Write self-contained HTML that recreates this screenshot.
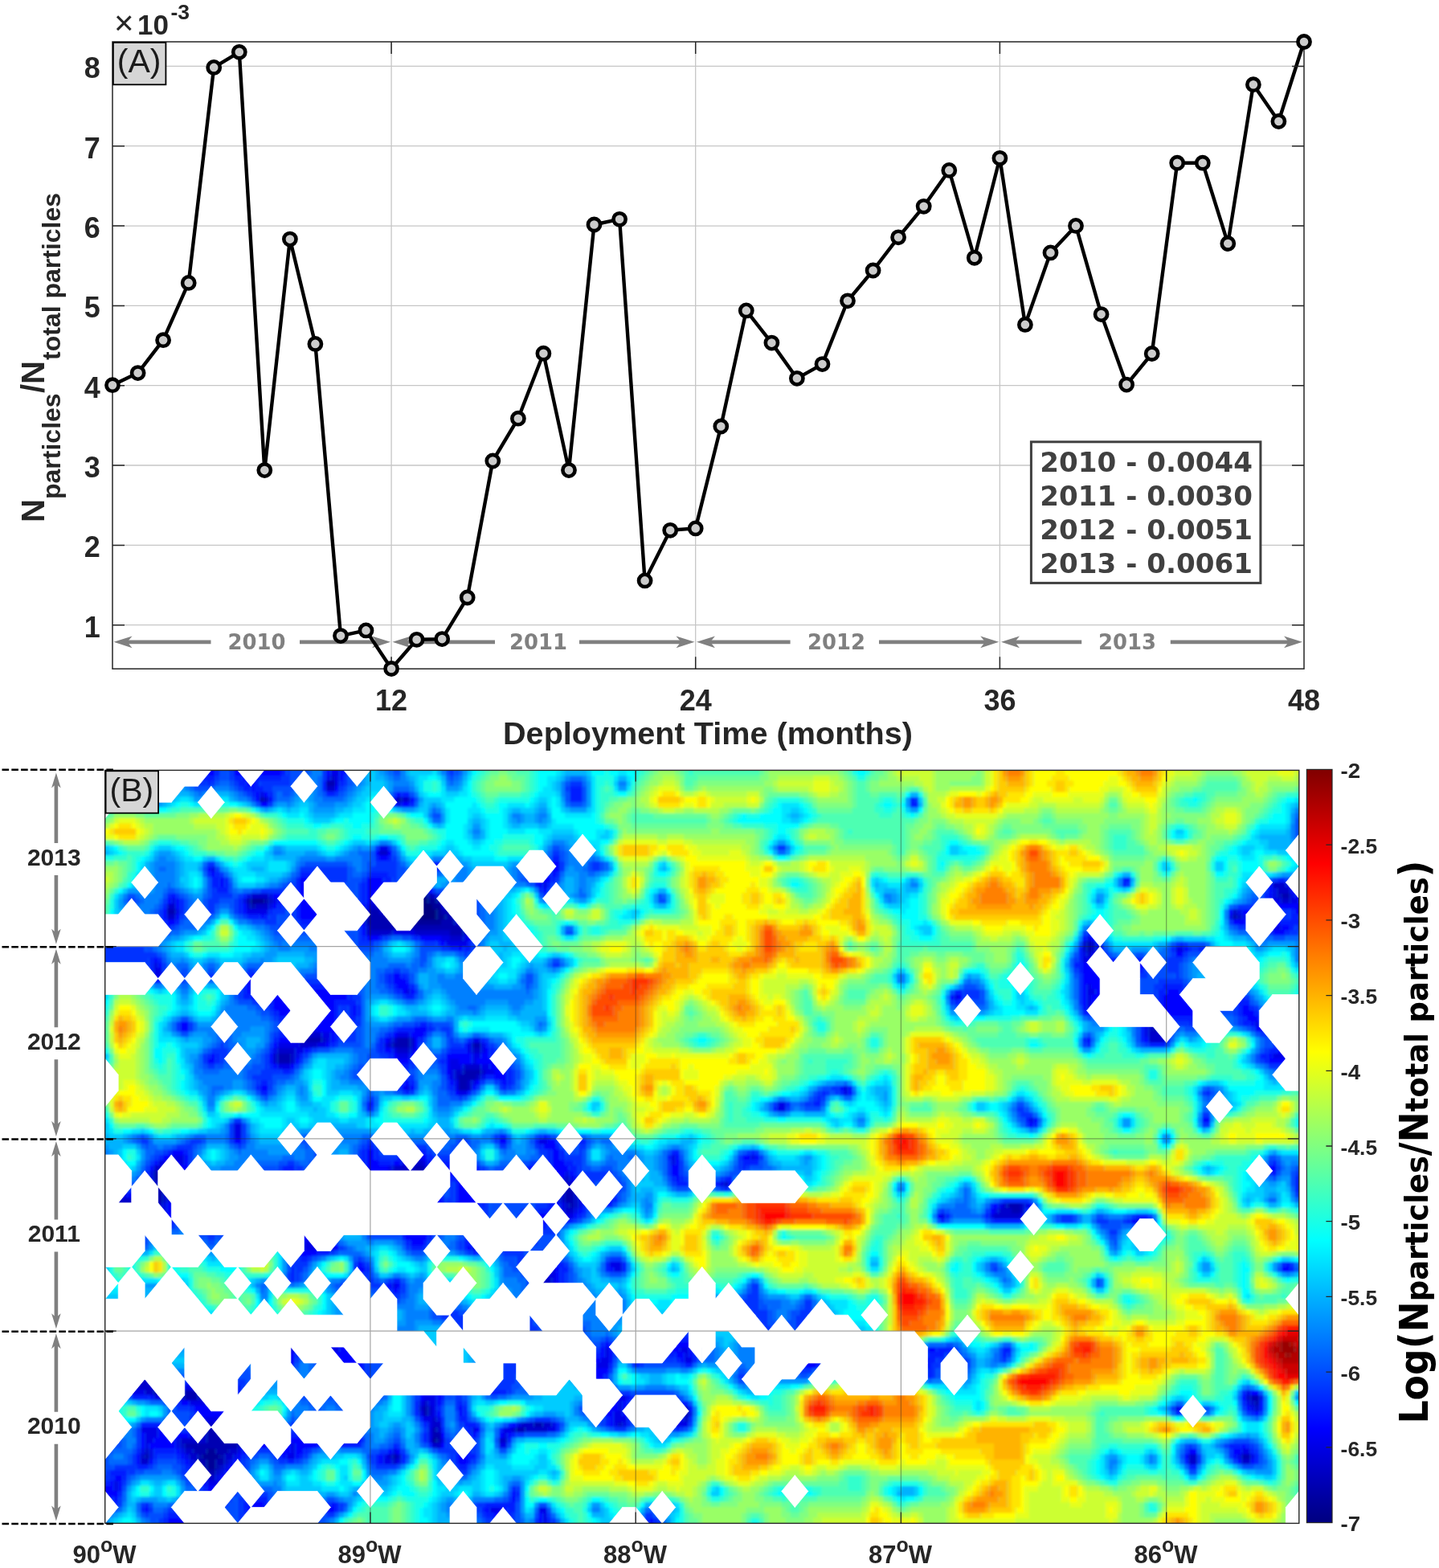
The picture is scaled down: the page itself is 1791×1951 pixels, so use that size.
<!DOCTYPE html>
<html lang="en"><head><meta charset="utf-8"><title>Figure</title><style>html,body{margin:0;padding:0;background:#fff}body{width:1791px;height:1951px;overflow:hidden}svg{display:block}</style></head><body>
<svg width="1791" height="1951" viewBox="0 0 1791 1951">
<rect width="100%" height="100%" fill="#fff"/>
<g id="panelA">
<path d="M140.0 777.7H1623.0M140.0 678.4H1623.0M140.0 579.0H1623.0M140.0 479.7H1623.0M140.0 380.4H1623.0M140.0 281.1H1623.0M140.0 181.7H1623.0M140.0 82.4H1623.0M487.1 52.0V832.2M865.7 52.0V832.2M1244.4 52.0V832.2" stroke="#c6c6c6" stroke-width="1.3" fill="none"/>
<path d="M141.5 798.8l23 -7.4l-6 7.4l6 7.4z" fill="#808080"/><path d="M486.0 798.8l-23 -7.4l6 7.4l-6 7.4z" fill="#808080"/><path d="M157.5 798.8H262.5M373.0 798.8H470.0" stroke="#808080" stroke-width="4.8" fill="none"/><text x="319.4" y="808.2" font-family="'DejaVu Sans','Liberation Sans',sans-serif" font-weight="bold" font-size="25.9" fill="#808080" text-anchor="middle" textLength="72" lengthAdjust="spacingAndGlyphs">2010</text>
<path d="M488.5 798.8l23 -7.4l-6 7.4l6 7.4z" fill="#808080"/><path d="M864.5 798.8l-23 -7.4l6 7.4l-6 7.4z" fill="#808080"/><path d="M504.5 798.8H616.0M721.0 798.8H848.5" stroke="#808080" stroke-width="4.8" fill="none"/><text x="670.0" y="808.2" font-family="'DejaVu Sans','Liberation Sans',sans-serif" font-weight="bold" font-size="25.9" fill="#808080" text-anchor="middle" textLength="72" lengthAdjust="spacingAndGlyphs">2011</text>
<path d="M867.0 798.8l23 -7.4l-6 7.4l6 7.4z" fill="#808080"/><path d="M1243.2 798.8l-23 -7.4l6 7.4l-6 7.4z" fill="#808080"/><path d="M883.0 798.8H983.6M1094.0 798.8H1227.2" stroke="#808080" stroke-width="4.8" fill="none"/><text x="1041.0" y="808.2" font-family="'DejaVu Sans','Liberation Sans',sans-serif" font-weight="bold" font-size="25.9" fill="#808080" text-anchor="middle" textLength="72" lengthAdjust="spacingAndGlyphs">2012</text>
<path d="M1246.0 798.8l23 -7.4l-6 7.4l6 7.4z" fill="#808080"/><path d="M1621.0 798.8l-23 -7.4l6 7.4l-6 7.4z" fill="#808080"/><path d="M1262.0 798.8H1346.2M1456.8 798.8H1605.0" stroke="#808080" stroke-width="4.8" fill="none"/><text x="1403.0" y="808.2" font-family="'DejaVu Sans','Liberation Sans',sans-serif" font-weight="bold" font-size="25.9" fill="#808080" text-anchor="middle" textLength="72" lengthAdjust="spacingAndGlyphs">2013</text>
<polyline points="140.0,479.2 171.6,464.1 203.1,423.2 234.7,351.9 266.2,83.9 297.8,64.8 329.3,585.1 360.9,297.6 392.4,427.9 424.0,791.1 455.5,784.4 487.1,832.0 518.6,795.8 550.2,795.1 581.7,743.5 613.3,573.5 644.9,520.7 676.4,439.7 708.0,585.1 739.5,279.5 771.1,272.8 802.6,722.4 834.2,659.8 865.7,657.4 897.3,530.5 928.8,386.4 960.4,426.6 991.9,470.8 1023.5,453.1 1055.0,374.3 1086.6,336.5 1118.1,295.3 1149.7,256.8 1181.3,211.9 1212.8,320.8 1244.4,196.8 1275.9,403.9 1307.5,314.4 1339.0,280.9 1370.6,391.1 1402.1,478.6 1433.7,440.0 1465.2,202.7 1496.8,202.7 1528.3,303.0 1559.9,105.2 1591.4,151.0 1623.0,52.0" fill="none" stroke="#000" stroke-width="4.4" stroke-linejoin="round"/>
<rect x="140.0" y="52.0" width="1483.0" height="780.2" fill="none" stroke="#262626" stroke-width="1.5"/>
<path d="M140.0 777.7h15M1623.0 777.7h-15M140.0 678.4h15M1623.0 678.4h-15M140.0 579.0h15M1623.0 579.0h-15M140.0 479.7h15M1623.0 479.7h-15M140.0 380.4h15M1623.0 380.4h-15M140.0 281.1h15M1623.0 281.1h-15M140.0 181.7h15M1623.0 181.7h-15M140.0 82.4h15M1623.0 82.4h-15M487.1 52.0v15M487.1 832.2v-15M865.7 52.0v15M865.7 832.2v-15M1244.4 52.0v15M1244.4 832.2v-15" stroke="#262626" stroke-width="1.5" fill="none"/>
<circle cx="140.0" cy="479.2" r="7.6" fill="#ccc" stroke="#000" stroke-width="4.6"/>
<circle cx="171.6" cy="464.1" r="7.6" fill="#ccc" stroke="#000" stroke-width="4.6"/>
<circle cx="203.1" cy="423.2" r="7.6" fill="#ccc" stroke="#000" stroke-width="4.6"/>
<circle cx="234.7" cy="351.9" r="7.6" fill="#ccc" stroke="#000" stroke-width="4.6"/>
<circle cx="266.2" cy="83.9" r="7.6" fill="#ccc" stroke="#000" stroke-width="4.6"/>
<circle cx="297.8" cy="64.8" r="7.6" fill="#ccc" stroke="#000" stroke-width="4.6"/>
<circle cx="329.3" cy="585.1" r="7.6" fill="#ccc" stroke="#000" stroke-width="4.6"/>
<circle cx="360.9" cy="297.6" r="7.6" fill="#ccc" stroke="#000" stroke-width="4.6"/>
<circle cx="392.4" cy="427.9" r="7.6" fill="#ccc" stroke="#000" stroke-width="4.6"/>
<circle cx="424.0" cy="791.1" r="7.6" fill="#ccc" stroke="#000" stroke-width="4.6"/>
<circle cx="455.5" cy="784.4" r="7.6" fill="#ccc" stroke="#000" stroke-width="4.6"/>
<circle cx="487.1" cy="832.0" r="7.6" fill="#ccc" stroke="#000" stroke-width="4.6"/>
<circle cx="518.6" cy="795.8" r="7.6" fill="#ccc" stroke="#000" stroke-width="4.6"/>
<circle cx="550.2" cy="795.1" r="7.6" fill="#ccc" stroke="#000" stroke-width="4.6"/>
<circle cx="581.7" cy="743.5" r="7.6" fill="#ccc" stroke="#000" stroke-width="4.6"/>
<circle cx="613.3" cy="573.5" r="7.6" fill="#ccc" stroke="#000" stroke-width="4.6"/>
<circle cx="644.9" cy="520.7" r="7.6" fill="#ccc" stroke="#000" stroke-width="4.6"/>
<circle cx="676.4" cy="439.7" r="7.6" fill="#ccc" stroke="#000" stroke-width="4.6"/>
<circle cx="708.0" cy="585.1" r="7.6" fill="#ccc" stroke="#000" stroke-width="4.6"/>
<circle cx="739.5" cy="279.5" r="7.6" fill="#ccc" stroke="#000" stroke-width="4.6"/>
<circle cx="771.1" cy="272.8" r="7.6" fill="#ccc" stroke="#000" stroke-width="4.6"/>
<circle cx="802.6" cy="722.4" r="7.6" fill="#ccc" stroke="#000" stroke-width="4.6"/>
<circle cx="834.2" cy="659.8" r="7.6" fill="#ccc" stroke="#000" stroke-width="4.6"/>
<circle cx="865.7" cy="657.4" r="7.6" fill="#ccc" stroke="#000" stroke-width="4.6"/>
<circle cx="897.3" cy="530.5" r="7.6" fill="#ccc" stroke="#000" stroke-width="4.6"/>
<circle cx="928.8" cy="386.4" r="7.6" fill="#ccc" stroke="#000" stroke-width="4.6"/>
<circle cx="960.4" cy="426.6" r="7.6" fill="#ccc" stroke="#000" stroke-width="4.6"/>
<circle cx="991.9" cy="470.8" r="7.6" fill="#ccc" stroke="#000" stroke-width="4.6"/>
<circle cx="1023.5" cy="453.1" r="7.6" fill="#ccc" stroke="#000" stroke-width="4.6"/>
<circle cx="1055.0" cy="374.3" r="7.6" fill="#ccc" stroke="#000" stroke-width="4.6"/>
<circle cx="1086.6" cy="336.5" r="7.6" fill="#ccc" stroke="#000" stroke-width="4.6"/>
<circle cx="1118.1" cy="295.3" r="7.6" fill="#ccc" stroke="#000" stroke-width="4.6"/>
<circle cx="1149.7" cy="256.8" r="7.6" fill="#ccc" stroke="#000" stroke-width="4.6"/>
<circle cx="1181.3" cy="211.9" r="7.6" fill="#ccc" stroke="#000" stroke-width="4.6"/>
<circle cx="1212.8" cy="320.8" r="7.6" fill="#ccc" stroke="#000" stroke-width="4.6"/>
<circle cx="1244.4" cy="196.8" r="7.6" fill="#ccc" stroke="#000" stroke-width="4.6"/>
<circle cx="1275.9" cy="403.9" r="7.6" fill="#ccc" stroke="#000" stroke-width="4.6"/>
<circle cx="1307.5" cy="314.4" r="7.6" fill="#ccc" stroke="#000" stroke-width="4.6"/>
<circle cx="1339.0" cy="280.9" r="7.6" fill="#ccc" stroke="#000" stroke-width="4.6"/>
<circle cx="1370.6" cy="391.1" r="7.6" fill="#ccc" stroke="#000" stroke-width="4.6"/>
<circle cx="1402.1" cy="478.6" r="7.6" fill="#ccc" stroke="#000" stroke-width="4.6"/>
<circle cx="1433.7" cy="440.0" r="7.6" fill="#ccc" stroke="#000" stroke-width="4.6"/>
<circle cx="1465.2" cy="202.7" r="7.6" fill="#ccc" stroke="#000" stroke-width="4.6"/>
<circle cx="1496.8" cy="202.7" r="7.6" fill="#ccc" stroke="#000" stroke-width="4.6"/>
<circle cx="1528.3" cy="303.0" r="7.6" fill="#ccc" stroke="#000" stroke-width="4.6"/>
<circle cx="1559.9" cy="105.2" r="7.6" fill="#ccc" stroke="#000" stroke-width="4.6"/>
<circle cx="1591.4" cy="151.0" r="7.6" fill="#ccc" stroke="#000" stroke-width="4.6"/>
<circle cx="1623.0" cy="52.0" r="7.6" fill="#ccc" stroke="#000" stroke-width="4.6"/>
<rect x="140.9" y="52.9" width="65.5" height="52.4" fill="#d6d6d6" stroke="#000" stroke-width="1.8"/>
<text x="173.2" y="90.3" font-family="'Liberation Sans',sans-serif" font-size="41" fill="#1a1a1a" text-anchor="middle">(A)</text>
<rect x="1283.4" y="549.8" width="285.5" height="175.6" fill="#fff" stroke="#404040" stroke-width="3"/>
<text x="1294.3" y="586.6" font-family="'DejaVu Sans','Liberation Sans',sans-serif" font-weight="bold" font-size="33.2" fill="#404040" textLength="264.7" lengthAdjust="spacingAndGlyphs">2010 - 0.0044</text>
<text x="1294.3" y="628.7" font-family="'DejaVu Sans','Liberation Sans',sans-serif" font-weight="bold" font-size="33.2" fill="#404040" textLength="264.7" lengthAdjust="spacingAndGlyphs">2011 - 0.0030</text>
<text x="1294.3" y="670.8" font-family="'DejaVu Sans','Liberation Sans',sans-serif" font-weight="bold" font-size="33.2" fill="#404040" textLength="264.7" lengthAdjust="spacingAndGlyphs">2012 - 0.0051</text>
<text x="1294.3" y="712.9" font-family="'DejaVu Sans','Liberation Sans',sans-serif" font-weight="bold" font-size="33.2" fill="#404040" textLength="264.7" lengthAdjust="spacingAndGlyphs">2013 - 0.0061</text>
<text x="124.8" y="792.7" font-family="'Liberation Sans',sans-serif" font-weight="bold" font-size="36" fill="#262626" text-anchor="end">1</text>
<text x="124.8" y="693.4" font-family="'Liberation Sans',sans-serif" font-weight="bold" font-size="36" fill="#262626" text-anchor="end">2</text>
<text x="124.8" y="594.0" font-family="'Liberation Sans',sans-serif" font-weight="bold" font-size="36" fill="#262626" text-anchor="end">3</text>
<text x="124.8" y="494.7" font-family="'Liberation Sans',sans-serif" font-weight="bold" font-size="36" fill="#262626" text-anchor="end">4</text>
<text x="124.8" y="395.4" font-family="'Liberation Sans',sans-serif" font-weight="bold" font-size="36" fill="#262626" text-anchor="end">5</text>
<text x="124.8" y="296.1" font-family="'Liberation Sans',sans-serif" font-weight="bold" font-size="36" fill="#262626" text-anchor="end">6</text>
<text x="124.8" y="196.7" font-family="'Liberation Sans',sans-serif" font-weight="bold" font-size="36" fill="#262626" text-anchor="end">7</text>
<text x="124.8" y="97.4" font-family="'Liberation Sans',sans-serif" font-weight="bold" font-size="36" fill="#262626" text-anchor="end">8</text>
<text x="487.1" y="883.6" font-family="'Liberation Sans',sans-serif" font-weight="bold" font-size="36" fill="#262626" text-anchor="middle">12</text>
<text x="865.7" y="883.6" font-family="'Liberation Sans',sans-serif" font-weight="bold" font-size="36" fill="#262626" text-anchor="middle">24</text>
<text x="1244.4" y="883.6" font-family="'Liberation Sans',sans-serif" font-weight="bold" font-size="36" fill="#262626" text-anchor="middle">36</text>
<text x="1623.0" y="883.6" font-family="'Liberation Sans',sans-serif" font-weight="bold" font-size="36" fill="#262626" text-anchor="middle">48</text>
<text x="142" y="43" font-family="'Liberation Sans',sans-serif" font-size="42" fill="#262626">×</text>
<text x="171" y="42.7" font-family="'Liberation Sans',sans-serif" font-weight="bold" font-size="35" fill="#262626">10</text>
<text x="212.5" y="23.5" font-family="'Liberation Sans',sans-serif" font-weight="bold" font-size="26.5" fill="#262626">-3</text>
<text x="881" y="926" font-family="'Liberation Sans',sans-serif" font-weight="bold" font-size="39.6" fill="#262626" text-anchor="middle" textLength="510" lengthAdjust="spacingAndGlyphs">Deployment Time (months)</text>
<g transform="translate(54.9 650) rotate(-90)" font-family="'Liberation Sans',sans-serif" font-weight="bold" fill="#262626"><text x="0" y="0" font-size="40">N</text><text x="29" y="20.5" font-size="32">particles</text><text x="161" y="0" font-size="40">/N</text><text x="202" y="20.5" font-size="32">total particles</text></g>
</g>
<g id="panelB">
<defs><clipPath id="hc"><rect x="130.7" y="958.4" width="1486.1" height="937.0000000000001"/></clipPath><filter id="hb" x="-5%" y="-5%" width="110%" height="110%"><feGaussianBlur stdDeviation="1.5"/></filter><linearGradient id="cb" x1="0" y1="1" x2="0" y2="0"><stop offset="0.0000" stop-color="#000080"/><stop offset="0.0312" stop-color="#00009f"/><stop offset="0.0625" stop-color="#0000bf"/><stop offset="0.0938" stop-color="#0000df"/><stop offset="0.1250" stop-color="#0000ff"/><stop offset="0.1562" stop-color="#0020ff"/><stop offset="0.1875" stop-color="#0040ff"/><stop offset="0.2188" stop-color="#0060ff"/><stop offset="0.2500" stop-color="#0080ff"/><stop offset="0.2812" stop-color="#009fff"/><stop offset="0.3125" stop-color="#00bfff"/><stop offset="0.3438" stop-color="#00dfff"/><stop offset="0.3750" stop-color="#00ffff"/><stop offset="0.4062" stop-color="#20ffdf"/><stop offset="0.4375" stop-color="#40ffbf"/><stop offset="0.4688" stop-color="#60ff9f"/><stop offset="0.5000" stop-color="#80ff80"/><stop offset="0.5312" stop-color="#9fff60"/><stop offset="0.5625" stop-color="#bfff40"/><stop offset="0.5938" stop-color="#dfff20"/><stop offset="0.6250" stop-color="#ffff00"/><stop offset="0.6562" stop-color="#ffdf00"/><stop offset="0.6875" stop-color="#ffbf00"/><stop offset="0.7188" stop-color="#ff9f00"/><stop offset="0.7500" stop-color="#ff8000"/><stop offset="0.7812" stop-color="#ff6000"/><stop offset="0.8125" stop-color="#ff4000"/><stop offset="0.8438" stop-color="#ff2000"/><stop offset="0.8750" stop-color="#ff0000"/><stop offset="0.9062" stop-color="#df0000"/><stop offset="0.9375" stop-color="#bf0000"/><stop offset="0.9688" stop-color="#9f0000"/><stop offset="1.0000" stop-color="#800000"/></linearGradient></defs>
<g clip-path="url(#hc)"><g filter="url(#hb)">
<rect x="90.69999999999999" y="918.4" width="1566.1" height="1017.0000000000001" fill="#4fd"/>
<g transform="translate(114.188 941.787) scale(5.50407 6.64539)" stroke-width="1.12" fill="none">
<path stroke="#000080" d="M74 27h2M74 28h3M74 29h4M74 30h4"/>
<path stroke="#000099" d="M74 26h2M36 27h3M73 27h1M76 27h2M72 28h2M77 28h2M72 29h2M78 29h1M71 30h3M78 30h2M71 31h8M0 81h3M6 111h3M77 128h1M26 130h2M25 131h4M26 132h2M26 133h2"/>
<path stroke="#0000b2" d="M53 5h2M38 8h1M69 8h1M73 26h1M76 26h1M269 26h2M35 27h1M39 27h1M71 27h2M78 27h1M36 28h1M71 28h1M17 29h2M63 29h2M70 29h2M79 29h2M62 30h9M80 30h2M258 30h1M62 31h9M79 31h3M63 32h21M81 33h3M225 35h1M225 36h1M240 51h1M47 53h5M69 53h3M68 54h4M86 54h2M42 56h3M42 57h3M84 59h4M83 60h4M83 61h2M83 62h2M73 77h2M14 78h2M68 78h7M14 79h2M69 79h6M15 80h1M71 80h3M3 81h1M14 81h2M107 81h2M0 82h4M14 82h2M107 82h2M0 83h5M14 83h2M107 83h2M0 84h10M108 84h1M207 84h3M0 85h8M208 85h2M0 86h7M102 99h1M5 111h1M9 111h1M6 112h4M8 113h4M9 114h3M10 115h2M11 116h1M26 117h1M14 119h2M21 119h3M21 120h3M262 120h2M263 121h1M75 122h1M75 123h1M134 123h1M100 125h2M26 126h2M77 126h1M96 126h2M26 127h3M77 127h2M26 128h7M78 128h1M21 129h12M23 130h3M28 130h3M12 131h1M24 131h1M29 131h1M68 131h1M260 131h2M24 132h2M28 132h2M25 133h1M28 133h1M26 134h2"/>
<path stroke="#0000cc" d="M54 4h1M53 6h2M39 8h1M70 8h2M65 18h2M267 24h3M74 25h1M268 25h3M36 26h4M71 26h2M77 26h1M268 26h1M40 27h1M70 27h1M269 27h2M17 28h2M35 28h1M37 28h3M63 28h3M69 28h2M79 28h1M62 29h1M65 29h5M81 29h1M258 29h1M17 30h2M82 30h2M259 30h1M82 31h2M62 32h1M84 32h1M62 33h6M73 33h8M84 33h1M81 34h3M224 35h1M226 35h1M224 36h1M226 36h1M225 37h1M239 50h2M239 51h1M47 52h5M239 52h3M52 53h1M68 53h1M72 53h1M239 53h4M47 54h4M67 54h1M72 54h1M42 55h4M69 55h3M86 55h2M41 56h1M45 56h1M41 57h1M45 57h1M84 58h4M82 59h2M88 59h1M82 60h1M87 60h1M85 61h1M85 62h1M73 76h2M14 77h2M68 77h5M75 77h1M16 78h1M67 78h1M75 78h1M16 79h1M67 79h2M75 79h1M107 79h1M0 80h3M14 80h1M16 80h2M68 80h3M74 80h2M106 80h3M143 80h1M4 81h1M16 81h2M69 81h6M106 81h1M109 81h1M4 82h1M13 82h1M16 82h1M71 82h2M106 82h1M109 82h1M5 83h6M13 83h1M16 83h1M106 83h1M109 83h1M10 84h6M107 84h1M109 84h1M206 84h1M210 84h1M8 85h3M107 85h2M205 85h3M210 85h1M7 86h2M204 86h6M0 87h7M101 98h3M101 99h1M103 99h1M6 110h3M10 111h1M5 112h1M10 112h2M5 113h3M12 113h1M6 114h3M12 114h1M7 115h3M12 115h1M9 116h2M12 116h1M26 116h2M10 117h4M27 117h1M10 118h5M25 118h3M12 119h2M20 119h1M24 119h2M20 120h1M24 120h2M261 120h1M75 121h1M262 121h1M74 122h1M76 122h1M134 122h1M263 122h1M76 123h1M77 124h1M134 124h1M26 125h4M77 125h2M97 125h3M102 125h2M119 125h1M25 126h1M28 126h3M78 126h1M95 126h1M98 126h5M24 127h2M29 127h3M20 128h6M33 128h1M92 128h2M20 129h1M33 129h1M77 129h2M12 130h1M21 130h2M31 130h2M11 131h1M22 131h2M30 131h2M67 131h1M69 131h1M248 131h2M11 132h2M23 132h1M30 132h1M68 132h1M248 132h2M260 132h2M24 133h1M29 133h1M25 134h1M28 134h1M26 135h2"/>
<path stroke="#0000e6" d="M54 3h2M53 4h1M55 4h1M55 5h1M38 7h1M68 8h1M69 9h1M65 17h2M27 21h1M102 24h1M270 24h1M72 25h2M75 25h1M267 25h1M35 26h1M40 26h1M70 26h1M78 26h1M267 26h1M271 26h1M18 27h1M34 27h1M41 27h1M63 27h4M69 27h1M79 27h1M267 27h2M271 27h2M40 28h1M62 28h1M66 28h3M80 28h2M19 29h1M35 29h5M61 29h1M82 29h2M259 29h1M61 30h1M84 30h1M257 30h1M260 30h1M61 31h1M84 31h1M267 32h2M68 33h5M79 34h2M84 34h1M225 34h1M80 35h5M227 36h1M245 36h2M224 37h1M226 37h2M224 38h2M14 39h1M230 39h1M14 40h2M14 41h2M36 43h1M225 43h1M36 44h1M71 44h1M225 44h2M230 44h1M195 45h1M225 45h1M225 46h1M225 47h1M239 49h2M47 50h2M241 50h1M263 50h1M46 51h5M238 51h1M241 51h1M46 52h1M52 52h2M69 52h3M238 52h1M242 52h1M46 53h1M53 53h1M67 53h1M86 53h2M42 54h5M51 54h2M66 54h1M85 54h1M88 54h1M273 54h3M41 55h1M46 55h2M68 55h1M72 55h1M85 55h1M88 55h1M272 55h4M46 56h1M69 56h3M86 56h2M267 56h9M81 57h2M86 57h1M42 58h3M81 58h3M88 58h2M81 59h1M89 59h2M81 60h1M88 60h1M82 61h1M86 61h1M71 62h1M82 62h1M170 62h1M83 63h2M170 63h1M155 65h2M155 66h2M212 68h1M32 69h2M32 70h2M32 71h2M101 72h2M18 75h3M73 75h2M131 75h1M149 75h1M15 76h6M70 76h3M75 76h1M131 76h1M16 77h2M67 77h1M76 77h1M13 78h1M17 78h2M66 78h1M76 78h1M107 78h1M13 79h1M17 79h3M66 79h1M76 79h1M105 79h2M108 79h1M3 80h1M13 80h1M18 80h2M64 80h4M76 80h1M105 80h1M109 80h1M142 80h1M273 80h3M13 81h1M18 81h2M65 81h4M75 81h2M105 81h1M273 81h3M5 82h3M12 82h1M17 82h3M68 82h3M73 82h3M105 82h1M110 82h1M11 83h2M17 83h1M70 83h4M105 83h1M110 83h1M16 84h1M106 84h1M110 84h1M205 84h1M211 84h1M11 85h6M106 85h1M109 85h1M204 85h1M9 86h4M45 86h1M107 86h2M192 86h1M203 86h1M210 86h1M7 87h2M10 87h2M50 87h1M236 87h2M48 91h4M48 92h7M86 92h1M117 95h3M104 96h1M118 96h2M101 97h4M104 98h1M68 99h1M104 99h1M101 100h4M5 110h1M9 110h1M4 111h1M11 111h1M42 111h4M54 111h2M116 111h1M133 111h2M164 111h4M4 112h1M43 112h2M116 112h1M134 112h1M163 112h3M4 113h1M44 113h1M115 113h2M134 113h2M162 113h3M5 114h1M13 114h1M114 114h3M6 115h1M13 115h1M6 116h3M13 116h1M28 116h1M8 117h2M14 117h1M25 117h1M28 117h1M9 118h1M15 118h1M21 118h4M28 118h1M9 119h3M16 119h1M26 119h2M261 119h1M14 120h2M26 120h1M75 120h3M119 120h2M264 120h1M22 121h4M74 121h1M76 121h2M119 121h1M261 121h1M77 122h1M119 122h1M133 122h1M245 122h1M262 122h1M74 123h1M77 123h1M118 123h2M133 123h1M135 123h1M25 124h5M75 124h2M78 124h1M118 124h3M133 124h1M24 125h2M30 125h1M76 125h1M96 125h1M104 125h1M118 125h1M120 125h1M132 125h3M11 126h4M24 126h1M31 126h1M76 126h1M86 126h1M93 126h2M103 126h2M12 127h3M22 127h2M32 127h1M76 127h1M93 127h1M12 128h2M19 128h1M34 128h1M57 128h3M76 128h1M79 128h1M12 129h1M19 129h1M34 129h1M45 129h1M92 129h2M11 130h1M13 130h1M20 130h1M33 130h1M45 130h1M68 130h1M260 130h2M13 131h1M21 131h1M32 131h1M44 131h2M66 131h1M259 131h1M262 131h1M22 132h1M31 132h1M66 132h2M69 132h1M23 133h1M30 133h1M24 134h1M29 134h1M25 135h1M28 135h1M5 136h1M26 136h3M5 137h1M38 141h1M90 141h3M101 141h2M102 142h1M102 143h1M18 144h1M41 144h1M102 144h1M126 144h1M18 145h1M41 145h1M102 145h1M126 145h1M18 146h1M41 146h1M102 146h1M126 146h1"/>
<path stroke="#0000ff" d="M26 0h2M32 0h3M37 0h6M54 0h4M26 1h2M32 1h3M37 1h6M54 1h4M26 2h2M32 2h3M37 2h6M54 2h4M26 3h2M32 3h3M38 3h5M53 3h1M56 3h1M34 4h3M56 4h1M35 5h2M36 6h1M55 6h1M37 7h1M39 7h1M69 7h1M37 8h1M40 8h1M72 8h1M38 9h2M70 9h2M64 18h1M67 18h1M65 19h2M104 20h2M26 21h1M104 21h2M27 22h1M104 22h1M29 23h1M47 23h2M62 23h4M101 23h3M29 24h1M47 24h3M62 24h5M72 24h3M101 24h1M266 24h1M271 24h1M47 25h3M62 25h5M70 25h2M76 25h1M102 25h1M266 25h1M271 25h1M18 26h1M41 26h2M47 26h4M62 26h6M69 26h1M79 26h1M266 26h1M272 26h4M17 27h1M19 27h1M42 27h1M47 27h5M62 27h1M67 27h2M80 27h1M266 27h1M273 27h3M19 28h1M34 28h1M41 28h1M47 28h5M61 28h1M82 28h1M266 28h10M16 29h1M34 29h1M47 29h6M60 29h1M84 29h1M257 29h1M260 29h2M266 29h2M272 29h4M16 30h1M19 30h1M38 30h1M47 30h5M60 30h1M261 30h1M266 30h2M273 30h3M17 31h2M85 31h1M258 31h3M266 31h3M61 32h1M85 32h1M266 32h1M269 32h2M61 33h1M85 33h1M267 33h3M62 34h3M74 34h5M85 34h1M224 34h1M226 34h1M79 35h1M227 35h1M83 36h1M228 36h1M247 36h1M228 37h1M245 37h2M14 38h1M226 38h3M15 39h1M224 39h6M231 39h1M236 39h2M224 40h8M36 41h1M68 41h2M224 41h8M35 42h2M56 42h1M68 42h3M224 42h8M35 43h1M37 43h1M54 43h4M69 43h3M224 43h1M226 43h6M35 44h1M37 44h1M42 44h1M50 44h8M70 44h1M72 44h1M224 44h1M227 44h3M231 44h1M243 44h3M36 45h1M40 45h6M49 45h9M194 45h1M196 45h1M224 45h1M226 45h5M242 45h5M41 46h6M48 46h7M224 46h1M226 46h1M242 46h6M41 47h14M59 47h1M224 47h1M241 47h9M260 47h2M42 48h13M59 48h1M239 48h11M260 48h3M44 49h11M238 49h1M241 49h2M261 49h3M20 50h2M44 50h3M49 50h6M238 50h1M242 50h1M262 50h1M264 50h1M20 51h2M44 51h2M51 51h4M73 51h3M242 51h1M263 51h2M44 52h2M54 52h1M68 52h1M72 52h3M42 53h4M54 53h1M66 53h1M73 53h1M225 53h1M238 53h1M243 53h1M272 53h4M41 54h1M53 54h1M73 54h1M270 54h3M48 55h1M66 55h2M73 55h1M89 55h1M268 55h4M27 56h1M40 56h1M68 56h1M72 56h1M80 56h6M88 56h2M266 56h1M26 57h2M40 57h1M46 57h1M69 57h3M80 57h1M83 57h3M87 57h4M266 57h6M41 58h1M45 58h1M80 58h1M90 58h2M80 59h1M91 59h3M91 60h3M71 61h1M81 61h1M87 61h1M93 61h1M38 62h2M70 62h1M72 62h1M86 62h1M169 62h1M171 62h1M82 63h1M171 63h1M213 68h1M251 68h2M212 69h1M32 72h2M92 72h2M103 72h2M102 73h3M18 74h3M62 74h2M104 74h2M16 75h2M21 75h1M62 75h2M71 75h2M75 75h1M104 75h2M132 75h1M147 75h2M150 75h1M14 76h1M21 76h1M62 76h3M68 76h2M76 76h1M104 76h3M132 76h1M13 77h1M18 77h4M62 77h5M80 77h2M86 77h1M99 77h1M104 77h4M131 77h2M266 77h2M19 78h3M44 78h2M62 78h4M77 78h1M79 78h3M85 78h3M98 78h2M104 78h3M108 78h1M131 78h2M267 78h1M20 79h2M61 79h5M77 79h1M85 79h3M103 79h2M109 79h1M132 79h1M273 79h3M4 80h1M12 80h1M20 80h2M59 80h5M77 80h1M83 80h4M103 80h2M110 80h1M141 80h1M144 80h1M5 81h1M11 81h2M20 81h2M59 81h6M77 81h1M83 81h4M103 81h2M110 81h1M8 82h4M20 82h2M64 82h4M76 82h2M83 82h4M104 82h1M111 82h1M18 83h4M66 83h4M74 83h5M83 83h5M104 83h1M111 83h1M116 83h2M17 84h4M45 84h1M68 84h10M83 84h5M105 84h1M204 84h1M212 84h1M17 85h3M45 85h4M71 85h5M105 85h1M110 85h1M203 85h1M13 86h6M44 86h1M46 86h5M101 86h2M106 86h1M109 86h1M191 86h1M9 87h1M12 87h2M45 87h5M74 87h1M101 87h2M235 87h1M238 87h2M0 88h6M46 88h6M71 88h5M47 89h5M71 89h5M47 90h5M71 90h5M47 91h1M52 91h2M72 91h3M86 91h2M47 92h1M55 92h1M85 92h1M87 92h1M47 93h4M60 95h1M104 95h1M270 95h1M60 96h2M101 96h3M105 96h1M117 96h1M269 96h2M100 97h1M105 97h1M100 98h1M105 98h1M67 99h1M69 99h1M100 99h1M105 99h1M68 100h1M105 100h1M101 101h5M103 102h2M10 110h1M42 110h3M54 110h5M116 110h1M131 110h5M164 110h4M41 111h1M46 111h1M53 111h1M56 111h5M115 111h1M117 111h1M131 111h2M135 111h1M161 111h3M189 111h2M3 112h1M12 112h1M42 112h1M45 112h1M53 112h8M115 112h1M117 112h1M132 112h2M135 112h1M161 112h2M166 112h1M0 113h4M13 113h1M43 113h1M45 113h1M54 113h7M113 113h2M117 113h1M123 113h2M133 113h1M161 113h1M165 113h1M3 114h2M44 114h1M54 114h7M113 114h1M161 114h3M5 115h1M26 115h2M56 115h4M113 115h4M5 116h1M14 116h1M25 116h1M113 116h3M6 117h2M15 117h1M24 117h1M29 117h1M76 117h3M114 117h1M8 118h1M16 118h1M20 118h1M29 118h1M75 118h4M8 119h1M19 119h1M28 119h2M31 119h2M75 119h4M262 119h2M13 120h1M16 120h1M19 120h1M27 120h6M74 120h1M78 120h1M118 120h1M121 120h1M260 120h1M20 121h2M26 121h5M78 121h1M118 121h1M120 121h1M264 121h1M23 122h7M83 122h1M117 122h2M120 122h1M135 122h1M246 122h1M261 122h1M264 122h1M24 123h7M78 123h1M83 123h1M116 123h2M120 123h1M132 123h1M263 123h1M23 124h2M30 124h1M117 124h1M132 124h1M23 125h1M31 125h1M95 125h1M117 125h1M131 125h1M15 126h2M23 126h1M32 126h1M87 126h1M11 127h1M15 127h2M19 127h3M33 127h1M57 127h2M79 127h1M86 127h1M92 127h1M94 127h1M11 128h1M14 128h5M44 128h8M56 128h1M60 128h1M11 129h1M13 129h6M35 129h1M37 129h3M43 129h2M46 129h5M79 129h1M260 129h1M19 130h1M34 130h1M43 130h2M46 130h2M67 130h1M69 130h1M248 130h2M258 130h2M10 131h1M20 131h1M33 131h1M43 131h1M46 131h1M65 131h1M83 131h2M247 131h1M258 131h1M10 132h1M13 132h1M21 132h1M32 132h1M65 132h1M83 132h2M259 132h1M262 132h1M22 133h1M31 133h2M23 134h1M30 134h2M5 135h2M24 135h1M29 135h2M4 136h1M6 136h1M25 136h1M29 136h1M0 137h5M6 137h1M26 137h4M0 138h6M26 138h2M95 138h1M5 139h1M95 139h1M36 140h3M54 140h1M12 141h1M35 141h3M39 141h1M53 141h2M89 141h1M93 141h1M36 142h4M91 142h3M101 142h1M17 143h8M37 143h5M101 143h1M126 143h1M17 144h1M19 144h6M38 144h3M42 144h1M101 144h1M103 144h1M125 144h1M127 144h1M17 145h1M19 145h6M38 145h3M42 145h1M101 145h1M103 145h1M125 145h1M127 145h1M17 146h1M19 146h6M38 146h3M42 146h1M101 146h1M103 146h1M125 146h1M127 146h1"/>
<path stroke="#001aff" d="M25 0h1M28 0h1M31 0h1M35 0h2M43 0h1M53 0h1M25 1h1M28 1h1M31 1h1M35 1h2M43 1h1M53 1h1M25 2h1M28 2h1M31 2h1M35 2h2M43 2h1M53 2h1M25 3h1M28 3h1M35 3h3M43 3h1M57 3h1M25 4h3M32 4h2M37 4h6M26 5h1M33 5h2M37 5h1M52 5h1M56 5h1M34 6h2M37 6h2M52 6h1M108 6h3M36 7h1M40 7h1M53 7h2M70 7h2M108 7h3M108 8h3M185 8h1M68 9h1M72 9h1M185 9h2M273 12h3M273 13h3M273 14h3M64 19h1M67 19h1M104 19h2M77 20h2M77 21h2M103 21h1M26 22h1M28 22h1M47 22h3M63 22h4M102 22h2M105 22h1M27 23h2M30 23h1M46 23h1M49 23h2M66 23h2M100 23h1M104 23h1M233 23h2M268 23h2M27 24h2M30 24h1M46 24h1M50 24h1M61 24h1M67 24h1M71 24h1M75 24h1M100 24h1M103 24h1M233 24h1M28 25h3M45 25h2M50 25h2M61 25h1M67 25h3M101 25h1M272 25h1M17 26h1M34 26h1M43 26h4M51 26h2M61 26h1M68 26h1M80 26h1M102 26h1M265 26h1M20 27h1M33 27h1M43 27h4M52 27h2M61 27h1M81 27h2M265 27h1M16 28h1M20 28h1M33 28h1M42 28h1M46 28h1M52 28h2M60 28h1M83 28h2M265 28h1M20 29h1M33 29h1M40 29h1M46 29h1M53 29h2M59 29h1M85 29h1M262 29h4M268 29h1M271 29h1M35 30h3M39 30h1M46 30h1M52 30h2M59 30h1M85 30h1M262 30h1M265 30h1M268 30h1M271 30h2M16 31h1M19 31h1M47 31h6M60 31h1M261 31h1M265 31h1M269 31h7M17 32h1M271 32h1M225 33h1M266 33h1M270 33h1M61 34h1M65 34h1M73 34h1M78 35h1M85 35h1M246 35h1M81 36h2M84 36h2M223 36h1M244 36h1M248 36h1M250 36h2M223 37h1M13 38h1M15 38h1M223 38h1M229 38h3M236 38h2M13 39h1M222 39h2M238 39h1M13 40h1M223 40h1M232 40h1M236 40h2M16 41h1M35 41h1M55 41h3M67 41h1M70 41h1M232 41h2M14 42h2M34 42h1M37 42h1M53 42h3M57 42h1M67 42h1M71 42h1M232 42h2M34 43h1M38 43h1M49 43h5M58 43h1M68 43h1M72 43h1M232 43h2M242 43h5M34 44h1M38 44h4M43 44h7M58 44h1M69 44h1M195 44h2M232 44h1M241 44h2M246 44h2M34 45h2M37 45h3M46 45h3M58 45h1M71 45h2M231 45h1M241 45h1M247 45h1M258 45h3M39 46h2M47 46h1M55 46h5M195 46h1M227 46h1M240 46h2M248 46h2M259 46h3M40 47h1M55 47h1M58 47h1M60 47h1M226 47h1M239 47h2M250 47h2M259 47h1M262 47h1M41 48h1M55 48h1M58 48h1M60 48h1M224 48h2M238 48h1M250 48h2M259 48h1M263 48h1M42 49h2M55 49h1M58 49h2M243 49h7M260 49h1M264 49h1M43 50h1M55 50h2M74 50h2M237 50h1M243 50h1M248 50h1M260 50h2M265 50h1M43 51h1M55 51h2M69 51h4M76 51h1M237 51h1M243 51h1M265 51h1M42 52h2M55 52h2M67 52h1M75 52h1M237 52h1M243 52h1M269 52h2M41 53h1M55 53h1M65 53h1M74 53h1M85 53h1M88 53h1M224 53h1M237 53h1M269 53h3M54 54h1M65 54h1M84 54h1M89 54h1M225 54h1M239 54h4M268 54h2M40 55h1M49 55h1M65 55h1M81 55h4M90 55h1M266 55h2M26 56h1M28 56h1M47 56h1M67 56h1M73 56h1M90 56h1M264 56h2M28 57h1M67 57h2M72 57h1M79 57h1M91 57h1M265 57h1M272 57h4M40 58h1M68 58h4M92 58h2M43 59h2M94 59h1M80 60h1M89 60h2M94 60h1M38 61h2M69 61h2M72 61h1M92 61h1M94 61h1M37 62h1M69 62h1M81 62h1M93 62h1M38 63h2M71 63h1M85 63h1M165 63h1M169 63h1M252 63h1M164 64h1M62 65h2M157 65h1M163 65h2M62 66h1M154 66h1M211 68h1M213 69h1M92 71h2M102 71h1M100 72h1M110 72h2M62 73h2M101 73h1M105 73h1M17 74h1M21 74h1M61 74h1M64 74h1M72 74h4M103 74h1M106 74h1M131 74h2M149 74h1M15 75h1M61 75h1M64 75h1M69 75h2M76 75h1M103 75h1M106 75h1M130 75h1M61 76h1M65 76h3M77 76h1M79 76h3M103 76h1M107 76h2M147 76h4M267 76h1M43 77h3M61 77h1M77 77h3M82 77h1M85 77h1M87 77h1M98 77h1M100 77h1M102 77h2M108 77h2M147 77h1M12 78h1M43 78h1M46 78h1M61 78h1M78 78h1M82 78h3M88 78h1M97 78h1M100 78h4M109 78h1M266 78h1M273 78h3M12 79h1M43 79h4M59 79h2M78 79h7M88 79h1M98 79h5M110 79h1M131 79h1M133 79h1M143 79h2M272 79h1M11 80h1M22 80h1M44 80h4M78 80h1M82 80h1M87 80h2M99 80h4M111 80h1M132 80h3M272 80h1M6 81h2M10 81h1M22 81h1M45 81h4M78 81h1M82 81h1M87 81h2M101 81h2M111 81h1M143 81h1M272 81h1M22 82h1M41 82h8M60 82h4M78 82h1M82 82h1M87 82h2M103 82h1M116 82h2M273 82h3M22 83h1M41 83h8M63 83h3M79 83h1M82 83h1M88 83h1M103 83h1M115 83h1M118 83h1M21 84h2M43 84h2M46 84h4M65 84h3M78 84h2M82 84h1M88 84h1M103 84h2M111 84h1M116 84h2M203 84h1M20 85h2M44 85h1M49 85h2M67 85h4M76 85h3M83 85h5M101 85h4M111 85h1M211 85h1M19 86h1M51 86h1M69 86h8M85 86h3M100 86h1M103 86h3M110 86h1M193 86h1M202 86h1M236 86h3M14 87h5M44 87h1M51 87h1M70 87h4M75 87h2M100 87h1M103 87h1M106 87h3M192 87h1M204 87h6M234 87h1M6 88h7M45 88h1M70 88h1M76 88h1M101 88h2M32 89h1M46 89h1M52 89h1M70 89h1M76 89h1M46 90h1M52 90h2M70 90h1M76 90h1M86 90h2M54 91h1M71 91h1M75 91h1M84 91h2M72 92h3M84 92h1M51 93h3M86 93h1M47 94h2M61 95h1M101 95h3M105 95h2M116 95h1M120 95h1M269 95h1M45 96h1M62 96h1M100 96h1M106 96h2M116 96h1M120 96h1M271 96h1M45 97h1M106 97h1M45 98h1M68 98h2M106 98h1M66 99h1M106 99h1M67 100h1M69 100h1M100 100h1M106 100h1M100 101h1M106 101h1M101 102h2M105 102h1M102 103h4M56 109h4M131 109h5M4 110h1M11 110h1M41 110h1M45 110h2M53 110h1M59 110h3M115 110h1M117 110h1M130 110h1M158 110h6M168 110h1M3 111h1M12 111h1M47 111h1M52 111h1M61 111h2M118 111h1M126 111h2M129 111h2M136 111h1M159 111h2M168 111h1M191 111h4M206 111h2M0 112h3M41 112h1M46 112h1M52 112h1M61 112h1M113 112h2M123 112h3M130 112h2M136 112h1M160 112h1M167 112h1M189 112h4M206 112h1M41 113h2M52 113h2M61 113h1M112 113h1M122 113h1M125 113h1M132 113h1M136 113h1M160 113h1M166 113h1M188 113h3M0 114h3M14 114h1M27 114h1M43 114h1M45 114h1M53 114h1M61 114h1M112 114h1M117 114h1M123 114h1M134 114h2M164 114h1M188 114h2M4 115h1M14 115h1M25 115h1M28 115h2M53 115h3M60 115h2M112 115h1M189 115h1M15 116h1M24 116h1M29 116h1M54 116h7M77 116h1M116 116h1M189 116h1M16 117h1M21 117h3M30 117h1M55 117h5M74 117h2M79 117h1M113 117h1M115 117h1M7 118h1M19 118h1M30 118h4M74 118h1M79 118h1M114 118h1M17 119h2M30 119h1M33 119h1M74 119h1M79 119h1M90 119h4M119 119h1M260 119h1M9 120h4M18 120h1M33 120h1M79 120h1M117 120h1M122 120h1M19 121h1M31 121h2M73 121h1M83 121h1M116 121h2M121 121h1M133 121h2M260 121h1M22 122h1M30 122h2M73 122h1M78 122h1M84 122h1M116 122h1M121 122h1M132 122h1M23 123h1M31 123h1M73 123h1M84 123h1M121 123h1M245 123h1M262 123h1M22 124h1M31 124h1M74 124h1M83 124h2M116 124h1M121 124h1M131 124h1M135 124h1M11 125h5M22 125h1M32 125h1M75 125h1M84 125h3M94 125h1M105 125h1M116 125h1M121 125h1M17 126h1M22 126h1M33 126h1M56 126h2M79 126h1M85 126h1M92 126h1M105 126h1M132 126h1M17 127h2M34 127h1M44 127h8M56 127h1M59 127h2M75 127h1M85 127h1M95 127h1M35 128h6M43 128h1M75 128h1M94 128h1M36 129h1M40 129h3M51 129h1M56 129h5M68 129h1M76 129h1M257 129h3M261 129h1M10 130h1M14 130h5M35 130h1M42 130h1M48 130h1M83 130h3M262 130h1M14 131h1M19 131h1M34 131h1M42 131h1M47 131h1M64 131h1M70 131h1M82 131h1M85 131h2M263 131h1M20 132h1M33 132h1M44 132h2M64 132h1M70 132h1M82 132h1M85 132h1M247 132h1M263 132h1M10 133h3M21 133h1M33 133h1M83 133h2M248 133h2M4 134h4M22 134h1M32 134h1M4 135h1M7 135h1M23 135h1M31 135h2M0 136h4M24 136h1M30 136h2M25 137h1M30 137h1M95 137h1M6 138h1M25 138h1M28 138h3M96 138h1M3 139h2M26 139h3M36 139h4M5 140h1M12 140h1M26 140h1M34 140h2M39 140h1M53 140h1M55 140h1M89 140h7M11 141h1M34 141h1M40 141h1M55 141h1M88 141h1M94 141h2M17 142h3M22 142h4M35 142h1M40 142h2M89 142h2M94 142h1M16 143h1M25 143h1M35 143h2M42 143h1M91 143h3M103 143h1M125 143h1M127 143h1M16 144h1M25 144h1M36 144h2M104 144h1M128 144h1M16 145h1M25 145h1M36 145h2M104 145h1M128 145h1M16 146h1M25 146h1M36 146h2M104 146h1M128 146h1"/>
<path stroke="#0033ff" d="M24 0h1M29 0h2M44 0h1M46 0h2M58 0h1M68 0h1M80 0h2M24 1h1M29 1h2M44 1h1M46 1h2M58 1h1M68 1h1M80 1h2M24 2h1M29 2h2M44 2h1M46 2h2M58 2h1M68 2h1M80 2h2M24 3h1M31 3h1M44 3h1M52 3h1M58 3h1M81 3h1M23 4h2M28 4h1M31 4h1M43 4h2M52 4h1M57 4h1M23 5h3M27 5h1M32 5h1M38 5h7M57 5h1M108 5h3M33 6h1M39 6h2M56 6h1M107 6h1M35 7h1M55 7h1M68 7h1M36 8h1M186 8h1M40 9h1M273 11h3M273 15h3M64 17h1M67 17h1M155 17h2M104 18h2M68 19h1M26 20h2M64 20h5M103 20h1M106 20h1M113 20h2M28 21h1M47 21h11M63 21h6M102 21h1M106 21h1M113 21h2M29 22h1M50 22h8M62 22h1M67 22h2M100 22h2M51 23h7M61 23h1M68 23h1M70 23h5M98 23h2M105 23h1M267 23h1M270 23h1M44 24h2M51 24h6M60 24h1M68 24h3M104 24h1M234 24h1M265 24h1M272 24h1M27 25h1M38 25h7M52 25h5M60 25h1M77 25h1M103 25h1M265 25h1M273 25h3M19 26h1M27 26h5M33 26h1M53 26h4M60 26h1M81 26h2M8 27h2M16 27h1M26 27h3M32 27h1M54 27h3M60 27h1M83 27h4M264 27h1M26 28h2M32 28h1M43 28h3M54 28h6M85 28h2M259 28h6M15 29h1M26 29h2M32 29h1M41 29h3M45 29h1M55 29h4M86 29h1M269 29h2M15 30h1M20 30h1M34 30h1M40 30h2M45 30h1M54 30h5M86 30h1M263 30h2M269 30h2M15 31h1M39 31h3M46 31h1M53 31h7M86 31h1M257 31h1M262 31h1M264 31h1M16 32h1M18 32h1M42 32h1M46 32h10M60 32h1M86 32h1M259 32h3M265 32h1M272 32h4M60 33h1M86 33h1M224 33h1M265 33h1M271 33h2M57 34h1M60 34h1M66 34h1M72 34h1M86 34h1M227 34h1M57 35h2M60 35h4M75 35h3M86 35h1M228 35h1M245 35h1M247 35h1M0 36h12M57 36h1M79 36h2M86 36h1M249 36h1M0 37h15M84 37h1M229 37h1M244 37h1M247 37h1M0 38h13M222 38h1M235 38h1M238 38h1M243 38h4M12 39h1M16 39h1M56 39h2M104 39h2M232 39h1M235 39h1M243 39h3M16 40h1M35 40h2M55 40h3M68 40h2M222 40h1M233 40h3M238 40h1M243 40h3M13 41h1M20 41h1M26 41h2M34 41h1M37 41h1M52 41h3M58 41h1M66 41h1M71 41h1M223 41h1M234 41h5M245 41h1M20 42h1M38 42h1M47 42h6M58 42h1M66 42h1M223 42h1M234 42h3M241 42h6M257 42h2M33 43h1M39 43h4M46 43h3M59 43h1M67 43h1M223 43h1M234 43h3M240 43h2M247 43h1M257 43h2M33 44h1M59 44h1M68 44h1M73 44h1M197 44h4M223 44h1M233 44h4M240 44h1M248 44h1M257 44h3M33 45h1M59 45h2M70 45h1M197 45h4M223 45h1M232 45h1M237 45h4M248 45h2M257 45h1M261 45h1M36 46h3M60 46h1M194 46h1M196 46h1M223 46h1M228 46h2M237 46h3M250 46h3M256 46h3M39 47h1M56 47h2M227 47h1M237 47h2M252 47h7M263 47h1M40 48h1M56 48h2M226 48h1M237 48h1M252 48h2M258 48h1M264 48h1M41 49h1M56 49h2M60 49h1M237 49h1M250 49h1M259 49h1M265 49h1M19 50h1M22 50h1M42 50h1M57 50h4M73 50h1M76 50h1M244 50h4M249 50h1M259 50h1M266 50h1M19 51h1M22 51h1M42 51h1M57 51h3M68 51h1M77 51h1M79 51h2M244 51h1M262 51h1M266 51h5M41 52h1M57 52h3M66 52h1M80 52h1M264 52h5M271 52h5M56 53h4M81 53h1M89 53h1M267 53h2M29 54h1M40 54h1M55 54h1M64 54h1M74 54h1M81 54h3M90 54h1M224 54h1M238 54h1M267 54h1M27 55h4M50 55h1M64 55h1M74 55h1M80 55h1M91 55h1M265 55h1M25 56h1M29 56h2M39 56h1M48 56h1M65 56h2M74 56h1M79 56h1M91 56h1M25 57h1M29 57h1M39 57h1M47 57h1M66 57h1M73 57h1M78 57h1M92 57h1M264 57h1M26 58h2M39 58h1M46 58h1M66 58h2M72 58h1M79 58h1M94 58h1M266 58h3M38 59h5M45 59h1M60 59h1M67 59h5M79 59h1M95 59h1M36 60h5M67 60h6M95 60h1M37 61h1M40 61h1M68 61h1M80 61h1M88 61h1M91 61h1M95 61h1M40 62h1M68 62h1M80 62h1M87 62h1M92 62h1M94 62h1M167 62h2M70 63h1M72 63h1M81 63h1M164 63h1M166 63h1M168 63h1M251 63h1M63 64h1M83 64h1M163 64h1M165 64h1M154 65h1M161 65h2M63 66h1M157 66h1M209 66h2M210 67h3M251 67h2M32 68h2M31 69h1M34 69h1M211 69h1M251 69h2M31 70h1M34 70h1M31 71h1M34 71h1M91 71h1M101 71h1M103 71h1M11 72h2M22 72h3M31 72h1M34 72h1M62 72h2M83 72h2M91 72h1M105 72h1M19 73h4M33 73h1M61 73h1M64 73h1M73 73h3M83 73h2M92 73h2M100 73h1M110 73h2M16 74h1M22 74h1M60 74h1M70 74h2M76 74h1M101 74h2M110 74h1M148 74h1M150 74h1M14 75h1M22 75h1M60 75h1M65 75h4M77 75h6M102 75h1M107 75h4M146 75h1M151 75h1M13 76h1M22 76h1M44 76h2M60 76h1M78 76h1M82 76h5M99 76h4M109 76h2M130 76h1M133 76h1M146 76h1M266 76h1M12 77h1M22 77h1M42 77h1M46 77h2M60 77h1M83 77h2M88 77h1M97 77h1M101 77h1M110 77h1M130 77h1M133 77h1M146 77h1M148 77h1M268 77h1M22 78h1M39 78h4M47 78h2M60 78h1M89 78h5M110 78h8M130 78h1M133 78h1M272 78h1M0 79h4M11 79h1M22 79h1M39 79h4M47 79h3M89 79h5M96 79h2M111 79h6M134 79h1M142 79h1M5 80h2M10 80h1M23 80h1M39 80h5M48 80h3M58 80h1M79 80h3M89 80h10M112 80h2M119 80h1M131 80h1M140 80h1M8 81h2M23 81h1M39 81h6M49 81h2M58 81h1M79 81h1M81 81h1M89 81h12M112 81h2M115 81h5M142 81h1M23 82h1M38 82h3M49 82h2M59 82h1M79 82h1M81 82h1M89 82h14M112 82h1M115 82h1M118 82h1M272 82h1M23 83h1M38 83h3M49 83h2M61 83h2M80 83h2M89 83h1M94 83h3M102 83h1M112 83h1M206 83h6M23 84h1M41 84h2M50 84h2M63 84h2M80 84h2M89 84h1M100 84h3M112 84h1M22 85h1M43 85h1M51 85h1M64 85h3M79 85h4M88 85h2M97 85h4M192 85h1M202 85h1M20 86h2M31 86h2M43 86h1M66 86h3M77 86h8M88 86h2M96 86h4M111 86h1M211 86h1M219 86h3M235 86h1M239 86h1M19 87h1M26 87h8M66 87h4M77 87h3M82 87h10M96 87h4M104 87h2M109 87h1M203 87h1M210 87h1M219 87h3M227 87h3M233 87h1M13 88h2M16 88h3M25 88h9M44 88h1M52 88h1M65 88h5M77 88h1M84 88h11M96 88h5M103 88h2M236 88h2M10 89h3M24 89h8M33 89h1M45 89h1M63 89h7M77 89h1M84 89h11M96 89h9M230 89h2M26 90h2M54 90h1M84 90h2M88 90h13M46 91h1M55 91h1M76 91h1M83 91h1M88 91h1M93 91h8M46 92h1M56 92h1M71 92h1M75 92h1M83 92h1M88 92h1M93 92h6M46 93h1M54 93h1M85 93h1M87 93h1M93 93h5M99 93h4M45 94h2M49 94h1M60 94h1M96 94h10M117 94h3M45 95h4M59 95h1M62 95h1M96 95h5M107 95h1M271 95h1M46 96h2M59 96h1M98 96h2M204 96h1M44 97h1M46 97h1M60 97h3M99 97h1M107 97h1M44 98h1M46 98h1M62 98h2M67 98h1M99 98h1M107 98h1M56 99h2M63 99h3M70 99h1M99 99h1M107 99h1M149 99h2M66 100h1M70 100h1M99 100h1M107 100h1M149 100h2M67 101h3M99 101h1M107 101h1M148 101h3M99 102h2M106 102h1M147 102h4M161 102h2M99 103h3M106 103h1M147 103h4M161 103h2M78 104h5M99 104h7M149 104h4M160 104h3M79 105h6M99 105h1M150 105h3M159 105h3M82 106h3M98 106h2M104 106h1M151 106h2M159 106h3M83 107h2M96 107h5M103 107h2M152 107h2M159 107h3M57 108h4M96 108h9M110 108h1M130 108h6M158 108h4M6 109h3M42 109h2M53 109h3M60 109h3M95 109h11M110 109h2M116 109h1M129 109h2M136 109h1M156 109h9M3 110h1M47 110h2M52 110h1M62 110h2M94 110h18M118 110h1M126 110h4M136 110h1M156 110h2M0 111h3M40 111h1M48 111h4M63 111h2M92 111h9M110 111h5M124 111h2M128 111h1M156 111h3M188 111h1M195 111h1M13 112h1M40 112h1M51 112h1M62 112h3M92 112h8M111 112h2M118 112h1M122 112h1M126 112h4M159 112h1M168 112h1M188 112h1M193 112h2M207 112h1M14 113h1M46 113h1M51 113h1M62 113h7M93 113h6M111 113h1M126 113h6M186 113h2M191 113h2M197 113h1M206 113h1M26 114h1M28 114h3M41 114h2M51 114h2M62 114h1M68 114h1M93 114h5M111 114h1M122 114h1M124 114h1M133 114h1M160 114h1M165 114h1M186 114h2M190 114h2M197 114h1M3 115h1M15 115h1M30 115h2M43 115h3M52 115h1M62 115h1M93 115h4M117 115h1M160 115h3M188 115h1M190 115h1M4 116h1M16 116h1M23 116h1M30 116h3M52 116h2M61 116h2M75 116h2M78 116h2M93 116h3M112 116h1M146 116h2M188 116h1M190 116h1M5 117h1M17 117h4M31 117h4M53 117h2M60 117h2M80 117h1M92 117h4M112 117h1M116 117h1M17 118h2M34 118h1M53 118h8M80 118h1M90 118h5M113 118h1M115 118h2M34 119h1M53 119h2M65 119h1M73 119h1M80 119h1M82 119h2M89 119h1M94 119h1M114 119h5M120 119h2M17 120h1M73 120h1M82 120h2M115 120h2M123 120h10M18 121h1M33 121h1M79 121h1M82 121h1M84 121h1M115 121h1M122 121h3M128 121h5M19 122h3M32 122h1M82 122h1M115 122h1M122 122h1M130 122h2M244 122h1M260 122h1M22 123h1M115 123h1M122 123h1M130 123h2M246 123h1M261 123h1M264 123h1M18 124h1M32 124h1M56 124h2M79 124h1M100 124h4M115 124h1M16 125h3M33 125h1M45 125h1M50 125h9M79 125h1M83 125h1M87 125h1M115 125h1M135 125h1M10 126h1M18 126h4M34 126h1M44 126h12M58 126h2M75 126h1M84 126h1M118 126h3M131 126h1M133 126h1M10 127h1M35 127h1M43 127h1M52 127h1M55 127h1M84 127h1M87 127h1M96 127h2M10 128h1M41 128h2M52 128h1M55 128h1M61 128h1M80 128h1M83 128h4M10 129h1M69 129h1M80 129h1M82 129h5M248 129h1M256 129h1M262 129h1M36 130h6M49 130h1M65 130h2M70 130h1M78 130h5M86 130h1M247 130h1M257 130h1M263 130h1M9 131h1M15 131h4M35 131h1M41 131h1M48 131h1M63 131h1M81 131h1M250 131h1M257 131h1M0 132h3M9 132h1M14 132h1M19 132h1M34 132h1M42 132h2M46 132h1M63 132h1M81 132h1M86 132h1M250 132h1M258 132h1M5 133h5M13 133h1M20 133h1M34 133h1M64 133h5M82 133h1M3 134h1M8 134h2M20 134h2M33 134h1M83 134h2M0 135h4M21 135h2M33 135h1M7 136h1M23 136h1M32 136h2M24 137h1M31 137h2M96 137h1M24 138h1M31 138h2M36 138h4M0 139h3M6 139h1M24 139h2M29 139h3M33 139h3M94 139h1M96 139h1M4 140h1M6 140h1M11 140h1M23 140h3M27 140h4M33 140h1M40 140h1M56 140h1M87 140h2M13 141h1M17 141h3M22 141h7M33 141h1M52 141h1M56 141h1M87 141h1M12 142h1M16 142h1M20 142h2M26 142h3M33 142h2M42 142h1M53 142h2M88 142h1M95 142h1M103 142h1M125 142h2M15 143h1M26 143h1M33 143h2M43 143h1M89 143h2M94 143h2M100 143h1M104 143h1M128 143h1M15 144h1M26 144h1M33 144h3M43 144h1M47 144h4M90 144h6M100 144h1M15 145h1M26 145h1M33 145h3M43 145h1M47 145h4M90 145h6M100 145h1M15 146h1M26 146h1M33 146h3M43 146h1M47 146h4M90 146h6M100 146h1"/>
<path stroke="#004dff" d="M21 0h3M45 0h1M48 0h1M52 0h1M67 0h1M69 0h1M82 0h1M21 1h3M45 1h1M48 1h1M52 1h1M67 1h1M69 1h1M82 1h1M21 2h3M45 2h1M48 2h1M52 2h1M67 2h1M69 2h1M82 2h1M22 3h2M29 3h2M45 3h4M68 3h2M80 3h1M82 3h1M22 4h1M29 4h2M45 4h3M58 4h1M81 4h1M22 5h1M28 5h1M31 5h1M45 5h2M58 5h1M107 5h1M23 6h4M32 6h1M41 6h5M57 6h1M111 6h1M34 7h1M41 7h1M43 7h2M52 7h1M56 7h1M72 7h1M107 7h1M111 7h1M41 8h1M67 8h1M73 8h1M107 8h1M111 8h1M37 9h1M108 9h3M77 11h2M272 12h1M272 13h1M272 14h1M272 15h1M104 17h2M63 18h1M68 18h1M106 18h1M63 19h1M103 19h1M106 19h1M48 20h10M62 20h2M69 20h1M79 20h1M112 20h1M115 20h1M25 21h1M58 21h1M62 21h1M69 21h2M76 21h1M79 21h1M101 21h1M112 21h1M115 21h1M46 22h1M58 22h1M61 22h1M69 22h4M99 22h1M26 23h1M45 23h1M58 23h3M69 23h1M75 23h1M97 23h1M266 23h1M271 23h1M26 24h1M31 24h1M43 24h1M57 24h3M99 24h1M273 24h3M17 25h2M26 25h1M31 25h1M36 25h2M57 25h3M78 25h4M8 26h2M16 26h1M20 26h1M26 26h1M32 26h1M57 26h3M83 26h5M101 26h1M128 26h1M264 26h1M10 27h1M21 27h1M25 27h1M29 27h3M57 27h3M87 27h2M128 27h2M262 27h2M15 28h1M21 28h1M25 28h1M28 28h1M31 28h1M87 28h1M258 28h1M14 29h1M21 29h2M25 29h1M44 29h1M87 29h1M14 30h1M21 30h1M25 30h2M33 30h1M42 30h3M87 30h1M14 31h1M20 31h1M36 31h3M42 31h4M87 31h1M263 31h1M13 32h3M19 32h1M40 32h2M43 32h3M56 32h4M87 32h1M258 32h1M262 32h1M264 32h1M10 33h4M15 33h3M41 33h19M87 33h1M107 33h2M226 33h1M273 33h3M7 34h6M54 34h3M58 34h2M67 34h1M70 34h2M87 34h1M267 34h3M0 35h13M55 35h2M59 35h1M64 35h1M74 35h1M87 35h1M223 35h1M244 35h1M248 35h4M12 36h2M55 36h2M58 36h6M74 36h5M87 36h1M229 36h1M243 36h1M252 36h1M15 37h1M55 37h6M74 37h2M83 37h1M85 37h2M222 37h1M230 37h1M236 37h2M243 37h1M248 37h4M16 38h1M55 38h4M74 38h2M104 38h2M232 38h1M241 38h2M247 38h1M0 39h12M55 39h1M58 39h1M74 39h1M233 39h2M239 39h4M246 39h1M12 40h1M20 40h2M26 40h2M37 40h1M52 40h3M58 40h2M66 40h2M70 40h2M239 40h4M246 40h1M19 41h1M21 41h1M38 41h1M48 41h4M59 41h1M65 41h1M72 41h1M98 41h2M222 41h1M239 41h6M246 41h1M16 42h1M21 42h1M33 42h1M39 42h2M46 42h1M59 42h1M65 42h1M72 42h1M98 42h2M237 42h4M247 42h1M43 43h3M60 43h1M66 43h1M73 43h1M98 43h1M197 43h3M237 43h3M248 43h1M259 43h1M32 44h1M60 44h1M67 44h1M194 44h1M201 44h1M237 44h3M249 44h1M256 44h1M260 44h1M32 45h1M69 45h1M73 45h1M201 45h1M233 45h4M250 45h3M256 45h1M33 46h3M197 46h1M199 46h3M230 46h3M235 46h2M253 46h3M262 46h1M37 47h2M195 47h1M223 47h1M228 47h1M236 47h1M38 48h2M227 48h1M236 48h1M254 48h4M20 49h2M40 49h1M225 49h1M236 49h1M251 49h1M258 49h1M41 50h1M70 50h3M77 50h4M236 50h1M250 50h1M258 50h1M267 50h3M41 51h1M60 51h1M67 51h1M78 51h1M81 51h1M236 51h1M245 51h1M247 51h3M261 51h1M271 51h1M20 52h2M40 52h1M60 52h1M65 52h1M76 52h1M81 52h1M225 52h1M236 52h1M244 52h1M263 52h1M29 53h2M40 53h1M60 53h1M64 53h1M75 53h1M80 53h1M82 53h1M84 53h1M236 53h1M265 53h2M28 54h1M30 54h1M56 54h5M80 54h1M91 54h1M237 54h1M243 54h1M265 54h2M26 55h1M31 55h1M39 55h1M51 55h3M63 55h1M75 55h1M79 55h1M92 55h1M264 55h1M31 56h1M38 56h1M62 56h3M75 56h4M92 56h1M263 56h1M30 57h1M38 57h1M62 57h4M74 57h4M93 57h2M263 57h1M25 58h1M28 58h2M36 58h3M60 58h6M73 58h1M78 58h1M95 58h1M269 58h4M35 59h3M59 59h1M61 59h1M64 59h3M72 59h1M96 59h1M35 60h1M41 60h4M59 60h2M65 60h2M79 60h1M96 60h1M36 61h1M41 61h1M66 61h2M73 61h1M79 61h1M36 62h1M67 62h1M73 62h1M79 62h1M95 62h1M165 62h2M252 62h1M37 63h1M40 63h1M69 63h1M80 63h1M86 63h1M163 63h1M167 63h1M253 63h1M39 64h1M62 64h1M81 64h2M84 64h1M162 64h1M252 64h1M160 65h1M165 65h1M209 65h2M161 66h4M211 66h1M209 67h1M210 68h1M11 71h1M48 71h1M100 71h1M104 71h1M10 72h1M21 72h1M25 72h1M47 72h2M61 72h1M64 72h1M82 72h1M85 72h1M94 72h1M99 72h1M109 72h1M112 72h1M12 73h1M18 73h1M23 73h1M32 73h1M34 73h1M48 73h1M60 73h1M65 73h1M71 73h2M76 73h1M81 73h2M85 73h1M106 73h1M109 73h1M14 74h2M50 74h2M65 74h5M77 74h8M107 74h3M111 74h1M130 74h1M147 74h1M13 75h1M50 75h2M59 75h1M83 75h3M101 75h1M111 75h1M133 75h1M266 75h2M12 76h1M42 76h2M46 76h1M49 76h3M59 76h1M87 76h1M97 76h2M111 76h1M151 76h1M268 76h1M38 77h4M48 77h3M59 77h1M89 77h1M91 77h4M96 77h1M111 77h2M115 77h3M145 77h1M149 77h3M265 77h1M272 77h4M11 78h1M23 78h1M37 78h2M49 78h2M58 78h2M94 78h3M118 78h1M134 78h1M144 78h3M268 78h1M271 78h1M4 79h1M10 79h1M23 79h1M37 79h2M50 79h2M58 79h1M94 79h2M117 79h3M130 79h1M141 79h1M267 79h1M271 79h1M7 80h3M24 80h1M37 80h2M51 80h2M57 80h1M114 80h5M120 80h1M135 80h1M271 80h1M24 81h1M36 81h3M51 81h2M56 81h2M80 81h1M114 81h1M120 81h1M132 81h3M141 81h1M144 81h1M24 82h2M36 82h2M51 82h2M58 82h1M80 82h1M113 82h2M119 82h1M24 83h2M35 83h3M51 83h2M59 83h2M90 83h4M97 83h5M113 83h2M119 83h1M205 83h1M212 83h1M273 83h3M24 84h6M31 84h6M39 84h2M52 84h1M61 84h2M90 84h10M115 84h1M118 84h1M213 84h1M23 85h12M42 85h1M62 85h2M90 85h7M112 85h1M191 85h1M193 85h1M212 85h1M22 86h9M33 86h2M64 86h2M90 86h6M194 86h1M201 86h1M218 86h1M222 86h1M227 86h2M234 86h1M20 87h6M43 87h1M52 87h1M64 87h2M80 87h2M92 87h4M110 87h1M191 87h1M193 87h1M202 87h1M218 87h1M222 87h1M230 87h3M15 88h1M19 88h1M22 88h3M63 88h2M78 88h2M82 88h2M95 88h1M105 88h2M228 88h5M235 88h1M238 88h1M0 89h10M13 89h1M22 89h2M53 89h1M62 89h1M78 89h1M83 89h1M95 89h1M105 89h1M11 90h2M23 90h3M28 90h5M45 90h1M62 90h8M77 90h2M83 90h1M101 90h4M230 90h2M11 91h2M26 91h2M45 91h1M70 91h1M82 91h1M89 91h1M91 91h2M101 91h4M231 91h1M45 92h1M57 92h1M82 92h1M92 92h1M99 92h5M45 93h1M55 93h1M72 93h3M84 93h1M92 93h1M98 93h1M103 93h2M50 94h1M59 94h1M61 94h1M93 94h3M106 94h1M116 94h1M44 95h1M94 95h2M203 95h2M44 96h1M48 96h1M95 96h3M108 96h1M203 96h1M268 96h1M272 96h1M47 97h1M59 97h1M63 97h1M97 97h2M108 97h1M117 97h3M47 98h1M61 98h1M64 98h1M66 98h1M70 98h1M98 98h1M108 98h1M227 98h1M55 99h1M58 99h1M62 99h1M98 99h1M108 99h1M227 99h1M57 100h1M63 100h3M98 100h1M108 100h1M148 100h1M65 101h2M70 101h1M98 101h1M108 101h1M147 101h1M66 102h4M98 102h1M107 102h1M146 102h1M151 102h1M78 103h4M97 103h2M107 103h1M146 103h1M151 103h2M160 103h1M77 104h1M83 104h2M96 104h3M106 104h1M147 104h2M153 104h1M158 104h2M77 105h2M95 105h4M100 105h7M148 105h2M153 105h1M158 105h1M162 105h1M80 106h2M85 106h1M95 106h3M100 106h4M105 106h2M149 106h2M153 106h2M157 106h2M162 106h1M57 107h5M82 107h1M85 107h1M94 107h2M101 107h2M105 107h2M109 107h3M131 107h6M150 107h2M154 107h5M162 107h1M54 108h3M61 108h2M83 108h3M94 108h2M105 108h5M111 108h1M129 108h1M136 108h2M150 108h8M162 108h2M5 109h1M9 109h2M41 109h1M44 109h1M52 109h1M63 109h1M92 109h3M106 109h4M112 109h1M115 109h1M117 109h1M128 109h1M137 109h1M152 109h4M165 109h2M0 110h3M12 110h1M40 110h1M49 110h3M64 110h1M91 110h3M112 110h3M119 110h1M124 110h2M137 110h1M154 110h2M193 110h2M65 111h3M90 111h2M101 111h9M119 111h1M122 111h2M137 111h1M155 111h1M205 111h1M47 112h4M65 112h5M90 112h2M100 112h2M110 112h1M137 112h1M156 112h3M195 112h2M205 112h1M26 113h7M40 113h1M50 113h1M69 113h1M90 113h3M99 113h2M110 113h1M118 113h1M121 113h1M137 113h1M159 113h1M167 113h1M193 113h4M198 113h1M205 113h1M15 114h1M25 114h1M31 114h3M40 114h1M46 114h1M50 114h1M63 114h5M69 114h1M90 114h3M98 114h2M125 114h8M159 114h1M166 114h1M192 114h2M196 114h1M198 114h1M0 115h3M24 115h1M32 115h4M41 115h2M51 115h1M63 115h6M90 115h3M97 115h2M111 115h1M146 115h2M159 115h1M163 115h1M191 115h1M197 115h1M17 116h1M20 116h3M33 116h4M51 116h1M63 116h2M74 116h1M80 116h1M90 116h3M96 116h2M111 116h1M160 116h2M191 116h1M35 117h2M51 117h2M62 117h4M73 117h1M81 117h1M90 117h2M96 117h2M146 117h2M6 118h1M35 118h1M51 118h2M61 118h5M73 118h1M81 118h3M89 118h1M95 118h2M117 118h1M7 119h1M47 119h3M52 119h1M55 119h6M64 119h1M66 119h1M81 119h1M84 119h1M95 119h1M113 119h1M122 119h10M264 119h1M8 120h1M34 120h1M47 120h12M65 120h1M80 120h2M84 120h1M90 120h2M113 120h2M133 120h1M273 120h3M16 121h2M49 121h3M55 121h4M114 121h1M125 121h3M135 121h1M18 122h1M50 122h2M56 122h3M79 122h1M110 122h3M123 122h7M251 122h2M18 123h4M32 123h1M50 123h2M56 123h3M79 123h1M82 123h1M111 123h1M123 123h1M129 123h1M17 124h1M19 124h3M33 124h1M45 124h1M49 124h4M54 124h2M58 124h2M73 124h1M82 124h1M85 124h1M99 124h1M104 124h1M122 124h1M130 124h1M19 125h3M44 125h1M46 125h4M59 125h2M74 125h1M93 125h1M106 125h1M114 125h1M122 125h1M130 125h1M43 126h1M60 126h1M83 126h1M117 126h1M134 126h1M36 127h1M42 127h1M53 127h2M61 127h1M74 127h1M80 127h1M82 127h2M98 127h5M3 128h4M68 128h2M74 128h1M81 128h2M87 128h1M91 128h1M258 128h4M0 129h7M52 129h1M55 129h1M61 129h1M67 129h1M75 129h1M81 129h1M87 129h1M94 129h1M247 129h1M249 129h1M263 129h1M0 130h5M9 130h1M50 130h1M63 130h2M77 130h1M87 130h1M92 130h2M0 131h4M8 131h1M36 131h2M40 131h1M62 131h1M71 131h1M80 131h1M87 131h1M246 131h1M264 131h1M3 132h1M8 132h1M15 132h4M35 132h1M41 132h1M47 132h1M264 132h1M0 133h5M14 133h1M18 133h2M35 133h1M63 133h1M69 133h1M85 133h1M260 133h3M0 134h3M10 134h2M19 134h1M34 134h1M82 134h1M248 134h2M8 135h1M20 135h1M34 135h1M21 136h2M34 136h1M7 137h1M23 137h1M33 137h3M23 138h1M33 138h3M40 138h1M94 138h1M22 139h2M32 139h1M40 139h1M53 139h2M93 139h1M0 140h4M13 140h1M22 140h1M31 140h2M41 140h1M52 140h1M57 140h1M86 140h1M96 140h1M101 140h2M4 141h2M16 141h1M20 141h2M29 141h4M41 141h1M86 141h1M96 141h1M103 141h1M126 141h1M11 142h1M13 142h3M29 142h4M51 142h2M87 142h1M96 142h1M100 142h1M127 142h1M13 143h2M27 143h6M47 143h6M88 143h1M96 143h1M14 144h1M27 144h6M44 144h1M46 144h1M51 144h1M89 144h1M96 144h1M105 144h1M124 144h1M129 144h1M14 145h1M27 145h6M44 145h1M46 145h1M51 145h1M89 145h1M96 145h1M105 145h1M124 145h1M129 145h1M14 146h1M27 146h6M44 146h1M46 146h1M51 146h1M89 146h1M96 146h1M105 146h1M124 146h1M129 146h1"/>
<path stroke="#0066ff" d="M19 0h2M49 0h1M59 0h1M66 0h1M79 0h1M83 0h1M19 1h2M49 1h1M59 1h1M66 1h1M79 1h1M83 1h1M19 2h2M49 2h1M59 2h1M66 2h1M79 2h1M83 2h1M20 3h2M49 3h1M59 3h1M67 3h1M83 3h1M21 4h1M48 4h1M51 4h1M59 4h1M68 4h2M80 4h1M82 4h1M108 4h3M21 5h1M29 5h2M47 5h2M51 5h1M59 5h1M81 5h1M111 5h1M22 6h1M27 6h1M31 6h1M46 6h1M51 6h1M58 6h1M68 6h4M24 7h1M33 7h1M42 7h1M45 7h1M51 7h1M57 7h1M67 7h1M14 8h2M35 8h1M42 8h3M52 8h5M67 9h1M73 9h1M107 9h1M111 9h1M77 10h1M273 10h3M272 11h1M77 12h2M68 17h1M106 17h1M60 18h3M103 18h1M107 18h1M155 18h2M61 19h2M69 19h1M107 19h1M113 19h1M25 20h1M47 20h1M58 20h1M61 20h1M70 20h1M76 20h1M102 20h1M107 20h1M116 20h1M15 21h2M46 21h1M59 21h1M61 21h1M71 21h1M96 21h1M100 21h1M111 21h1M116 21h1M25 22h1M30 22h1M45 22h1M59 22h2M73 22h6M96 22h3M106 22h1M112 22h2M31 23h1M44 23h1M96 23h1M265 23h1M272 23h4M17 24h1M42 24h1M76 24h1M98 24h1M105 24h1M16 25h1M19 25h1M32 25h1M34 25h2M82 25h6M104 25h1M110 25h1M264 25h1M10 26h1M21 26h1M25 26h1M88 26h1M103 26h1M110 26h2M129 26h1M262 26h2M7 27h1M11 27h1M15 27h1M22 27h1M89 27h1M102 27h1M261 27h1M8 28h3M14 28h1M22 28h3M29 28h2M88 28h2M257 28h1M13 29h1M23 29h2M28 29h1M31 29h1M88 29h1M13 30h1M22 30h3M27 30h1M32 30h1M88 30h1M11 31h3M21 31h4M35 31h1M88 31h1M8 32h5M20 32h4M39 32h1M88 32h1M107 32h2M225 32h1M257 32h1M263 32h1M7 33h3M14 33h1M18 33h2M40 33h1M88 33h1M259 33h6M0 34h7M13 34h3M41 34h13M68 34h2M228 34h1M264 34h3M270 34h6M13 35h1M42 35h1M52 35h3M65 35h1M73 35h1M252 35h1M14 36h1M54 36h1M64 36h1M242 36h1M16 37h1M54 37h1M61 37h3M76 37h1M82 37h1M87 37h1M231 37h1M235 37h1M238 37h1M241 37h2M252 37h1M273 37h3M54 38h1M59 38h3M73 38h1M84 38h3M221 38h1M233 38h2M239 38h2M248 38h1M273 38h3M17 39h1M19 39h3M26 39h2M35 39h4M52 39h3M59 39h2M67 39h4M72 39h2M75 39h1M103 39h1M106 39h1M221 39h1M247 39h1M0 40h3M11 40h1M17 40h1M19 40h1M34 40h1M38 40h2M50 40h2M60 40h1M64 40h2M72 40h2M247 40h1M12 41h1M17 41h2M22 41h1M25 41h1M28 41h1M33 41h1M39 41h1M46 41h2M60 41h1M64 41h1M247 41h1M257 41h2M13 42h1M19 42h1M22 42h1M26 42h2M32 42h1M41 42h5M60 42h2M64 42h1M97 42h1M198 42h1M222 42h1M248 42h1M256 42h1M259 42h1M20 43h2M32 43h1M61 43h1M64 43h2M99 43h1M200 43h1M222 43h1M249 43h1M256 43h1M260 43h1M61 44h1M65 44h2M74 44h1M98 44h1M222 44h1M250 44h2M255 44h1M261 44h1M61 45h1M68 45h1M74 45h1M222 45h1M253 45h3M262 45h1M32 46h1M61 46h1M71 46h2M198 46h1M233 46h2M263 46h1M35 47h2M61 47h1M85 47h2M194 47h1M196 47h1M200 47h2M229 47h1M235 47h1M264 47h1M37 48h1M61 48h1M223 48h1M228 48h1M235 48h1M265 48h1M38 49h2M61 49h1M73 49h3M224 49h1M226 49h2M252 49h2M256 49h2M266 49h1M18 50h1M23 50h1M40 50h1M61 50h1M68 50h2M81 50h1M101 50h1M251 50h1M257 50h1M270 50h1M18 51h1M23 51h1M40 51h1M61 51h1M65 51h2M246 51h1M260 51h1M272 51h4M28 52h4M61 52h1M64 52h1M79 52h1M86 52h2M224 52h1M28 53h1M31 53h1M61 53h1M83 53h1M90 53h1M226 53h1M244 53h1M264 53h1M27 54h1M31 54h2M39 54h1M61 54h1M63 54h1M75 54h1M92 54h1M236 54h1M264 54h1M25 55h1M32 55h1M38 55h1M54 55h1M59 55h4M76 55h1M93 55h1M24 56h1M32 56h1M37 56h1M49 56h1M60 56h2M93 56h2M24 57h1M31 57h2M36 57h2M48 57h1M60 57h2M95 57h1M24 58h1M30 58h2M34 58h2M47 58h1M59 58h1M74 58h4M96 58h1M265 58h1M273 58h3M25 59h4M34 59h1M46 59h1M58 59h1M62 59h2M73 59h1M78 59h1M267 59h2M34 60h1M45 60h1M58 60h1M61 60h4M73 60h1M35 61h1M42 61h2M64 61h2M89 61h2M96 61h1M170 61h1M27 62h3M35 62h1M41 62h1M66 62h1M78 62h1M96 62h1M164 62h1M251 62h1M253 62h1M27 63h1M41 63h1M62 63h2M68 63h1M78 63h2M93 63h1M172 63h1M254 63h1M38 64h1M64 64h1M78 64h3M170 64h2M251 64h1M253 64h1M61 65h1M64 65h1M78 65h3M153 65h1M158 65h2M252 65h1M153 66h1M158 66h1M160 66h1M208 66h1M251 66h2M213 67h1M209 68h1M214 68h1M210 69h1M10 71h1M12 71h1M23 71h3M30 71h1M35 71h1M47 71h1M49 71h1M61 71h3M82 71h3M90 71h1M94 71h1M105 71h1M110 71h2M9 72h1M13 72h1M20 72h1M30 72h1M35 72h1M46 72h1M49 72h1M60 72h1M65 72h1M71 72h6M79 72h3M86 72h2M90 72h1M106 72h1M113 72h1M115 72h3M11 73h1M13 73h2M16 73h2M24 73h1M31 73h1M47 73h1M49 73h3M59 73h1M66 73h2M69 73h2M77 73h4M86 73h1M94 73h1M99 73h1M107 73h2M112 73h1M12 74h2M23 74h1M33 74h1M48 74h2M52 74h1M59 74h1M85 74h1M93 74h1M100 74h1M129 74h1M133 74h1M146 74h1M12 75h1M23 75h1M43 75h3M48 75h2M52 75h1M86 75h1M99 75h2M117 75h1M121 75h2M129 75h1M268 75h1M23 76h1M37 76h5M47 76h2M52 76h1M92 76h5M116 76h3M129 76h1M145 76h1M152 76h1M273 76h3M11 77h1M23 77h1M36 77h2M51 77h2M58 77h1M90 77h1M95 77h1M113 77h2M118 77h1M129 77h1M134 77h1M152 77h2M269 77h1M271 77h1M24 78h2M36 78h1M51 78h2M57 78h1M119 78h1M129 78h1M143 78h1M147 78h1M265 78h1M5 79h1M24 79h2M35 79h2M52 79h2M55 79h3M120 79h1M135 79h1M140 79h1M145 79h1M266 79h1M25 80h1M35 80h2M53 80h4M130 80h1M145 80h1M25 81h1M34 81h2M53 81h3M131 81h1M135 81h1M197 81h1M271 81h1M26 82h10M53 82h5M120 82h1M197 82h1M26 83h9M53 83h1M58 83h1M120 83h1M197 83h1M204 83h1M266 83h2M272 83h1M30 84h1M37 84h2M59 84h2M113 84h2M195 84h3M202 84h1M35 85h2M41 85h1M52 85h1M61 85h1M194 85h5M35 86h1M42 86h1M52 86h1M62 86h2M112 86h1M195 86h6M229 86h1M233 86h1M34 87h1M62 87h2M226 87h1M240 87h1M20 88h2M34 88h1M53 88h1M62 88h1M80 88h2M107 88h1M233 88h2M239 88h1M14 89h6M21 89h1M44 89h1M54 89h1M79 89h1M82 89h1M229 89h1M232 89h1M9 90h2M13 90h1M22 90h1M33 90h1M55 90h1M79 90h1M82 90h1M105 90h1M24 91h2M28 91h2M56 91h1M69 91h1M77 91h1M81 91h1M90 91h1M105 91h1M230 91h1M11 92h2M26 92h2M58 92h1M70 92h1M76 92h1M80 92h2M91 92h1M104 92h2M231 92h1M56 93h5M71 93h1M75 93h1M83 93h1M88 93h1M105 93h1M44 94h1M51 94h1M62 94h1M92 94h1M107 94h1M120 94h1M49 95h1M93 95h1M108 95h1M115 95h1M268 95h1M272 95h1M63 96h1M93 96h2M115 96h1M205 96h1M273 96h3M48 97h1M93 97h4M109 97h1M116 97h1M120 97h1M48 98h1M56 98h5M65 98h1M96 98h2M109 98h1M149 98h1M206 98h1M228 98h1M38 99h2M45 99h1M54 99h1M59 99h3M71 99h1M97 99h1M109 99h1M148 99h1M228 99h1M38 100h1M55 100h2M58 100h5M71 100h1M97 100h1M109 100h1M58 101h4M63 101h2M71 101h1M97 101h1M109 101h1M146 101h1M151 101h1M161 101h2M59 102h2M64 102h2M70 102h1M78 102h4M96 102h2M108 102h2M152 102h4M160 102h1M163 102h1M65 103h2M77 103h1M82 103h2M96 103h1M108 103h2M153 103h3M159 103h1M163 103h1M76 104h1M95 104h1M107 104h2M146 104h1M154 104h1M157 104h1M163 104h1M76 105h1M85 105h1M107 105h3M146 105h2M154 105h1M157 105h1M163 105h1M56 106h7M79 106h1M86 106h1M94 106h1M107 106h6M147 106h2M155 106h2M163 106h1M55 107h2M62 107h2M81 107h1M86 107h2M93 107h1M107 107h2M112 107h1M129 107h2M137 107h1M148 107h2M163 107h1M20 108h1M41 108h2M53 108h1M63 108h1M82 108h1M86 108h2M91 108h3M112 108h1M116 108h1M128 108h1M138 108h1M149 108h1M164 108h1M4 109h1M11 109h1M45 109h3M64 109h1M90 109h2M113 109h2M118 109h1M126 109h2M138 109h1M149 109h3M167 109h1M65 110h5M89 110h2M120 110h2M123 110h1M138 110h2M151 110h3M169 110h1M189 110h4M195 110h1M206 110h2M13 111h1M33 111h1M39 111h1M68 111h2M89 111h1M120 111h2M138 111h3M152 111h3M169 111h1M196 111h1M14 112h1M26 112h9M39 112h1M70 112h1M88 112h2M102 112h2M109 112h1M121 112h1M138 112h3M153 112h3M187 112h1M197 112h1M204 112h1M15 113h1M25 113h1M33 113h2M39 113h1M47 113h1M49 113h1M70 113h1M88 113h2M101 113h1M138 113h3M156 113h3M168 113h1M204 113h1M207 113h1M24 114h1M34 114h2M39 114h1M49 114h1M70 114h2M88 114h2M100 114h1M110 114h1M118 114h1M136 114h1M146 114h2M157 114h2M167 114h1M194 114h2M16 115h1M22 115h2M36 115h2M40 115h1M46 115h1M49 115h2M69 115h2M76 115h3M88 115h2M99 115h1M110 115h1M148 115h1M156 115h3M187 115h1M192 115h2M196 115h1M198 115h1M3 116h1M18 116h2M37 116h1M42 116h5M50 116h1M65 116h4M73 116h1M81 116h1M88 116h2M98 116h1M117 116h1M145 116h1M148 116h1M156 116h4M162 116h1M192 116h1M197 116h1M4 117h1M37 117h1M49 117h2M66 117h1M72 117h1M82 117h2M88 117h2M98 117h1M111 117h1M117 117h1M148 117h1M189 117h1M36 118h1M47 118h4M66 118h1M72 118h1M84 118h1M88 118h1M97 118h2M112 118h1M118 118h1M261 118h1M35 119h1M46 119h1M50 119h2M61 119h3M72 119h1M96 119h3M132 119h1M46 120h1M59 120h6M66 120h1M72 120h1M89 120h1M92 120h2M259 120h1M13 121h3M47 121h2M52 121h3M59 121h3M72 121h1M80 121h2M112 121h2M245 121h2M17 122h1M33 122h1M49 122h1M52 122h1M55 122h1M59 122h2M72 122h1M113 122h2M17 123h1M33 123h1M45 123h1M48 123h2M52 123h1M55 123h1M59 123h2M72 123h1M85 123h1M110 123h1M112 123h3M124 123h5M244 123h1M252 123h1M260 123h1M16 124h1M46 124h3M53 124h1M60 124h2M86 124h1M98 124h1M105 124h1M114 124h1M123 124h1M263 124h1M10 125h1M34 125h1M61 125h1M82 125h1M9 126h1M35 126h1M42 126h1M61 126h1M74 126h1M80 126h1M82 126h1M88 126h1M91 126h1M106 126h1M116 126h1M121 126h1M130 126h1M9 127h1M37 127h5M62 127h1M68 127h2M81 127h1M91 127h1M103 127h2M0 128h3M7 128h1M53 128h2M62 128h1M67 128h1M257 128h1M262 128h1M7 129h1M9 129h1M62 129h1M65 129h2M70 129h1M74 129h1M91 129h1M255 129h1M5 130h4M51 130h1M61 130h2M246 130h1M250 130h1M256 130h1M264 130h1M4 131h1M7 131h1M38 131h2M49 131h1M79 131h1M4 132h4M36 132h1M40 132h1M48 132h1M62 132h1M71 132h1M80 132h1M87 132h1M246 132h1M265 132h1M15 133h3M41 133h3M81 133h1M86 133h1M247 133h1M263 133h2M12 134h4M18 134h1M35 134h1M63 134h4M85 134h1M9 135h1M83 135h2M8 136h1M35 136h1M95 136h2M21 137h2M36 137h5M94 137h1M7 138h1M22 138h1M41 138h1M7 139h1M21 139h1M41 139h1M55 139h1M91 139h2M10 140h1M17 140h5M51 140h1M0 141h4M6 141h1M10 141h1M14 141h2M42 141h1M51 141h1M57 141h1M85 141h1M100 141h1M125 141h1M0 142h3M43 142h1M47 142h4M55 142h1M86 142h1M104 142h1M12 143h1M44 143h3M53 143h1M87 143h1M97 143h1M105 143h1M124 143h1M129 143h1M13 144h1M45 144h1M52 144h2M88 144h1M97 144h1M13 145h1M45 145h1M52 145h2M88 145h1M97 145h1M13 146h1M45 146h1M52 146h2M88 146h1M97 146h1"/>
<path stroke="#0080ff" d="M17 0h2M50 0h2M60 0h1M65 0h1M70 0h1M84 0h1M17 1h2M50 1h2M60 1h1M65 1h1M70 1h1M84 1h1M17 2h2M50 2h2M60 2h1M65 2h1M70 2h1M84 2h1M17 3h3M50 3h2M60 3h1M66 3h1M70 3h1M79 3h1M19 4h2M49 4h2M60 4h1M67 4h1M70 4h1M83 4h1M107 4h1M111 4h1M20 5h1M49 5h2M60 5h1M68 5h4M80 5h1M82 5h1M106 5h1M119 5h2M21 6h1M28 6h3M47 6h4M59 6h1M72 6h1M106 6h1M14 7h2M23 7h1M25 7h1M32 7h1M46 7h1M50 7h1M58 7h1M73 7h1M106 7h1M13 8h1M16 8h1M33 8h2M45 8h1M50 8h2M57 8h1M36 9h1M41 9h1M44 9h1M51 9h4M78 10h1M272 10h1M76 11h1M95 11h2M101 11h2M96 12h1M101 12h1M271 13h1M86 14h2M271 14h1M271 15h1M65 16h2M104 16h3M272 16h4M60 17h1M63 17h1M103 17h1M107 17h1M154 17h1M157 17h1M41 18h2M58 18h2M69 18h1M108 18h1M15 19h2M47 19h6M55 19h6M77 19h3M102 19h1M108 19h2M111 19h2M114 19h1M14 20h5M28 20h1M46 20h1M59 20h2M80 20h1M101 20h1M108 20h4M14 21h1M17 21h2M29 21h1M60 21h1M72 21h1M80 21h1M82 21h3M95 21h1M97 21h3M107 21h1M109 21h2M14 22h5M79 22h1M82 22h3M95 22h1M110 22h2M114 22h1M14 23h5M43 23h1M76 23h1M82 23h4M95 23h1M106 23h1M110 23h2M232 23h1M14 24h3M18 24h1M40 24h2M80 24h8M95 24h3M110 24h2M185 24h2M232 24h1M264 24h1M14 25h2M20 25h1M25 25h1M33 25h1M88 25h2M100 25h1M111 25h1M262 25h2M7 26h1M11 26h5M22 26h1M89 26h1M109 26h1M179 26h2M261 26h1M12 27h3M23 27h2M90 27h1M180 27h1M227 27h1M260 27h1M7 28h1M11 28h3M90 28h1M8 29h5M89 29h2M256 29h1M9 30h4M89 30h2M256 30h1M8 31h3M25 31h2M33 31h2M89 31h2M7 32h1M24 32h1M37 32h2M89 32h2M224 32h1M226 32h1M0 33h7M20 33h1M39 33h1M89 33h1M227 33h1M258 33h1M16 34h2M40 34h1M88 34h1M223 34h1M262 34h2M14 35h2M41 35h1M43 35h9M66 35h1M88 35h1M229 35h1M243 35h1M263 35h3M272 35h4M15 36h1M42 36h3M49 36h5M65 36h1M73 36h1M88 36h1M222 36h1M230 36h1M241 36h1M272 36h4M51 37h3M64 37h2M73 37h1M77 37h1M79 37h3M88 37h1M232 37h1M234 37h1M239 37h2M272 37h1M17 38h1M20 38h1M38 38h1M51 38h3M62 38h5M72 38h1M76 38h1M83 38h1M87 38h1M103 38h1M106 38h1M249 38h4M272 38h1M18 39h1M25 39h1M28 39h1M34 39h1M39 39h1M50 39h2M61 39h6M71 39h1M76 39h1M84 39h4M248 39h1M273 39h3M3 40h8M18 40h1M22 40h1M25 40h1M28 40h1M33 40h1M40 40h1M47 40h3M61 40h3M74 40h2M84 40h4M98 40h2M104 40h1M221 40h1M248 40h1M32 41h1M40 41h2M45 41h1M61 41h3M73 41h1M78 41h2M82 41h5M97 41h1M100 41h1M182 41h2M248 41h1M256 41h1M17 42h2M25 42h1M28 42h1M31 42h1M62 42h2M73 42h1M78 42h9M100 42h1M182 42h2M197 42h1M199 42h2M249 42h1M14 43h2M19 43h1M31 43h1M62 43h2M79 43h9M97 43h1M100 43h1M196 43h1M201 43h1M250 43h1M255 43h1M20 44h2M31 44h1M62 44h3M80 44h18M99 44h1M252 44h3M31 45h1M62 45h1M67 45h1M81 45h19M193 45h1M31 46h1M70 46h1M73 46h1M82 46h7M94 46h4M202 46h1M222 46h1M30 47h5M83 47h2M87 47h1M95 47h2M197 47h3M202 47h1M222 47h1M230 47h5M265 47h1M29 48h8M86 48h1M229 48h1M266 48h1M19 49h1M22 49h1M29 49h9M72 49h1M76 49h1M80 49h2M228 49h1M235 49h1M254 49h2M267 49h1M28 50h12M62 50h1M67 50h1M102 50h1M226 50h3M235 50h1M271 50h1M24 51h12M39 51h1M62 51h3M101 51h1M235 51h1M250 51h1M259 51h1M19 52h1M22 52h1M26 52h2M32 52h2M39 52h1M62 52h2M77 52h2M82 52h1M88 52h1M226 52h1M235 52h1M245 52h1M247 52h3M262 52h1M27 53h1M32 53h1M39 53h1M62 53h2M76 53h1M79 53h1M91 53h2M26 54h1M33 54h1M62 54h1M76 54h1M79 54h1M93 54h1M226 54h1M33 55h1M37 55h1M55 55h4M77 55h2M263 55h1M33 56h2M36 56h1M59 56h1M95 56h1M262 56h1M23 57h1M33 57h3M59 57h1M96 57h1M262 57h1M23 58h1M32 58h2M58 58h1M264 58h1M23 59h2M29 59h5M57 59h1M74 59h4M97 59h1M266 59h1M269 59h2M24 60h10M46 60h1M56 60h2M74 60h1M78 60h1M97 60h1M25 61h7M34 61h1M44 61h2M58 61h6M77 61h2M168 61h2M26 62h1M30 62h2M34 62h1M42 62h1M47 62h1M62 62h4M77 62h1M88 62h1M91 62h1M172 62h1M254 62h1M26 63h1M28 63h1M36 63h1M47 63h1M64 63h1M66 63h2M73 63h1M77 63h1M87 63h1M92 63h1M94 63h2M162 63h1M250 63h1M255 63h1M26 64h2M40 64h1M61 64h1M85 64h1M155 64h2M161 64h1M166 64h1M254 64h1M26 65h2M81 65h3M208 65h1M211 65h1M251 65h1M253 65h1M61 66h1M64 66h1M78 66h3M159 66h1M165 66h1M212 66h1M62 67h2M155 67h2M208 67h1M31 68h1M34 68h1M173 68h2M250 68h1M30 69h1M35 69h1M214 69h1M30 70h1M35 70h1M92 70h1M212 70h1M9 71h1M22 71h1M26 71h4M46 71h1M56 71h5M64 71h1M78 71h4M85 71h1M88 71h2M99 71h1M112 71h1M8 72h1M19 72h1M26 72h4M36 72h1M50 72h3M56 72h4M66 72h1M70 72h1M77 72h2M88 72h2M98 72h1M107 72h2M114 72h1M15 73h1M25 73h1M35 73h2M46 73h1M52 73h2M58 73h1M68 73h1M87 73h1M91 73h1M98 73h1M116 73h2M131 73h2M0 74h4M24 74h1M32 74h1M34 74h6M45 74h3M53 74h1M58 74h1M86 74h1M92 74h1M94 74h2M98 74h2M117 74h6M151 74h1M0 75h4M33 75h10M46 75h2M53 75h1M58 75h1M93 75h6M116 75h1M118 75h3M123 75h1M128 75h1M145 75h1M152 75h1M11 76h1M24 76h1M32 76h5M53 76h2M58 76h1M88 76h1M112 76h1M115 76h1M119 76h5M128 76h1M134 76h1M265 76h1M269 76h1M271 76h2M24 77h2M29 77h7M53 77h2M57 77h1M119 77h3M128 77h1M144 77h1M154 77h1M270 77h1M0 78h3M10 78h1M26 78h10M53 78h4M120 78h2M135 78h1M142 78h1M148 78h1M269 78h2M6 79h4M26 79h9M54 79h1M121 79h1M129 79h1M265 79h1M268 79h1M26 80h9M121 80h1M139 80h1M26 81h8M121 81h1M140 81h1M182 81h2M198 81h1M121 82h1M198 82h1M271 82h1M54 83h4M125 83h1M195 83h2M198 83h1M203 83h1M53 84h2M58 84h1M119 84h1M125 84h2M192 84h3M198 84h1M37 85h1M40 85h1M59 85h2M113 85h1M125 85h1M199 85h1M201 85h1M213 85h1M36 86h1M60 86h2M190 86h1M217 86h1M223 86h1M226 86h1M230 86h3M240 86h1M35 87h1M61 87h1M111 87h1M194 87h1M201 87h1M211 87h1M217 87h1M223 87h1M43 88h1M61 88h1M227 88h1M20 89h1M34 89h1M61 89h1M80 89h2M228 89h1M236 89h2M4 90h5M14 90h1M21 90h1M44 90h1M61 90h1M80 90h2M229 90h1M232 90h1M10 91h1M13 91h1M22 91h2M30 91h3M44 91h1M57 91h1M62 91h2M68 91h1M78 91h3M25 92h1M28 92h1M44 92h1M59 92h1M77 92h1M79 92h1M89 92h2M230 92h1M44 93h1M61 93h1M76 93h1M82 93h1M91 93h1M106 93h1M117 93h3M52 94h1M73 94h2M63 95h1M92 95h1M121 95h1M202 95h1M205 95h1M273 95h3M49 96h1M109 96h1M121 96h1M202 96h1M206 96h1M43 97h1M64 97h1M68 97h2M115 97h1M204 97h3M270 97h1M43 98h1M54 98h2M71 98h1M73 98h2M93 98h3M110 98h1M150 98h1M207 98h1M37 99h1M44 99h1M46 99h1M53 99h1M72 99h4M93 99h4M110 99h2M39 100h1M54 100h1M72 100h2M95 100h2M110 100h2M147 100h1M151 100h1M38 101h2M56 101h2M62 101h1M72 101h1M78 101h4M95 101h2M110 101h4M119 101h1M152 101h1M57 102h2M61 102h3M71 102h2M77 102h1M82 102h1M95 102h1M110 102h6M118 102h3M140 102h2M145 102h1M156 102h2M159 102h1M57 103h8M67 103h6M76 103h1M84 103h1M94 103h2M110 103h6M117 103h4M141 103h1M145 103h1M156 103h3M57 104h10M71 104h5M85 104h1M94 104h1M109 104h12M145 104h1M155 104h2M164 104h1M56 105h10M71 105h5M86 105h1M94 105h1M110 105h10M145 105h1M155 105h2M164 105h1M55 106h1M63 106h2M71 106h2M77 106h2M87 106h1M93 106h1M113 106h5M129 106h10M146 106h1M164 106h1M17 107h4M54 107h1M64 107h1M69 107h4M80 107h1M88 107h1M91 107h2M113 107h4M128 107h1M138 107h1M147 107h1M164 107h1M17 108h3M21 108h2M43 108h1M52 108h1M64 108h1M68 108h5M80 108h2M88 108h3M113 108h3M117 108h1M127 108h1M139 108h1M147 108h2M165 108h1M0 109h4M12 109h1M18 109h5M40 109h1M48 109h4M65 109h7M81 109h9M119 109h1M122 109h4M139 109h1M147 109h2M168 109h1M13 110h1M20 110h3M35 110h1M39 110h1M70 110h1M87 110h2M122 110h1M140 110h1M146 110h5M196 110h1M21 111h1M26 111h7M34 111h5M70 111h2M87 111h2M141 111h1M146 111h6M197 111h1M204 111h1M208 111h1M25 112h1M35 112h4M71 112h1M87 112h1M104 112h5M119 112h2M141 112h1M146 112h7M169 112h1M198 112h1M24 113h1M35 113h4M48 113h1M71 113h1M87 113h1M102 113h1M109 113h1M141 113h2M146 113h10M185 113h1M199 113h1M203 113h1M16 114h1M23 114h1M36 114h3M47 114h2M72 114h1M86 114h2M101 114h2M109 114h1M121 114h1M145 114h1M148 114h9M185 114h1M199 114h1M203 114h2M17 115h5M38 115h2M47 115h2M71 115h5M79 115h2M86 115h2M100 115h2M123 115h7M133 115h2M145 115h1M149 115h1M155 115h1M164 115h1M194 115h2M38 116h4M47 116h3M69 116h4M82 116h6M99 116h2M110 116h1M155 116h1M193 116h1M196 116h1M198 116h1M38 117h1M42 117h7M67 117h1M71 117h1M84 117h4M99 117h1M145 117h1M190 117h2M5 118h1M37 118h1M44 118h3M67 118h1M85 118h1M99 118h1M125 118h5M147 118h1M260 118h1M262 118h1M85 119h1M88 119h1M99 119h1M112 119h1M259 119h1M273 119h3M7 120h1M85 120h1M94 120h1M112 120h1M134 120h1M265 120h1M12 121h1M34 121h1M45 121h2M62 121h4M85 121h1M110 121h2M259 121h1M265 121h1M45 122h4M53 122h2M61 122h3M80 122h2M85 122h1M109 122h1M136 122h1M243 122h1M247 122h1M253 122h1M265 122h1M46 123h2M53 123h2M61 123h2M80 123h2M109 123h1M136 123h1M251 123h1M12 124h4M34 124h1M44 124h1M62 124h1M80 124h2M97 124h1M106 124h1M111 124h3M124 124h2M128 124h2M262 124h1M35 125h1M43 125h1M62 125h1M73 125h1M80 125h1M88 125h1M92 125h1M113 125h1M123 125h1M8 126h1M36 126h1M62 126h1M68 126h2M81 126h1M115 126h1M122 126h1M135 126h1M0 127h9M63 127h1M67 127h1M73 127h1M88 127h1M105 127h1M8 128h2M63 128h1M66 128h1M70 128h1M73 128h1M95 128h1M256 128h1M263 128h1M8 129h1M53 129h2M63 129h2M246 129h1M250 129h1M254 129h1M264 129h1M52 130h1M56 130h5M71 130h1M76 130h1M5 131h2M78 131h1M88 131h1M239 131h1M256 131h1M265 131h1M37 132h1M79 132h1M230 132h2M239 132h1M257 132h1M36 133h1M44 133h4M62 133h1M70 133h1M80 133h1M230 133h1M250 133h1M259 133h1M265 133h1M16 134h2M41 134h2M67 134h2M81 134h1M10 135h1M19 135h1M35 135h1M63 135h3M82 135h1M20 136h1M36 136h1M41 136h1M94 136h1M41 137h2M21 138h1M42 138h1M59 138h1M93 138h1M20 139h1M42 139h1M52 139h1M56 139h1M86 139h5M7 140h1M14 140h3M42 140h1M80 140h2M85 140h1M43 141h1M49 141h2M80 141h3M113 141h2M127 141h1M3 142h2M10 142h1M44 142h3M84 142h2M97 142h1M124 142h1M128 142h1M0 143h4M11 143h1M54 143h1M83 143h4M99 143h1M0 144h3M12 144h1M83 144h5M98 144h2M0 145h3M12 145h1M83 145h5M98 145h2M0 146h3M12 146h1M83 146h5M98 146h2"/>
<path stroke="#0099ff" d="M14 0h3M61 0h1M64 0h1M14 1h3M61 1h1M64 1h1M14 2h3M61 2h1M64 2h1M14 3h3M61 3h1M65 3h1M84 3h1M15 4h4M61 4h1M66 4h1M71 4h1M18 5h2M61 5h1M67 5h1M72 5h1M83 5h1M112 5h1M13 6h3M19 6h2M60 6h1M67 6h1M80 6h3M112 6h1M119 6h2M12 7h2M16 7h1M22 7h1M26 7h2M31 7h1M47 7h3M59 7h1M112 7h1M12 8h1M17 8h1M23 8h2M32 8h1M46 8h1M49 8h1M58 8h1M74 8h1M106 8h1M112 8h1M184 8h1M14 9h2M42 9h2M45 9h1M50 9h1M55 9h3M77 9h1M112 9h1M184 9h1M273 9h3M39 10h1M50 10h5M70 10h3M76 10h1M101 10h2M108 10h4M185 10h2M79 11h1M97 11h1M100 11h1M271 11h1M79 12h1M95 12h1M97 12h1M100 12h1M102 12h1M271 12h1M86 13h2M86 15h2M67 16h1M107 16h1M155 16h2M271 16h1M41 17h2M59 17h1M61 17h2M108 17h2M15 18h3M43 18h1M48 18h3M57 18h1M102 18h1M109 18h5M157 18h1M14 19h1M17 19h2M46 19h1M53 19h2M70 19h1M80 19h1M101 19h1M110 19h1M13 20h1M19 20h1M71 20h1M81 20h4M95 20h2M100 20h1M13 21h1M19 21h1M24 21h1M30 21h1M45 21h1M73 21h3M81 21h1M85 21h1M94 21h1M108 21h1M117 21h1M12 22h2M19 22h1M31 22h1M44 22h1M80 22h2M85 22h2M94 22h1M107 22h3M115 22h1M269 22h7M12 23h2M19 23h1M25 23h1M42 23h1M77 23h1M80 23h2M86 23h3M94 23h1M109 23h1M112 23h2M185 23h1M264 23h1M12 24h2M19 24h1M25 24h1M32 24h1M39 24h1M77 24h1M79 24h1M88 24h3M94 24h1M106 24h1M109 24h1M112 24h1M262 24h2M8 25h6M21 25h1M90 25h1M105 25h2M109 25h1M112 25h1M261 25h1M23 26h2M90 26h2M104 26h1M108 26h1M112 26h1M127 26h1M181 26h1M227 26h2M260 26h1M6 27h1M91 27h1M101 27h1M103 27h1M110 27h2M127 27h1M179 27h1M181 27h1M228 27h1M259 27h1M6 28h1M91 28h1M7 29h1M29 29h2M91 29h1M7 30h2M28 30h1M31 30h1M91 30h1M6 31h2M91 31h1M256 31h1M5 32h2M25 32h1M36 32h1M91 32h1M21 33h3M38 33h1M90 33h2M257 33h1M18 34h2M39 34h1M89 34h1M261 34h1M16 35h1M40 35h1M72 35h1M266 35h6M16 36h1M40 36h2M45 36h4M235 36h4M240 36h1M253 36h1M263 36h2M17 37h1M39 37h3M48 37h3M66 37h1M72 37h1M78 37h1M221 37h1M233 37h1M253 37h1M18 38h2M21 38h1M26 38h2M35 38h3M39 38h2M50 38h1M67 38h5M88 38h1M253 38h1M22 39h1M40 39h1M49 39h1M83 39h1M88 39h1M99 39h1M102 39h1M107 39h1M249 39h4M23 40h2M29 40h1M31 40h2M41 40h1M45 40h2M76 40h2M83 40h1M88 40h1M100 40h1M103 40h1M105 40h1M249 40h2M257 40h2M0 41h6M10 41h2M23 41h2M29 41h3M42 41h3M76 41h2M80 41h2M87 41h1M198 41h1M221 41h1M249 41h1M259 41h1M12 42h1M23 42h2M29 42h2M76 42h2M87 42h2M96 42h1M221 42h1M250 42h1M255 42h1M260 42h1M16 43h1M22 43h1M74 43h1M76 43h3M88 43h3M95 43h2M221 43h1M251 43h4M261 43h1M75 44h2M79 44h1M100 44h1M202 44h1M221 44h1M262 44h1M20 45h2M63 45h4M75 45h1M80 45h1M100 45h1M202 45h1M221 45h1M263 45h1M30 46h1M62 46h1M69 46h1M74 46h1M81 46h1M89 46h5M98 46h2M193 46h1M264 46h1M29 47h1M62 47h1M82 47h1M88 47h1M94 47h1M97 47h1M62 48h1M82 48h4M87 48h1M95 48h2M194 48h3M200 48h2M230 48h1M233 48h2M18 49h1M28 49h1M62 49h1M69 49h3M77 49h3M100 49h3M229 49h1M234 49h1M268 49h1M17 50h1M24 50h4M63 50h4M100 50h1M225 50h1M252 50h2M256 50h1M272 50h4M17 51h1M36 51h3M100 51h1M102 51h1M225 51h4M251 51h1M258 51h1M18 52h1M23 52h3M34 52h5M85 52h1M89 52h1M246 52h1M250 52h1M21 53h1M25 53h2M33 53h2M38 53h1M93 53h1M223 53h1M235 53h1M248 53h1M263 53h1M25 54h1M34 54h1M37 54h2M223 54h1M244 54h1M263 54h1M24 55h1M34 55h3M94 55h1M224 55h2M0 56h3M22 56h2M35 56h1M50 56h1M58 56h1M96 56h1M22 57h1M49 57h1M58 57h1M48 58h1M57 58h1M97 58h1M263 58h1M47 59h1M55 59h2M265 59h1M271 59h5M23 60h1M55 60h1M75 60h3M266 60h3M24 61h1M32 61h2M46 61h2M56 61h2M74 61h3M97 61h1M166 61h2M171 61h1M24 62h2M32 62h2M43 62h1M46 62h1M48 62h1M60 62h2M74 62h1M76 62h1M97 62h1M163 62h1M255 62h1M25 63h1M29 63h1M35 63h1M42 63h1M46 63h1M48 63h1M61 63h1M65 63h1M179 63h1M37 64h1M41 64h1M47 64h2M77 64h1M157 64h1M160 64h1M169 64h1M179 64h1M209 64h2M255 64h1M39 65h1M77 65h1M152 65h1M254 65h1M26 66h2M77 66h1M81 66h1M152 66h1M207 66h1M253 66h1M78 67h3M154 67h1M157 67h1M250 67h1M253 67h1M208 68h1M233 68h2M253 68h1M0 69h3M173 69h2M209 69h1M233 69h2M250 69h1M29 70h1M47 70h3M55 70h8M78 70h3M91 70h1M93 70h1M213 70h1M8 71h1M13 71h1M21 71h1M36 71h1M45 71h1M50 71h6M65 71h2M71 71h7M86 71h2M98 71h1M106 71h1M109 71h1M113 71h5M242 71h2M7 72h1M14 72h5M37 72h1M44 72h2M53 72h3M67 72h3M95 72h1M97 72h1M118 72h1M242 72h2M0 73h4M10 73h1M30 73h1M37 73h9M54 73h4M95 73h3M113 73h1M115 73h1M118 73h1M130 73h1M133 73h1M4 74h1M11 74h1M31 74h1M40 74h5M54 74h2M87 74h1M96 74h2M112 74h1M116 74h1M123 74h1M128 74h1M134 74h1M267 74h1M4 75h1M11 75h1M24 75h1M31 75h2M54 75h2M87 75h1M92 75h1M112 75h1M124 75h1M127 75h1M134 75h1M161 75h2M265 75h1M269 75h7M0 76h4M25 76h1M30 76h2M55 76h1M57 76h1M91 76h1M113 76h2M124 76h1M127 76h1M144 76h1M153 76h1M161 76h1M270 76h1M10 77h1M26 77h3M55 77h2M122 77h2M127 77h1M135 77h1M143 77h1M155 77h1M3 78h3M9 78h1M122 78h1M128 78h1M136 78h1M140 78h2M149 78h5M264 78h1M122 79h1M136 79h1M139 79h1M146 79h1M269 79h2M129 80h1M136 80h1M182 80h2M197 80h1M266 80h2M270 80h1M130 81h1M196 81h1M125 82h2M196 82h1M266 82h2M121 83h1M124 83h1M126 83h1M194 83h1M199 83h1M202 83h1M213 83h1M265 83h1M271 83h1M55 84h3M120 84h1M124 84h1M191 84h1M199 84h1M201 84h1M273 84h3M38 85h2M53 85h1M57 85h2M114 85h4M126 85h1M200 85h1M41 86h1M59 86h1M113 86h1M125 86h1M212 86h1M36 87h1M42 87h1M53 87h1M60 87h1M112 87h1M195 87h6M35 88h1M54 88h1M60 88h1M108 88h1M240 88h1M43 89h1M55 89h1M106 89h1M233 89h1M235 89h1M238 89h1M0 90h4M15 90h6M56 90h1M106 90h1M236 90h2M9 91h1M21 91h1M58 91h4M64 91h4M106 91h1M232 91h1M10 92h1M13 92h1M23 92h2M29 92h2M60 92h2M69 92h1M78 92h1M106 92h1M232 92h1M26 93h3M62 93h1M70 93h1M81 93h1M89 93h1M107 93h1M116 93h1M231 93h1M43 94h1M58 94h1M63 94h1M72 94h1M75 94h1M91 94h1M108 94h1M115 94h1M43 95h1M50 95h1M109 95h1M251 95h2M267 95h1M43 96h1M92 96h1M110 96h1M114 96h1M251 96h2M267 96h1M49 97h1M58 97h1M70 97h1M74 97h1M92 97h1M110 97h1M203 97h1M207 97h1M269 97h1M271 97h1M38 98h2M49 98h1M53 98h1M72 98h1M75 98h1M92 98h1M111 98h1M117 98h3M205 98h1M12 99h3M47 99h1M80 99h1M92 99h1M112 99h1M151 99h1M206 99h2M53 100h1M74 100h2M79 100h3M92 100h3M112 100h2M119 100h1M55 101h1M73 101h1M77 101h1M82 101h1M93 101h2M114 101h5M120 101h1M140 101h2M145 101h1M153 101h4M160 101h1M163 101h1M38 102h2M56 102h1M73 102h1M76 102h1M83 102h1M94 102h1M116 102h2M142 102h1M158 102h1M164 102h1M55 103h2M73 103h3M85 103h1M93 103h1M116 103h1M140 103h1M142 103h1M144 103h1M164 103h1M55 104h2M67 104h1M70 104h1M86 104h1M93 104h1M121 104h1M139 104h6M165 104h1M55 105h1M66 105h1M70 105h1M87 105h1M93 105h1M120 105h2M136 105h4M142 105h3M165 105h1M17 106h2M54 106h1M65 106h3M69 106h2M73 106h4M88 106h1M91 106h2M118 106h2M128 106h1M139 106h1M144 106h2M165 106h1M16 107h1M21 107h2M41 107h2M53 107h1M65 107h4M73 107h1M79 107h1M89 107h2M117 107h2M127 107h1M139 107h1M145 107h2M165 107h1M6 108h4M16 108h1M23 108h2M44 108h4M51 108h1M65 108h3M73 108h1M79 108h1M118 108h1M122 108h2M126 108h1M146 108h1M166 108h1M13 109h1M17 109h1M23 109h3M72 109h2M80 109h1M120 109h2M140 109h1M146 109h1M169 109h1M18 110h2M23 110h12M36 110h3M71 110h3M80 110h2M85 110h2M141 110h1M145 110h1M170 110h1M188 110h1M205 110h1M14 111h1M19 111h2M22 111h4M72 111h2M86 111h1M142 111h1M145 111h1M170 111h1M203 111h1M15 112h1M21 112h4M72 112h2M86 112h1M142 112h1M145 112h1M199 112h1M203 112h1M208 112h1M16 113h1M23 113h1M72 113h1M86 113h1M103 113h1M108 113h1M119 113h2M143 113h3M169 113h1M202 113h1M22 114h1M73 114h1M85 114h1M137 114h1M139 114h6M168 114h1M202 114h1M205 114h2M81 115h5M102 115h1M109 115h1M118 115h1M122 115h1M130 115h3M135 115h1M144 115h1M150 115h5M165 115h3M186 115h1M199 115h1M0 116h3M101 116h1M109 116h1M144 116h1M149 116h1M154 116h1M163 116h1M187 116h1M194 116h2M3 117h1M39 117h3M68 117h3M100 117h1M109 117h2M149 117h1M155 117h7M188 117h1M192 117h1M196 117h3M4 118h1M38 118h6M71 118h1M86 118h2M100 118h1M111 118h1M119 118h3M123 118h2M130 118h2M146 118h1M148 118h2M6 119h1M36 119h2M44 119h2M67 119h1M71 119h1M100 119h1M133 119h1M35 120h1M45 120h1M71 120h1M88 120h1M95 120h5M111 120h1M272 120h1M10 121h2M66 121h1M71 121h1M109 121h1M244 121h1M16 122h1M34 122h1M64 122h1M71 122h1M259 122h1M16 123h1M44 123h1M63 123h1M71 123h1M102 123h3M265 123h1M11 124h1M63 124h1M72 124h1M87 124h1M96 124h1M110 124h1M126 124h2M136 124h1M261 124h1M264 124h1M9 125h1M63 125h1M68 125h2M81 125h1M91 125h1M107 125h1M112 125h1M124 125h1M129 125h1M0 126h8M37 126h1M41 126h1M63 126h2M67 126h1M70 126h1M73 126h1M114 126h1M64 127h1M66 127h1M70 127h1M130 127h3M261 127h1M64 128h2M88 128h1M255 128h1M73 129h1M88 129h1M53 130h3M88 130h1M91 130h1M94 130h1M245 130h1M255 130h1M265 130h1M50 131h1M61 131h1M72 131h1M92 131h2M230 131h2M240 131h1M245 131h1M251 131h1M38 132h2M49 132h1M88 132h1M240 132h1M251 132h1M266 132h1M37 133h1M40 133h1M48 133h1M79 133h1M87 133h1M231 133h1M266 133h1M36 134h1M62 134h1M79 134h2M86 134h1M230 134h1M263 134h4M11 135h8M36 135h1M41 135h2M66 135h1M80 135h2M85 135h1M95 135h2M9 136h1M37 136h4M42 136h1M64 136h3M83 136h1M97 136h1M8 137h1M20 137h1M60 137h1M97 137h1M20 138h1M43 138h1M53 138h2M60 138h1M97 138h1M11 139h4M19 139h1M43 139h1M50 139h2M57 139h2M80 139h2M97 139h1M43 140h1M48 140h3M58 140h1M79 140h1M82 140h1M84 140h1M97 140h1M100 140h1M103 140h1M113 140h2M7 141h1M44 141h1M46 141h3M79 141h1M83 141h2M97 141h1M5 142h1M56 142h1M80 142h4M129 142h1M82 143h1M98 143h1M130 143h1M3 144h1M11 144h1M54 144h1M82 144h1M106 144h1M123 144h1M130 144h1M3 145h1M11 145h1M54 145h1M82 145h1M106 145h1M123 145h1M130 145h1M3 146h1M11 146h1M54 146h1M82 146h1M106 146h1M123 146h1M130 146h1"/>
<path stroke="#00b2ff" d="M2 0h1M6 0h8M62 0h2M71 0h1M74 0h3M78 0h1M85 0h1M1 1h2M6 1h8M62 1h2M71 1h1M74 1h3M78 1h1M85 1h1M1 2h2M6 2h8M62 2h2M71 2h1M74 2h3M78 2h1M85 2h1M0 3h14M62 3h1M64 3h1M71 3h1M78 3h1M107 3h5M0 4h15M62 4h1M64 4h2M72 4h1M79 4h1M84 4h1M106 4h1M112 4h1M119 4h2M0 5h18M62 5h1M66 5h1M105 5h1M5 6h8M16 6h3M61 6h1M66 6h1M73 6h1M83 6h1M105 6h1M5 7h7M17 7h5M28 7h3M60 7h1M66 7h1M185 7h2M5 8h7M18 8h1M25 8h1M31 8h1M47 8h2M59 8h1M66 8h1M13 9h1M16 9h1M35 9h1M46 9h1M49 9h1M58 9h1M74 9h1M76 9h1M78 9h1M101 9h2M106 9h1M187 9h1M272 9h1M38 10h1M40 10h1M44 10h1M49 10h1M55 10h2M69 10h1M73 10h1M79 10h1M95 10h2M100 10h1M107 10h1M271 10h1M50 11h5M94 11h1M98 11h2M103 11h1M158 11h2M76 12h1M86 12h2M94 12h1M98 12h2M103 12h1M78 13h1M95 13h2M101 13h2M85 14h1M88 14h1M270 14h1M88 15h1M104 15h5M264 15h7M64 16h1M103 16h1M108 16h2M266 16h5M43 17h1M58 17h1M69 17h1M102 17h1M110 17h2M266 17h10M0 18h4M14 18h1M18 18h1M40 18h1M44 18h4M51 18h1M56 18h1M80 18h1M154 18h1M19 19h1M26 19h2M41 19h5M76 19h1M81 19h3M115 19h1M12 20h1M20 20h1M24 20h1M29 20h1M45 20h1M72 20h2M75 20h1M85 20h1M94 20h1M97 20h3M117 20h1M12 21h1M20 21h1M36 21h3M86 21h8M129 21h1M273 21h3M20 22h1M43 22h1M87 22h7M116 22h1M233 22h2M268 22h1M11 23h1M32 23h1M40 23h2M78 23h2M89 23h5M107 23h2M114 23h1M186 23h1M235 23h1M262 23h2M10 24h2M20 24h1M37 24h2M78 24h1M91 24h3M107 24h2M113 24h1M177 24h1M184 24h1M261 24h1M22 25h1M24 25h1M91 25h5M107 25h2M128 25h2M179 25h3M184 25h3M260 25h1M6 26h1M92 26h1M105 26h3M130 26h1M182 26h1M92 27h1M109 27h1M130 27h1M182 27h1M258 27h1M92 28h1M128 28h2M6 29h1M92 29h1M6 30h1M92 30h1M5 31h1M27 31h1M32 31h1M92 31h1M225 31h1M0 32h5M35 32h1M92 32h1M106 32h1M227 32h1M256 32h1M24 33h1M37 33h1M92 33h1M106 33h1M109 33h1M223 33h1M228 33h1M20 34h1M38 34h1M90 34h3M229 34h1M245 34h2M258 34h3M17 35h1M39 35h1M67 35h1M71 35h1M89 35h1M92 35h3M222 35h1M230 35h1M241 35h2M253 35h1M262 35h1M17 36h1M39 36h1M66 36h1M72 36h1M89 36h1M93 36h1M231 36h4M239 36h1M265 36h1M271 36h1M18 37h3M36 37h3M42 37h6M67 37h1M71 37h1M89 37h1M92 37h1M271 37h1M22 38h1M25 38h1M28 38h1M34 38h1M41 38h1M48 38h2M77 38h1M82 38h1M89 38h4M102 38h1M107 38h1M23 39h2M29 39h5M41 39h1M46 39h3M77 39h1M89 39h2M98 39h1M100 39h2M220 39h1M253 39h2M272 39h1M30 40h1M42 40h3M78 40h2M82 40h1M89 40h1M97 40h1M101 40h2M251 40h3M256 40h1M259 40h1M6 41h4M74 41h2M88 41h2M96 41h1M101 41h1M199 41h2M250 41h2M255 41h1M0 42h4M74 42h2M89 42h1M101 42h1M201 42h1M251 42h4M0 43h3M13 43h1M17 43h2M23 43h1M26 43h5M75 43h1M91 43h4M101 43h1M195 43h1M0 44h3M19 44h1M22 44h1M30 44h1M77 44h2M101 44h1M193 44h1M263 44h1M0 45h3M30 45h1M76 45h1M79 45h1M101 45h1M264 45h1M20 46h2M29 46h1M63 46h1M68 46h1M75 46h1M80 46h1M100 46h2M203 46h1M221 46h1M265 46h1M71 47h3M81 47h1M89 47h5M98 47h4M203 47h1M212 47h1M266 47h1M20 48h2M28 48h1M72 48h4M80 48h2M88 48h1M94 48h1M97 48h6M197 48h3M202 48h1M222 48h1M231 48h2M267 48h1M23 49h1M27 49h1M63 49h1M68 49h1M82 49h1M96 49h4M223 49h1M233 49h1M269 49h2M82 50h1M99 50h1M224 50h1M229 50h1M234 50h1M254 50h2M16 51h1M82 51h1M224 51h1M234 51h1M252 51h1M257 51h1M83 52h2M90 52h3M227 52h1M251 52h1M20 53h1M22 53h3M35 53h3M77 53h2M227 53h1M245 53h1M249 53h1M24 54h1M35 54h2M77 54h2M94 54h1M235 54h1M21 55h3M95 55h1M237 55h6M262 55h1M21 56h1M51 56h7M261 56h1M0 57h3M21 57h1M57 57h1M97 57h1M261 57h1M22 58h1M49 58h1M55 58h2M22 59h1M54 59h1M98 59h1M47 60h1M54 60h1M98 60h1M269 60h2M23 61h1M48 61h1M54 61h2M98 61h1M165 61h1M267 61h1M23 62h1M44 62h2M54 62h6M75 62h1M162 62h1M177 62h3M250 62h1M24 63h1M30 63h1M43 63h1M74 63h1M76 63h1M96 63h1M161 63h1M177 63h2M256 63h1M25 64h1M28 64h1M42 64h1M46 64h1M65 64h1M86 64h1M154 64h1M158 64h2M167 64h1M172 64h1M178 64h1M250 64h1M256 64h1M38 65h1M40 65h2M47 65h3M84 65h1M166 65h1M179 65h1M207 65h1M212 65h1M255 65h3M50 66h1M82 66h1M151 66h1M213 66h1M61 67h1M64 67h1M77 67h1M81 67h1M153 67h1M161 67h5M173 67h2M207 67h1M214 67h1M0 68h3M35 68h1M78 68h3M172 68h1M29 69h1M36 69h1M51 69h9M78 69h3M0 70h3M26 70h3M36 70h1M44 70h3M50 70h5M63 70h2M72 70h1M75 70h3M81 70h2M89 70h2M101 70h2M211 70h1M251 70h1M0 71h4M7 71h1M19 71h2M37 71h1M43 71h2M67 71h4M95 71h1M97 71h1M0 72h7M38 72h6M96 72h1M133 72h3M4 73h3M26 73h4M88 73h1M114 73h1M119 73h2M129 73h1M134 73h1M149 73h1M5 74h1M25 74h1M30 74h1M56 74h2M115 74h1M124 74h1M127 74h1M145 74h1M152 74h1M266 74h1M5 75h1M30 75h1M56 75h2M115 75h1M125 75h2M153 75h1M160 75h1M4 76h2M10 76h1M26 76h1M28 76h2M56 76h1M89 76h2M125 76h2M135 76h1M154 76h2M160 76h1M162 76h1M264 76h1M0 77h6M124 77h3M136 77h1M142 77h1M156 77h7M252 77h1M264 77h1M6 78h3M123 78h2M126 78h2M137 78h3M154 78h1M161 78h2M123 79h2M126 79h3M264 79h1M122 80h1M127 80h2M198 80h1M264 80h2M268 80h1M122 81h1M124 81h3M136 81h1M265 81h3M270 81h1M122 82h3M132 82h3M195 82h1M199 82h1M265 82h1M268 82h1M122 83h2M193 83h1M261 83h1M268 83h1M121 84h1M200 84h1M214 84h1M266 84h2M272 84h1M54 85h3M124 85h1M190 85h1M214 85h1M227 85h2M37 86h1M40 86h1M53 86h1M57 86h2M114 86h1M126 86h1M213 86h2M216 86h1M224 86h2M58 87h2M190 87h1M216 87h1M224 87h2M42 88h1M55 88h1M59 88h1M109 88h1M203 88h7M226 88h1M35 89h1M56 89h1M60 89h1M227 89h1M234 89h1M239 89h1M34 90h1M43 90h1M57 90h4M228 90h1M233 90h1M235 90h1M7 91h2M14 91h2M19 91h2M33 91h1M43 91h1M229 91h1M236 91h2M21 92h2M31 92h1M43 92h1M62 92h2M68 92h1M107 92h1M236 92h2M11 93h2M25 93h1M29 93h1M43 93h1M69 93h1M77 93h1M79 93h2M90 93h1M115 93h1M120 93h1M230 93h1M27 94h1M53 94h1M71 94h1M86 94h2M203 94h2M0 95h3M74 95h1M91 95h1M114 95h1M176 95h2M201 95h1M206 95h1M0 96h3M50 96h1M111 96h2M131 96h1M201 96h1M207 96h1M67 97h1M71 97h1M73 97h1M75 97h1M111 97h2M114 97h1M121 97h1M202 97h1M272 97h1M37 98h1M52 98h1M112 98h1M115 98h2M120 98h1M148 98h1M208 98h1M226 98h1M11 99h1M15 99h1M36 99h1M40 99h1M43 99h1M48 99h1M52 99h1M76 99h1M81 99h1M113 99h1M119 99h1M147 99h1M208 99h1M226 99h1M11 100h5M37 100h1M76 100h3M114 100h5M120 100h1M146 100h1M152 100h1M11 101h5M54 101h1M74 101h3M91 101h2M142 101h1M157 101h1M0 102h7M11 102h7M54 102h2M74 102h2M84 102h1M90 102h4M121 102h1M139 102h1M144 102h1M165 102h1M0 103h7M11 103h7M54 103h1M86 103h1M92 103h1M121 103h1M139 103h1M143 103h1M165 103h2M0 104h7M11 104h2M54 104h1M68 104h2M87 104h1M92 104h1M122 104h1M136 104h3M166 104h2M15 105h4M26 105h1M54 105h1M67 105h3M88 105h1M91 105h2M122 105h1M128 105h8M140 105h2M166 105h2M14 106h3M19 106h2M26 106h2M53 106h1M68 106h1M89 106h2M120 106h4M127 106h1M140 106h4M166 106h1M14 107h2M23 107h5M43 107h1M52 107h1M74 107h5M119 107h1M121 107h3M140 107h1M144 107h1M166 107h1M0 108h6M10 108h6M25 108h6M40 108h1M48 108h3M74 108h1M119 108h3M124 108h2M140 108h1M145 108h1M167 108h1M173 108h2M14 109h3M26 109h11M39 109h1M74 109h1M79 109h1M141 109h2M145 109h1M170 109h1M195 109h1M14 110h1M16 110h2M74 110h3M78 110h2M82 110h3M142 110h1M144 110h1M197 110h1M208 110h1M15 111h4M74 111h3M79 111h4M85 111h1M143 111h2M187 111h1M198 111h1M16 112h5M74 112h1M80 112h2M85 112h1M143 112h2M170 112h1M186 112h1M202 112h1M17 113h1M21 113h2M73 113h1M85 113h1M104 113h4M200 113h2M208 113h1M17 114h5M74 114h11M103 114h1M108 114h1M138 114h1M200 114h2M103 115h1M108 115h1M143 115h1M102 116h2M108 116h1M118 116h1M126 116h3M150 116h4M199 116h1M0 117h3M101 117h3M108 117h1M118 117h1M126 117h3M144 117h1M150 117h1M154 117h1M193 117h3M68 118h1M70 118h1M101 118h3M109 118h2M122 118h1M132 118h1M150 118h1M197 118h1M263 118h1M38 119h6M86 119h2M101 119h1M111 119h1M134 119h1M148 119h3M36 120h1M44 120h1M67 120h1M86 120h1M100 120h2M109 120h2M135 120h1M9 121h1M35 121h1M44 121h1M108 121h1M247 121h1M44 122h1M65 122h2M108 122h1M242 122h1M250 122h1M34 123h1M64 123h2M86 123h1M100 123h2M105 123h2M108 123h1M243 123h1M253 123h1M35 124h1M43 124h1M64 124h2M70 124h2M107 124h3M260 124h1M0 125h5M7 125h2M36 125h1M42 125h1M64 125h1M67 125h1M70 125h1M72 125h1M89 125h1M125 125h4M136 125h1M40 126h1M65 126h2M89 126h2M107 126h1M113 126h1M123 126h2M129 126h1M65 127h1M72 127h1M106 127h1M128 127h2M133 127h1M259 127h2M262 127h2M71 128h2M96 128h2M128 128h2M247 128h3M254 128h1M264 128h1M71 129h2M95 129h1M245 129h1M253 129h1M72 130h2M75 130h1M251 130h1M254 130h1M51 131h4M77 131h1M91 131h1M229 131h1M238 131h1M266 131h1M50 132h1M61 132h1M72 132h1M78 132h1M229 132h1M232 132h1M238 132h1M245 132h1M256 132h1M49 133h1M78 133h1M88 133h1M229 133h1M246 133h1M258 133h1M40 134h1M43 134h1M47 134h2M69 134h1M78 134h1M87 134h1M104 134h1M231 134h1M247 134h1M250 134h1M261 134h2M37 135h1M40 135h1M62 135h1M67 135h1M78 135h2M86 135h1M93 135h2M97 135h1M248 135h2M10 136h1M14 136h2M19 136h1M43 136h1M62 136h2M67 136h1M80 136h3M84 136h2M93 136h1M43 137h1M59 137h1M61 137h1M64 137h3M93 137h1M183 137h3M8 138h1M44 138h1M47 138h6M55 138h1M58 138h1M61 138h1M86 138h2M92 138h1M182 138h4M8 139h1M10 139h1M15 139h2M18 139h1M44 139h6M59 139h1M79 139h1M82 139h1M85 139h1M8 140h2M44 140h4M78 140h1M83 140h1M125 140h2M9 141h1M45 141h1M58 141h1M78 141h1M104 141h1M115 141h1M124 141h1M128 141h1M130 141h2M6 142h1M78 142h2M98 142h2M105 142h1M113 142h3M130 142h1M4 143h1M10 143h1M55 143h1M78 143h4M106 143h1M123 143h1M78 144h1M81 144h1M116 144h1M78 145h1M81 145h1M116 145h1M78 146h1M81 146h1M116 146h1"/>
<path stroke="#00ccff" d="M0 0h2M3 0h3M72 0h2M77 0h1M107 0h5M0 1h1M3 1h3M72 1h2M77 1h1M107 1h5M0 2h1M3 2h3M72 2h2M77 2h1M107 2h5M63 3h1M72 3h5M85 3h1M106 3h1M112 3h1M63 4h1M73 4h1M105 4h1M63 5h3M73 5h1M79 5h1M84 5h1M104 5h1M118 5h1M121 5h1M0 6h5M62 6h4M104 6h1M4 7h1M61 7h2M65 7h1M74 7h1M80 7h3M105 7h1M19 8h1M22 8h1M26 8h1M60 8h2M75 8h4M101 8h2M187 8h1M273 8h3M6 9h7M17 9h1M34 9h1M47 9h2M59 9h2M66 9h1M75 9h1M79 9h1M100 9h1M271 9h1M41 10h1M43 10h1M45 10h2M57 10h2M68 10h1M74 10h2M94 10h1M97 10h3M103 10h1M106 10h1M112 10h1M158 10h2M184 10h1M49 11h1M55 11h1M75 11h1M86 11h2M157 11h1M160 11h1M50 12h4M85 12h1M88 12h1M158 12h2M77 13h1M79 13h1M85 13h1M88 13h1M94 13h1M97 13h4M103 13h1M270 13h1M104 14h5M116 14h1M245 14h2M264 14h6M85 15h1M103 15h1M109 15h1M115 15h2M263 15h1M59 16h3M63 16h1M68 16h1M86 16h2M102 16h1M110 16h1M154 16h1M157 16h1M264 16h2M0 17h4M15 17h3M40 17h1M44 17h7M57 17h1M80 17h2M112 17h2M153 17h1M158 17h1M194 17h2M260 17h3M265 17h1M4 18h1M19 18h1M39 18h1M52 18h1M55 18h1M70 18h1M77 18h3M81 18h2M101 18h1M114 18h1M194 18h2M260 18h2M268 18h8M13 19h1M20 19h1M25 19h1M39 19h2M71 19h1M75 19h1M84 19h2M100 19h1M272 19h4M21 20h3M35 20h5M44 20h1M74 20h1M86 20h8M129 20h1M242 20h1M254 20h2M273 20h3M11 21h1M21 21h3M31 21h1M35 21h1M39 21h1M44 21h1M128 21h1M242 21h2M254 21h2M272 21h1M11 22h1M21 22h1M24 22h1M32 22h1M37 22h6M263 22h2M267 22h1M20 23h2M39 23h1M177 23h1M184 23h1M231 23h1M261 23h1M9 24h1M21 24h1M33 24h4M178 24h2M183 24h1M187 24h1M231 24h1M235 24h1M260 24h1M7 25h1M23 25h1M96 25h1M99 25h1M113 25h1M177 25h2M182 25h2M227 25h2M233 25h1M93 26h2M100 26h1M113 26h1M178 26h1M183 26h2M229 26h1M259 26h1M5 27h1M93 27h1M104 27h1M112 27h1M183 27h1M226 27h1M5 28h1M93 28h1M127 28h1M180 28h3M227 28h2M256 28h1M5 29h1M93 29h1M122 29h2M5 30h1M93 30h1M122 30h1M4 31h1M93 31h1M224 31h1M226 31h2M26 32h1M33 32h2M93 32h2M109 32h1M187 32h3M228 32h1M25 33h1M36 33h1M93 33h2M188 33h2M256 33h1M21 34h1M37 34h1M93 34h4M244 34h1M247 34h5M257 34h1M18 35h1M38 35h1M68 35h1M70 35h1M90 35h2M95 35h2M240 35h1M261 35h1M18 36h1M38 36h1M67 36h1M90 36h3M94 36h4M221 36h1M254 36h1M262 36h1M266 36h1M270 36h1M21 37h1M34 37h2M68 37h3M90 37h2M93 37h2M104 37h2M254 37h1M263 37h2M23 38h2M29 38h5M42 38h6M78 38h2M93 38h1M98 38h4M108 38h1M220 38h1M254 38h1M271 38h1M42 39h4M78 39h1M82 39h1M91 39h3M97 39h1M108 39h1M255 39h2M80 40h2M90 40h2M96 40h1M106 40h1M182 40h2M220 40h1M254 40h2M273 40h3M90 41h1M102 41h3M181 41h1M184 41h1M197 41h1M252 41h3M260 41h1M4 42h1M10 42h2M90 42h2M94 42h2M102 42h1M184 42h1M261 42h1M3 43h1M24 43h2M102 43h1M183 43h1M202 43h1M220 43h1M262 43h1M3 44h1M15 44h1M29 44h1M102 44h1M209 44h2M220 44h1M19 45h1M22 45h1M29 45h1M77 45h2M102 45h1M203 45h1M209 45h2M220 45h1M0 46h3M19 46h1M22 46h1M64 46h1M67 46h1M76 46h1M79 46h1M102 46h1M210 46h1M20 47h2M28 47h1M70 47h1M74 47h2M80 47h1M102 47h1M193 47h1M204 47h1M211 47h1M213 47h1M221 47h1M19 48h1M22 48h1M71 48h1M76 48h1M79 48h1M89 48h5M203 48h1M268 48h1M17 49h1M24 49h3M64 49h1M67 49h1M83 49h1M85 49h4M94 49h2M195 49h1M230 49h3M271 49h5M16 50h1M97 50h2M103 50h1M233 50h1M99 51h1M229 51h1M253 51h1M256 51h1M16 52h2M93 52h1M101 52h1M223 52h1M228 52h1M234 52h1M252 52h1M261 52h1M19 53h1M94 53h1M234 53h1M247 53h1M250 53h1M20 54h4M20 55h1M96 55h1M226 55h1M236 55h1M243 55h1M3 56h1M20 56h1M97 56h1M50 57h1M53 57h4M260 57h1M21 58h1M53 58h2M98 58h1M262 58h1M48 59h1M53 59h1M99 59h1M264 59h1M22 60h1M48 60h1M53 60h1M99 60h1M265 60h1M271 60h2M22 61h1M53 61h1M164 61h1M179 61h1M252 61h3M266 61h1M268 61h3M22 62h1M53 62h1M89 62h2M98 62h1M176 62h1M180 62h1M256 62h1M31 63h1M34 63h1M44 63h2M49 63h1M53 63h3M59 63h2M75 63h1M88 63h1M91 63h1M97 63h1M160 63h1M173 63h1M176 63h1M180 63h1M257 63h1M36 64h1M43 64h1M49 64h1M60 64h1M66 64h2M70 64h2M76 64h1M168 64h1M177 64h1M180 64h1M208 64h1M211 64h1M257 64h1M25 65h1M42 65h1M46 65h1M50 65h2M60 65h1M65 65h1M76 65h1M85 65h1M113 65h2M151 65h1M171 65h1M178 65h1M180 65h1M200 65h2M206 65h1M250 65h1M258 65h1M39 66h4M47 66h3M51 66h2M60 66h1M83 66h1M113 66h1M179 66h1M200 66h2M206 66h1M250 66h1M254 66h1M257 66h1M26 67h2M49 67h4M60 67h1M158 67h3M172 67h1M30 68h1M44 68h2M50 68h6M58 68h4M77 68h1M167 68h2M175 68h1M207 68h1M215 68h1M3 69h1M28 69h1M37 69h1M44 69h3M49 69h2M60 69h2M76 69h2M81 69h1M168 69h1M172 69h1M208 69h1M253 69h1M3 70h1M11 70h1M24 70h2M37 70h1M43 70h1M65 70h7M73 70h2M83 70h1M88 70h1M94 70h1M100 70h1M103 70h2M210 70h1M252 70h1M4 71h3M14 71h1M18 71h1M38 71h5M96 71h1M107 71h2M118 71h1M135 71h1M119 72h1M130 72h3M136 72h1M7 73h3M89 73h2M121 73h2M128 73h1M135 73h1M147 73h2M150 73h1M6 74h1M10 74h1M29 74h1M91 74h1M125 74h2M135 74h1M268 74h1M6 75h1M25 75h1M29 75h1M88 75h1M91 75h1M135 75h1M144 75h1M154 75h1M159 75h1M163 75h1M264 75h1M6 76h1M27 76h1M136 76h1M143 76h1M156 76h4M163 76h1M6 77h2M9 77h1M137 77h5M163 77h1M251 77h1M253 77h1M263 77h1M125 78h1M155 78h6M252 78h1M263 78h1M125 79h1M137 79h2M147 79h1M161 79h2M263 79h1M123 80h4M137 80h2M196 80h1M263 80h1M269 80h1M123 81h1M127 81h3M139 81h1M145 81h1M195 81h1M199 81h1M263 81h2M268 81h2M127 82h1M131 82h1M135 82h1M182 82h1M194 82h1M261 82h4M270 82h1M127 83h1M192 83h1M200 83h2M260 83h1M262 83h1M264 83h1M122 84h2M261 84h1M268 84h1M118 85h1M229 85h1M236 85h3M54 86h3M124 86h1M215 86h1M37 87h1M41 87h1M54 87h4M113 87h1M215 87h1M36 88h1M56 88h3M110 88h1M202 88h1M210 88h1M57 89h3M107 89h1M240 89h1M234 90h1M238 90h1M0 91h7M16 91h3M107 91h1M233 91h1M235 91h1M238 91h1M9 92h1M14 92h1M20 92h1M32 92h1M64 92h1M67 92h1M117 92h3M235 92h1M238 92h1M10 93h1M22 93h3M30 93h1M63 93h1M78 93h1M108 93h1M232 93h1M236 93h2M26 94h1M28 94h2M54 94h1M70 94h1M76 94h1M85 94h1M88 94h3M109 94h1M114 94h1M121 94h1M176 94h2M202 94h1M205 94h1M251 94h1M269 94h2M51 95h1M58 95h1M73 95h1M75 95h1M110 95h4M131 95h1M200 95h1M250 95h1M3 96h1M58 96h1M64 96h1M74 96h2M91 96h1M113 96h1M122 96h1M132 96h1M200 96h1M250 96h1M253 96h1M0 97h3M50 97h1M65 97h2M72 97h1M91 97h1M113 97h1M208 97h1M227 97h1M251 97h2M268 97h1M273 97h3M20 98h1M36 98h1M40 98h1M42 98h1M50 98h2M76 98h1M113 98h2M151 98h1M204 98h1M10 99h1M20 99h2M49 99h1M79 99h1M114 99h5M120 99h1M205 99h1M0 100h4M10 100h1M16 100h1M40 100h1M52 100h1M82 100h1M91 100h1M145 100h1M206 100h2M227 100h2M0 101h11M16 101h3M53 101h1M83 101h1M90 101h1M121 101h1M139 101h1M144 101h1M158 101h2M164 101h1M7 102h4M18 102h1M53 102h1M85 102h1M88 102h2M143 102h1M166 102h1M7 103h4M18 103h1M38 103h2M53 103h1M87 103h5M122 103h1M137 103h2M167 103h1M7 104h4M13 104h6M53 104h1M88 104h1M91 104h1M123 104h1M128 104h4M133 104h3M168 104h1M0 105h15M19 105h1M25 105h1M27 105h1M52 105h2M89 105h2M123 105h2M127 105h1M168 105h1M0 106h14M21 106h5M41 106h2M52 106h1M124 106h1M126 106h1M167 106h1M0 107h14M28 107h2M40 107h1M44 107h1M48 107h4M120 107h1M124 107h3M141 107h3M172 107h3M31 108h1M75 108h4M141 108h4M168 108h2M171 108h2M175 108h1M37 109h2M75 109h4M143 109h2M171 109h4M194 109h1M196 109h1M15 110h1M77 110h1M143 110h1M171 110h4M204 110h1M77 111h2M83 111h2M171 111h1M199 111h1M202 111h1M209 111h1M75 112h5M82 112h3M200 112h2M18 113h3M74 113h11M170 113h1M104 114h4M119 114h2M169 114h1M207 114h1M104 115h4M121 115h1M136 115h1M141 115h2M168 115h1M200 115h1M203 115h1M104 116h4M124 116h2M129 116h1M143 116h1M167 116h1M104 117h4M125 117h1M129 117h1M151 117h3M162 117h1M199 117h1M261 117h1M3 118h1M69 118h1M104 118h5M133 118h2M145 118h1M151 118h1M193 118h4M198 118h1M259 118h1M5 119h1M70 119h1M102 119h9M147 119h1M151 119h1M265 119h1M272 119h1M6 120h1M37 120h3M42 120h2M70 120h1M87 120h1M102 120h7M245 120h2M258 120h1M8 121h1M67 121h1M70 121h1M86 121h1M89 121h2M98 121h10M136 121h1M243 121h1M251 121h2M273 121h3M15 122h1M70 122h1M102 122h6M241 122h1M254 122h1M66 123h1M70 123h1M99 123h1M107 123h1M247 123h1M259 123h1M0 124h4M10 124h1M66 124h4M88 124h1M95 124h1M5 125h2M37 125h1M41 125h1M65 125h2M71 125h1M90 125h1M108 125h4M38 126h2M71 126h2M125 126h4M71 127h1M89 127h2M119 127h2M126 127h2M134 127h1M258 127h1M90 128h1M98 128h7M127 128h1M130 128h1M246 128h1M251 129h2M265 129h1M74 130h1M90 130h1M95 130h1M230 130h1M239 130h1M252 130h2M266 130h1M55 131h2M60 131h1M73 131h1M89 131h2M94 131h1M101 131h2M232 131h1M252 131h2M255 131h1M51 132h1M89 132h5M101 132h2M267 132h1M38 133h2M50 133h1M61 133h1M71 133h1M91 133h4M100 133h3M232 133h1M239 133h2M251 133h1M267 133h1M37 134h1M44 134h1M46 134h1M49 134h1M92 134h9M103 134h1M105 134h1M229 134h1M260 134h1M267 134h1M43 135h1M47 135h2M57 135h1M68 135h1M87 135h1M92 135h1M98 135h1M104 135h1M230 135h1M265 135h2M13 136h1M16 136h1M47 136h3M61 136h1M68 136h1M78 136h2M86 136h2M92 136h1M9 137h1M14 137h2M44 137h8M58 137h1M62 137h2M67 137h1M80 137h3M86 137h2M141 137h1M182 137h1M186 137h1M14 138h2M45 138h2M56 138h2M65 138h2M79 138h3M88 138h1M91 138h1M140 138h2M186 138h1M9 139h1M17 139h1M60 139h1M78 139h1M83 139h2M59 140h1M77 140h1M115 140h1M127 140h1M131 140h1M8 141h1M77 141h1M99 141h1M112 141h1M116 141h1M129 141h1M132 141h1M7 142h1M9 142h1M57 142h1M77 142h1M116 142h1M131 142h1M5 143h1M77 143h1M115 143h3M131 143h1M4 144h1M10 144h1M77 144h1M79 144h2M115 144h1M117 144h1M122 144h1M4 145h1M10 145h1M77 145h1M79 145h2M115 145h1M117 145h1M122 145h1M4 146h1M10 146h1M77 146h1M79 146h2M115 146h1M117 146h1M122 146h1"/>
<path stroke="#00e5ff" d="M86 0h1M106 0h1M112 0h1M86 1h1M106 1h1M112 1h1M86 2h1M106 2h1M112 2h1M77 3h1M105 3h1M119 3h2M74 4h2M78 4h1M85 4h1M103 4h2M113 4h1M118 4h1M121 4h1M74 5h1M103 5h1M113 5h1M74 6h1M79 6h1M84 6h1M102 6h2M113 6h1M118 6h1M121 6h1M63 7h2M75 7h1M79 7h1M83 7h2M101 7h4M113 7h1M4 8h1M20 8h2M27 8h4M62 8h1M64 8h2M79 8h3M100 8h1M103 8h1M105 8h1M113 8h1M272 8h1M5 9h1M18 9h1M23 9h2M33 9h1M61 9h1M86 9h1M94 9h4M99 9h1M103 9h1M105 9h1M113 9h1M156 9h4M270 9h1M37 10h1M42 10h1M47 10h2M59 10h3M80 10h1M85 10h3M93 10h1M113 10h1M156 10h2M160 10h1M270 10h1M44 11h3M48 11h1M56 11h3M80 11h1M85 11h1M88 11h1M93 11h1M107 11h6M156 11h1M161 11h1M270 11h1M49 12h1M54 12h1M80 12h1M89 12h1M93 12h1M104 12h1M156 12h2M160 12h1M270 12h1M84 13h1M89 13h1M93 13h1M104 13h5M264 13h6M84 14h1M89 14h1M94 14h4M101 14h3M109 14h1M114 14h2M117 14h1M263 14h1M84 15h1M89 15h1M102 15h1M110 15h1M114 15h1M117 15h1M155 15h2M245 15h2M262 15h1M58 16h1M62 16h1M80 16h2M85 16h1M88 16h1M111 16h4M261 16h3M4 17h1M14 17h1M18 17h1M51 17h1M56 17h1M79 17h1M82 17h1M86 17h2M101 17h1M114 17h1M196 17h1M259 17h1M263 17h2M5 18h1M13 18h1M20 18h1M53 18h2M75 18h2M83 18h1M158 18h1M196 18h2M259 18h1M262 18h1M265 18h3M12 19h1M21 19h2M28 19h1M36 19h3M72 19h3M86 19h5M94 19h4M99 19h1M116 19h1M260 19h3M271 19h1M11 20h1M30 20h1M34 20h1M40 20h4M128 20h1M243 20h1M272 20h1M32 21h3M40 21h4M130 21h1M271 21h1M10 22h1M22 22h2M33 22h4M117 22h1M232 22h1M260 22h3M265 22h2M10 23h1M22 23h1M24 23h1M33 23h1M37 23h2M115 23h1M176 23h1M178 23h1M187 23h1M260 23h1M22 24h1M24 24h1M114 24h1M176 24h1M180 24h3M97 25h1M114 25h1M127 25h1M187 25h1M229 25h1M232 25h1M234 25h1M259 25h1M5 26h1M95 26h1M126 26h1M185 26h2M226 26h1M94 27h1M105 27h4M126 27h1M178 27h1M184 27h1M229 27h1M257 27h1M94 28h1M102 28h2M130 28h1M179 28h1M183 28h2M94 29h1M121 29h1M183 29h1M29 30h2M94 30h2M120 30h2M123 30h1M3 31h1M94 31h2M188 31h1M228 31h1M95 32h1M186 32h1M223 32h1M255 32h1M34 33h2M95 33h3M187 33h1M229 33h1M22 34h1M35 34h2M97 34h2M107 34h2M222 34h1M230 34h1M252 34h2M256 34h1M19 35h2M37 35h1M69 35h1M97 35h2M231 35h9M254 35h1M258 35h3M19 36h2M36 36h2M71 36h1M98 36h1M267 36h3M26 37h3M32 37h2M95 37h6M103 37h1M106 37h1M220 37h1M255 37h1M262 37h1M265 37h1M80 38h2M94 38h1M97 38h1M255 38h2M262 38h2M79 39h1M81 39h1M94 39h1M96 39h1M257 39h4M271 39h1M92 40h4M260 40h2M272 40h1M91 41h1M94 41h2M105 41h1M201 41h1M220 41h1M261 41h1M5 42h3M9 42h1M92 42h2M103 42h1M181 42h1M196 42h1M202 42h1M220 42h1M4 43h1M12 43h1M103 43h1M182 43h1M194 43h1M263 43h1M14 44h1M16 44h1M18 44h1M23 44h1M203 44h1M219 44h1M264 44h1M3 45h1M211 45h1M265 45h1M28 46h1M65 46h2M77 46h2M204 46h1M209 46h1M211 46h2M220 46h1M266 46h1M0 47h3M19 47h1M22 47h1M63 47h1M69 47h1M76 47h1M79 47h1M205 47h1M209 47h2M267 47h1M18 48h1M23 48h1M27 48h1M63 48h1M69 48h2M77 48h2M193 48h1M204 48h2M211 48h3M221 48h1M16 49h1M65 49h2M84 49h1M89 49h5M103 49h1M194 49h1M196 49h1M222 49h1M15 50h1M96 50h1M223 50h1M230 50h3M15 51h1M86 51h4M97 51h2M103 51h1M233 51h1M254 51h2M15 52h1M94 52h1M100 52h1M102 52h1M233 52h1M253 52h1M260 52h1M15 53h4M246 53h1M251 53h1M262 53h1M19 54h1M95 54h1M227 54h1M234 54h1M248 54h3M0 55h3M223 55h1M235 55h1M260 56h1M3 57h1M20 57h1M51 57h2M98 57h1M20 58h1M50 58h3M99 58h1M261 58h1M21 59h1M49 59h1M52 59h1M21 60h1M49 60h1M52 60h1M167 60h3M179 60h1M273 60h3M21 61h1M49 61h1M99 61h1M163 61h1M172 61h1M177 61h2M180 61h1M251 61h1M255 61h1M265 61h1M271 61h1M21 62h1M49 62h1M161 62h1M173 62h1M175 62h1M249 62h1M265 62h5M22 63h2M32 63h2M56 63h3M158 63h2M175 63h1M209 63h2M249 63h1M258 63h1M24 64h1M29 64h1M44 64h2M52 64h3M68 64h2M72 64h2M87 64h1M153 64h1M173 64h1M175 64h2M212 64h1M258 64h1M28 65h1M37 65h1M43 65h1M52 65h2M150 65h1M170 65h1M172 65h1M177 65h1M202 65h1M205 65h1M213 65h1M259 65h1M25 66h1M38 66h1M43 66h1M46 66h1M53 66h1M65 66h1M76 66h1M114 66h1M150 66h1M166 66h1M173 66h2M178 66h1M180 66h1M202 66h1M205 66h1M214 66h1M255 66h2M258 66h1M0 67h3M28 67h1M33 67h1M38 67h11M53 67h2M76 67h1M82 67h1M152 67h1M166 67h1M171 67h1M175 67h1M179 67h1M206 67h1M3 68h1M27 68h3M36 68h2M43 68h1M46 68h1M49 68h1M56 68h2M62 68h2M76 68h1M81 68h1M166 68h1M169 68h3M232 68h1M235 68h1M27 69h1M38 69h1M43 69h1M47 69h2M62 69h3M69 69h7M90 69h1M167 69h1M169 69h1M175 69h1M215 69h1M232 69h1M235 69h1M4 70h1M9 70h2M12 70h1M22 70h2M38 70h5M84 70h2M99 70h1M105 70h1M209 70h1M214 70h1M15 71h3M119 71h1M133 71h2M136 71h1M120 72h1M128 72h2M123 73h2M127 73h1M136 73h1M146 73h1M26 74h1M28 74h1M88 74h1M113 74h2M153 74h1M161 74h2M265 74h1M269 74h7M10 75h1M26 75h1M28 75h1M113 75h2M155 75h4M164 75h1M7 76h1M142 76h1M164 76h1M263 76h1M8 77h1M164 77h1M254 77h1M262 77h1M163 78h1M251 78h1M253 78h1M261 78h2M148 79h1M163 79h1M261 79h2M146 80h1M161 80h2M199 80h1M262 80h1M181 81h1M261 81h2M130 82h1M183 82h1M192 82h2M200 82h1M260 82h1M269 82h1M191 83h1M263 83h1M269 83h2M127 84h1M190 84h1M260 84h1M265 84h1M271 84h1M119 85h1M123 85h1M127 85h1M218 85h4M226 85h1M230 85h1M234 85h2M239 85h1M38 86h2M115 86h1M40 87h1M125 87h1M212 87h1M214 87h1M37 88h1M40 88h2M111 88h1M220 88h3M36 89h2M42 89h1M241 89h1M35 90h1M42 90h1M107 90h1M239 90h1M34 91h1M42 91h1M234 91h1M239 91h1M8 92h1M15 92h1M19 92h1M42 92h1M65 92h2M108 92h1M116 92h1M229 92h1M233 92h2M239 92h1M9 93h1M13 93h1M20 93h2M31 93h1M42 93h1M64 93h1M68 93h1M109 93h1M114 93h1M238 93h1M0 94h3M25 94h1M30 94h2M42 94h1M55 94h1M57 94h1M64 94h1M69 94h1M84 94h1M110 94h1M113 94h1M201 94h1M206 94h1M252 94h1M271 94h1M3 95h1M26 95h5M42 95h1M64 95h1M72 95h1M90 95h1M122 95h1M132 95h1M207 95h1M253 95h1M266 95h1M42 96h1M51 96h1M69 96h2M73 96h1M130 96h1M176 96h2M266 96h1M3 97h1M42 97h1M51 97h2M57 97h1M201 97h1M228 97h1M0 98h4M10 98h5M21 98h1M35 98h1M41 98h1M80 98h2M91 98h1M121 98h1M203 98h1M209 98h1M229 98h1M0 99h5M16 99h1M35 99h1M50 99h2M77 99h2M82 99h1M91 99h1M146 99h1M209 99h1M229 99h1M4 100h6M17 100h1M19 100h3M83 100h1M90 100h1M121 100h1M140 100h2M153 100h2M161 100h2M19 101h1M37 101h1M40 101h1M84 101h1M89 101h1M143 101h1M165 101h1M261 101h1M19 102h1M86 102h2M122 102h1M128 102h3M138 102h1M167 102h4M19 103h1M123 103h2M127 103h10M168 103h3M19 104h1M26 104h2M52 104h1M89 104h2M124 104h4M132 104h1M169 104h1M20 105h1M28 105h1M41 105h1M51 105h1M125 105h2M169 105h1M28 106h1M40 106h1M43 106h1M50 106h2M125 106h1M168 106h7M30 107h1M45 107h3M167 107h5M175 107h2M32 108h5M39 108h1M170 108h1M176 108h1M175 109h1M193 109h1M197 109h1M175 110h1M198 110h1M203 110h1M172 111h2M200 111h2M171 112h1M209 112h1M140 115h1M185 115h1M201 115h2M204 115h1M123 116h1M130 116h2M133 116h2M142 116h1M164 116h1M166 116h1M200 116h1M123 117h2M130 117h2M143 117h1M200 117h1M260 117h1M0 118h3M152 118h6M190 118h3M199 118h1M3 119h2M68 119h2M135 119h1M146 119h1M152 119h1M195 119h5M258 119h1M5 120h1M40 120h2M149 120h2M244 120h1M247 120h1M6 121h2M36 121h2M43 121h1M87 121h2M91 121h1M200 121h1M253 121h1M12 122h3M35 122h1M67 122h1M86 122h1M100 122h2M200 122h1M12 123h1M15 123h1M35 123h1M43 123h1M67 123h3M242 123h1M250 123h1M4 124h3M36 124h1M93 124h2M265 124h1M40 125h1M261 125h3M108 126h1M112 126h1M136 126h1M261 126h3M107 127h1M117 127h2M121 127h1M124 127h2M135 127h1M257 127h1M264 127h1M89 128h1M105 128h1M126 128h1M250 128h1M253 128h1M265 128h1M89 129h2M96 129h1M127 129h3M89 130h1M101 130h2M231 130h1M238 130h1M240 130h1M57 131h3M76 131h1M100 131h1M228 131h1M233 131h1M237 131h1M241 131h1M244 131h1M254 131h1M267 131h1M52 132h4M77 132h1M94 132h1M99 132h2M103 132h1M228 132h1M233 132h1M237 132h1M241 132h1M244 132h1M252 132h1M56 133h2M77 133h1M89 133h2M95 133h5M103 133h2M228 133h1M238 133h1M245 133h1M257 133h1M39 134h1M45 134h1M56 134h2M70 134h1M77 134h1M88 134h1M91 134h1M101 134h2M228 134h1M232 134h1M38 135h2M46 135h1M49 135h1M56 135h1M69 135h1M77 135h1M88 135h1M91 135h1M99 135h1M103 135h1M105 135h1M229 135h1M231 135h1M263 135h2M267 135h1M11 136h2M17 136h2M44 136h3M50 136h2M56 136h3M69 136h1M88 136h1M91 136h1M98 136h1M19 137h1M52 137h4M57 137h1M68 137h1M78 137h2M83 137h3M88 137h1M92 137h1M140 137h1M181 137h1M9 138h1M13 138h1M19 138h1M62 138h3M67 138h1M78 138h1M82 138h1M85 138h1M89 138h2M181 138h1M61 139h1M77 139h1M183 139h1M76 140h1M104 140h1M112 140h1M130 140h1M132 140h1M75 141h2M98 141h1M105 141h1M8 142h1M75 142h2M106 142h1M117 142h1M123 142h1M132 142h1M6 143h1M9 143h1M76 143h1M107 143h1M114 143h1M118 143h1M122 143h1M55 144h1M76 144h1M107 144h1M118 144h1M121 144h1M131 144h1M55 145h1M76 145h1M107 145h1M118 145h1M121 145h1M131 145h1M55 146h1M76 146h1M107 146h1M118 146h1M121 146h1M131 146h1"/>
<path stroke="#00ffff" d="M87 0h1M101 0h5M113 0h11M173 0h2M87 1h1M101 1h5M113 1h11M173 1h2M87 2h1M101 2h5M113 2h11M173 2h2M86 3h1M101 3h4M113 3h3M117 3h2M121 3h2M173 3h2M76 4h2M101 4h2M122 4h1M85 5h1M101 5h2M85 6h1M101 6h1M0 7h4M76 7h3M85 7h1M100 7h1M119 7h2M184 7h1M63 8h1M82 8h5M99 8h1M104 8h1M249 8h1M270 8h2M19 9h1M22 9h1M25 9h1M31 9h2M62 9h4M80 9h6M87 9h1M92 9h2M98 9h1M104 9h1M155 9h1M160 9h1M179 9h2M183 9h1M269 9h1M13 10h4M62 10h2M67 10h1M81 10h4M88 10h1M92 10h1M104 10h2M154 10h2M161 10h1M187 10h1M269 10h1M43 11h1M47 11h1M59 11h4M72 11h3M81 11h4M89 11h4M104 11h3M113 11h1M147 11h1M151 11h5M162 11h1M185 11h1M267 11h3M48 12h1M55 12h2M58 12h5M75 12h1M81 12h4M90 12h3M105 12h9M146 12h10M161 12h1M266 12h4M50 13h2M59 13h2M76 13h1M80 13h4M90 13h3M109 13h7M155 13h5M263 13h1M80 14h4M90 14h4M98 14h3M110 14h4M155 14h2M244 14h1M247 14h1M262 14h1M59 15h2M65 15h2M80 15h4M90 15h3M100 15h2M111 15h3M154 15h1M157 15h1M244 15h1M247 15h1M41 16h10M57 16h1M69 16h1M79 16h1M82 16h3M89 16h2M100 16h2M115 16h2M153 16h1M158 16h1M194 16h2M260 16h1M5 17h1M19 17h2M39 17h1M52 17h1M55 17h1M70 17h1M78 17h1M83 17h3M88 17h2M159 17h1M193 17h1M197 17h3M258 17h1M6 18h1M21 18h1M37 18h2M74 18h1M84 18h7M100 18h1M115 18h1M153 18h1M193 18h1M198 18h3M257 18h2M263 18h2M0 19h3M11 19h1M23 19h2M35 19h1M91 19h3M98 19h1M155 19h2M254 19h3M259 19h1M263 19h1M270 19h1M10 20h1M31 20h1M33 20h1M192 20h1M256 20h1M260 20h4M271 20h1M10 21h1M118 21h1M256 21h1M260 21h4M270 21h1M128 22h2M254 22h2M9 23h1M23 23h1M34 23h3M116 23h1M179 23h1M183 23h1M259 23h1M8 24h1M23 24h1M115 24h1M158 24h2M229 24h2M259 24h1M6 25h1M98 25h1M126 25h1M130 25h1M226 25h1M231 25h1M96 26h1M114 26h1M177 26h1M258 26h1M95 27h1M113 27h1M185 27h2M256 27h1M95 28h1M101 28h1M104 28h1M110 28h2M126 28h1M185 28h2M226 28h1M229 28h1M4 29h1M95 29h1M120 29h1M124 29h1M181 29h2M184 29h3M227 29h2M255 29h1M4 30h1M119 30h1M183 30h4M226 30h3M255 30h1M0 31h3M28 31h1M31 31h1M96 31h1M107 31h1M185 31h3M189 31h1M255 31h1M27 32h1M32 32h1M96 32h3M185 32h1M190 32h1M229 32h1M26 33h1M33 33h1M98 33h2M186 33h1M190 33h1M255 33h1M23 34h2M33 34h2M99 34h1M187 34h3M242 34h2M254 34h2M33 35h4M99 35h1M221 35h1M255 35h3M32 36h4M68 36h3M99 36h1M255 36h5M261 36h1M22 37h1M25 37h1M29 37h3M101 37h2M107 37h1M256 37h6M266 37h3M270 37h1M95 38h2M109 38h1M257 38h5M264 38h1M80 39h1M95 39h1M109 39h1M209 39h2M261 39h3M107 40h1M198 40h3M262 40h1M92 41h2M8 42h1M104 42h1M207 42h1M262 42h1M11 43h1M203 43h1M208 43h3M219 43h1M13 44h1M17 44h1M24 44h1M28 44h1M103 44h1M208 44h1M211 44h1M273 44h3M18 45h1M23 45h1M28 45h1M103 45h1M192 45h1M204 45h1M208 45h1M219 45h1M272 45h4M3 46h1M18 46h1M23 46h1M103 46h1M205 46h1M208 46h1M213 46h1M219 46h1M267 46h1M18 47h1M23 47h1M27 47h1M64 47h1M68 47h1M77 47h2M103 47h1M206 47h3M214 47h1M220 47h1M268 47h1M0 48h3M17 48h1M24 48h3M64 48h1M68 48h1M103 48h1M206 48h5M269 48h1M197 49h5M86 50h10M83 51h1M85 51h1M90 51h7M223 51h1M230 51h1M232 51h1M95 52h5M103 52h1M229 52h1M232 52h1M95 53h1M137 53h2M222 53h1M228 53h1M233 53h1M252 53h1M15 54h2M18 54h1M96 54h1M212 54h2M245 54h1M247 54h1M251 54h1M262 54h1M14 55h2M19 55h1M97 55h1M227 55h1M261 55h1M14 56h2M19 56h1M98 56h1M225 56h1M15 57h1M19 57h1M99 57h1M259 57h1M0 58h3M260 58h1M20 59h1M50 59h2M100 59h1M263 59h1M50 60h2M100 60h1M166 60h1M170 60h1M178 60h1M180 60h1M264 60h1M20 61h1M52 61h1M100 61h1M162 61h1M176 61h1M250 61h1M256 61h1M263 61h2M272 61h4M20 62h1M52 62h1M99 62h1M160 62h1M257 62h8M270 62h1M21 63h1M52 63h1M89 63h2M98 63h1M156 63h2M174 63h1M211 63h1M259 63h4M35 64h1M50 64h2M55 64h1M59 64h1M74 64h2M92 64h5M151 64h2M174 64h1M207 64h1M249 64h1M259 64h1M44 65h2M66 65h1M86 65h1M112 65h1M149 65h1M173 65h4M199 65h1M203 65h2M28 66h1M37 66h1M44 66h2M84 66h1M112 66h1M149 66h1M171 66h2M175 66h3M199 66h1M203 66h2M32 67h1M34 67h4M55 67h1M58 67h2M65 67h1M151 67h1M167 67h1M170 67h1M178 67h1M180 67h1M205 67h1M215 67h1M233 67h2M254 67h1M26 68h1M38 68h5M47 68h2M64 68h2M75 68h1M155 68h2M165 68h1M206 68h1M249 68h1M273 68h3M4 69h1M26 69h1M39 69h4M65 69h4M89 69h1M91 69h2M170 69h2M207 69h1M273 69h3M7 70h2M13 70h1M20 70h2M86 70h2M98 70h1M106 70h1M110 70h3M115 70h4M208 70h1M233 70h2M242 70h2M250 70h1M132 71h1M137 71h1M212 71h1M241 71h1M244 71h1M121 72h1M127 72h1M137 72h1M241 72h1M244 72h1M125 73h2M151 73h1M242 73h2M7 74h1M27 74h1M136 74h1M144 74h1M154 74h1M160 74h1M163 74h1M7 75h1M27 75h1M136 75h1M143 75h1M165 75h1M263 75h1M8 76h2M137 76h5M165 76h1M252 76h1M262 76h1M165 77h1M250 77h1M255 77h1M261 77h1M164 78h1M254 78h1M260 78h1M149 79h4M160 79h1M164 79h1M197 79h2M260 79h1M163 80h1M181 80h1M184 80h1M195 80h1M260 80h2M137 81h2M184 81h1M193 81h2M260 81h1M128 82h2M201 82h2M214 83h1M262 84h1M269 84h2M120 85h3M215 85h3M222 85h1M231 85h3M273 85h3M116 86h1M127 86h1M189 86h1M38 87h2M114 87h1M126 87h1M213 87h1M241 87h1M38 88h2M192 88h10M211 88h1M218 88h2M223 88h1M225 88h1M241 88h1M38 89h4M108 89h1M226 89h1M141 90h1M156 90h1M227 90h1M240 90h3M108 91h1M228 91h1M240 91h1M4 92h4M16 92h3M33 92h1M115 92h1M120 92h1M240 92h1M19 93h1M32 93h1M67 93h1M113 93h1M176 93h2M233 93h1M235 93h1M239 93h1M3 94h1M9 94h1M19 94h6M32 94h1M56 94h1M68 94h1M77 94h1M83 94h1M111 94h2M200 94h1M231 94h1M250 94h1M268 94h1M272 94h1M18 95h1M31 95h2M52 95h1M69 95h3M89 95h1M130 95h1M195 95h1M199 95h1M260 95h1M18 96h1M29 96h4M68 96h1M71 96h2M90 96h1M194 96h2M199 96h1M208 96h1M260 96h2M19 97h3M41 97h1M53 97h4M76 97h1M122 97h1M131 97h2M149 97h2M200 97h1M209 97h1M250 97h1M253 97h1M260 97h1M4 98h1M9 98h1M15 98h1M19 98h1M34 98h1M77 98h1M79 98h1M147 98h1M202 98h1M260 98h1M270 98h1M5 99h5M19 99h1M34 99h1M41 99h2M121 99h1M145 99h1M152 99h1M204 99h1M260 99h1M18 100h1M36 100h1M51 100h1M139 100h1M142 100h3M155 100h2M160 100h1M163 100h1M205 100h1M208 100h1M260 100h2M20 101h3M52 101h1M85 101h1M88 101h1M122 101h1M131 101h5M138 101h1M166 101h1M260 101h1M20 102h1M22 102h2M37 102h1M40 102h1M52 102h1M123 102h5M131 102h7M171 102h1M176 102h2M234 102h1M20 103h1M23 103h1M37 103h1M40 103h1M52 103h1M125 103h2M171 103h2M20 104h1M24 104h2M37 104h4M51 104h1M170 104h4M21 105h4M35 105h3M40 105h1M42 105h1M50 105h1M170 105h5M29 106h2M35 106h3M39 106h1M47 106h3M175 106h2M31 107h2M35 107h3M39 107h1M37 108h2M176 109h1M198 109h1M176 110h1M199 110h2M202 110h1M209 110h1M212 110h1M174 111h1M210 111h3M172 112h1M185 112h1M171 113h1M184 113h1M209 113h1M170 114h1M184 114h1M119 115h2M137 115h1M139 115h1M122 116h1M132 116h1M135 116h1M165 116h1M168 116h1M186 116h1M201 116h1M119 117h1M122 117h1M132 117h3M187 117h1M135 118h1M144 118h1M158 118h2M189 118h1M200 118h1M264 118h1M0 119h3M153 119h1M193 119h2M200 119h1M246 119h3M3 120h2M68 120h2M136 120h1M148 120h1M151 120h2M195 120h6M248 120h1M266 120h1M0 121h6M38 121h1M68 121h2M92 121h2M97 121h1M199 121h1M201 121h1M242 121h1M248 121h1M250 121h1M254 121h1M258 121h1M266 121h1M272 121h1M0 122h6M11 122h1M43 122h1M68 122h2M99 122h1M199 122h1M201 122h1M240 122h1M255 122h1M266 122h1M0 123h6M11 123h1M13 123h2M36 123h1M87 123h1M98 123h1M137 123h1M241 123h1M254 123h1M7 124h3M37 124h1M42 124h1M89 124h1M91 124h2M245 124h1M259 124h1M38 125h2M260 125h1M264 125h1M109 126h1M111 126h1M260 126h1M264 126h1M115 127h2M122 127h2M256 127h1M106 128h1M125 128h1M131 128h1M245 128h1M97 129h1M101 129h2M126 129h1M244 129h1M266 129h1M96 130h2M99 130h2M103 130h1M229 130h1M232 130h1M244 130h1M95 131h5M103 131h1M234 131h3M56 132h2M60 132h1M73 132h1M95 132h4M227 132h1M234 132h3M253 132h1M255 132h1M51 133h1M55 133h1M72 133h1M227 133h1M233 133h1M241 133h1M38 134h1M50 134h1M61 134h1M89 134h2M227 134h1M246 134h1M251 134h1M259 134h1M44 135h2M50 135h1M61 135h1M70 135h1M89 135h2M100 135h1M228 135h1M247 135h1M250 135h1M262 135h1M52 136h1M55 136h1M59 136h2M70 136h1M77 136h1M89 136h2M10 137h1M13 137h1M16 137h1M56 137h1M69 137h3M77 137h1M89 137h1M91 137h1M98 137h1M142 137h1M180 137h1M187 137h1M10 138h1M16 138h1M68 138h1M70 138h3M77 138h1M83 138h2M142 138h1M155 138h1M162 138h1M180 138h1M187 138h1M62 139h1M64 139h3M76 139h1M98 139h1M101 139h2M113 139h2M182 139h1M184 139h2M60 140h1M75 140h1M98 140h2M116 140h1M124 140h1M128 140h2M59 141h1M74 141h1M106 141h1M117 141h1M123 141h1M58 142h1M74 142h1M112 142h1M118 142h1M7 143h2M56 143h1M74 143h2M113 143h1M121 143h1M132 143h1M5 144h1M9 144h1M74 144h2M114 144h1M119 144h2M149 144h2M5 145h1M9 145h1M74 145h2M114 145h1M119 145h2M149 145h2M5 146h1M9 146h1M74 146h2M114 146h1M119 146h2M149 146h2"/>
<path stroke="#1affe5" d="M88 0h1M100 0h1M124 0h1M172 0h1M175 0h1M88 1h1M100 1h1M124 1h1M172 1h1M175 1h1M88 2h1M100 2h1M124 2h1M172 2h1M175 2h1M87 3h1M100 3h1M116 3h1M123 3h1M172 3h1M175 3h1M86 4h1M100 4h1M114 4h4M173 4h2M75 5h2M78 5h1M100 5h1M114 5h2M117 5h1M122 5h1M75 6h2M78 6h1M100 6h1M114 6h1M86 7h1M99 7h1M114 7h1M118 7h1M187 7h1M273 7h3M3 8h1M87 8h1M92 8h7M114 8h1M155 8h5M179 8h2M183 8h1M247 8h2M250 8h1M269 8h1M4 9h1M20 9h2M26 9h5M88 9h1M91 9h1M114 9h1M154 9h1M161 9h1M178 9h1M181 9h1M248 9h2M268 9h1M11 10h2M17 10h1M36 10h1M64 10h1M89 10h3M114 10h1M153 10h1M162 10h1M179 10h2M183 10h1M267 10h2M42 11h1M63 11h1M71 11h1M114 11h1M146 11h1M148 11h3M163 11h1M184 11h1M186 11h1M266 11h1M44 12h4M57 12h1M63 12h1M114 12h1M145 12h1M162 12h1M264 12h2M48 13h2M52 13h2M57 13h2M61 13h2M116 13h1M152 13h3M245 13h2M58 14h4M78 14h2M118 14h1M154 14h1M157 14h1M58 15h1M61 15h2M64 15h1M67 15h2M79 15h1M93 15h7M261 15h1M15 16h3M51 16h1M56 16h1M78 16h1M91 16h2M99 16h1M193 16h1M196 16h1M259 16h1M13 17h1M21 17h1M53 17h2M74 17h4M90 17h2M100 17h1M115 17h1M152 17h1M160 17h1M200 17h1M257 17h1M7 18h1M12 18h1M22 18h1M36 18h1M71 18h3M91 18h1M99 18h1M159 18h1M192 18h1M201 18h1M255 18h2M3 19h2M10 19h1M29 19h1M34 19h1M117 19h1M157 19h1M191 19h9M257 19h2M264 19h1M269 19h1M32 20h1M118 20h1M130 20h1M191 20h1M241 20h1M253 20h1M259 20h1M264 20h1M127 21h1M191 21h2M241 21h1M244 21h1M253 21h1M259 21h1M264 21h1M9 22h1M127 22h1M130 22h1M177 22h1M231 22h1M235 22h1M242 22h2M256 22h1M259 22h1M158 23h2M180 23h3M230 23h1M127 24h3M160 24h1M188 24h1M227 24h2M115 25h1M176 25h1M230 25h1M258 25h1M115 26h1M125 26h1M131 26h1M187 26h1M225 26h1M230 26h1M257 26h1M4 27h1M100 27h1M125 27h1M131 27h1M187 27h1M225 27h1M4 28h1M96 28h1M105 28h1M122 28h4M131 28h1M178 28h1M187 28h1M255 28h1M96 29h1M118 29h2M125 29h1M127 29h4M180 29h1M187 29h1M226 29h1M229 29h1M3 30h1M96 30h1M118 30h1M124 30h1M182 30h1M187 30h2M225 30h1M229 30h1M97 31h1M106 31h1M108 31h1M119 31h3M183 31h2M223 31h1M229 31h1M99 32h1M105 32h1M110 32h1M113 32h2M184 32h1M100 33h1M105 33h1M110 33h1M113 33h2M184 33h2M230 33h1M254 33h1M25 34h2M32 34h1M100 34h1M106 34h1M109 34h1M185 34h2M190 34h1M231 34h2M240 34h2M21 35h1M32 35h1M100 35h1M21 36h1M31 36h1M100 36h1M220 36h1M260 36h1M23 37h2M108 37h1M209 37h1M269 37h1M209 38h2M219 38h1M265 38h1M270 38h1M219 39h1M264 39h1M181 40h1M184 40h1M197 40h1M201 40h1M209 40h2M219 40h1M263 40h1M271 40h1M106 41h1M185 41h1M202 41h1M206 41h4M262 41h1M273 41h3M105 42h1M185 42h1M203 42h1M205 42h2M208 42h3M219 42h1M263 42h1M5 43h1M10 43h1M104 43h1M181 43h1M184 43h1M193 43h1M205 43h3M211 43h1M264 43h1M273 43h3M4 44h1M12 44h1M25 44h3M104 44h1M183 44h1M192 44h1M204 44h1M218 44h1M265 44h1M272 44h1M14 45h4M24 45h1M205 45h1M212 45h1M218 45h1M266 45h1M271 45h1M15 46h3M24 46h2M27 46h1M192 46h1M206 46h2M214 46h1M268 46h1M272 46h4M3 47h1M17 47h1M24 47h3M67 47h1M192 47h1M219 47h1M273 47h3M16 48h1M67 48h1M214 48h1M220 48h1M270 48h6M0 49h3M15 49h1M104 49h1M193 49h1M202 49h6M221 49h1M14 50h1M83 50h1M85 50h1M104 50h1M164 50h2M195 50h2M222 50h1M14 51h1M84 51h1M104 51h1M164 51h2M231 51h1M14 52h1M222 52h1M230 52h2M254 52h2M259 52h1M14 53h1M96 53h2M136 53h1M139 53h1M176 53h2M212 53h2M229 53h1M232 53h1M253 53h1M0 54h3M14 54h1M17 54h1M97 54h1M137 54h2M176 54h2M214 54h1M222 54h1M228 54h1M233 54h1M252 54h1M3 55h1M16 55h3M98 55h1M234 55h1M244 55h1M249 55h3M16 56h1M99 56h1M224 56h1M226 56h1M236 56h2M259 56h1M14 57h1M16 57h1M100 57h1M15 58h1M19 58h1M100 58h1M259 58h1M19 59h1M167 59h2M179 59h1M239 59h2M262 59h1M19 60h2M164 60h2M171 60h1M177 60h1M239 60h2M263 60h1M19 61h1M50 61h2M161 61h1M175 61h1M257 61h6M19 62h1M100 62h1M159 62h1M174 62h1M181 62h1M210 62h1M248 62h1M271 62h2M20 63h1M50 63h1M99 63h1M155 63h1M181 63h1M208 63h1M212 63h1M248 63h1M263 63h6M22 64h2M30 64h1M56 64h3M88 64h1M97 64h1M113 64h2M149 64h2M181 64h1M213 64h1M260 64h2M24 65h1M36 65h1M54 65h1M59 65h1M75 65h1M115 65h1M169 65h1M181 65h1M214 65h1M249 65h1M260 65h1M0 66h3M54 66h1M59 66h1M66 66h1M85 66h1M115 66h1M148 66h1M170 66h1M215 66h1M249 66h1M259 66h1M3 67h1M25 67h1M29 67h3M56 67h2M66 67h1M75 67h1M83 67h1M149 67h2M168 67h2M176 67h2M232 67h1M235 67h1M249 67h1M66 68h9M82 68h1M90 68h1M152 68h3M157 68h8M176 68h1M179 68h1M216 68h1M272 68h1M25 69h1M82 69h1M93 69h1M166 69h1M206 69h1M249 69h1M272 69h1M5 70h2M18 70h2M95 70h3M107 70h3M113 70h2M119 70h1M134 70h2M173 70h2M207 70h1M120 71h1M129 71h3M138 71h1M209 71h3M213 71h1M122 72h2M126 72h1M138 72h2M137 73h1M145 73h1M8 74h2M89 74h2M143 74h1M155 74h5M164 74h2M264 74h1M9 75h1M89 75h2M137 75h1M142 75h1M166 75h1M262 75h1M166 76h1M251 76h1M253 76h3M260 76h2M166 77h1M249 77h1M256 77h1M259 77h2M165 78h1M250 78h1M255 78h1M259 78h1M153 79h2M159 79h1M196 79h1M259 79h1M164 80h1M194 80h1M259 80h1M192 81h1M200 81h1M259 81h1M136 82h1M143 82h1M181 82h1M191 82h1M203 82h10M259 82h1M128 83h1M131 83h4M182 83h1M190 83h1M259 83h1M189 84h1M227 84h2M263 84h2M189 85h1M223 85h1M225 85h1M240 85h1M272 85h1M117 86h1M123 86h1M115 87h1M124 87h1M112 88h1M191 88h1M217 88h1M224 88h1M109 89h1M156 89h1M242 89h1M36 90h6M108 90h1M140 90h1M157 90h1M243 90h1M40 91h2M177 91h1M241 91h1M0 92h4M41 92h1M109 92h1M114 92h1M176 92h2M0 93h4M7 93h2M17 93h2M33 93h1M41 93h1M65 93h2M110 93h1M112 93h1M121 93h1M202 93h4M229 93h1M234 93h1M240 93h1M251 93h1M4 94h1M8 94h1M10 94h2M18 94h1M33 94h1M67 94h1M79 94h4M175 94h1M178 94h1M199 94h1M207 94h1M230 94h1M232 94h1M236 94h2M253 94h1M260 94h1M273 94h3M4 95h1M8 95h2M19 95h1M25 95h1M33 95h1M68 95h1M76 95h1M175 95h1M178 95h1M194 95h1M196 95h1M208 95h1M249 95h1M259 95h1M261 95h1M4 96h1M8 96h2M19 96h1M26 96h3M33 96h1M52 96h1M67 96h1M76 96h1M123 96h1M133 96h1M196 96h1M249 96h1M254 96h1M259 96h1M4 97h1M8 97h3M18 97h1M30 97h4M39 97h2M90 97h1M130 97h1M148 97h1M195 97h1M199 97h1M226 97h1M259 97h1M261 97h1M267 97h1M5 98h4M16 98h1M22 98h1M33 98h1M78 98h1M82 98h1M90 98h1M146 98h1M201 98h1M225 98h1M250 98h3M259 98h1M261 98h1M269 98h1M271 98h5M17 99h2M22 99h1M83 99h1M90 99h1M140 99h2M203 99h1M225 99h1M259 99h1M261 99h1M22 100h1M35 100h1M41 100h1M44 100h7M84 100h1M89 100h1M122 100h1M132 100h4M138 100h1M157 100h3M226 100h1M229 100h1M23 101h1M86 101h2M123 101h8M136 101h2M167 101h4M176 101h2M206 101h2M233 101h2M262 101h1M21 102h1M24 102h1M172 102h1M175 102h1M233 102h1M235 102h1M261 102h1M21 103h2M24 103h3M51 103h1M173 103h5M21 104h3M28 104h1M35 104h2M41 104h1M50 104h1M174 104h3M29 105h1M34 105h1M38 105h2M49 105h1M175 105h2M31 106h1M34 106h1M38 106h1M44 106h1M46 106h1M33 107h2M38 107h1M177 107h1M177 108h1M195 108h2M192 109h1M199 109h1M187 110h1M201 110h1M210 110h2M213 110h1M175 111h1M213 111h1M173 112h1M210 112h1M208 114h1M138 115h1M169 115h1M205 115h1M119 116h1M121 116h1M141 116h1M202 116h2M120 117h2M135 117h1M142 117h1M163 117h1M201 117h1M259 117h1M262 117h1M160 118h1M201 118h1M246 118h3M258 118h1M145 119h1M154 119h2M192 119h1M201 119h1M245 119h1M249 119h1M257 119h1M0 120h3M147 120h1M153 120h1M194 120h1M201 120h1M243 120h1M249 120h1M256 120h2M39 121h2M42 121h1M94 121h3M153 121h1M195 121h4M241 121h1M249 121h1M255 121h3M6 122h1M10 122h1M36 122h2M87 122h3M98 122h1M137 122h1M239 122h1M248 122h2M256 122h1M258 122h1M6 123h1M37 123h1M88 123h1M200 123h1M239 123h2M255 123h1M266 123h1M38 124h1M40 124h2M90 124h1M246 124h1M146 125h2M110 126h1M146 126h2M108 127h1M113 127h2M255 127h1M265 127h1M107 128h1M132 128h1M251 128h2M98 129h3M103 129h3M130 129h1M230 129h2M238 129h3M98 130h1M104 130h1M228 130h1M233 130h5M241 130h1M267 130h1M74 131h2M227 131h1M58 132h1M76 132h1M104 132h1M226 132h1M254 132h1M268 132h1M52 133h1M54 133h1M58 133h1M105 133h1M226 133h1M234 133h4M244 133h1M252 133h1M256 133h1M268 133h1M51 134h1M55 134h1M58 134h1M71 134h1M226 134h1M233 134h1M239 134h2M268 134h1M51 135h1M55 135h1M58 135h1M101 135h2M227 135h1M232 135h1M261 135h1M53 136h2M71 136h1M99 136h1M104 136h1M181 136h6M230 136h2M266 136h1M18 137h1M72 137h1M90 137h1M155 137h2M161 137h2M179 137h1M11 138h2M17 138h2M69 138h1M73 138h1M76 138h1M98 138h1M139 138h1M154 138h1M156 138h1M161 138h1M163 138h1M179 138h1M63 139h1M67 139h1M71 139h5M100 139h1M103 139h1M115 139h1M126 139h1M140 139h2M181 139h1M186 139h1M61 140h1M73 140h2M105 140h1M117 140h1M239 140h1M60 141h1M73 141h1M111 141h1M118 141h1M133 141h1M239 141h2M73 142h1M107 142h1M119 142h1M121 142h2M133 142h1M73 143h1M108 143h1M112 143h1M119 143h2M133 143h1M149 143h2M6 144h3M73 144h1M108 144h1M113 144h1M132 144h2M6 145h3M73 145h1M108 145h1M113 145h1M132 145h2M6 146h3M73 146h1M108 146h1M113 146h1M132 146h2"/>
<path stroke="#33ffcc" d="M89 0h1M99 0h1M125 0h1M135 0h1M148 0h2M171 0h1M176 0h1M89 1h1M99 1h1M125 1h1M135 1h1M148 1h2M171 1h1M176 1h1M89 2h1M99 2h1M125 2h1M135 2h1M148 2h2M171 2h1M176 2h1M88 3h1M99 3h1M124 3h1M135 3h1M87 4h1M99 4h1M123 4h1M77 5h1M86 5h1M99 5h1M116 5h1M77 6h1M86 6h1M99 6h1M115 6h1M117 6h1M122 6h1M87 7h1M97 7h2M115 7h3M121 7h1M249 7h3M270 7h3M0 8h3M88 8h1M91 8h1M115 8h2M154 8h1M160 8h1M178 8h1M181 8h1M246 8h1M251 8h1M268 8h1M3 9h1M89 9h2M115 9h1M153 9h1M162 9h1M177 9h1M182 9h1M246 9h2M250 9h1M267 9h1M4 10h7M18 10h2M65 10h2M115 10h1M152 10h1M163 10h1M177 10h2M181 10h1M266 10h1M0 11h3M39 11h3M64 11h1M145 11h1M164 11h1M178 11h3M183 11h1M265 11h1M43 12h1M73 12h2M115 12h1M144 12h1M163 12h1M263 12h1M44 13h4M54 13h3M63 13h1M75 13h1M117 13h1M147 13h5M160 13h1M244 13h1M247 13h1M262 13h1M49 14h2M57 14h1M62 14h1M77 14h1M153 14h1M158 14h1M171 14h1M243 14h1M248 14h1M261 14h1M44 15h7M57 15h1M63 15h1M69 15h1M78 15h1M118 15h1M153 15h1M158 15h1M192 15h4M231 15h3M243 15h1M248 15h1M260 15h1M14 16h1M18 16h2M40 16h1M52 16h1M55 16h1M70 16h1M76 16h2M93 16h6M117 16h1M152 16h1M159 16h1M192 16h1M197 16h1M231 16h3M258 16h1M6 17h1M22 17h1M37 17h2M71 17h1M73 17h1M92 17h1M99 17h1M192 17h1M201 17h1M231 17h3M256 17h1M8 18h4M23 18h3M35 18h1M92 18h7M152 18h1M160 18h1M191 18h1M254 18h1M5 19h3M9 19h1M30 19h2M33 19h1M154 19h1M200 19h1M242 19h1M253 19h1M265 19h2M268 19h1M9 20h1M127 20h1M193 20h1M197 20h2M244 20h1M257 20h2M270 20h1M9 21h1M131 21h1M257 21h1M269 21h1M8 22h1M118 22h1M176 22h1M178 22h2M184 22h3M257 22h2M8 23h1M117 23h1M127 23h3M157 23h1M160 23h1M188 23h1M229 23h1M254 23h3M258 23h1M7 24h1M116 24h1M126 24h1M157 24h1M161 24h1M225 24h2M258 24h1M5 25h1M116 25h1M125 25h1M159 25h3M188 25h1M225 25h1M256 25h2M4 26h1M116 26h1M188 26h1M256 26h1M96 27h1M114 27h3M124 27h1M177 27h1M188 27h1M230 27h1M255 27h1M106 28h1M109 28h1M112 28h1M120 28h2M188 28h1M225 28h1M230 28h1M104 29h1M117 29h1M126 29h1M131 29h1M179 29h1M188 29h1M225 29h1M230 29h1M0 30h3M97 30h1M117 30h1M181 30h1M224 30h1M230 30h1M98 31h1M105 31h1M109 31h1M117 31h2M122 31h1M182 31h1M190 31h1M230 31h1M254 31h1M100 32h1M112 32h1M115 32h5M183 32h1M191 32h1M230 32h1M254 32h1M27 33h1M32 33h1M101 33h1M112 33h1M115 33h1M183 33h1M191 33h1M222 33h1M253 33h1M27 34h1M101 34h1M183 34h2M191 34h1M233 34h7M22 35h1M31 35h1M101 35h1M183 35h9M220 35h1M22 36h1M26 36h5M101 36h2M209 36h1M210 37h1M110 38h1M266 38h4M182 39h2M200 39h2M208 39h1M211 39h1M265 39h1M270 39h1M108 40h1M202 40h1M207 40h2M211 40h1M264 40h1M180 41h1M196 41h1M205 41h1M210 41h2M219 41h1M263 41h1M272 41h1M180 42h1M204 42h1M211 42h2M273 42h3M6 43h4M105 43h1M204 43h1M212 43h1M218 43h1M265 43h1M272 43h1M11 44h1M182 44h1M205 44h3M212 44h1M217 44h1M271 44h1M4 45h1M13 45h1M25 45h1M27 45h1M104 45h1M206 45h2M213 45h2M216 45h2M267 45h2M270 45h1M14 46h1M26 46h1M104 46h1M215 46h4M269 46h3M15 47h2M65 47h2M104 47h1M215 47h1M217 47h2M269 47h4M3 48h1M15 48h1M65 48h2M104 48h1M192 48h1M215 48h1M14 49h1M164 49h1M208 49h2M0 50h3M84 50h1M163 50h1M194 50h1M197 50h2M0 51h3M222 51h1M0 52h3M104 52h1M137 52h2M256 52h3M0 53h3M98 53h7M135 53h1M140 53h1M211 53h1M214 53h1M230 53h2M254 53h1M261 53h1M98 54h1M136 54h1M139 54h1M211 54h1M215 54h1M229 54h1M232 54h1M246 54h1M253 54h2M99 55h2M228 55h2M232 55h2M248 55h1M252 55h2M260 55h1M17 56h2M100 56h2M227 56h2M233 56h3M238 56h1M252 56h2M18 57h1M101 57h1M162 57h1M166 57h5M258 57h1M3 58h1M14 58h1M16 58h1M18 58h1M101 58h1M166 58h4M258 58h1M15 59h2M18 59h1M101 59h1M166 59h1M169 59h1M178 59h1M180 59h1M260 59h2M18 60h1M101 60h1M162 60h2M176 60h1M181 60h1M253 60h5M261 60h2M18 61h1M101 61h1M160 61h1M173 61h1M181 61h1M249 61h1M18 62h1M50 62h2M101 62h1M157 62h2M209 62h1M211 62h1M247 62h1M273 62h3M19 63h1M51 63h1M100 63h1M149 63h2M154 63h1M213 63h1M247 63h1M269 63h2M21 64h1M31 64h1M34 64h1M91 64h1M98 64h1M205 64h2M214 64h1M248 64h1M262 64h2M55 65h1M58 65h1M67 65h1M87 65h1M144 65h1M148 65h1M167 65h1M198 65h1M215 65h1M24 66h1M36 66h1M55 66h1M58 66h1M75 66h1M111 66h1M144 66h1M147 66h1M181 66h1M198 66h1M67 67h1M74 67h1M84 67h1M113 67h2M144 67h1M147 67h2M204 67h1M216 67h1M255 67h3M273 67h3M4 68h1M25 68h1M89 68h1M91 68h1M144 68h1M148 68h4M177 68h2M180 68h1M205 68h1M231 68h1M236 68h1M254 68h1M88 69h1M94 69h1M119 69h1M176 69h1M216 69h1M231 69h1M236 69h1M14 70h1M16 70h2M120 70h1M133 70h1M136 70h2M168 70h1M172 70h1M206 70h1M215 70h1M232 70h1M235 70h1M241 70h1M244 70h1M253 70h1M121 71h1M128 71h1M139 71h1M207 71h2M124 72h2M140 72h1M138 73h2M144 73h1M152 73h1M241 73h1M266 73h2M137 74h1M142 74h1M166 74h1M231 74h1M262 74h2M8 75h1M138 75h4M167 75h2M254 75h8M167 76h1M250 76h1M256 76h4M167 77h1M257 77h2M166 78h1M256 78h3M155 79h4M165 79h1M182 79h2M195 79h1M199 79h1M258 79h1M147 80h1M160 80h1M165 80h1M193 80h1M200 80h1M258 80h1M162 81h1M191 81h1M258 81h1M141 82h2M144 82h1M184 82h1M190 82h1M129 83h2M135 83h1M183 83h1M189 83h1M128 84h1M215 84h1M229 84h1M259 84h1M224 85h1M266 85h2M271 85h1M118 86h1M122 86h1M182 86h1M241 86h1M189 87h1M113 88h1M212 88h5M140 89h2M243 89h1M142 90h1M155 90h1M158 90h1M177 90h2M226 90h1M35 91h1M39 91h1M109 91h1M116 91h4M141 91h1M176 91h1M178 91h1M227 91h1M242 91h1M34 92h1M40 92h1M113 92h1M178 92h1M241 92h1M4 93h3M14 93h3M111 93h1M175 93h1M178 93h1M199 93h3M206 93h2M249 93h2M252 93h1M258 93h3M7 94h1M12 94h1M17 94h1M41 94h1M65 94h1M78 94h1M122 94h1M131 94h1M195 94h2M198 94h1M208 94h1M233 94h1M235 94h1M238 94h2M249 94h1M258 94h2M261 94h1M267 94h1M17 95h1M20 95h5M41 95h1M53 95h1M88 95h1M123 95h1M133 95h1M197 95h2M254 95h1M258 95h1M265 95h1M17 96h1M20 96h2M25 96h1M41 96h1M65 96h1M89 96h1M129 96h1M175 96h1M178 96h1M197 96h2M209 96h1M258 96h1M265 96h1M5 97h1M7 97h1M11 97h1M17 97h1M22 97h1M28 97h2M34 97h5M77 97h1M123 97h1M133 97h1M147 97h1M151 97h1M194 97h1M196 97h3M229 97h1M249 97h1M254 97h1M258 97h1M17 98h2M30 98h3M122 98h1M131 98h3M145 98h1M152 98h1M195 98h2M199 98h2M210 98h1M249 98h1M253 98h2M258 98h1M33 99h1M122 99h1M132 99h5M138 99h2M142 99h3M153 99h1M195 99h2M202 99h1M210 99h1M23 100h1M33 100h2M43 100h1M85 100h1M88 100h1M123 100h2M130 100h2M136 100h2M164 100h1M195 100h3M204 100h1M209 100h1M24 101h1M51 101h1M171 101h1M175 101h1M195 101h3M235 101h1M269 101h1M25 102h1M51 102h1M173 102h2M178 102h1M236 102h1M260 102h1M262 102h1M27 103h1M36 103h1M41 103h1M50 103h1M234 103h1M34 104h1M42 104h1M49 104h1M177 104h1M30 105h1M43 105h1M47 105h2M177 105h1M32 106h2M45 106h1M177 106h1M194 108h1M197 108h2M177 109h1M189 109h3M200 109h1M206 109h2M177 110h1M176 111h1M186 111h1M174 112h1M211 112h1M172 113h1M171 114h1M136 116h1M140 116h1M260 116h1M167 117h1M202 117h1M246 117h4M143 118h1M188 118h1M202 118h1M245 118h1M249 118h1M136 119h1M156 119h1M191 119h1M244 119h1M255 119h2M266 119h1M146 120h1M154 120h2M193 120h1M242 120h1M250 120h1M254 120h2M41 121h1M137 121h1M151 121h2M154 121h2M194 121h1M202 121h1M7 122h1M38 122h1M90 122h1M153 122h3M195 122h4M202 122h1M238 122h1M257 122h1M7 123h1M10 123h1M38 123h1M89 123h1M97 123h1M199 123h1M201 123h1M228 123h1M238 123h1M256 123h1M258 123h1M39 124h1M137 124h1M244 124h1M259 125h1M265 125h1M259 126h1M265 126h1M109 127h2M112 127h1M136 127h1M108 128h1M124 128h1M133 128h1M266 128h1M106 129h1M125 129h1M228 129h2M232 129h6M105 130h1M127 130h2M227 130h1M104 131h1M226 131h1M242 131h2M268 131h1M59 132h1M225 132h1M242 132h2M53 133h1M60 133h1M73 133h1M76 133h1M225 133h1M242 133h2M253 133h1M255 133h1M52 134h1M106 134h1M225 134h1M234 134h5M241 134h2M244 134h2M252 134h1M258 134h1M52 135h1M71 135h1M171 135h3M226 135h1M233 135h1M246 135h1M251 135h1M260 135h1M268 135h1M72 136h1M76 136h1M105 136h1M140 136h2M171 136h3M180 136h1M187 136h1M229 136h1M248 136h2M265 136h1M267 136h1M11 137h2M17 137h1M73 137h1M76 137h1M139 137h1M143 137h1M154 137h1M163 137h2M171 137h3M188 137h1M74 138h2M143 138h1M153 138h1M157 138h1M160 138h1M164 138h1M188 138h1M68 139h1M70 139h1M99 139h1M104 139h1M112 139h1M116 139h1M125 139h1M127 139h5M142 139h1M156 139h1M187 139h1M62 140h5M72 140h1M106 140h1M111 140h1M118 140h1M133 140h1M182 140h2M240 140h1M61 141h1M72 141h1M107 141h2M119 141h4M59 142h1M72 142h1M108 142h2M111 142h1M120 142h1M57 143h1M72 143h1M109 143h1M111 143h1M56 144h1M72 144h1M109 144h1M112 144h1M134 144h1M148 144h1M151 144h1M56 145h1M72 145h1M109 145h1M112 145h1M134 145h1M148 145h1M151 145h1M56 146h1M72 146h1M109 146h1M112 146h1M134 146h1M148 146h1M151 146h1"/>
<path stroke="#4dffb2" d="M90 0h1M95 0h4M126 0h1M134 0h1M136 0h12M150 0h1M170 0h1M177 0h1M90 1h1M95 1h4M126 1h1M134 1h1M136 1h12M150 1h1M170 1h1M177 1h1M90 2h1M95 2h4M126 2h1M134 2h1M136 2h12M150 2h1M170 2h1M177 2h1M89 3h1M96 3h3M125 3h1M134 3h1M136 3h15M171 3h1M176 3h1M88 4h1M98 4h1M124 4h1M134 4h3M172 4h1M175 4h1M87 5h1M98 5h1M123 5h1M134 5h2M173 5h2M252 5h7M87 6h1M98 6h1M116 6h1M173 6h2M185 6h2M251 6h8M88 7h1M92 7h5M122 7h1M173 7h3M178 7h4M183 7h1M247 7h2M252 7h2M268 7h2M89 8h2M117 8h2M153 8h1M161 8h1M173 8h5M182 8h1M188 8h1M245 8h1M252 8h1M267 8h1M0 9h3M116 9h1M152 9h1M173 9h4M188 9h1M230 9h2M245 9h1M251 9h1M266 9h1M0 10h4M20 10h6M35 10h1M151 10h1M172 10h5M182 10h1M247 10h4M265 10h1M3 11h1M38 11h1M70 11h1M115 11h1M122 11h5M144 11h1M165 11h13M181 11h2M187 11h1M264 11h1M42 12h1M64 12h1M72 12h1M122 12h17M143 12h1M164 12h22M215 12h2M43 13h1M64 13h1M74 13h1M118 13h1M145 13h2M161 13h1M169 13h15M243 13h1M248 13h1M261 13h1M44 14h5M51 14h2M56 14h1M63 14h2M76 14h1M152 14h1M159 14h1M170 14h1M172 14h12M191 14h4M206 14h2M218 14h5M230 14h5M249 14h1M43 15h1M51 15h1M56 15h1M70 15h1M77 15h1M152 15h1M159 15h1M170 15h14M191 15h1M196 15h1M219 15h1M230 15h1M234 15h1M259 15h1M0 16h4M13 16h1M20 16h2M53 16h2M74 16h2M151 16h1M160 16h1M181 16h3M190 16h2M198 16h1M230 16h1M234 16h2M245 16h2M256 16h2M7 17h1M12 17h1M23 17h1M36 17h1M72 17h1M93 17h6M116 17h1M151 17h1M161 17h5M182 17h2M188 17h4M202 17h1M230 17h1M234 17h4M255 17h1M26 18h2M34 18h1M116 18h1M161 18h1M182 18h2M189 18h2M202 18h1M231 18h7M8 19h1M32 19h1M129 19h1M158 19h1M190 19h1M201 19h1M243 19h1M267 19h1M8 20h1M131 20h1M190 20h1M194 20h1M196 20h1M199 20h1M269 20h1M8 21h1M190 21h1M193 21h1M233 21h2M258 21h1M265 21h1M268 21h1M126 22h1M131 22h1M180 22h4M187 22h1M190 22h3M241 22h1M253 22h1M7 23h1M126 23h1M130 23h1M156 23h1M161 23h1M189 23h1M236 23h1M257 23h1M6 24h1M117 24h1M130 24h1M156 24h1M162 24h1M189 24h1M224 24h1M254 24h4M117 25h1M131 25h1M158 25h1M162 25h1M189 25h1M224 25h1M235 25h1M254 25h2M97 26h1M99 26h1M117 26h1M160 26h3M176 26h1M224 26h1M231 26h1M254 26h2M117 27h1M123 27h1M132 27h1M224 27h1M254 27h1M3 28h1M100 28h1M107 28h2M116 28h4M132 28h1M177 28h1M224 28h1M231 28h1M254 28h1M3 29h1M97 29h1M102 29h2M105 29h1M132 29h1M178 29h1M224 29h1M231 29h3M254 29h1M104 30h1M125 30h1M180 30h1M189 30h1M223 30h1M231 30h4M254 30h1M29 31h2M99 31h1M104 31h1M116 31h1M123 31h1M181 31h1M231 31h1M101 32h4M111 32h1M120 32h1M182 32h1M253 32h1M102 33h3M111 33h1M116 33h1M192 33h1M231 33h2M245 33h4M251 33h2M102 34h1M105 34h1M110 34h1M192 34h2M221 34h1M25 35h4M102 35h1M171 35h1M182 35h1M192 35h7M25 36h1M103 36h2M176 36h1M182 36h6M189 36h10M210 36h1M109 37h1M182 37h3M208 37h1M219 37h1M111 38h4M125 38h1M182 38h2M208 38h1M211 38h1M110 39h1M181 39h1M184 39h1M199 39h1M266 39h2M180 40h1M185 40h1M206 40h1M265 40h1M107 41h1M177 41h3M203 41h2M212 41h1M264 41h1M271 41h1M106 42h1M176 42h4M195 42h1M213 42h1M218 42h1M264 42h1M272 42h1M185 43h1M192 43h1M213 43h1M217 43h1M271 43h1M5 44h1M10 44h1M105 44h1M161 44h1M171 44h4M184 44h1M213 44h4M266 44h5M12 45h1M26 45h1M161 45h1M171 45h4M191 45h1M215 45h1M269 45h1M4 46h1M13 46h1M161 46h2M191 46h1M14 47h1M161 47h2M216 47h1M14 48h1M135 48h1M161 48h2M216 48h2M219 48h1M3 49h1M163 49h1M165 49h1M192 49h1M210 49h4M220 49h1M166 50h1M193 50h1M199 50h1M205 50h3M221 50h1M105 51h1M163 51h1M166 51h1M197 51h1M206 51h2M13 52h1M105 52h1M136 52h1M139 52h1M164 52h2M176 52h2M205 52h4M221 52h1M13 53h1M105 53h1M134 53h1M141 53h1M175 53h1M178 53h1M200 53h11M215 53h7M255 53h1M3 54h1M13 54h1M99 54h7M135 54h1M140 54h1M175 54h1M178 54h1M201 54h10M216 54h6M230 54h2M261 54h1M13 55h1M101 55h5M176 55h2M212 55h3M222 55h1M230 55h2M247 55h1M254 55h2M4 56h1M13 56h1M102 56h4M161 56h11M223 56h1M229 56h4M239 56h4M250 56h2M254 56h3M258 56h1M4 57h1M13 57h1M17 57h1M102 57h3M161 57h1M163 57h3M171 57h1M225 57h12M252 57h6M13 58h1M17 58h1M102 58h1M161 58h5M170 58h2M238 58h3M254 58h4M14 59h1M17 59h1M161 59h5M170 59h1M177 59h1M181 59h1M238 59h1M241 59h1M254 59h6M15 60h3M160 60h2M172 60h1M175 60h1M238 60h1M241 60h1M252 60h1M258 60h3M16 61h2M102 61h1M158 61h2M174 61h1M209 61h3M239 61h3M247 61h2M17 62h1M102 62h1M156 62h1M208 62h1M212 62h1M242 62h5M18 63h1M101 63h1M143 63h2M151 63h1M153 63h1M207 63h1M242 63h5M271 63h5M20 64h1M33 64h1M89 64h2M99 64h1M115 64h1M143 64h3M148 64h1M200 64h3M204 64h1M247 64h1M264 64h4M0 65h3M22 65h2M29 65h1M35 65h1M68 65h1M74 65h1M88 65h1M111 65h1M143 65h1M145 65h3M168 65h1M188 65h1M248 65h1M261 65h2M3 66h1M29 66h1M35 66h1M67 66h1M86 66h1M143 66h1M145 66h2M167 66h1M169 66h1M185 66h5M216 66h1M227 66h2M260 66h1M24 67h1M68 67h2M73 67h1M85 67h1M89 67h2M143 67h1M145 67h2M181 67h1M200 67h4M217 67h1M231 67h1M236 67h1M248 67h1M258 67h1M272 67h1M88 68h1M92 68h1M143 68h1M145 68h3M217 68h1M230 68h1M237 68h1M248 68h1M271 68h1M5 69h1M10 69h2M24 69h1M83 69h1M87 69h1M100 69h5M118 69h1M120 69h1M143 69h8M165 69h1M205 69h1M237 69h1M271 69h1M15 70h1M121 70h1M130 70h3M138 70h2M167 70h1M169 70h1M171 70h1M175 70h1M205 70h1M231 70h1M236 70h1M249 70h1M122 71h1M127 71h1M140 71h1M206 71h1M214 71h1M251 71h2M141 72h1M147 72h3M140 73h4M153 73h2M265 73h1M268 73h2M271 73h5M138 74h4M167 74h4M230 74h1M232 74h6M261 74h1M169 75h3M253 75h1M168 76h2M249 76h1M168 77h1M248 77h1M167 78h1M249 78h1M166 79h1M193 79h2M256 79h2M148 80h1M166 80h1M192 80h1M257 80h1M146 81h1M161 81h1M163 81h1M201 81h1M137 82h1M140 82h1M213 82h1M258 82h1M181 83h1M131 84h4M182 84h2M226 84h1M230 84h1M128 85h1M181 85h3M188 85h1M260 85h2M268 85h1M270 85h1M119 86h1M121 86h1M179 86h3M183 86h1M188 86h1M116 87h1M123 87h1M127 87h1M179 87h5M114 88h1M178 88h4M242 88h1M110 89h1M155 89h1M157 89h1M177 89h4M203 89h8M225 89h1M109 90h1M159 90h7M176 90h1M179 90h1M244 90h1M248 90h2M36 91h3M115 91h1M140 91h1M243 91h1M248 91h3M110 92h3M175 92h1M198 92h9M228 92h1M248 92h4M258 92h3M40 93h1M197 93h2M241 93h1M248 93h1M253 93h1M257 93h1M261 93h1M5 94h2M66 94h1M132 94h1M194 94h1M197 94h1M229 94h1M234 94h1M240 94h1M248 94h1M254 94h1M256 94h2M7 95h1M10 95h1M57 95h1M65 95h1M67 95h1M77 95h1M87 95h1M129 95h1M193 95h1M209 95h1M216 95h4M255 95h3M262 95h1M7 96h1M10 96h1M22 96h3M34 96h1M53 96h1M57 96h1M66 96h1M124 96h1M128 96h1M193 96h1M215 96h5M227 96h1M248 96h1M255 96h3M262 96h1M6 97h1M12 97h1M26 97h2M78 97h4M89 97h1M129 97h1M134 97h1M146 97h1M176 97h2M210 97h1M225 97h1M248 97h1M255 97h3M266 97h1M29 98h1M83 98h1M89 98h1M123 98h1M130 98h1M134 98h2M140 98h5M194 98h1M197 98h2M224 98h1M230 98h1M248 98h1M255 98h3M268 98h1M30 99h3M84 99h1M89 99h1M123 99h1M131 99h1M137 99h1M154 99h1M161 99h1M194 99h1M197 99h3M201 99h1M230 99h1M254 99h2M258 99h1M270 99h2M24 100h1M32 100h1M42 100h1M86 100h2M125 100h5M165 100h2M198 100h1M203 100h1M259 100h1M262 100h1M269 100h2M25 101h1M32 101h2M36 101h1M41 101h1M50 101h1M172 101h1M178 101h1M198 101h1M205 101h1M208 101h1M227 101h2M232 101h1M236 101h1M263 101h1M265 101h4M270 101h1M32 102h2M36 102h1M41 102h1M195 102h3M232 102h1M237 102h1M263 102h5M28 103h1M32 103h4M178 103h1M233 103h1M235 103h1M29 104h5M48 104h1M31 105h3M46 105h1M195 107h3M199 108h1M201 109h1M205 109h1M214 110h1M177 111h1M254 111h2M175 112h1M254 112h2M173 113h1M210 113h1M254 113h2M254 114h2M170 115h1M206 115h1M254 115h2M120 116h1M169 116h1M204 116h1M254 116h2M261 116h1M141 117h1M164 117h1M166 117h1M168 117h1M203 117h1M245 117h1M254 117h2M263 117h1M136 118h1M142 118h1M161 118h1M244 118h1M250 118h1M254 118h4M144 119h1M157 119h2M202 119h1M243 119h1M250 119h1M254 119h1M156 120h1M192 120h1M202 120h1M251 120h3M271 120h1M150 121h1M156 121h1M193 121h1M240 121h1M8 122h2M39 122h1M42 122h1M97 122h1M152 122h1M156 122h1M194 122h1M207 122h2M228 122h10M273 122h3M39 123h1M42 123h1M90 123h1M153 123h4M194 123h3M198 123h1M207 123h3M227 123h1M229 123h9M248 123h2M257 123h1M227 124h3M251 124h2M258 124h1M266 124h1M137 125h1M145 125h1M148 125h1M227 125h2M145 126h1M148 126h1M227 126h2M258 126h1M111 127h1M227 127h3M248 127h1M254 127h1M266 127h1M109 128h1M123 128h1M134 128h1M227 128h6M244 128h1M107 129h1M124 129h1M227 129h1M241 129h1M267 129h1M125 130h2M129 130h1M226 130h1M242 130h2M105 131h1M221 131h5M272 131h4M74 132h2M105 132h1M221 132h4M272 132h4M59 133h1M223 133h2M254 133h1M72 134h1M76 134h1M224 134h1M243 134h1M253 134h1M59 135h2M72 135h1M76 135h1M106 135h1M170 135h1M174 135h1M225 135h1M234 135h2M242 135h4M100 136h1M103 136h1M169 136h2M174 136h1M179 136h1M188 136h1M228 136h1M232 136h1M247 136h1M264 136h1M268 136h1M74 137h2M153 137h1M157 137h1M160 137h1M165 137h6M174 137h1M178 137h1M189 137h3M272 137h4M144 138h1M152 138h1M158 138h1M165 138h10M178 138h1M189 138h4M272 138h4M69 139h1M105 139h1M111 139h1M117 139h2M124 139h1M132 139h1M139 139h1M143 139h1M154 139h2M157 139h7M180 139h1M67 140h1M71 140h1M107 140h1M109 140h2M119 140h2M123 140h1M158 140h2M184 140h1M238 140h1M62 141h5M71 141h1M109 141h2M158 141h2M238 141h1M60 142h7M71 142h1M110 142h1M134 142h1M149 142h2M58 143h1M62 143h5M71 143h1M110 143h1M134 143h1M148 143h1M151 143h1M62 144h5M71 144h1M110 144h2M135 144h1M62 145h5M71 145h1M110 145h2M135 145h1M62 146h5M71 146h1M110 146h2M135 146h1"/>
<path stroke="#66ff99" d="M91 0h1M94 0h1M127 0h1M133 0h1M151 0h1M169 0h1M178 0h1M91 1h1M94 1h1M127 1h1M133 1h1M151 1h1M169 1h1M178 1h1M91 2h1M94 2h1M127 2h1M133 2h1M151 2h1M169 2h1M178 2h1M90 3h2M94 3h2M126 3h1M133 3h1M151 3h1M170 3h1M177 3h2M89 4h1M95 4h3M125 4h1M137 4h14M171 4h1M176 4h2M252 4h7M88 5h1M97 5h1M124 5h1M136 5h1M172 5h1M175 5h1M251 5h1M259 5h1M88 6h1M97 6h1M123 6h1M134 6h2M172 6h1M175 6h1M184 6h1M249 6h2M259 6h1M272 6h4M89 7h3M153 7h7M172 7h1M176 7h2M182 7h1M245 7h2M254 7h5M267 7h1M119 8h2M152 8h1M162 8h1M172 8h1M230 8h2M244 8h1M253 8h1M266 8h1M117 9h1M163 9h1M172 9h1M244 9h1M252 9h1M265 9h1M26 10h5M33 10h2M116 10h1M122 10h2M145 10h4M150 10h1M164 10h8M188 10h1M230 10h2M245 10h2M251 10h1M264 10h1M4 11h1M12 11h7M65 11h1M69 11h1M121 11h1M127 11h12M143 11h1M215 11h2M263 11h1M0 12h3M41 12h1M71 12h1M116 12h2M121 12h1M139 12h1M142 12h1M186 12h1M214 12h1M217 12h1M245 12h2M262 12h1M42 13h1M65 13h1M72 13h2M122 13h17M143 13h2M162 13h1M167 13h2M184 13h2M191 13h2M206 13h2M215 13h8M230 13h5M249 13h1M43 14h1M53 14h3M65 14h5M75 14h1M119 14h1M150 14h2M169 14h1M184 14h1M190 14h1M195 14h1M205 14h1M208 14h1M217 14h1M223 14h1M229 14h1M235 14h1M242 14h1M250 14h1M260 14h1M15 15h4M42 15h1M52 15h1M55 15h1M76 15h1M151 15h1M169 15h1M184 15h1M190 15h1M197 15h1M205 15h3M218 15h1M220 15h3M229 15h1M235 15h1M242 15h1M249 15h2M258 15h1M4 16h1M22 16h2M39 16h1M71 16h3M170 16h11M184 16h1M188 16h2M199 16h2M229 16h1M236 16h1M244 16h1M247 16h1M254 16h2M8 17h4M24 17h1M35 17h1M166 17h1M181 17h1M184 17h1M187 17h1M229 17h1M253 17h2M28 18h2M33 18h1M151 18h1M162 18h4M181 18h1M188 18h1M230 18h1M238 18h1M253 18h1M118 19h1M128 19h1M159 19h1M182 19h1M189 19h1M231 19h7M241 19h1M0 20h5M6 20h2M189 20h1M195 20h1M200 20h1M240 20h1M252 20h1M265 20h1M7 21h1M119 21h1M126 21h1M132 21h1M177 21h2M189 21h1M197 21h2M231 21h2M235 21h1M240 21h1M245 21h1M252 21h1M7 22h1M119 22h1M157 22h3M188 22h2M230 22h1M236 22h1M244 22h1M118 23h1M155 23h1M162 23h1M190 23h2M225 23h4M242 23h2M253 23h1M118 24h1M125 24h1M163 24h1M190 24h1M236 24h1M253 24h1M4 25h1M118 25h1M163 25h1M253 25h1M118 26h1M124 26h1M132 26h1M159 26h1M163 26h1M189 26h1M223 26h1M232 26h2M253 26h1M3 27h1M97 27h1M118 27h2M121 27h2M161 27h2M189 27h1M223 27h1M231 27h1M253 27h1M97 28h1M113 28h1M115 28h1M189 28h1M223 28h1M232 28h1M253 28h1M0 29h3M101 29h1M116 29h1M133 29h1M177 29h1M189 29h1M223 29h1M234 29h1M253 29h1M98 30h1M103 30h1M105 30h1M116 30h1M126 30h7M179 30h1M235 30h1M253 30h1M100 31h4M110 31h2M114 31h2M191 31h1M222 31h1M232 31h3M253 31h1M28 32h1M31 32h1M121 32h1M192 32h1M222 32h1M231 32h2M117 33h4M182 33h1M193 33h1M233 33h1M237 33h1M240 33h5M249 33h2M28 34h1M31 34h1M103 34h2M111 34h4M182 34h1M194 34h5M220 34h1M23 35h2M29 35h2M103 35h1M106 35h4M176 35h2M199 35h1M209 35h2M23 36h2M105 36h3M171 36h1M177 36h1M188 36h1M199 36h1M208 36h1M219 36h1M110 37h2M185 37h2M191 37h2M197 37h5M211 37h1M124 38h1M126 38h1M181 38h1M184 38h1M199 38h3M111 39h4M198 39h1M202 39h1M207 39h1M212 39h1M218 39h1M268 39h2M109 40h1M179 40h1M196 40h1M203 40h3M212 40h1M218 40h1M266 40h2M270 40h1M176 41h1M213 41h1M218 41h1M265 41h1M175 42h1M186 42h1M214 42h1M217 42h1M265 42h1M271 42h1M106 43h1M171 43h7M180 43h1M214 43h3M266 43h5M9 44h1M160 44h1M170 44h1M175 44h1M181 44h1M185 44h1M191 44h1M11 45h1M105 45h1M160 45h1M162 45h1M170 45h1M182 45h2M190 45h1M12 46h1M105 46h1M160 46h1M170 46h5M4 47h1M13 47h1M105 47h1M134 47h2M160 47h1M191 47h1M13 48h1M105 48h1M134 48h1M136 48h1M163 48h2M191 48h1M218 48h1M13 49h1M105 49h1M135 49h1M162 49h1M166 49h1M214 49h3M3 50h1M13 50h1M105 50h1M162 50h1M192 50h1M200 50h5M208 50h2M3 51h1M13 51h1M194 51h3M198 51h2M205 51h1M208 51h1M221 51h1M3 52h1M134 52h2M140 52h2M163 52h1M178 52h1M198 52h7M209 52h3M214 52h3M220 52h1M3 53h1M106 53h1M133 53h1M142 53h1M199 53h1M106 54h1M134 54h1M141 54h1M200 54h1M255 54h1M106 55h1M162 55h4M170 55h2M175 55h1M203 55h5M211 55h1M215 55h7M245 55h1M259 55h1M106 56h1M160 56h1M172 56h1M222 56h1M243 56h1M249 56h1M257 56h1M105 57h2M160 57h1M172 57h1M224 57h1M237 57h2M251 57h1M4 58h1M103 58h1M160 58h1M172 58h1M177 58h4M225 58h13M241 58h1M252 58h2M0 59h3M13 59h1M102 59h1M160 59h1M171 59h1M176 59h1M237 59h1M253 59h1M14 60h1M102 60h1M159 60h1M173 60h1M182 60h1M242 60h1M250 60h2M15 61h1M156 61h2M182 61h1M208 61h1M212 61h1M238 61h1M242 61h5M16 62h1M103 62h1M144 62h1M149 62h2M155 62h1M182 62h1M213 62h1M240 62h2M17 63h1M102 63h1M114 63h1M145 63h1M148 63h1M152 63h1M182 63h1M214 63h1M241 63h1M19 64h1M32 64h1M112 64h1M146 64h2M182 64h1M199 64h1M203 64h1M215 64h1M242 64h5M273 64h3M21 65h1M56 65h2M69 65h1M73 65h1M95 65h3M110 65h1M116 65h1M182 65h1M185 65h3M189 65h1M197 65h1M216 65h1M227 65h2M247 65h1M263 65h1M23 66h1M56 66h2M68 66h1M74 66h1M87 66h2M109 66h2M116 66h1M168 66h1M196 66h2M217 66h1M226 66h1M229 66h1M232 66h4M248 66h1M261 66h1M70 67h3M86 67h3M91 67h1M112 67h1M115 67h1M119 67h1M199 67h1M227 67h4M237 67h1M247 67h1M259 67h1M83 68h1M93 68h1M119 68h2M142 68h1M181 68h1M204 68h1M229 68h1M238 68h1M247 68h1M6 69h4M12 69h1M18 69h6M84 69h3M95 69h5M105 69h3M116 69h2M133 69h4M142 69h1M151 69h14M177 69h3M217 69h1M229 69h2M238 69h1M242 69h2M248 69h1M254 69h1M129 70h1M140 70h10M166 70h1M170 70h1M230 70h1M237 70h1M272 70h4M123 71h4M141 71h2M205 71h1M232 71h4M240 71h1M245 71h1M250 71h1M142 72h1M145 72h2M150 72h1M206 72h7M240 72h1M155 73h2M230 73h8M244 73h1M270 73h1M171 74h1M229 74h1M238 74h1M241 74h2M254 74h7M172 75h1M231 75h7M251 75h2M170 76h2M169 77h1M247 77h1M168 78h1M196 78h3M167 79h1M181 79h1M184 79h1M191 79h2M252 79h4M149 80h2M159 80h1M167 80h1M180 80h1M185 80h1M190 80h2M164 81h2M180 81h1M185 81h1M190 81h1M257 81h1M138 82h2M180 82h1M189 82h1M136 83h1M184 83h1M188 83h1M258 83h1M129 84h2M135 84h1M181 84h1M188 84h1M216 84h1M231 84h1M129 85h6M180 85h1M259 85h1M262 85h1M265 85h1M269 85h1M120 86h1M128 86h1M178 86h1M184 86h1M187 86h1M272 86h4M117 87h1M122 87h1M178 87h1M184 87h1M115 88h2M125 88h1M177 88h1M182 88h2M190 88h1M111 89h1M142 89h1M158 89h7M176 89h1M181 89h1M195 89h8M211 89h2M244 89h1M248 89h2M143 90h1M166 90h1M180 90h1M247 90h1M250 90h1M110 91h1M113 91h2M120 91h1M142 91h1M175 91h1M179 91h1M198 91h3M226 91h1M244 91h1M247 91h1M251 91h1M258 91h3M38 92h2M121 92h1M141 92h1M179 92h1M196 92h2M207 92h1M242 92h1M247 92h1M252 92h1M257 92h1M261 92h1M34 93h1M174 93h1M179 93h1M195 93h2M208 93h1M228 93h1M247 93h1M256 93h1M16 94h1M34 94h1M40 94h1M174 94h1M179 94h1M209 94h1M218 94h2M241 94h1M255 94h1M262 94h1M266 94h1M5 95h2M34 95h1M54 95h1M85 95h2M124 95h1M128 95h1M174 95h1M179 95h1M215 95h1M220 95h1M230 95h3M236 95h3M248 95h1M5 96h2M40 96h1M77 96h1M88 96h1M127 96h1M134 96h1M210 96h1M220 96h1M226 96h1M228 96h2M13 97h1M16 97h1M23 97h3M82 97h1M88 97h1M124 97h1M128 97h1M141 97h5M193 97h1M216 97h4M224 97h1M230 97h1M262 97h1M23 98h1M27 98h2M88 98h1M124 98h1M136 98h4M153 98h1M223 98h1M247 98h1M23 99h1M29 99h1M85 99h1M88 99h1M124 99h1M130 99h1M155 99h6M162 99h1M200 99h1M224 99h1M248 99h6M256 99h2M262 99h1M269 99h1M272 99h4M25 100h1M30 100h2M167 100h3M176 100h2M194 100h1M199 100h1M202 100h1M210 100h1M225 100h1M230 100h1M233 100h2M268 100h1M271 100h1M31 101h1M34 101h2M49 101h1M173 101h2M194 101h1M204 101h1M209 101h1M229 101h1M237 101h1M259 101h1M264 101h1M271 101h1M26 102h1M31 102h1M34 102h1M50 102h1M179 102h1M198 102h1M238 102h1M268 102h2M29 103h3M42 103h1M49 103h1M195 103h3M236 103h2M43 104h1M47 104h1M178 104h1M234 104h1M44 105h2M178 105h1M178 106h1M195 106h3M178 107h1M198 107h1M178 108h1M200 108h1M178 109h1M188 109h1M202 109h3M208 109h1M212 109h3M215 110h1M254 110h1M214 111h1M176 112h1M184 112h1M212 112h1M256 112h1M256 113h1M172 114h1M209 114h1M256 114h1M184 115h1M256 115h1M139 116h1M185 116h1M246 116h4M253 116h1M256 116h1M259 116h1M136 117h1M140 117h1M165 117h1M186 117h1M250 117h1M253 117h1M256 117h1M258 117h1M141 118h1M162 118h1M203 118h1M253 118h1M265 118h1M143 119h1M190 119h1M203 119h1M253 119h1M137 120h1M145 120h1M157 120h1M241 120h1M267 120h1M149 121h1M157 121h1M192 121h1M238 121h2M267 121h1M40 122h2M91 122h1M138 122h1M157 122h1M193 122h1M203 122h1M205 122h2M209 122h2M227 122h1M267 122h1M272 122h1M8 123h2M40 123h2M91 123h1M96 123h1M152 123h1M157 123h1M193 123h1M197 123h1M202 123h1M206 123h1M210 123h1M226 123h1M153 124h4M194 124h2M230 124h2M247 124h1M253 124h1M229 125h1M266 125h1M137 126h1M229 126h1M257 126h1M266 126h1M230 127h1M246 127h2M249 127h1M110 128h1M122 128h1M135 128h1M226 128h1M233 128h7M108 129h1M131 129h1M226 129h1M243 129h1M106 130h1M124 130h1M221 130h5M268 130h1M273 130h3M220 131h1M269 132h1M271 132h1M106 133h1M222 133h1M269 133h1M272 133h4M53 134h2M59 134h2M170 134h5M223 134h1M254 134h1M256 134h2M269 134h1M53 135h2M169 135h1M175 135h1M180 135h7M224 135h1M236 135h6M252 135h1M259 135h1M269 135h1M73 136h1M139 136h1M142 136h1M154 136h4M160 136h9M175 136h1M178 136h1M189 136h1M227 136h1M233 136h2M243 136h4M250 136h1M261 136h3M272 136h4M99 137h1M144 137h1M152 137h1M158 137h2M175 137h1M192 137h1M231 137h1M267 137h1M271 137h1M99 138h1M112 138h5M138 138h1M145 138h1M151 138h1M159 138h1M193 138h1M271 138h1M106 139h1M110 139h1M119 139h2M144 139h1M152 139h2M164 139h10M179 139h1M188 139h5M272 139h4M68 140h1M70 140h1M108 140h1M121 140h2M140 140h2M156 140h2M160 140h2M181 140h1M185 140h2M241 140h1M273 140h3M67 141h1M70 141h1M134 141h1M157 141h1M160 141h1M183 141h1M241 141h1M67 142h1M70 142h1M135 142h1M148 142h1M151 142h1M158 142h2M238 142h3M59 143h1M61 143h1M67 143h1M70 143h1M135 143h2M57 144h1M61 144h1M67 144h1M70 144h1M136 144h1M57 145h1M61 145h1M67 145h1M70 145h1M136 145h1M57 146h1M61 146h1M67 146h1M70 146h1M136 146h1"/>
<path stroke="#80ff80" d="M92 0h2M128 0h1M132 0h1M152 0h1M168 0h1M179 0h1M92 1h2M128 1h1M132 1h1M152 1h1M168 1h1M179 1h1M92 2h2M128 2h1M132 2h1M152 2h1M168 2h1M179 2h1M92 3h2M127 3h1M132 3h1M152 3h1M169 3h1M179 3h1M200 3h1M252 3h6M90 4h2M94 4h1M126 4h1M133 4h1M151 4h2M170 4h1M178 4h2M199 4h2M251 4h1M259 4h1M89 5h2M95 5h2M125 5h1M133 5h1M137 5h15M171 5h1M176 5h2M194 5h7M250 5h1M89 6h8M124 6h1M136 6h1M152 6h2M171 6h1M176 6h8M187 6h1M246 6h3M260 6h1M267 6h5M123 7h1M152 7h1M160 7h2M171 7h1M188 7h1M244 7h1M259 7h2M266 7h1M121 8h2M163 8h1M171 8h1M243 8h1M254 8h6M265 8h1M118 9h2M122 9h1M151 9h1M164 9h8M229 9h1M232 9h1M243 9h1M253 9h1M262 9h3M31 10h2M117 10h2M121 10h1M124 10h2M144 10h1M149 10h1M215 10h2M229 10h1M232 10h1M243 10h2M252 10h1M261 10h3M10 11h2M19 11h3M37 11h1M66 11h3M116 11h1M120 11h1M139 11h1M142 11h1M188 11h1M214 11h1M217 11h1M230 11h2M244 11h8M261 11h2M3 12h1M40 12h1M65 12h1M118 12h1M120 12h1M140 12h2M187 12h2M190 12h3M206 12h4M213 12h1M218 12h6M229 12h8M243 12h2M247 12h3M261 12h1M41 13h1M66 13h2M70 13h2M119 13h3M139 13h4M163 13h4M186 13h2M190 13h1M193 13h2M205 13h1M208 13h7M223 13h2M228 13h2M235 13h2M242 13h1M250 13h2M260 13h1M42 14h1M70 14h5M121 14h19M142 14h8M160 14h1M168 14h1M185 14h2M189 14h1M196 14h1M204 14h1M209 14h8M224 14h1M228 14h1M236 14h1M251 14h1M259 14h1M14 15h1M19 15h7M41 15h1M53 15h2M71 15h5M119 15h1M150 15h1M160 15h1M168 15h1M185 15h1M188 15h2M198 15h1M204 15h1M208 15h1M217 15h1M223 15h1M228 15h1M236 15h1M251 15h1M253 15h5M5 16h1M12 16h1M24 16h2M36 16h3M118 16h1M150 16h1M161 16h6M168 16h2M185 16h3M201 16h3M228 16h1M237 16h1M243 16h1M248 16h2M252 16h2M25 17h1M34 17h1M150 17h1M167 17h1M169 17h12M185 17h2M203 17h1M228 17h1M238 17h1M252 17h1M30 18h3M117 18h1M150 18h1M166 18h1M180 18h1M184 18h1M187 18h1M203 18h1M229 18h1M239 18h1M252 18h1M130 19h1M153 19h1M160 19h1M181 19h1M183 19h1M188 19h1M202 19h1M230 19h1M238 19h3M244 19h1M252 19h1M5 20h1M119 20h1M126 20h1M132 20h1M182 20h1M201 20h1M231 20h7M245 20h1M268 20h1M6 21h1M125 21h1M176 21h1M179 21h5M194 21h1M196 21h1M199 21h1M236 21h1M266 21h2M6 22h1M125 22h1M132 22h1M156 22h1M160 22h1M193 22h1M229 22h1M240 22h1M252 22h1M6 23h1M119 23h1M125 23h1M131 23h1M163 23h1M175 23h1M192 23h1M224 23h1M240 23h2M252 23h1M5 24h1M119 24h1M131 24h1M155 24h1M164 24h1M175 24h1M223 24h1M252 24h1M119 25h1M124 25h1M132 25h1M157 25h1M164 25h1M190 25h1M223 25h1M252 25h1M3 26h1M98 26h1M119 26h1M164 26h1M190 26h1M222 26h1M252 26h1M0 27h3M120 27h1M133 27h1M160 27h1M163 27h1M176 27h1M190 27h1M222 27h1M232 27h1M252 27h1M0 28h3M114 28h1M133 28h1M161 28h1M176 28h1M222 28h1M233 28h1M252 28h1M98 29h1M100 29h1M110 29h2M134 29h1M222 29h1M235 29h1M252 29h1M99 30h4M106 30h1M133 30h1M178 30h1M190 30h1M222 30h1M236 30h1M252 30h1M112 31h2M124 31h1M180 31h1M235 31h2M252 31h1M181 32h1M193 32h1M233 32h2M252 32h1M28 33h1M31 33h1M194 33h5M221 33h1M234 33h3M238 33h2M115 34h1M181 34h1M199 34h1M209 34h1M104 35h2M110 35h1M170 35h1M172 35h1M175 35h1M181 35h1M208 35h1M219 35h1M108 36h3M172 36h1M175 36h1M178 36h1M181 36h1M200 36h3M207 36h1M211 36h1M112 37h2M123 37h1M177 37h1M181 37h1M187 37h4M193 37h4M202 37h2M207 37h1M218 37h1M115 38h1M122 38h2M185 38h1M191 38h2M198 38h1M202 38h2M207 38h1M212 38h1M218 38h1M115 39h1M125 39h1M180 39h1M185 39h1M197 39h1M203 39h4M110 40h1M177 40h2M186 40h1M213 40h1M268 40h2M108 41h1M175 41h1M186 41h1M214 41h1M217 41h1M266 41h3M270 41h1M107 42h1M171 42h4M192 42h3M215 42h2M266 42h5M161 43h1M170 43h1M178 43h2M186 43h1M191 43h1M6 44h3M106 44h1M159 44h1M162 44h1M176 44h1M186 44h1M190 44h1M5 45h1M10 45h1M159 45h1M169 45h1M175 45h1M184 45h1M189 45h1M11 46h1M135 46h1M159 46h1M169 46h1M182 46h2M190 46h1M12 47h1M136 47h1M159 47h1M163 47h1M170 47h4M182 47h1M190 47h1M137 48h1M160 48h1M165 48h3M134 49h1M136 49h2M161 49h1M167 49h1M191 49h1M217 49h3M134 50h3M167 50h1M191 50h1M210 50h1M220 50h1M106 51h1M133 51h9M162 51h1M167 51h1M176 51h4M193 51h1M200 51h5M209 51h1M220 51h1M106 52h1M132 52h2M142 52h1M162 52h1M166 52h1M175 52h1M179 52h1M196 52h2M212 52h2M217 52h3M12 53h1M107 53h1M132 53h1M143 53h1M163 53h3M174 53h1M179 53h1M198 53h1M256 53h1M260 53h1M12 54h1M107 54h1M133 54h1M142 54h1M162 54h3M171 54h2M174 54h1M179 54h1M199 54h1M4 55h1M12 55h1M107 55h1M136 55h4M160 55h2M166 55h4M172 55h3M178 55h1M201 55h2M208 55h3M246 55h1M256 55h1M12 56h1M107 56h1M173 56h1M175 56h3M203 56h4M212 56h10M248 56h1M12 57h1M107 57h1M156 57h1M159 57h1M173 57h1M176 57h1M223 57h1M239 57h2M249 57h2M12 58h1M104 58h3M159 58h1M173 58h1M175 58h2M181 58h2M224 58h1M242 58h1M250 58h2M3 59h1M12 59h1M103 59h1M159 59h1M172 59h1M175 59h1M182 59h1M225 59h12M242 59h1M252 59h1M13 60h1M103 60h1M156 60h3M174 60h1M208 60h7M237 60h1M243 60h7M13 61h2M103 61h1M155 61h1M207 61h1M213 61h3M237 61h1M15 62h1M143 62h1M145 62h1M148 62h1M151 62h1M154 62h1M207 62h1M214 62h2M238 62h2M16 63h1M103 63h2M113 63h1M115 63h2M146 63h2M206 63h1M215 63h1M240 63h1M18 64h1M100 64h1M116 64h1M216 64h1M240 64h2M268 64h1M271 64h2M3 65h1M20 65h1M30 65h1M34 65h1M70 65h3M89 65h2M93 65h2M98 65h1M108 65h2M142 65h1M183 65h2M190 65h1M196 65h1M217 65h1M226 65h1M229 65h1M241 65h6M264 65h3M273 65h3M21 66h2M30 66h1M34 66h1M73 66h1M89 66h1M108 66h1M118 66h2M142 66h1M182 66h1M184 66h1M190 66h1M195 66h1M218 66h1M225 66h1M230 66h2M236 66h3M246 66h2M262 66h1M273 66h3M4 67h1M22 67h2M92 67h1M111 67h1M116 67h1M118 67h1M120 67h1M142 67h1M185 67h5M197 67h2M218 67h1M225 67h2M238 67h2M246 67h1M260 67h1M24 68h1M84 68h2M87 68h1M94 68h1M118 68h1M203 68h1M218 68h1M226 68h3M239 68h1M246 68h1M255 68h1M13 69h1M17 69h1M108 69h2M115 69h1M121 69h1M131 69h2M137 69h5M180 69h1M204 69h1M228 69h1M239 69h3M244 69h4M270 69h1M122 70h1M128 70h1M150 70h2M204 70h1M216 70h1M228 70h2M238 70h1M240 70h1M245 70h1M247 70h2M254 70h1M143 71h3M204 71h1M229 71h3M236 71h2M248 71h2M253 71h1M143 72h2M151 72h1M205 72h1M213 72h1M229 72h9M245 72h1M157 73h14M228 73h2M238 73h3M261 73h4M172 74h1M228 74h1M239 74h2M243 74h1M252 74h2M173 75h1M230 75h1M238 75h1M249 75h2M172 76h2M248 76h1M170 77h4M169 78h1M189 78h7M248 78h1M168 79h1M189 79h2M200 79h1M251 79h1M151 80h4M157 80h2M189 80h1M201 80h1M256 80h1M160 81h1M166 81h1M188 81h2M202 81h1M145 82h1M185 82h1M188 82h1M257 82h1M180 83h1M215 83h1M227 83h2M180 84h1M184 84h1M187 84h1M217 84h3M225 84h1M232 84h8M258 84h1M135 85h1M178 85h2M184 85h1M187 85h1M129 86h6M177 86h1M271 86h1M118 87h1M121 87h1M177 87h1M187 87h2M117 88h1M124 88h1M126 88h1M176 88h1M184 88h1M243 88h1M112 89h1M165 89h1M182 89h1M194 89h1M213 89h1M222 89h3M245 89h1M247 89h1M250 89h1M110 90h1M116 90h3M139 90h1M167 90h1M175 90h1M181 90h1M225 90h1M245 90h2M251 90h1M258 90h3M111 91h2M143 91h1M156 91h2M160 91h6M180 91h1M196 91h2M201 91h8M225 91h1M245 91h2M252 91h1M257 91h1M261 91h1M35 92h1M37 92h1M140 92h1M142 92h2M174 92h1M195 92h1M208 92h2M226 92h2M243 92h2M246 92h1M253 92h1M256 92h1M39 93h1M122 93h1M209 93h1M218 93h3M242 93h1M254 93h2M262 93h1M269 93h3M13 94h1M123 94h1M130 94h1M133 94h1M210 94h1M216 94h2M220 94h2M228 94h1M242 94h1M247 94h1M265 94h1M11 95h1M40 95h1M55 95h1M66 95h1M78 95h1M84 95h1M127 95h1M134 95h1M210 95h2M214 95h1M221 95h1M229 95h1M233 95h3M239 95h4M247 95h1M263 95h2M35 96h1M54 96h2M87 96h1M125 96h2M141 96h9M174 96h1M179 96h1M192 96h1M211 96h1M214 96h1M221 96h1M223 96h3M230 96h1M247 96h1M263 96h2M15 97h1M83 97h1M87 97h1M125 97h1M127 97h1M135 97h1M140 97h1M152 97h1M178 97h1M211 97h1M215 97h1M220 97h4M247 97h1M265 97h1M24 98h3M84 98h2M87 98h1M125 98h1M128 98h2M154 98h1M193 98h1M216 98h5M222 98h1M246 98h1M262 98h1M267 98h1M24 99h2M27 99h2M86 99h2M125 99h5M163 99h1M223 99h1M247 99h1M268 99h1M26 100h1M28 100h2M170 100h2M200 100h2M231 100h2M235 100h1M255 100h1M258 100h1M263 100h1M267 100h1M272 100h4M26 101h1M29 101h2M179 101h1M199 101h1M203 101h1M210 101h1M226 101h1M230 101h2M238 101h1M27 102h4M35 102h1M49 102h1M194 102h1M206 102h2M231 102h1M239 102h1M270 102h1M48 103h1M179 103h1M198 103h1M232 103h1M238 103h2M261 103h4M46 104h1M179 104h1M195 104h3M233 104h1M235 104h5M179 105h1M195 105h3M198 106h1M194 107h1M199 107h1M193 108h1M209 109h1M211 109h1M215 109h1M178 110h1M255 110h1M178 111h1M185 111h1M253 111h1M256 111h1M213 112h1M174 113h1M211 113h1M257 113h1M257 114h1M207 115h1M253 115h1M257 115h1M259 115h2M137 116h1M245 116h1M250 116h1M257 116h2M262 116h1M204 117h1M244 117h1M251 117h2M257 117h1M140 118h1M187 118h1M243 118h1M251 118h2M273 118h3M137 119h1M140 119h3M159 119h1M242 119h1M251 119h2M271 119h1M158 120h1M191 120h1M203 120h1M138 121h1M148 121h1M158 121h1M191 121h1M203 121h1M227 121h5M236 121h2M271 121h1M92 122h1M151 122h1M158 122h1M192 122h1M204 122h1M211 122h1M226 122h1M95 123h1M138 123h1M158 123h1M192 123h1M205 123h1M211 123h1M225 123h1M267 123h1M152 124h1M157 124h2M192 124h2M196 124h1M226 124h1M232 124h6M243 124h1M250 124h1M254 124h4M144 125h1M149 125h1M152 125h7M192 125h3M226 125h1M230 125h1M258 125h1M144 126h1M226 126h1M230 126h1M137 127h1M145 127h3M226 127h1M231 127h3M253 127h1M111 128h2M118 128h4M136 128h2M240 128h1M267 128h1M109 129h1M123 129h1M132 129h2M221 129h5M242 129h1M273 129h3M107 130h1M123 130h1M130 130h1M220 130h1M272 130h1M106 131h1M123 131h5M219 131h1M269 131h1M271 131h1M106 132h1M220 132h1M270 132h1M74 133h2M221 133h1M271 133h1M73 134h1M169 134h1M175 134h1M222 134h1M255 134h1M272 134h4M73 135h1M164 135h5M176 135h4M187 135h3M223 135h1M253 135h1M272 135h4M74 136h2M101 136h2M106 136h1M153 136h1M158 136h2M176 136h2M190 136h3M225 136h2M235 136h2M241 136h2M251 136h1M260 136h1M269 136h1M271 136h1M104 137h2M138 137h1M145 137h1M151 137h1M176 137h2M193 137h2M230 137h1M232 137h2M243 137h3M266 137h1M268 137h3M100 138h1M104 138h2M111 138h1M117 138h4M127 138h4M146 138h1M150 138h1M175 138h1M177 138h1M194 138h1M270 138h1M107 139h3M121 139h3M133 139h1M138 139h1M145 139h2M150 139h2M174 139h1M193 139h1M239 139h2M270 139h2M69 140h1M134 140h1M138 140h2M142 140h4M151 140h5M162 140h12M187 140h5M237 140h1M270 140h3M68 141h2M135 141h1M148 141h4M156 141h1M161 141h1M182 141h1M184 141h1M237 141h1M270 141h6M68 142h2M136 142h2M147 142h1M152 142h1M156 142h2M160 142h2M237 142h1M271 142h5M60 143h1M68 143h2M137 143h1M147 143h1M152 143h1M157 143h4M58 144h1M60 144h1M68 144h2M137 144h1M147 144h1M152 144h1M259 144h2M58 145h1M60 145h1M68 145h2M137 145h1M147 145h1M152 145h1M259 145h2M58 146h1M60 146h1M68 146h2M137 146h1M147 146h1M152 146h1M259 146h2"/>
<path stroke="#99ff66" d="M129 0h3M153 0h15M180 0h1M191 0h11M251 0h8M129 1h3M153 1h15M180 1h1M191 1h11M251 1h8M129 2h3M153 2h15M180 2h1M191 2h11M251 2h8M128 3h4M153 3h16M180 3h1M191 3h9M201 3h1M251 3h1M258 3h2M92 4h2M127 4h2M132 4h1M153 4h2M169 4h1M180 4h2M191 4h8M201 4h1M250 4h1M260 4h1M91 5h4M126 5h2M152 5h2M170 5h1M178 5h8M191 5h3M201 5h1M245 5h5M260 5h2M266 5h10M125 6h1M133 6h1M137 6h1M139 6h13M154 6h1M170 6h1M191 6h3M244 6h2M261 6h1M266 6h1M124 7h1M151 7h1M162 7h1M169 7h2M230 7h2M243 7h1M261 7h2M265 7h1M123 8h1M164 8h7M229 8h1M232 8h1M260 8h5M120 9h2M123 9h2M189 9h1M242 9h1M254 9h8M119 10h2M126 10h2M134 10h2M142 10h2M189 10h2M214 10h1M217 10h1M228 10h1M233 10h1M242 10h1M253 10h1M260 10h1M5 11h5M22 11h2M117 11h3M140 11h2M189 11h3M207 11h7M218 11h12M232 11h6M242 11h2M252 11h1M260 11h1M4 12h1M12 12h10M39 12h1M66 12h1M70 12h1M119 12h1M189 12h1M193 12h1M205 12h1M210 12h3M224 12h5M237 12h1M242 12h1M250 12h3M260 12h1M0 13h3M14 13h9M40 13h1M68 13h2M188 13h2M195 13h2M204 13h1M225 13h3M237 13h1M241 13h1M252 13h2M259 13h1M14 14h14M41 14h1M120 14h1M140 14h2M161 14h1M166 14h2M187 14h2M197 14h1M225 14h3M237 14h1M241 14h1M252 14h5M258 14h1M13 15h1M26 15h2M40 15h1M128 15h2M134 15h16M167 15h1M186 15h2M203 15h1M209 15h1M216 15h1M224 15h4M237 15h1M241 15h1M252 15h1M6 16h1M11 16h1M26 16h3M35 16h1M148 16h2M167 16h1M204 16h3M219 16h1M226 16h2M238 16h1M241 16h2M250 16h2M26 17h6M33 17h1M117 17h1M149 17h1M168 17h1M204 17h1M227 17h1M239 17h2M251 17h1M149 18h1M167 18h13M185 18h2M228 18h1M240 18h3M251 18h1M127 19h1M151 19h2M161 19h1M175 19h6M184 19h1M187 19h1M250 19h2M155 20h3M176 20h6M183 20h1M188 20h1M230 20h1M238 20h2M246 20h6M266 20h2M0 21h6M120 21h2M123 21h2M133 21h1M184 21h1M188 21h1M195 21h1M200 21h1M230 21h1M237 21h3M246 21h6M5 22h1M120 22h1M155 22h1M161 22h1M175 22h1M194 22h1M197 22h1M237 22h3M245 22h1M247 22h5M5 23h1M132 23h1M154 23h1M164 23h1M193 23h1M223 23h1M237 23h3M244 23h1M248 23h4M4 24h1M132 24h1M154 24h1M165 24h1M191 24h1M240 24h4M248 24h4M3 25h1M120 25h1M165 25h1M175 25h1M191 25h1M222 25h1M242 25h2M248 25h4M0 26h3M120 26h2M123 26h1M133 26h1M158 26h1M165 26h1M234 26h1M242 26h2M248 26h4M99 27h1M159 27h1M164 27h1M221 27h1M242 27h2M249 27h3M98 28h2M134 28h1M160 28h1M162 28h1M190 28h1M221 28h1M234 28h1M242 28h2M250 28h2M99 29h1M106 29h1M109 29h1M112 29h1M115 29h1M176 29h1M190 29h1M221 29h1M236 29h1M239 29h7M251 29h1M109 30h3M115 30h1M134 30h1M177 30h1M191 30h1M221 30h1M237 30h10M251 30h1M129 31h4M178 31h2M192 31h1M221 31h1M237 31h10M251 31h1M122 32h1M194 32h1M221 32h1M235 32h17M121 33h1M181 33h1M199 33h1M220 33h1M29 34h2M116 34h4M171 34h1M176 34h2M200 34h1M208 34h1M210 34h1M219 34h1M111 35h2M173 35h2M178 35h1M200 35h8M211 35h1M111 36h2M122 36h2M170 36h1M173 36h2M203 36h4M218 36h1M114 37h1M122 37h1M124 37h2M176 37h1M178 37h1M180 37h1M204 37h3M212 37h1M116 38h6M179 38h2M186 38h2M190 38h1M193 38h1M196 38h2M204 38h3M116 39h1M124 39h1M126 39h1M178 39h2M186 39h1M191 39h2M196 39h1M213 39h1M111 40h1M176 40h1M192 40h1M217 40h1M174 41h1M192 41h1M215 41h2M269 41h1M170 42h1M191 42h1M107 43h1M160 43h1M162 43h1M169 43h1M158 44h1M169 44h1M177 44h2M180 44h1M187 44h1M189 44h1M9 45h1M106 45h1M158 45h1M176 45h2M181 45h1M185 45h4M10 46h1M106 46h1M134 46h1M136 46h1M158 46h1M163 46h1M168 46h1M175 46h1M181 46h1M184 46h1M189 46h1M11 47h1M106 47h1M137 47h1M164 47h1M166 47h4M174 47h1M179 47h3M183 47h1M4 48h1M12 48h1M106 48h1M133 48h1M138 48h1M159 48h1M168 48h7M179 48h5M190 48h1M12 49h1M106 49h1M133 49h1M138 49h2M168 49h5M178 49h6M189 49h2M106 50h1M132 50h2M137 50h4M161 50h1M168 50h4M176 50h15M215 50h3M131 51h2M142 51h1M168 51h4M175 51h1M180 51h6M192 51h1M210 51h1M215 51h3M12 52h1M107 52h1M130 52h2M143 52h1M161 52h1M167 52h1M169 52h4M174 52h1M180 52h4M195 52h1M128 53h4M144 53h1M161 53h2M166 53h1M170 53h4M180 53h3M197 53h1M259 53h1M11 54h1M108 54h1M129 54h4M143 54h1M160 54h2M165 54h2M169 54h2M173 54h1M180 54h3M198 54h1M256 54h1M260 54h1M11 55h1M108 55h1M135 55h1M140 55h1M159 55h1M179 55h1M181 55h2M200 55h1M257 55h2M11 56h1M108 56h1M157 56h3M174 56h1M178 56h1M182 56h2M202 56h1M207 56h2M211 56h1M244 56h1M5 57h1M11 57h1M108 57h1M155 57h1M157 57h2M174 57h2M177 57h2M181 57h3M203 57h5M212 57h11M241 57h2M11 58h1M107 58h2M155 58h4M174 58h1M205 58h4M211 58h6M223 58h1M243 58h1M248 58h2M4 59h1M11 59h1M106 59h2M155 59h4M173 59h2M206 59h11M223 59h2M243 59h9M0 60h3M11 60h2M107 60h1M155 60h1M206 60h2M215 60h2M225 60h1M232 60h5M12 61h1M104 61h1M106 61h2M144 61h1M148 61h3M154 61h1M206 61h1M216 61h1M235 61h2M13 62h2M104 62h4M114 62h4M146 62h2M152 62h2M206 62h1M216 62h1M236 62h2M14 63h2M105 63h4M117 63h1M142 63h1M204 63h2M216 63h1M236 63h4M0 64h3M16 64h2M101 64h8M111 64h1M117 64h2M142 64h1M183 64h1M188 64h2M197 64h2M217 64h1M235 64h5M269 64h2M19 65h1M91 65h2M99 65h1M104 65h4M117 65h4M191 65h5M218 65h8M230 65h1M233 65h8M267 65h1M272 65h1M20 66h1M31 66h1M33 66h1M69 66h2M90 66h2M95 66h4M104 66h4M117 66h1M120 66h1M183 66h1M191 66h4M219 66h6M239 66h7M263 66h4M272 66h1M20 67h2M93 67h7M104 67h7M117 67h1M121 67h1M141 67h1M182 67h1M184 67h1M190 67h1M196 67h1M219 67h6M240 67h6M261 67h2M271 67h1M5 68h1M18 68h6M86 68h1M95 68h6M103 68h6M114 68h4M121 68h1M134 68h1M140 68h2M202 68h1M219 68h7M240 68h6M256 68h2M270 68h1M14 69h3M110 69h5M129 69h2M218 69h1M223 69h5M123 70h1M127 70h1M152 70h6M165 70h1M176 70h1M203 70h1M224 70h4M239 70h1M246 70h1M271 70h1M146 71h5M172 71h3M197 71h7M215 71h1M225 71h4M238 71h2M246 71h2M152 72h1M197 72h8M214 72h1M225 72h4M238 72h2M247 72h6M171 73h2M199 73h4M206 73h4M227 73h1M248 73h13M173 74h1M200 74h2M227 74h1M249 74h3M174 75h1M200 75h2M229 75h1M242 75h1M248 75h1M174 76h1M247 76h1M174 77h1M195 77h4M246 77h1M170 78h2M188 78h1M199 78h1M247 78h1M169 79h1M185 79h1M187 79h2M250 79h1M155 80h2M168 80h1M186 80h3M255 80h1M147 81h1M167 81h1M179 81h1M186 81h2M203 81h1M256 81h1M179 82h1M187 82h1M214 82h1M137 83h1M179 83h1M187 83h1M229 83h1M257 83h1M136 84h1M178 84h2M220 84h1M224 84h1M177 85h1M185 85h2M241 85h1M258 85h1M263 85h2M135 86h1M185 86h2M260 86h1M270 86h1M119 87h2M128 87h1M131 87h3M185 87h2M242 87h1M273 87h3M118 88h1M123 88h1M185 88h1M189 88h1M244 88h1M113 89h1M115 89h3M139 89h1M143 89h1M166 89h1M175 89h1M183 89h2M193 89h1M214 89h2M220 89h2M246 89h1M251 89h1M257 89h4M111 90h1M115 90h1M119 90h1M144 90h1M154 90h1M182 90h2M195 90h17M224 90h1M252 90h1M257 90h1M261 90h1M121 91h1M139 91h1M144 91h1M155 91h1M158 91h2M166 91h2M174 91h1M181 91h2M195 91h1M209 91h2M224 91h1M253 91h1M256 91h1M36 92h1M180 92h1M210 92h1M219 92h7M245 92h1M254 92h2M262 92h1M35 93h1M38 93h1M140 93h4M180 93h1M194 93h1M210 93h1M217 93h1M221 93h7M243 93h4M268 93h1M272 93h4M140 94h5M180 94h1M193 94h1M211 94h1M215 94h1M222 94h6M243 94h2M246 94h1M263 94h2M56 95h1M79 95h5M125 95h2M140 95h6M173 95h1M188 95h3M192 95h1M212 95h2M222 95h7M243 95h1M11 96h1M56 96h1M78 96h2M86 96h1M135 96h1M140 96h1M150 96h2M171 96h1M189 96h3M212 96h2M222 96h1M231 96h5M240 96h4M14 97h1M84 97h3M126 97h1M136 97h4M153 97h1M175 97h1M192 97h1M231 97h1M246 97h1M86 98h1M126 98h2M155 98h1M160 98h2M211 98h1M215 98h1M221 98h1M231 98h1M245 98h1M26 99h1M164 99h1M193 99h1M211 99h1M216 99h2M221 99h2M231 99h2M246 99h1M27 100h1M172 100h1M175 100h1M178 100h1M211 100h1M224 100h1M236 100h1M253 100h2M256 100h2M264 100h3M27 101h2M42 101h2M47 101h2M202 101h1M211 101h2M225 101h1M239 101h1M272 101h1M42 102h1M199 102h1M205 102h1M208 102h1M240 102h1M259 102h1M271 102h1M43 103h1M47 103h1M194 103h1M240 103h2M265 103h3M44 104h2M198 104h1M240 104h4M198 105h1M234 105h1M239 105h4M179 106h1M194 106h1M179 107h1M200 107h1M201 108h1M213 108h4M210 109h1M216 109h1M186 110h1M216 110h1M253 110h1M256 110h1M215 111h1M177 112h1M253 112h1M257 112h1M175 113h1M183 113h1M253 113h1M173 114h1M183 114h1M210 114h1M253 114h1M258 114h1M171 115h1M258 115h1M261 115h1M138 116h1M244 116h1M251 116h2M139 117h1M169 117h1M243 117h1M137 118h1M139 118h1M163 118h1M167 118h1M204 118h1M242 118h1M138 119h2M189 119h1M204 119h1M241 119h1M267 119h1M138 120h3M144 120h1M204 120h1M240 120h1M139 121h1M147 121h1M204 121h4M226 121h1M232 121h4M93 122h2M96 122h1M191 122h1M217 122h9M92 123h3M151 123h1M191 123h1M203 123h2M212 123h13M273 123h3M138 124h1M146 124h2M151 124h1M191 124h1M197 124h5M225 124h1M238 124h5M267 124h1M150 125h2M159 125h1M191 125h1M195 125h1M231 125h2M257 125h1M149 126h1M155 126h5M231 126h2M256 126h1M144 127h1M225 127h1M234 127h4M245 127h1M250 127h1M267 127h1M113 128h5M138 128h1M221 128h5M241 128h1M243 128h1M273 128h3M110 129h1M122 129h1M134 129h5M220 129h1M268 129h1M272 129h1M108 130h1M122 130h1M136 130h3M219 130h1M271 130h1M122 131h1M128 131h1M137 131h2M218 131h1M270 131h1M137 132h2M219 132h1M171 133h3M220 133h1M270 133h1M75 134h1M107 134h1M165 134h1M168 134h1M176 134h2M183 134h6M221 134h1M270 134h2M75 135h1M107 135h1M140 135h1M156 135h8M190 135h1M222 135h1M254 135h1M258 135h1M270 135h2M138 136h1M143 136h1M152 136h1M193 136h1M224 136h1M237 136h4M252 136h1M270 136h1M100 137h1M106 137h1M111 137h6M137 137h1M146 137h1M149 137h2M195 137h1M228 137h2M234 137h2M242 137h1M246 137h2M265 137h1M101 138h1M103 138h1M106 138h1M109 138h2M121 138h1M125 138h2M131 138h1M137 138h1M147 138h3M176 138h1M195 138h1M231 138h4M243 138h3M268 138h2M134 139h1M136 139h2M147 139h3M175 139h1M178 139h1M194 139h1M233 139h3M238 139h1M241 139h1M269 139h1M135 140h3M146 140h5M174 140h1M180 140h1M192 140h2M233 140h4M242 140h1M136 141h12M152 141h4M162 141h12M181 141h1M185 141h8M233 141h4M138 142h9M153 142h3M162 142h2M188 142h5M233 142h4M269 142h2M138 143h9M153 143h4M161 143h2M188 143h5M233 143h7M254 143h7M269 143h7M59 144h1M138 144h9M153 144h10M188 144h5M233 144h5M254 144h5M261 144h1M269 144h7M59 145h1M138 145h9M153 145h10M188 145h5M233 145h5M254 145h5M261 145h1M269 145h7M59 146h1M138 146h9M153 146h10M188 146h5M233 146h5M254 146h5M261 146h1M269 146h7"/>
<path stroke="#b3ff4c" d="M181 0h1M190 0h1M250 0h1M259 0h1M181 1h1M190 1h1M250 1h1M259 1h1M181 2h1M190 2h1M250 2h1M259 2h1M181 3h1M190 3h1M249 3h2M260 3h1M129 4h3M155 4h8M167 4h2M182 4h5M190 4h1M245 4h5M261 4h1M266 4h3M272 4h4M128 5h1M132 5h1M154 5h1M168 5h2M186 5h2M190 5h1M244 5h1M262 5h1M265 5h1M126 6h1M138 6h1M155 6h7M169 6h1M188 6h1M190 6h1M194 6h8M243 6h1M262 6h1M264 6h2M125 7h1M134 7h2M140 7h8M163 7h1M167 7h2M189 7h4M229 7h1M232 7h1M263 7h2M124 8h2M151 8h1M189 8h2M242 8h1M125 9h1M143 9h5M190 9h2M214 9h4M228 9h1M233 9h1M128 10h1M132 10h2M136 10h6M191 10h1M211 10h3M218 10h10M234 10h4M241 10h1M254 10h2M259 10h1M24 11h6M36 11h1M192 11h1M206 11h1M238 11h1M241 11h1M253 11h2M11 12h1M22 12h1M38 12h1M67 12h1M69 12h1M194 12h3M204 12h1M238 12h1M241 12h1M253 12h1M3 13h1M12 13h2M23 13h5M197 13h2M203 13h1M238 13h1M254 13h2M13 14h1M28 14h1M162 14h4M198 14h1M203 14h1M238 14h1M240 14h1M257 14h1M12 15h1M28 15h2M120 15h8M130 15h4M161 15h1M164 15h3M199 15h1M202 15h1M210 15h6M238 15h3M7 16h4M29 16h2M34 16h1M136 16h12M207 16h1M218 16h1M220 16h6M239 16h2M32 17h1M147 17h2M205 17h1M225 17h2M241 17h2M249 17h2M148 18h1M204 18h1M227 18h1M243 18h1M250 18h1M131 19h1M149 19h2M162 19h13M203 19h1M229 19h1M245 19h1M248 19h2M120 20h6M133 20h1M158 20h2M175 20h1M202 20h1M122 21h1M156 21h4M175 21h1M185 21h3M201 21h1M0 22h5M121 22h1M124 22h1M133 22h1M162 22h1M195 22h2M198 22h1M228 22h1M246 22h1M4 23h1M120 23h1M165 23h2M194 23h1M245 23h1M247 23h1M3 24h1M120 24h1M124 24h1M166 24h1M192 24h2M222 24h1M237 24h3M244 24h1M247 24h1M0 25h3M133 25h1M156 25h1M166 25h1M192 25h1M236 25h1M241 25h1M122 26h1M175 26h1M191 26h1M221 26h1M98 27h1M134 27h1M158 27h1M165 27h1M191 27h1M233 27h1M248 27h1M158 28h2M163 28h2M191 28h1M220 28h1M235 28h1M241 28h1M244 28h1M247 28h3M135 29h1M160 29h2M191 29h1M220 29h1M237 29h2M246 29h2M250 29h1M107 30h2M112 30h1M135 30h1M176 30h1M220 30h1M247 30h1M250 30h1M125 31h1M127 31h2M133 31h3M177 31h1M193 31h1M220 31h1M247 31h4M29 32h2M123 32h1M180 32h1M195 32h4M220 32h1M122 33h1M177 33h1M200 33h1M208 33h2M219 33h1M120 34h3M170 34h1M178 34h1M180 34h1M201 34h2M205 34h3M211 34h1M218 34h1M113 35h2M122 35h2M179 35h2M217 35h2M113 36h1M124 36h1M179 36h2M212 36h1M217 36h1M115 37h1M120 37h2M126 37h1M175 37h1M179 37h1M217 37h1M127 38h1M177 38h2M188 38h2M194 38h2M213 38h1M117 39h7M177 39h1M187 39h1M190 39h1M193 39h1M217 39h1M112 40h2M175 40h1M187 40h1M191 40h1M193 40h1M195 40h1M214 40h1M109 41h1M171 41h3M191 41h1M193 41h1M195 41h1M108 42h1M160 42h2M169 42h1M187 42h1M157 43h3M187 43h1M190 43h1M107 44h1M157 44h1M179 44h1M188 44h1M6 45h3M135 45h1M157 45h1M163 45h1M168 45h1M178 45h1M180 45h1M5 46h1M9 46h1M137 46h1M167 46h1M176 46h5M185 46h1M188 46h1M10 47h1M133 47h1M138 47h1M158 47h1M165 47h1M175 47h2M178 47h1M184 47h1M189 47h1M11 48h1M139 48h2M175 48h1M178 48h1M189 48h1M4 49h1M132 49h1M140 49h2M160 49h1M173 49h5M184 49h1M187 49h2M12 50h1M130 50h2M141 50h2M172 50h1M175 50h1M211 50h1M214 50h1M218 50h2M12 51h1M107 51h1M129 51h2M143 51h1M161 51h1M172 51h1M174 51h1M186 51h6M211 51h1M214 51h1M218 51h2M128 52h2M144 52h1M168 52h1M173 52h1M184 52h1M194 52h1M11 53h1M108 53h1M127 53h1M145 53h1M160 53h1M167 53h1M169 53h1M183 53h1M196 53h1M257 53h1M4 54h1M127 54h2M144 54h1M159 54h1M167 54h2M183 54h1M197 54h1M259 54h1M10 55h1M109 55h1M133 55h2M141 55h2M158 55h1M180 55h1M183 55h1M198 55h2M5 56h1M10 56h1M109 56h1M155 56h2M179 56h1M181 56h1M201 56h1M209 56h2M247 56h1M10 57h1M109 57h1M154 57h1M179 57h2M202 57h1M208 57h1M211 57h1M243 57h1M248 57h1M5 58h1M10 58h1M154 58h1M183 58h1M203 58h2M209 58h2M217 58h1M221 58h2M244 58h1M247 58h1M10 59h1M104 59h2M108 59h1M183 59h1M204 59h2M222 59h1M3 60h2M10 60h1M104 60h1M106 60h1M108 60h1M148 60h2M183 60h1M205 60h1M223 60h2M226 60h6M0 61h4M11 61h1M105 61h1M108 61h1M114 61h4M143 61h1M145 61h3M151 61h1M183 61h1M205 61h1M233 61h2M12 62h1M108 62h1M113 62h1M118 62h1M129 62h1M142 62h1M183 62h1M205 62h1M217 62h1M234 62h2M13 63h1M118 63h2M129 63h1M183 63h1M202 63h2M217 63h2M235 63h1M3 64h1M14 64h2M109 64h2M119 64h2M184 64h4M190 64h1M196 64h1M218 64h3M233 64h2M17 65h2M31 65h1M100 65h1M103 65h1M121 65h1M231 65h2M19 66h1M32 66h1M71 66h2M92 66h1M94 66h1M99 66h1M121 66h1M141 66h1M267 66h1M17 67h3M100 67h1M103 67h1M183 67h1M191 67h1M193 67h3M263 67h5M6 68h7M16 68h2M101 68h2M109 68h2M112 68h2M122 68h1M131 68h3M135 68h5M182 68h1M184 68h6M197 68h2M258 68h4M268 68h2M122 69h1M181 69h1M203 69h1M219 69h4M255 69h1M268 69h2M124 70h1M126 70h1M158 70h3M163 70h2M177 70h1M197 70h2M202 70h1M217 70h1M223 70h1M270 70h1M151 71h2M167 71h5M175 71h1M196 71h1M224 71h1M254 71h1M272 71h4M153 72h4M196 72h1M224 72h1M246 72h1M253 72h2M272 72h4M173 73h1M197 73h2M203 73h3M210 73h3M225 73h2M174 74h1M198 74h2M202 74h2M226 74h1M248 74h1M199 75h1M202 75h1M228 75h1M239 75h3M243 75h1M175 76h1M197 76h4M175 77h1M188 77h7M199 77h1M245 77h1M172 78h3M182 78h3M186 78h2M200 78h1M246 78h1M170 79h1M180 79h1M186 79h1M201 79h1M169 80h1M179 80h1M202 80h1M254 80h1M148 81h1M159 81h1M168 81h1M162 82h3M178 82h1M186 82h1M256 82h1M178 83h1M185 83h2M226 83h1M230 83h1M177 84h1M185 84h2M221 84h3M240 84h1M257 84h1M136 85h1M257 85h1M176 86h1M259 86h1M261 86h1M267 86h3M129 87h2M134 87h1M176 87h1M272 87h1M119 88h4M127 88h1M131 88h2M140 88h2M186 88h2M245 88h1M248 88h2M257 88h4M273 88h3M114 89h1M118 89h1M144 89h1M154 89h1M167 89h1M185 89h1M216 89h4M252 89h2M256 89h1M261 89h1M112 90h3M120 90h1M145 90h1M168 90h1M174 90h1M184 90h1M194 90h1M212 90h2M223 90h1M253 90h4M262 90h1M183 91h1M194 91h1M211 91h1M221 91h3M254 91h2M262 91h1M122 92h1M139 92h1M144 92h1M161 92h6M181 92h2M194 92h1M217 92h2M36 93h2M131 93h2M144 93h1M173 93h1M181 93h1M216 93h1M263 93h1M267 93h1M14 94h2M35 94h1M39 94h1M124 94h1M129 94h1M145 94h1M173 94h1M187 94h3M214 94h1M245 94h1M12 95h1M16 95h1M35 95h1M135 95h1M146 95h2M171 95h2M180 95h1M187 95h1M191 95h1M244 95h1M246 95h1M16 96h1M36 96h2M39 96h1M80 96h3M85 96h1M136 96h1M139 96h1M152 96h1M169 96h2M172 96h2M188 96h1M236 96h4M244 96h1M246 96h1M154 97h1M161 97h2M179 97h1M191 97h1M214 97h1M232 97h3M242 97h4M263 97h2M156 98h4M162 98h2M176 98h2M192 98h1M232 98h1M243 98h2M266 98h1M165 99h4M177 99h1M215 99h1M218 99h3M233 99h2M244 99h2M267 99h1M173 100h2M179 100h1M193 100h1M215 100h2M222 100h2M237 100h2M252 100h1M44 101h3M200 101h2M213 101h3M240 101h2M255 101h1M258 101h1M273 101h3M48 102h1M204 102h1M209 102h5M227 102h4M241 102h2M272 102h1M46 103h1M199 103h1M231 103h1M242 103h2M260 103h1M268 103h2M194 104h1M232 104h1M244 104h1M264 104h1M194 105h1M233 105h1M235 105h4M243 105h2M199 106h1M215 107h3M179 108h1M202 108h1M212 108h1M217 108h1M179 109h1M187 109h1M217 109h1M179 110h1M252 111h1M257 111h1M178 112h1M214 112h1M176 113h1M212 113h1M258 113h1M174 114h1M259 114h1M172 115h1M246 115h1M252 115h1M170 116h1M205 116h1M137 117h1M264 117h1M138 118h1M166 118h1M168 118h1M241 118h1M272 118h1M160 119h1M141 120h3M159 120h1M190 120h1M205 120h1M226 120h6M237 120h3M268 120h1M140 121h1M145 121h2M159 121h1M190 121h1M208 121h1M223 121h3M268 121h1M95 122h1M139 122h1M150 122h1M212 122h5M268 122h1M271 122h1M139 123h1M159 123h1M268 123h1M272 123h1M145 124h1M148 124h1M150 124h1M159 124h1M190 124h1M202 124h1M207 124h4M220 124h5M248 124h1M273 124h3M138 125h1M143 125h1M160 125h1M167 125h2M190 125h1M196 125h1M225 125h1M233 125h4M256 125h1M267 125h1M138 126h1M143 126h1M150 126h5M160 126h1M167 126h2M190 126h6M225 126h1M233 126h1M255 126h1M267 126h1M138 127h1M143 127h1M148 127h1M157 127h3M221 127h4M238 127h2M251 127h2M273 127h3M139 128h1M220 128h1M242 128h1M268 128h1M272 128h1M111 129h1M121 129h1M139 129h1M219 129h1M271 129h1M109 130h1M131 130h1M134 130h2M139 130h1M218 130h1M269 130h1M107 131h1M129 131h1M135 131h2M139 131h1M217 131h1M107 132h1M122 132h5M136 132h1M139 132h1M217 132h2M107 133h1M137 133h2M170 133h1M174 133h2M219 133h1M74 134h1M157 134h3M164 134h1M166 134h2M178 134h5M189 134h2M220 134h1M74 135h1M139 135h1M141 135h1M153 135h3M191 135h3M221 135h1M255 135h3M107 136h1M137 136h1M144 136h1M150 136h2M194 136h3M223 136h1M253 136h1M259 136h1M103 137h1M109 137h2M117 137h4M128 137h2M136 137h1M147 137h2M196 137h1M225 137h3M236 137h1M241 137h1M248 137h1M251 137h1M261 137h1M102 138h1M107 138h2M122 138h3M132 138h2M136 138h1M229 138h2M235 138h1M241 138h2M246 138h1M267 138h1M135 139h1M176 139h2M232 139h1M236 139h2M242 139h5M268 139h1M175 140h1M179 140h1M194 140h1M269 140h1M174 141h1M193 141h1M242 141h1M269 141h1M164 142h10M182 142h3M187 142h1M193 142h1M232 142h1M241 142h1M253 142h7M163 143h2M193 143h1M232 143h1M240 143h1M253 143h1M261 143h1M268 143h1M163 144h1M193 144h1M232 144h1M238 144h1M253 144h1M262 144h1M268 144h1M163 145h1M193 145h1M232 145h1M238 145h1M253 145h1M262 145h1M268 145h1M163 146h1M193 146h1M232 146h1M238 146h1M253 146h1M262 146h1M268 146h1"/>
<path stroke="#ccff33" d="M182 0h8M202 0h1M245 0h5M260 0h7M273 0h3M182 1h8M202 1h1M245 1h5M260 1h7M273 1h3M182 2h8M202 2h1M245 2h5M260 2h7M273 2h3M182 3h8M202 3h1M245 3h4M261 3h7M272 3h4M163 4h4M187 4h3M202 4h1M244 4h1M262 4h4M269 4h3M129 5h3M155 5h8M167 5h1M188 5h2M202 5h1M243 5h1M263 5h2M127 6h1M132 6h1M162 6h1M167 6h2M189 6h1M230 6h3M242 6h1M263 6h1M126 7h1M133 7h1M136 7h1M139 7h1M148 7h3M164 7h3M193 7h1M242 7h1M141 8h7M191 8h2M213 8h2M222 8h2M228 8h1M233 8h1M241 8h1M126 9h1M140 9h3M148 9h3M212 9h2M218 9h10M234 9h4M241 9h1M129 10h3M192 10h1M206 10h5M238 10h1M256 10h3M30 11h1M35 11h1M193 11h2M205 11h1M239 11h2M255 11h1M259 11h1M5 12h1M10 12h1M23 12h7M68 12h1M197 12h7M239 12h2M254 12h2M259 12h1M11 13h1M28 13h2M39 13h1M199 13h1M202 13h1M239 13h2M256 13h3M12 14h1M29 14h1M40 14h1M199 14h1M202 14h1M239 14h1M0 15h3M11 15h1M30 15h1M34 15h4M39 15h1M162 15h2M200 15h2M31 16h3M119 16h1M128 16h2M134 16h2M208 16h1M217 16h1M118 17h1M137 17h10M206 17h1M224 17h1M243 17h6M118 18h1M129 18h1M138 18h6M147 18h1M205 18h1M226 18h1M244 18h1M248 18h2M119 19h1M126 19h1M132 19h1M148 19h1M185 19h2M204 19h1M228 19h1M246 19h2M149 20h2M154 20h1M160 20h1M167 20h8M184 20h1M187 20h1M155 21h1M160 21h1M168 21h3M174 21h1M229 21h1M123 22h1M154 22h1M163 22h1M167 22h2M199 22h1M223 22h5M0 23h4M124 23h1M133 23h1M153 23h1M167 23h2M195 23h2M222 23h1M246 23h1M0 24h3M133 24h1M153 24h1M167 24h1M194 24h1M245 24h2M121 25h1M123 25h1M134 25h1M154 25h2M193 25h1M221 25h1M239 25h2M244 25h1M247 25h1M134 26h1M157 26h1M166 26h1M192 26h1M235 26h1M241 26h1M244 26h1M247 26h1M166 27h1M175 27h1M220 27h1M234 27h1M241 27h1M244 27h1M247 27h1M135 28h1M165 28h1M175 28h1M239 28h2M245 28h2M107 29h2M113 29h2M153 29h2M157 29h3M162 29h2M219 29h1M248 29h2M113 30h2M192 30h1M218 30h2M248 30h2M126 31h1M176 31h1M219 31h1M133 32h4M177 32h3M199 32h2M219 32h1M29 33h2M137 33h1M176 33h1M178 33h3M201 33h1M206 33h2M210 33h1M218 33h1M123 34h1M172 34h1M175 34h1M179 34h1M203 34h2M217 34h1M115 35h1M121 35h1M124 35h1M169 35h1M212 35h1M216 35h1M114 36h1M121 36h1M125 36h1M213 36h2M216 36h1M116 37h4M174 37h1M213 37h1M176 38h1M217 38h1M176 39h1M194 39h2M114 40h1M190 40h1M194 40h1M216 40h1M110 41h1M155 41h2M170 41h1M187 41h1M194 41h1M152 42h8M162 42h1M108 43h1M152 43h5M163 43h1M168 43h1M188 43h1M152 44h5M163 44h1M168 44h1M107 45h1M134 45h1M136 45h1M153 45h1M156 45h1M167 45h1M179 45h1M6 46h3M107 46h1M133 46h1M138 46h1M157 46h1M164 46h1M166 46h1M186 46h2M5 47h1M139 47h2M177 47h1M188 47h1M10 48h1M129 48h1M132 48h1M141 48h1M158 48h1M176 48h2M184 48h1M188 48h1M11 49h1M107 49h1M129 49h3M159 49h1M185 49h2M4 50h1M107 50h1M129 50h1M143 50h1M160 50h1M173 50h2M212 50h2M128 51h1M144 51h1M173 51h1M212 51h2M4 52h1M11 52h1M108 52h1M145 52h1M160 52h1M193 52h1M4 53h1M10 53h1M109 53h1M126 53h1M146 53h1M159 53h1M168 53h1M195 53h1M258 53h1M10 54h1M109 54h1M126 54h1M145 54h2M158 54h1M127 55h6M143 55h2M157 55h1M9 56h1M110 56h1M153 56h2M180 56h1M184 56h1M199 56h2M245 56h2M6 57h4M110 57h1M153 57h1M184 57h1M201 57h1M209 57h2M244 57h1M247 57h1M6 58h4M109 58h1M202 58h1M218 58h3M245 58h2M5 59h5M114 59h1M154 59h1M203 59h1M217 59h1M221 59h1M5 60h5M105 60h1M114 60h4M145 60h3M150 60h1M154 60h1M204 60h1M217 60h1M222 60h1M4 61h3M10 61h1M113 61h1M118 61h1M142 61h1M152 61h2M204 61h1M217 61h1M224 61h2M232 61h1M0 62h7M11 62h1M119 62h1M128 62h1M130 62h1M204 62h1M218 62h1M0 63h4M12 63h1M109 63h1M112 63h1M120 63h1M128 63h1M130 63h1M184 63h1M199 63h3M219 63h1M234 63h1M13 64h1M121 64h1M141 64h1M191 64h5M221 64h9M232 64h1M14 65h3M32 65h2M122 65h1M141 65h1M268 65h1M271 65h1M4 66h1M15 66h4M93 66h1M100 66h1M103 66h1M122 66h3M271 66h1M9 67h8M101 67h2M122 67h1M134 67h2M140 67h1M192 67h1M268 67h1M270 67h1M13 68h3M111 68h1M130 68h1M183 68h1M190 68h1M194 68h3M199 68h3M262 68h6M123 69h1M128 69h1M195 69h4M202 69h1M256 69h2M260 69h3M267 69h1M125 70h1M161 70h2M178 70h2M194 70h3M199 70h3M255 70h2M261 70h1M269 70h1M153 71h4M166 71h1M192 71h4M216 71h1M255 71h1M271 71h1M157 72h1M166 72h9M195 72h1M215 72h1M255 72h2M259 72h4M265 72h7M174 73h1M196 73h1M213 73h2M245 73h1M247 73h1M175 74h1M197 74h1M204 74h2M244 74h1M175 75h1M197 75h2M203 75h1M227 75h1M247 75h1M194 76h3M201 76h1M234 76h4M242 76h2M246 76h1M176 77h1M187 77h1M200 77h1M244 77h1M175 78h2M181 78h1M185 78h1M201 78h1M245 78h1M171 79h1M179 79h1M249 79h1M178 80h1M253 80h1M149 81h2M158 81h1M178 81h1M204 81h1M255 81h1M146 82h1M161 82h1M165 82h2M255 82h1M138 83h1M177 83h1M216 83h1M231 83h2M256 83h1M137 84h1M176 84h1M256 84h1M176 85h1M256 85h1M242 86h1M255 86h4M266 86h1M135 87h1M254 87h7M271 87h1M133 88h1M142 88h1M175 88h1M188 88h1M246 88h2M250 88h7M261 88h1M272 88h1M119 89h2M132 89h1M145 89h1M168 89h1M174 89h1M186 89h1M192 89h1M254 89h2M262 89h1M272 89h4M121 90h1M138 90h1M146 90h1M173 90h1M185 90h1M214 90h2M221 90h2M273 90h3M122 91h1M145 91h1M154 91h1M168 91h1M173 91h1M184 91h2M212 91h9M263 91h1M273 91h3M160 92h1M167 92h1M173 92h1M183 92h4M211 92h1M216 92h1M263 92h1M123 93h1M139 93h1M162 93h6M182 93h1M185 93h5M193 93h1M211 93h1M215 93h1M264 93h3M36 94h3M125 94h1M127 94h2M134 94h1M139 94h1M162 94h6M181 94h1M185 94h2M190 94h1M192 94h1M212 94h2M39 95h1M139 95h1M148 95h1M162 95h9M186 95h1M245 95h1M12 96h1M38 96h1M83 96h2M153 96h2M161 96h8M180 96h1M187 96h1M245 96h1M155 97h6M163 97h9M174 97h1M190 97h1M212 97h2M235 97h7M164 98h4M178 98h1M191 98h1M214 98h1M233 98h2M242 98h1M263 98h1M265 98h1M169 99h2M176 99h1M178 99h1M192 99h1M235 99h1M242 99h2M263 99h1M266 99h1M212 100h1M214 100h1M217 100h1M221 100h1M239 100h13M180 101h1M193 101h1M216 101h1M223 101h2M242 101h2M254 101h1M256 101h1M43 102h1M47 102h1M180 102h1M200 102h1M202 102h2M214 102h2M226 102h1M243 102h1M273 102h3M44 103h2M180 103h1M230 103h1M244 103h1M270 103h1M180 104h1M245 104h2M263 104h1M265 104h1M180 105h1M199 105h1M232 105h1M245 105h2M180 106h1M200 106h1M215 106h2M233 106h2M239 106h6M193 107h1M201 107h1M214 107h1M218 107h1M231 107h1M192 108h1M218 108h1M218 109h1M253 109h3M217 110h1M252 110h1M257 110h1M179 111h1M184 111h1M216 111h1M258 111h1M183 112h1M252 112h1M258 112h1M177 113h1M259 113h1M175 114h1M260 114h1M173 115h1M208 115h1M245 115h1M247 115h5M184 116h1M243 116h1M263 116h1M138 117h1M185 117h1M242 117h1M164 118h2M186 118h1M266 118h1M188 119h1M205 119h1M240 119h1M206 120h1M224 120h2M232 120h1M235 120h2M141 121h4M209 121h1M218 121h5M159 122h1M190 122h1M190 123h1M139 124h1M144 124h1M149 124h1M205 124h2M211 124h1M217 124h3M249 124h1M272 124h1M189 125h1M197 125h1M221 125h4M237 125h1M273 125h3M161 126h1M189 126h1M221 126h4M234 126h4M273 126h3M139 127h1M149 127h1M155 127h2M160 127h1M220 127h1M240 127h1M244 127h1M272 127h1M140 128h1M142 128h5M158 128h2M219 128h1M112 129h1M120 129h1M140 129h4M218 129h1M269 129h1M121 130h1M132 130h2M140 130h2M217 130h1M270 130h1M108 131h1M121 131h1M134 131h1M140 131h2M213 131h4M127 132h2M135 132h1M140 132h1M191 132h2M214 132h3M135 133h2M139 133h2M158 133h2M164 133h2M169 133h1M176 133h2M182 133h11M215 133h4M135 134h6M156 134h1M160 134h1M163 134h1M191 134h4M196 134h5M216 134h1M134 135h5M142 135h1M151 135h2M194 135h6M216 135h1M220 135h1M108 136h10M128 136h2M134 136h3M145 136h1M149 136h1M197 136h2M215 136h2M254 136h2M101 137h2M107 137h2M121 137h1M127 137h1M130 137h2M133 137h3M197 137h1M214 137h5M224 137h1M237 137h2M249 137h2M252 137h1M260 137h1M262 137h3M134 138h2M196 138h1M212 138h7M225 138h4M236 138h3M240 138h1M247 138h1M266 138h1M195 139h1M212 139h7M225 139h7M252 139h1M178 140h1M212 140h9M224 140h5M232 140h1M243 140h4M251 140h4M175 141h1M180 141h1M194 141h1M212 141h17M232 141h1M251 141h8M174 142h1M181 142h1M185 142h2M194 142h1M212 142h17M251 142h2M260 142h1M268 142h1M165 143h10M187 143h1M194 143h2M209 143h21M231 143h1M251 143h2M262 143h1M267 143h1M164 144h10M187 144h1M194 144h38M239 144h1M251 144h2M263 144h5M164 145h10M187 145h1M194 145h38M239 145h1M251 145h2M263 145h5M164 146h10M187 146h1M194 146h38M239 146h1M251 146h2M263 146h5"/>
<path stroke="#e5ff1a" d="M203 0h1M244 0h1M267 0h2M271 0h2M203 1h1M244 1h1M267 1h2M271 1h2M203 2h1M244 2h1M267 2h2M271 2h2M203 3h1M243 3h2M268 3h4M203 4h1M230 4h2M243 4h1M163 5h4M203 5h1M229 5h3M242 5h1M128 6h4M163 6h4M202 6h1M228 6h2M233 6h1M127 7h1M137 7h2M194 7h2M200 7h1M213 7h4M221 7h8M233 7h2M241 7h1M126 8h1M140 8h1M148 8h1M150 8h1M212 8h1M215 8h7M224 8h4M234 8h4M127 9h1M134 9h2M192 9h1M207 9h5M238 9h1M240 9h1M193 10h1M239 10h2M31 11h1M34 11h1M195 11h10M256 11h3M6 12h4M30 12h1M37 12h1M256 12h3M4 13h1M10 13h1M30 13h1M36 13h3M200 13h2M0 14h3M11 14h1M30 14h1M35 14h3M39 14h1M201 14h1M3 15h2M10 15h1M31 15h3M38 15h1M120 16h8M130 16h4M209 16h1M216 16h1M135 17h2M207 17h1M218 17h2M223 17h1M128 18h1M136 18h2M144 18h3M206 18h1M225 18h1M245 18h1M247 18h1M120 19h6M133 19h1M137 19h11M205 19h2M134 20h1M148 20h1M151 20h1M161 20h1M185 20h2M203 20h5M229 20h1M134 21h1M148 21h3M161 21h1M167 21h1M171 21h3M202 21h1M206 21h2M122 22h1M134 22h1M149 22h2M164 22h3M169 22h3M174 22h1M200 22h1M222 22h1M121 23h1M134 23h1M151 23h2M169 23h1M197 23h2M221 23h1M121 24h1M134 24h1M151 24h2M168 24h1M195 24h1M221 24h1M122 25h1M153 25h1M167 25h1M194 25h1M237 25h2M245 25h2M135 26h1M140 26h3M167 26h1M193 26h1M220 26h1M240 26h1M245 26h2M135 27h1M140 27h3M157 27h1M192 27h2M219 27h1M240 27h1M245 27h2M141 28h1M152 28h2M157 28h1M192 28h1M219 28h1M236 28h3M136 29h1M151 29h2M155 29h2M164 29h1M175 29h1M192 29h1M217 29h2M136 30h1M153 30h10M217 30h1M136 31h1M194 31h5M217 31h2M124 32h1M128 32h5M137 32h3M166 32h3M176 32h1M201 32h1M206 32h5M217 32h2M123 33h1M134 33h3M138 33h2M167 33h4M202 33h4M211 33h2M217 33h1M124 34h1M137 34h2M146 34h1M169 34h1M212 34h5M116 35h5M145 35h3M213 35h3M115 36h2M120 36h1M126 36h1M146 36h1M215 36h1M127 37h1M172 37h2M214 37h1M214 38h1M127 39h1M188 39h2M214 39h1M115 40h1M155 40h2M174 40h1M215 40h1M111 41h1M152 41h3M157 41h6M169 41h1M190 41h1M109 42h1M151 42h1M163 42h1M168 42h1M190 42h1M109 43h1M151 43h1M189 43h1M108 44h1M134 44h2M151 44h1M167 44h1M108 45h1M133 45h1M137 45h1M151 45h2M154 45h2M132 46h1M139 46h1M152 46h2M165 46h1M9 47h1M107 47h1M128 47h2M132 47h1M141 47h1M157 47h1M185 47h3M5 48h1M107 48h1M128 48h1M130 48h2M185 48h3M10 49h1M128 49h1M142 49h1M11 50h1M108 50h1M128 50h1M144 50h1M4 51h1M11 51h1M108 51h1M145 51h2M160 51h1M10 52h1M109 52h1M127 52h1M146 52h2M185 52h8M125 53h1M147 53h2M184 53h1M194 53h1M9 54h1M110 54h1M125 54h1M147 54h2M184 54h1M196 54h1M257 54h2M5 55h1M8 55h2M110 55h1M125 55h2M145 55h1M155 55h2M184 55h1M197 55h1M6 56h3M111 56h2M122 56h3M128 56h3M132 56h12M152 56h1M198 56h1M111 57h2M122 57h3M151 57h2M199 57h2M245 57h2M113 58h2M122 58h2M135 58h1M149 58h5M184 58h1M200 58h2M109 59h1M113 59h1M115 59h3M134 59h3M146 59h6M153 59h1M184 59h1M202 59h1M218 59h3M109 60h1M113 60h1M118 60h1M134 60h3M143 60h2M151 60h3M184 60h1M202 60h2M218 60h1M220 60h2M7 61h3M109 61h1M119 61h2M129 61h1M184 61h1M202 61h2M218 61h6M226 61h6M7 62h1M10 62h1M109 62h1M120 62h2M141 62h1M184 62h1M202 62h2M219 62h2M233 62h1M4 63h2M10 63h2M121 63h1M141 63h1M188 63h4M195 63h4M220 63h2M233 63h1M4 64h1M11 64h2M122 64h1M128 64h2M230 64h2M4 65h1M13 65h1M101 65h2M123 65h3M12 66h3M101 66h2M125 66h2M140 66h1M268 66h1M5 67h1M7 67h2M123 67h2M131 67h3M136 67h1M139 67h1M269 67h1M123 68h1M129 68h1M191 68h3M124 69h1M127 69h1M182 69h1M187 69h4M193 69h2M199 69h1M201 69h1M258 69h2M263 69h4M191 70h3M218 70h1M221 70h2M257 70h4M262 70h7M157 71h2M165 71h1M176 71h1M191 71h1M223 71h1M256 71h1M259 71h4M270 71h1M158 72h2M164 72h2M175 72h1M191 72h4M223 72h1M257 72h2M263 72h2M175 73h1M194 73h2M215 73h1M224 73h1M246 73h1M196 74h1M206 74h5M225 74h1M247 74h1M176 75h1M195 75h2M204 75h1M226 75h1M244 75h1M176 76h1M191 76h3M202 76h1M229 76h5M238 76h1M241 76h1M244 76h2M177 77h1M186 77h1M201 77h1M243 77h1M177 78h4M244 78h1M172 79h7M202 79h1M248 79h1M170 80h1M177 80h1M252 80h1M151 81h7M169 81h1M177 81h1M205 81h1M212 81h1M254 81h1M160 82h1M167 82h2M177 82h1M215 82h1M227 82h2M237 82h1M139 83h1M176 83h1M217 83h1M225 83h1M233 83h7M255 83h1M175 84h1M255 84h1M255 85h1M136 86h1M254 86h1M262 86h1M265 86h1M243 87h3M252 87h2M261 87h1M270 87h1M130 88h1M134 88h1M139 88h1M156 88h2M262 88h1M271 88h1M121 89h3M131 89h1M138 89h1M146 89h2M169 89h1M191 89h1M131 90h2M147 90h1M169 90h1M186 90h1M216 90h2M220 90h1M263 90h1M272 90h1M131 91h2M138 91h1M186 91h2M193 91h1M271 91h2M123 92h1M131 92h2M138 92h1M145 92h1M158 92h2M168 92h1M187 92h2M193 92h1M212 92h1M214 92h2M264 92h1M270 92h6M124 93h1M130 93h1M133 93h1M145 93h1M160 93h2M168 93h1M183 93h2M212 93h3M126 94h1M135 94h1M146 94h1M160 94h2M168 94h1M172 94h1M184 94h1M191 94h1M36 95h2M136 95h1M149 95h1M151 95h3M160 95h2M181 95h1M185 95h1M137 96h2M155 96h1M159 96h2M186 96h1M172 97h2M180 97h1M188 97h2M168 98h2M175 98h1M179 98h1M235 98h2M240 98h2M264 98h1M171 99h1M175 99h1M179 99h1M214 99h1M236 99h3M240 99h2M264 99h2M213 100h1M218 100h3M222 101h1M244 101h2M253 101h1M257 101h1M44 102h1M46 102h1M193 102h1M201 102h1M216 102h1M225 102h1M244 102h1M206 103h2M212 103h4M228 103h2M245 103h2M259 103h1M271 103h2M199 104h1M231 104h1M247 104h3M262 104h1M266 104h2M231 105h1M247 105h4M263 105h2M193 106h1M214 106h1M217 106h1M231 106h2M235 106h1M238 106h1M245 106h2M180 107h1M213 107h1M219 107h1M229 107h2M232 107h2M240 107h3M180 108h1M203 108h1M206 108h2M211 108h1M219 108h1M230 108h2M180 109h1M252 109h1M256 109h1M180 110h1M185 110h1M218 110h1M250 110h2M180 111h1M217 111h1M251 111h1M179 112h2M215 112h1M259 112h1M178 113h1M181 113h2M213 113h1M252 113h1M176 114h2M182 114h1M211 114h1M252 114h1M174 115h1M183 115h1M244 115h1M262 115h1M171 116h1M242 116h1M170 117h1M205 117h1M240 117h2M169 118h1M205 118h1M236 118h5M161 119h1M187 119h1M225 119h7M235 119h5M268 119h1M189 120h1M219 120h5M233 120h2M270 120h1M189 121h1M210 121h1M217 121h1M270 121h1M140 122h1M149 122h1M189 122h1M150 123h1M189 123h1M271 123h1M143 124h1M160 124h1M189 124h1M203 124h2M212 124h5M268 124h1M139 125h1M142 125h1M161 125h1M166 125h1M169 125h1M188 125h1M198 125h1M219 125h2M238 125h1M245 125h2M254 125h2M272 125h1M139 126h1M142 126h1M162 126h2M166 126h1M169 126h1M188 126h1M196 126h1M220 126h1M238 126h1M254 126h1M272 126h1M142 127h1M150 127h5M161 127h2M189 127h6M219 127h1M241 127h1M268 127h1M141 128h1M147 128h1M156 128h2M160 128h2M218 128h1M271 128h1M113 129h7M144 129h1M157 129h3M217 129h1M270 129h1M110 130h1M117 130h4M142 130h2M158 130h1M213 130h4M120 131h1M130 131h1M142 131h1M191 131h2M212 131h1M108 132h1M121 132h1M129 132h1M134 132h1M141 132h2M170 132h7M183 132h1M189 132h2M193 132h1M212 132h2M108 133h1M123 133h6M134 133h1M141 133h2M156 133h2M160 133h1M163 133h1M166 133h3M178 133h4M193 133h9M214 133h1M108 134h1M133 134h2M141 134h2M153 134h3M161 134h2M195 134h1M201 134h2M215 134h1M217 134h3M108 135h3M133 135h1M143 135h2M150 135h1M200 135h2M215 135h1M217 135h1M118 136h3M127 136h1M130 136h4M146 136h3M199 136h1M214 136h1M217 136h6M256 136h3M122 137h5M132 137h1M198 137h1M211 137h3M219 137h1M239 137h2M253 137h2M259 137h1M197 138h1M211 138h1M219 138h1M224 138h1M239 138h1M250 138h4M260 138h2M265 138h1M196 139h1M211 139h1M219 139h2M223 139h2M247 139h1M250 139h2M253 139h3M260 139h1M267 139h1M176 140h2M195 140h1M211 140h1M221 140h3M229 140h3M247 140h1M250 140h1M255 140h5M268 140h1M179 141h1M195 141h1M211 141h1M229 141h1M231 141h1M243 141h4M250 141h1M259 141h2M268 141h1M175 142h1M180 142h1M195 142h1M209 142h3M229 142h3M242 142h1M250 142h1M261 142h1M181 143h4M186 143h1M196 143h13M230 143h1M241 143h1M250 143h1M263 143h4M174 144h1M240 144h1M250 144h1M174 145h1M240 145h1M250 145h1M174 146h1M240 146h1M250 146h1"/>
<path stroke="#ffff00" d="M213 0h18M243 0h1M269 0h2M213 1h18M243 1h1M269 1h2M213 2h18M243 2h1M269 2h2M213 3h5M220 3h12M213 4h4M221 4h9M232 4h1M242 4h1M213 5h3M222 5h7M232 5h2M203 6h1M212 6h5M221 6h7M234 6h1M241 6h1M128 7h1M132 7h1M196 7h4M201 7h1M211 7h2M217 7h4M235 7h2M127 8h1M134 8h3M139 8h1M149 8h1M193 8h1M210 8h2M238 8h3M133 9h1M136 9h1M139 9h1M193 9h1M206 9h1M239 9h1M194 10h1M205 10h1M32 11h2M36 12h1M5 13h1M9 13h1M31 13h1M35 13h1M3 14h1M10 14h1M31 14h2M34 14h1M38 14h1M200 14h1M5 15h1M210 16h2M214 16h2M128 17h2M134 17h1M208 17h1M217 17h1M220 17h1M127 18h1M130 18h1M135 18h1M207 18h1M224 18h1M246 18h1M134 19h3M207 19h1M219 19h1M225 19h3M135 20h13M152 20h2M162 20h2M166 20h1M208 20h1M219 20h2M135 21h1M142 21h6M151 21h1M154 21h1M162 21h1M166 21h1M203 21h1M205 21h1M208 21h1M220 21h4M228 21h1M143 22h6M151 22h3M172 22h2M201 22h1M207 22h1M221 22h1M123 23h1M144 23h7M170 23h2M174 23h1M199 23h1M123 24h1M143 24h6M150 24h1M169 24h2M174 24h1M196 24h2M135 25h1M141 25h7M151 25h2M168 25h2M195 25h2M220 25h1M143 26h4M152 26h2M156 26h1M168 26h1M194 26h2M219 26h1M239 26h1M136 27h1M139 27h1M143 27h4M152 27h2M167 27h1M194 27h1M218 27h1M235 27h1M239 27h1M136 28h1M140 28h1M142 28h6M151 28h1M154 28h3M166 28h1M193 28h1M217 28h2M140 29h11M165 29h1M193 29h1M216 29h1M140 30h3M145 30h8M163 30h2M175 30h1M193 30h1M215 30h2M137 31h5M146 31h2M156 31h3M164 31h5M199 31h2M207 31h3M215 31h2M125 32h1M127 32h1M140 32h2M146 32h2M165 32h1M169 32h2M202 32h4M211 32h2M214 32h3M124 33h1M129 33h1M132 33h2M140 33h1M146 33h2M165 33h2M171 33h1M213 33h4M129 34h1M136 34h1M139 34h1M145 34h1M147 34h1M173 34h2M125 35h1M127 35h2M137 35h2M144 35h1M148 35h1M117 36h3M127 36h2M144 36h2M147 36h1M169 36h1M128 37h1M171 37h1M215 37h2M175 38h1M155 39h2M175 39h1M216 39h1M116 40h5M125 40h2M154 40h1M157 40h5M173 40h1M188 40h2M112 41h1M138 41h6M151 41h1M163 41h2M110 42h1M137 42h7M149 42h2M164 42h4M188 42h1M135 43h4M149 43h2M164 43h1M166 43h2M109 44h1M132 44h2M136 44h2M149 44h2M131 45h2M138 45h1M150 45h1M164 45h1M166 45h1M108 46h1M129 46h3M140 46h1M151 46h1M154 46h3M6 47h3M108 47h1M130 47h2M152 47h2M9 48h1M108 48h1M127 48h1M142 48h1M157 48h1M108 49h1M127 49h1M143 49h1M152 49h2M157 49h2M10 50h1M127 50h1M145 50h1M150 50h5M10 51h1M109 51h1M127 51h1M147 51h6M126 52h1M148 52h3M159 52h1M9 53h1M110 53h1M149 53h1M158 53h1M193 53h1M5 54h1M8 54h1M111 54h1M124 54h1M149 54h2M157 54h1M195 54h1M6 55h2M111 55h2M123 55h2M146 55h9M196 55h1M113 56h1M125 56h3M131 56h1M144 56h1M150 56h2M185 56h1M197 56h1M113 57h2M121 57h1M125 57h1M133 57h11M149 57h2M185 57h1M198 57h1M110 58h3M115 58h2M121 58h1M124 58h1M133 58h2M136 58h13M198 58h2M112 59h1M118 59h6M133 59h1M137 59h9M152 59h1M198 59h4M112 60h1M119 60h4M133 60h1M137 60h6M191 60h2M198 60h4M219 60h1M112 61h1M121 61h2M128 61h1M130 61h1M134 61h8M191 61h2M197 61h5M8 62h2M112 62h1M122 62h1M131 62h1M137 62h4M190 62h4M197 62h5M221 62h5M232 62h1M6 63h4M110 63h2M122 63h1M127 63h1M131 63h1M140 63h1M185 63h1M187 63h1M192 63h3M222 63h5M232 63h1M9 64h2M123 64h2M127 64h1M130 64h1M140 64h1M9 65h4M126 65h2M140 65h1M269 65h2M8 66h4M127 66h1M134 66h2M6 67h1M125 67h1M129 67h2M137 67h2M124 68h1M128 68h1M183 69h4M191 69h2M200 69h1M180 70h1M189 70h2M219 70h2M159 71h1M164 71h1M177 71h1M190 71h1M217 71h1M257 71h2M263 71h7M160 72h4M176 72h1M216 72h1M176 73h1M192 73h2M216 73h1M223 73h1M176 74h1M194 74h2M211 74h1M214 74h4M224 74h1M194 75h1M205 75h1M225 75h1M177 76h1M189 76h2M203 76h1M228 76h1M239 76h2M178 77h1M185 77h1M202 77h1M242 77h1M202 78h1M247 79h1M171 80h1M176 80h1M203 80h1M251 80h1M170 81h1M176 81h1M206 81h1M211 81h1M213 81h1M236 81h2M147 82h1M159 82h1M169 82h1M175 82h2M226 82h1M229 82h2M234 82h3M238 82h2M254 82h1M174 83h2M218 83h1M224 83h1M240 83h1M138 84h1M174 84h1M241 84h1M137 85h1M175 85h1M254 85h1M175 86h1M253 86h1M263 86h2M136 87h1M175 87h1M246 87h2M250 87h2M262 87h1M268 87h2M128 88h2M135 88h2M143 88h1M155 88h1M158 88h8M174 88h1M270 88h1M124 89h2M133 89h1M148 89h1M172 89h2M187 89h1M190 89h1M263 89h1M271 89h1M122 90h1M133 90h1M148 90h1M153 90h1M170 90h1M172 90h1M187 90h1M193 90h1M218 90h2M271 90h1M123 91h1M133 91h1M146 91h1M153 91h1M169 91h1M188 91h1M264 91h1M270 91h1M154 92h4M189 92h1M213 92h1M265 92h1M268 92h2M129 93h1M138 93h1M153 93h1M159 93h1M190 93h1M136 94h3M147 94h1M152 94h3M159 94h1M169 94h1M182 94h2M13 95h1M38 95h1M137 95h2M150 95h1M154 95h2M158 95h2M184 95h1M13 96h1M156 96h3M181 96h1M185 96h1M187 97h1M170 98h2M190 98h1M212 98h1M237 98h3M172 99h1M191 99h1M212 99h1M239 99h1M180 100h1M192 100h1M217 101h1M221 101h1M246 101h2M252 101h1M45 102h1M223 102h2M245 102h2M254 102h3M258 102h1M193 103h1M200 103h1M204 103h2M208 103h4M216 103h1M226 103h2M247 103h2M273 103h3M193 104h1M215 104h2M230 104h1M250 104h2M261 104h1M268 104h1M193 105h1M215 105h2M230 105h1M251 105h1M265 105h1M201 106h1M213 106h1M218 106h1M229 106h2M236 106h2M247 106h5M202 107h1M212 107h1M227 107h2M234 107h1M239 107h1M243 107h4M251 107h1M190 108h2M204 108h2M208 108h3M229 108h1M232 108h2M240 108h5M251 108h3M186 109h1M219 109h1M233 109h1M240 109h4M250 109h2M234 110h1M239 110h5M249 110h1M258 110h1M181 111h1M234 111h3M249 111h2M259 111h1M181 112h2M234 112h1M250 112h2M179 113h2M234 113h1M260 113h1M178 114h1M181 114h1M234 114h1M250 114h2M261 114h1M175 115h2M209 115h1M234 115h1M243 115h1M172 116h1M206 116h1M234 116h3M241 116h1M184 117h1M233 117h7M265 117h1M170 118h1M185 118h1M228 118h8M162 119h1M206 119h1M223 119h2M232 119h3M160 120h1M207 120h1M218 120h1M211 121h1M215 121h2M269 121h1M141 122h5M147 122h2M269 122h2M140 123h1M142 123h5M148 123h2M269 123h1M142 124h1M168 124h1M188 124h1M271 124h1M162 125h1M170 125h1M199 125h2M218 125h1M239 125h1M247 125h1M253 125h1M268 125h1M164 126h2M170 126h1M187 126h1M197 126h1M218 126h2M246 126h3M268 126h1M140 127h2M163 127h1M167 127h2M188 127h1M195 127h2M217 127h2M242 127h2M271 127h1M148 128h1M155 128h1M162 128h1M188 128h2M216 128h2M269 128h1M145 129h2M156 129h1M160 129h2M173 129h2M183 129h1M212 129h5M111 130h6M144 130h2M156 130h2M159 130h2M173 130h2M183 130h1M188 130h4M212 130h1M109 131h1M116 131h4M133 131h1M143 131h2M156 131h4M172 131h4M183 131h2M187 131h4M193 131h2M211 131h1M109 132h1M117 132h2M120 132h1M133 132h1M143 132h1M156 132h4M164 132h3M169 132h1M177 132h1M182 132h1M184 132h5M194 132h8M211 132h1M109 133h1M116 133h2M121 133h2M129 133h2M133 133h1M143 133h1M154 133h2M161 133h2M202 133h1M213 133h1M109 134h2M115 134h2M128 134h3M132 134h1M143 134h1M151 134h2M203 134h1M214 134h1M111 135h7M128 135h5M145 135h1M149 135h1M202 135h1M210 135h1M214 135h1M218 135h2M121 136h2M126 136h1M200 136h1M210 136h4M199 137h1M210 137h1M220 137h1M223 137h1M255 137h1M198 138h1M210 138h1M220 138h1M223 138h1M248 138h2M254 138h2M259 138h1M262 138h1M210 139h1M221 139h2M248 139h2M256 139h4M261 139h1M266 139h1M210 140h1M248 140h2M260 140h1M176 141h1M178 141h1M209 141h2M230 141h1M247 141h3M261 141h1M178 142h2M196 142h1M204 142h5M248 142h2M262 142h1M267 142h1M175 143h1M179 143h2M185 143h1M249 143h1M175 144h1M180 144h7M241 144h1M249 144h1M175 145h1M180 145h7M241 145h1M249 145h1M175 146h1M180 146h7M241 146h1M249 146h1"/>
<path stroke="#ffe500" d="M204 0h1M212 0h1M231 0h2M242 0h1M204 1h1M212 1h1M231 1h2M242 1h1M204 2h1M212 2h1M231 2h2M242 2h1M204 3h1M212 3h1M218 3h2M232 3h1M242 3h1M204 4h1M212 4h1M217 4h4M233 4h1M204 5h1M212 5h1M216 5h2M220 5h2M234 5h1M241 5h1M204 6h1M211 6h1M217 6h1M220 6h1M235 6h1M129 7h3M202 7h1M207 7h4M237 7h4M133 8h1M137 8h2M194 8h1M206 8h4M128 9h5M137 9h2M194 9h1M195 10h2M199 10h4M204 10h1M31 12h1M35 12h1M6 13h3M32 13h3M4 14h1M33 14h1M6 15h4M212 16h2M119 17h1M126 17h2M130 17h4M209 17h1M216 17h1M221 17h2M119 18h1M126 18h1M131 18h4M208 18h1M218 18h3M223 18h1M208 19h1M218 19h1M220 19h5M164 20h2M218 20h1M221 20h3M228 20h1M136 21h6M163 21h3M204 21h1M209 21h1M219 21h1M224 21h4M135 22h1M141 22h2M202 22h1M206 22h1M208 22h2M220 22h1M122 23h1M135 23h1M142 23h2M172 23h1M200 23h1M208 23h3M220 23h1M122 24h1M135 24h1M142 24h1M149 24h1M171 24h1M198 24h1M209 24h2M220 24h1M140 25h1M148 25h3M170 25h1M174 25h1M197 25h1M136 26h1M139 26h1M147 26h2M151 26h1M154 26h2M169 26h1M174 26h1M196 26h1M218 26h1M236 26h1M238 26h1M147 27h2M151 27h1M154 27h1M156 27h1M168 27h1M174 27h1M195 27h1M217 27h1M236 27h1M238 27h1M139 28h1M148 28h3M167 28h1M174 28h1M194 28h1M216 28h1M139 29h1M166 29h1M174 29h1M215 29h1M137 30h1M139 30h1M143 30h2M165 30h2M194 30h1M214 30h1M142 31h4M148 31h2M155 31h1M159 31h2M162 31h2M169 31h2M175 31h1M201 31h6M210 31h5M126 32h1M142 32h1M145 32h1M148 32h1M164 32h1M171 32h1M175 32h1M213 32h1M127 33h2M130 33h2M141 33h2M145 33h1M148 33h1M164 33h1M172 33h1M175 33h1M125 34h4M130 34h2M135 34h1M140 34h5M148 34h1M165 34h2M168 34h1M126 35h1M129 35h2M139 35h1M142 35h2M161 35h3M129 36h1M137 36h2M143 36h1M148 36h1M160 36h4M144 37h3M170 37h1M128 38h1M156 38h1M174 38h1M215 38h2M157 39h1M174 39h1M215 39h1M121 40h4M138 40h6M153 40h1M162 40h3M171 40h2M113 41h2M137 41h1M144 41h1M149 41h2M165 41h4M188 41h2M111 42h1M136 42h1M144 42h2M148 42h1M189 42h1M110 43h1M132 43h3M139 43h6M148 43h1M165 43h1M131 44h1M138 44h2M148 44h1M164 44h1M166 44h1M109 45h1M129 45h2M139 45h1M149 45h1M165 45h1M109 46h1M128 46h1M141 46h1M150 46h1M109 47h1M127 47h1M142 47h1M151 47h1M154 47h1M156 47h1M6 48h3M109 48h1M143 48h1M151 48h4M156 48h1M5 49h1M9 49h1M109 49h1M144 49h1M150 49h2M154 49h3M109 50h1M146 50h4M155 50h5M110 51h1M126 51h1M153 51h5M159 51h1M9 52h1M110 52h1M125 52h1M151 52h8M8 53h1M111 53h1M124 53h1M150 53h2M157 53h1M185 53h1M192 53h1M7 54h1M112 54h1M123 54h1M151 54h1M156 54h1M185 54h1M194 54h1M113 55h1M121 55h2M185 55h1M195 55h1M114 56h1M121 56h1M145 56h1M148 56h2M186 56h1M196 56h1M115 57h1M126 57h7M144 57h2M148 57h1M186 57h1M196 57h2M117 58h4M125 58h6M132 58h1M185 58h1M196 58h2M110 59h2M124 59h1M185 59h1M191 59h2M196 59h2M123 60h1M190 60h1M193 60h1M196 60h2M123 61h1M127 61h1M131 61h3M189 61h2M193 61h4M123 62h1M127 62h1M132 62h2M136 62h1M188 62h2M194 62h3M226 62h2M231 62h1M123 63h1M132 63h2M137 63h3M186 63h1M227 63h3M231 63h1M5 64h1M7 64h2M125 64h2M131 64h4M139 64h1M8 65h1M128 65h1M134 65h2M128 66h1M132 66h2M139 66h1M269 66h2M126 67h3M127 68h1M125 69h2M188 70h1M160 71h4M178 71h1M189 71h1M222 71h1M177 72h1M190 72h1M177 73h1M191 73h1M217 73h1M177 74h1M193 74h1M212 74h2M218 74h2M223 74h1M245 74h2M177 75h1M192 75h2M206 75h1M208 75h2M216 75h2M224 75h1M245 75h2M178 76h1M188 76h1M204 76h1M226 76h2M179 77h6M203 77h1M236 77h2M243 78h1M203 79h1M246 79h1M172 80h4M236 80h2M171 81h1M175 81h1M207 81h4M214 81h1M235 81h1M238 81h2M253 81h1M148 82h1M158 82h1M170 82h5M216 82h1M225 82h1M231 82h3M240 82h1M140 83h5M164 83h5M172 83h2M219 83h5M254 83h1M173 84h1M254 84h1M138 85h1M242 85h1M253 85h1M137 86h1M243 86h4M251 86h2M137 87h1M248 87h2M267 87h1M137 88h2M144 88h3M166 88h2M263 88h1M269 88h1M126 89h1M130 89h1M134 89h4M149 89h1M170 89h2M188 89h2M264 89h1M270 89h1M123 90h1M137 90h1M149 90h2M171 90h1M264 90h1M270 90h1M124 91h1M130 91h1M137 91h1M147 91h1M172 91h1M189 91h1M265 91h1M269 91h1M124 92h1M130 92h1M133 92h1M137 92h1M146 92h1M153 92h1M190 92h1M266 92h2M125 93h1M127 93h2M134 93h4M146 93h1M152 93h1M154 93h1M157 93h2M172 93h1M191 93h2M148 94h1M151 94h1M155 94h4M170 94h2M15 95h1M156 95h2M182 95h2M15 96h1M184 96h1M186 97h1M172 98h1M174 98h1M180 98h1M189 98h1M213 98h1M173 99h2M180 99h1M190 99h1M213 99h1M218 101h3M248 101h4M217 102h1M221 102h2M247 102h1M253 102h1M257 102h1M201 103h3M217 103h1M225 103h1M249 103h3M200 104h1M213 104h2M217 104h1M228 104h2M252 104h1M260 104h1M269 104h4M200 105h1M214 105h1M217 105h2M229 105h1M252 105h1M262 105h1M266 105h2M212 106h1M219 106h1M228 106h1M252 106h1M262 106h4M211 107h1M220 107h1M224 107h3M247 107h1M250 107h1M252 107h1M189 108h1M220 108h1M225 108h4M234 108h1M239 108h1M245 108h3M250 108h1M254 108h2M181 109h1M231 109h2M234 109h2M238 109h2M244 109h6M257 109h1M181 110h1M184 110h1M219 110h1M233 110h1M235 110h4M244 110h1M247 110h2M259 110h1M182 111h2M218 111h1M233 111h1M237 111h7M248 111h1M260 111h1M216 112h1M233 112h1M235 112h2M249 112h1M260 112h1M214 113h1M233 113h1M235 113h1M250 113h2M179 114h2M212 114h1M233 114h1M235 114h1M244 114h6M177 115h2M181 115h2M233 115h1M235 115h2M242 115h1M173 116h1M183 116h1M233 116h1M237 116h4M264 116h1M171 117h1M232 117h1M171 118h1M225 118h3M267 118h1M271 118h1M167 119h3M186 119h1M219 119h4M270 119h1M188 120h1M208 120h1M217 120h1M269 120h1M160 121h1M188 121h1M212 121h3M146 122h1M160 122h1M188 122h1M141 123h1M147 123h1M160 123h1M188 123h1M270 123h1M140 124h2M167 124h1M169 124h1M140 125h1M163 125h3M187 125h1M201 125h12M216 125h2M240 125h1M244 125h1M248 125h1M252 125h1M271 125h1M140 126h2M171 126h1M198 126h1M217 126h1M239 126h1M245 126h1M249 126h1M253 126h1M271 126h1M164 127h3M169 127h3M183 127h1M187 127h1M197 127h1M213 127h1M216 127h1M149 128h1M153 128h2M163 128h1M173 128h2M182 128h2M187 128h1M190 128h2M212 128h4M270 128h1M147 129h1M155 129h1M162 129h2M172 129h1M175 129h1M182 129h1M184 129h1M187 129h4M211 129h1M146 130h1M155 130h1M161 130h1M163 130h2M171 130h2M175 130h2M182 130h1M184 130h4M192 130h9M211 130h1M110 131h1M115 131h1M131 131h2M145 131h1M155 131h1M160 131h1M163 131h3M170 131h2M176 131h2M182 131h1M185 131h2M195 131h7M115 132h2M119 132h1M130 132h1M144 132h2M155 132h1M160 132h1M163 132h1M167 132h2M178 132h4M202 132h1M110 133h1M114 133h2M118 133h3M131 133h2M144 133h1M153 133h1M203 133h1M210 133h3M111 134h4M117 134h2M126 134h2M131 134h1M144 134h1M149 134h2M204 134h1M209 134h3M213 134h1M118 135h2M127 135h1M146 135h3M203 135h2M208 135h2M211 135h1M213 135h1M123 136h3M201 136h2M208 136h2M200 137h1M208 137h2M221 137h2M256 137h3M199 138h1M208 138h2M221 138h2M256 138h1M263 138h2M197 139h1M208 139h2M262 139h1M265 139h1M196 140h1M208 140h2M261 140h1M267 140h1M177 141h1M196 141h1M208 141h1M267 141h1M176 142h2M197 142h1M201 142h3M243 142h5M263 142h1M265 142h2M178 143h1M242 143h1M248 143h1M179 144h1M248 144h1M179 145h1M248 145h1M179 146h1M248 146h1"/>
<path stroke="#ffcc00" d="M233 0h1M233 1h1M233 2h1M205 3h1M211 3h1M233 3h1M241 3h1M205 4h1M211 4h1M234 4h1M241 4h1M205 5h2M211 5h1M218 5h2M235 5h1M240 5h1M205 6h6M218 6h2M236 6h5M203 7h1M205 7h2M128 8h5M195 8h1M200 8h2M200 9h2M205 9h1M197 10h2M203 10h1M32 12h3M5 14h5M120 17h6M210 17h1M215 17h1M120 18h6M209 18h1M217 18h1M221 18h2M209 19h1M217 19h1M209 20h1M217 20h1M224 20h4M152 21h2M218 21h1M136 22h2M139 22h2M203 22h3M210 22h1M219 22h1M136 23h1M141 23h1M173 23h1M201 23h1M206 23h2M136 24h1M140 24h2M172 24h1M199 24h1M208 24h1M136 25h1M139 25h1M171 25h2M198 25h1M209 25h2M219 25h1M137 26h2M149 26h2M170 26h2M197 26h1M209 26h1M217 26h1M237 26h1M137 27h2M149 27h2M155 27h1M169 27h2M196 27h2M216 27h1M237 27h1M137 28h2M168 28h3M195 28h3M215 28h1M137 29h2M167 29h3M194 29h2M214 29h1M138 30h1M167 30h5M174 30h1M195 30h19M150 31h2M153 31h2M161 31h1M171 31h1M143 32h2M149 32h1M155 32h5M163 32h1M125 33h2M143 33h2M149 33h1M163 33h1M132 34h3M149 34h1M162 34h3M167 34h1M131 35h1M136 35h1M140 35h2M149 35h1M159 35h2M164 35h2M168 35h1M130 36h2M139 36h4M149 36h1M159 36h1M164 36h1M129 37h3M137 37h7M147 37h1M159 37h6M129 38h3M137 38h3M142 38h3M155 38h1M157 38h2M160 38h5M173 38h1M128 39h1M132 39h1M135 39h9M154 39h1M158 39h7M127 40h1M135 40h3M144 40h1M150 40h3M165 40h1M170 40h1M115 41h1M135 41h2M145 41h1M148 41h1M112 42h1M132 42h4M146 42h2M111 43h1M131 43h1M145 43h3M110 44h1M130 44h1M140 44h8M165 44h1M110 45h1M128 45h1M140 45h4M148 45h1M110 46h1M127 46h1M142 46h2M149 46h1M110 47h1M126 47h1M143 47h1M150 47h1M155 47h1M110 48h1M126 48h1M144 48h1M150 48h1M155 48h1M7 49h2M110 49h1M126 49h1M145 49h2M148 49h2M9 50h1M110 50h1M126 50h1M9 51h1M125 51h1M158 51h1M5 52h1M8 52h1M111 52h1M124 52h1M5 53h1M7 53h1M112 53h1M123 53h1M152 53h5M186 53h6M6 54h1M113 54h10M152 54h4M186 54h1M193 54h1M114 55h3M120 55h1M186 55h3M194 55h1M115 56h2M120 56h1M146 56h2M187 56h2M195 56h1M116 57h5M146 57h2M187 57h2M195 57h1M131 58h1M186 58h3M195 58h1M125 59h8M186 59h2M189 59h2M193 59h3M110 60h2M124 60h1M127 60h6M185 60h1M188 60h2M194 60h2M110 61h2M124 61h1M185 61h1M187 61h2M110 62h2M134 62h2M185 62h1M187 62h1M228 62h3M124 63h1M134 63h3M230 63h1M6 64h1M135 64h2M138 64h1M7 65h1M129 65h5M139 65h1M5 66h1M7 66h1M129 66h3M136 66h1M125 68h2M181 70h1M187 70h1M179 71h1M221 71h1M189 72h1M217 72h1M222 72h1M190 73h1M218 73h1M222 73h1M191 74h2M220 74h3M178 75h1M191 75h1M207 75h1M210 75h2M214 75h2M218 75h3M223 75h1M179 76h1M187 76h1M205 76h1M225 76h1M235 77h1M238 77h1M241 77h1M203 78h1M242 78h1M236 79h2M245 79h1M204 80h1M235 80h1M238 80h1M250 80h1M172 81h3M233 81h2M149 82h3M156 82h2M217 82h1M224 82h1M253 82h1M145 83h1M162 83h2M169 83h3M241 83h1M253 83h1M139 84h1M172 84h1M253 84h1M174 85h1M252 85h1M247 86h1M250 86h1M138 87h3M263 87h4M147 88h1M168 88h1M173 88h1M264 88h2M268 88h1M127 89h1M150 89h2M153 89h1M269 89h1M124 90h2M130 90h1M134 90h3M151 90h2M188 90h2M192 90h1M265 90h1M269 90h1M125 91h1M134 91h3M148 91h1M152 91h1M190 91h1M192 91h1M266 91h1M268 91h1M125 92h1M129 92h1M134 92h3M152 92h1M169 92h1M172 92h1M191 92h2M126 93h1M147 93h1M155 93h2M169 93h1M14 95h1M14 96h1M182 96h1M181 97h1M185 97h1M173 98h1M188 98h1M191 100h1M192 101h1M218 102h3M248 102h5M181 103h1M218 103h1M223 103h2M252 103h5M258 103h1M181 104h1M201 104h1M212 104h1M218 104h1M227 104h1M253 104h1M259 104h1M273 104h3M181 105h1M201 105h1M213 105h1M219 105h1M228 105h1M253 105h1M261 105h1M268 105h1M181 106h1M202 106h1M211 106h1M220 106h1M225 106h3M253 106h1M261 106h1M266 106h1M181 107h1M192 107h1M203 107h1M221 107h1M223 107h1M235 107h1M238 107h1M248 107h2M253 107h1M261 107h4M181 108h1M188 108h1M221 108h1M223 108h2M235 108h1M238 108h1M248 108h2M256 108h1M185 109h1M220 109h1M228 109h3M236 109h2M258 109h3M182 110h2M232 110h1M245 110h2M260 110h1M219 111h1M244 111h4M217 112h1M237 112h9M247 112h2M261 112h1M236 113h1M243 113h1M248 113h2M261 113h1M232 114h1M236 114h1M242 114h2M262 114h1M179 115h2M210 115h1M232 115h1M237 115h2M240 115h2M263 115h1M174 116h5M232 116h1M172 117h2M227 117h5M172 118h2M176 118h1M184 118h1M206 118h1M222 118h3M163 119h1M166 119h1M170 119h10M185 119h1M207 119h1M218 119h1M187 120h1M209 120h1M187 121h1M187 123h1M161 124h1M170 124h1M187 124h1M269 124h2M141 125h1M171 125h1M186 125h1M213 125h3M241 125h3M249 125h3M172 126h1M177 126h1M181 126h6M199 126h2M212 126h5M240 126h1M244 126h1M250 126h1M172 127h2M175 127h2M182 127h1M184 127h3M198 127h2M210 127h3M214 127h2M269 127h2M150 128h3M164 128h2M170 128h3M175 128h2M184 128h3M192 128h8M210 128h2M148 129h1M154 129h1M164 129h1M171 129h1M176 129h1M181 129h1M185 129h2M191 129h13M210 129h1M147 130h1M154 130h1M162 130h1M165 130h1M170 130h1M177 130h1M181 130h1M201 130h3M210 130h1M111 131h4M146 131h1M161 131h2M166 131h1M169 131h1M178 131h1M181 131h1M202 131h2M210 131h1M110 132h5M131 132h2M146 132h1M154 132h1M161 132h2M203 132h8M111 133h3M145 133h2M151 133h2M204 133h6M119 134h7M145 134h4M205 134h4M212 134h1M120 135h7M205 135h3M212 135h1M203 136h1M207 136h1M201 137h1M207 137h1M200 138h1M207 138h1M257 138h2M198 139h1M207 139h1M263 139h2M207 140h1M262 140h1M266 140h1M203 141h5M262 141h1M266 141h1M198 142h3M264 142h1M176 143h2M243 143h1M247 143h1M176 144h3M242 144h1M176 145h3M242 145h1M176 146h3M242 146h1"/>
<path stroke="#ffb300" d="M205 0h1M211 0h1M234 0h1M241 0h1M205 1h1M211 1h1M234 1h1M241 1h1M205 2h1M211 2h1M234 2h1M241 2h1M234 3h2M206 4h1M210 4h1M235 4h2M240 4h1M207 5h4M236 5h4M204 7h1M196 8h1M199 8h1M202 8h1M205 8h1M195 9h2M199 9h1M202 9h1M204 9h1M216 18h1M210 19h1M216 19h1M210 20h1M210 21h1M217 21h1M138 22h1M211 22h1M218 22h1M139 23h2M202 23h1M205 23h1M211 23h1M219 23h1M139 24h1M173 24h1M200 24h2M206 24h2M211 24h1M219 24h1M137 25h2M173 25h1M199 25h1M207 25h2M211 25h1M217 25h2M172 26h2M198 26h2M208 26h1M210 26h1M215 26h2M171 27h3M198 27h1M209 27h2M214 27h2M171 28h3M198 28h2M208 28h4M213 28h2M170 29h4M196 29h18M172 30h2M152 31h1M172 31h1M174 31h1M150 32h1M160 32h1M162 32h1M172 32h1M150 33h1M156 33h4M173 33h2M150 34h1M157 34h5M132 35h2M135 35h1M150 35h1M158 35h1M166 35h1M132 36h1M136 36h1M157 36h2M165 36h1M132 37h2M136 37h1M148 37h2M155 37h4M165 37h1M169 37h1M132 38h5M140 38h2M145 38h1M154 38h1M159 38h1M165 38h1M129 39h3M133 39h2M144 39h1M153 39h1M165 39h1M173 39h1M128 40h1M130 40h5M145 40h2M148 40h2M166 40h1M169 40h1M116 41h1M131 41h4M146 41h2M113 42h1M130 42h2M112 43h2M129 43h2M111 44h2M128 44h2M111 45h1M127 45h1M144 45h4M111 46h1M126 46h1M144 46h2M148 46h1M111 47h1M125 47h1M144 47h1M149 47h1M111 48h1M125 48h1M145 48h1M148 48h2M6 49h1M111 49h1M125 49h1M147 49h1M5 50h1M8 50h1M111 50h1M125 50h1M5 51h1M8 51h1M111 51h2M124 51h1M7 52h1M112 52h2M123 52h1M6 53h1M113 53h10M187 54h6M117 55h3M189 55h2M193 55h1M117 56h3M189 56h1M194 56h1M189 57h2M194 57h1M189 58h6M188 59h1M125 60h2M186 60h2M125 61h2M186 61h1M124 62h1M186 62h1M125 63h2M137 64h1M5 65h1M136 65h1M6 66h1M137 66h2M182 70h1M185 70h2M188 71h1M218 71h1M220 71h1M178 72h1M221 72h1M178 73h1M189 73h1M219 73h3M178 74h1M190 74h1M189 75h2M212 75h2M221 75h2M180 76h2M184 76h3M206 76h1M224 76h1M204 77h1M229 77h6M239 77h2M204 78h1M236 78h2M241 78h1M204 79h1M235 79h1M238 79h1M244 79h1M233 80h2M239 80h1M249 80h1M215 81h1M227 81h3M231 81h2M240 81h1M252 81h1M152 82h4M223 82h1M252 82h1M146 83h1M160 83h2M167 84h5M242 84h1M139 85h1M173 85h1M243 85h5M250 85h2M138 86h1M174 86h1M248 86h2M141 87h3M174 87h1M148 88h2M154 88h1M169 88h1M172 88h1M266 88h2M128 89h2M152 89h1M265 89h1M268 89h1M126 90h1M190 90h2M268 90h1M126 91h1M129 91h1M149 91h1M151 91h1M170 91h2M191 91h1M267 91h1M126 92h3M147 92h1M151 93h1M149 94h2M183 96h1M184 97h1M181 98h1M186 98h2M189 99h1M190 100h1M181 101h1M181 102h1M192 102h1M192 103h1M219 103h4M257 103h1M202 104h1M206 104h2M210 104h2M219 104h1M226 104h1M254 104h1M192 105h1M202 105h1M212 105h1M220 105h1M226 105h2M260 105h1M269 105h1M192 106h1M203 106h1M221 106h1M223 106h2M254 106h1M260 106h1M267 106h1M204 107h7M222 107h1M236 107h2M254 107h2M260 107h1M265 107h1M186 108h2M222 108h1M259 108h5M182 109h1M184 109h1M227 109h1M261 109h1M220 110h1M231 110h1M261 110h1M232 111h1M261 111h1M218 112h1M232 112h1M246 112h1M215 113h1M232 113h1M237 113h2M241 113h2M244 113h4M213 114h1M237 114h2M241 114h1M211 115h1M231 115h1M239 115h1M179 116h4M207 116h1M227 116h5M174 117h7M183 117h1M206 117h1M226 117h1M174 118h2M177 118h4M220 118h2M268 118h1M164 119h2M180 119h1M184 119h1M269 119h1M161 120h1M168 120h8M178 120h3M186 120h1M210 120h1M216 120h1M186 121h1M187 122h1M162 124h1M166 124h1M171 124h1M186 124h1M172 125h1M178 125h8M269 125h1M175 126h2M178 126h3M201 126h11M241 126h1M251 126h2M269 126h1M174 127h1M177 127h2M180 127h2M200 127h10M166 128h4M177 128h1M181 128h1M200 128h10M149 129h5M165 129h1M170 129h1M177 129h1M204 129h6M148 130h1M153 130h1M166 130h1M169 130h1M178 130h1M180 130h1M204 130h6M147 131h1M154 131h1M167 131h2M179 131h2M204 131h6M147 132h1M153 132h1M147 133h4M204 136h3M202 137h1M205 137h2M201 138h1M206 138h1M199 139h1M205 139h2M197 140h1M203 140h4M265 140h1M197 141h1M202 141h1M265 141h1M244 143h1M246 143h1M243 144h1M247 144h1M243 145h1M247 145h1M243 146h1M247 146h1"/>
<path stroke="#ff9900" d="M206 0h1M210 0h1M235 0h1M240 0h1M206 1h1M210 1h1M235 1h1M240 1h1M206 2h1M210 2h1M235 2h1M240 2h1M206 3h1M210 3h1M236 3h1M240 3h1M207 4h3M237 4h3M197 8h2M203 8h2M197 9h2M203 9h1M211 17h1M214 17h1M210 18h1M215 18h1M215 19h1M211 20h1M216 20h1M211 21h1M216 21h1M212 22h1M217 22h1M137 23h2M203 23h2M212 23h1M137 24h2M202 24h1M205 24h1M212 24h1M200 25h2M206 25h1M214 25h3M200 26h1M207 26h1M211 26h1M214 26h1M199 27h2M207 27h2M211 27h3M200 28h8M212 28h1M173 31h1M151 32h1M154 32h1M161 32h1M173 32h2M155 33h1M160 33h3M155 34h2M134 35h1M156 35h2M167 35h1M133 36h1M135 36h1M150 36h1M156 36h1M166 36h1M168 36h1M134 37h2M150 37h1M146 38h3M172 38h1M145 39h2M149 39h4M166 39h1M172 39h1M129 40h1M147 40h1M167 40h2M117 41h4M129 41h2M114 42h2M129 42h1M114 43h1M128 43h1M113 44h1M127 44h1M112 45h1M126 45h1M112 46h1M125 46h1M146 46h2M124 47h1M145 47h1M147 47h2M124 48h1M146 48h2M112 49h1M124 49h1M6 50h2M112 50h1M124 50h1M7 51h1M113 51h1M123 51h1M6 52h1M114 52h9M191 55h2M190 56h4M191 57h3M125 62h2M6 65h1M137 65h2M183 70h2M180 71h1M187 71h1M219 71h1M188 72h1M218 72h3M179 73h1M179 74h1M189 74h1M179 75h1M188 75h1M182 76h2M207 76h10M223 76h1M205 77h1M225 77h4M235 78h1M238 78h1M240 78h1M205 79h1M212 79h2M233 79h2M239 79h5M205 80h1M212 80h3M232 80h1M240 80h1M248 80h1M224 81h3M230 81h1M250 81h2M218 82h5M241 82h1M251 82h1M147 83h1M158 83h2M252 83h1M164 84h3M244 84h3M252 84h1M172 85h1M248 85h2M139 86h1M144 87h4M150 88h1M170 88h2M266 89h2M127 90h1M129 90h1M266 90h2M127 91h2M150 91h1M148 92h1M151 92h1M148 93h1M171 93h1M182 97h1M185 98h1M181 99h1M188 99h1M181 100h1M192 104h1M203 104h3M208 104h2M220 104h6M255 104h4M211 105h1M221 105h1M225 105h1M254 105h1M259 105h1M270 105h6M191 106h1M204 106h7M222 106h1M255 106h1M259 106h1M268 106h1M182 107h1M191 107h1M256 107h1M259 107h1M266 107h1M182 108h1M184 108h2M236 108h2M257 108h2M264 108h1M183 109h1M221 109h1M226 109h1M262 109h1M228 110h3M220 111h1M231 111h1M219 112h1M231 112h1M216 113h1M231 113h1M239 113h2M262 113h1M214 114h1M231 114h1M239 114h2M226 115h5M264 115h1M226 116h1M265 116h1M181 117h2M222 117h4M266 117h1M181 118h3M207 118h1M219 118h1M181 119h1M183 119h1M208 119h1M217 119h1M162 120h1M167 120h1M176 120h2M181 120h1M184 120h2M211 120h1M215 120h1M161 121h1M168 121h5M179 121h3M185 121h1M186 122h1M167 123h4M186 123h1M163 124h1M165 124h1M179 124h7M176 125h2M270 125h1M173 126h2M242 126h2M270 126h1M179 127h1M178 128h3M166 129h1M169 129h1M178 129h3M149 130h4M167 130h2M179 130h1M148 131h2M153 131h1M148 132h5M203 137h2M202 138h1M204 138h2M200 139h5M198 140h1M202 140h1M263 140h2M198 141h4M263 141h2M245 143h1M244 144h1M244 145h1M244 146h1"/>
<path stroke="#ff8000" d="M207 0h3M236 0h4M207 1h3M236 1h4M207 2h3M236 2h4M207 3h3M237 3h3M212 17h2M211 18h1M214 18h1M211 19h1M214 19h1M212 20h4M212 21h4M213 22h4M213 23h6M203 24h2M213 24h6M202 25h4M212 25h2M201 26h6M212 26h2M201 27h6M151 33h1M154 33h1M151 34h1M151 35h1M155 35h1M134 36h1M151 36h1M155 36h1M167 36h1M151 37h1M154 37h1M166 37h1M149 38h3M153 38h1M166 38h1M171 38h1M147 39h2M171 39h1M121 41h2M125 41h4M116 42h1M128 42h1M115 43h1M127 43h1M114 44h1M126 44h1M113 45h1M125 45h1M124 46h1M112 47h1M120 47h4M146 47h1M112 48h1M119 48h5M119 49h5M113 50h1M116 50h8M6 51h1M114 51h9M186 71h1M179 72h1M187 72h1M188 73h1M188 74h1M180 75h2M187 75h1M217 76h6M212 77h2M224 77h1M205 78h1M212 78h2M225 78h10M239 78h1M211 79h1M214 79h1M225 79h8M206 80h1M211 80h1M215 80h1M225 80h7M241 80h1M246 80h2M216 81h1M223 81h1M241 81h1M249 81h1M248 82h3M148 83h1M157 83h1M242 83h1M247 83h5M140 84h1M146 84h1M162 84h2M243 84h1M247 84h5M140 85h1M144 85h3M165 85h7M140 86h7M173 86h1M148 87h1M159 87h7M172 87h2M151 88h1M153 88h1M128 90h1M170 92h2M150 93h1M170 93h1M183 97h1M184 98h1M187 99h1M189 100h1M191 101h1M189 104h3M188 105h4M203 105h8M222 105h3M255 105h4M182 106h1M188 106h3M256 106h3M189 107h2M257 107h2M267 107h1M183 108h1M265 108h1M222 109h4M263 109h1M227 110h1M262 110h1M228 111h3M262 111h1M220 112h1M228 112h3M262 112h1M217 113h1M222 113h1M226 113h5M215 114h1M221 114h10M263 114h1M212 115h1M221 115h5M208 116h1M222 116h4M220 117h2M273 117h3M218 118h1M270 118h1M182 119h1M209 119h1M216 119h1M163 120h1M166 120h1M182 120h2M212 120h3M167 121h1M173 121h2M178 121h1M182 121h3M161 122h1M168 122h4M179 122h7M161 123h1M171 123h1M179 123h7M164 124h1M172 124h1M178 124h1M173 125h3M167 129h2M150 131h3M203 138h1M199 140h3M245 144h2M245 145h2M245 146h2"/>
<path stroke="#ff6600" d="M212 19h2M152 32h2M154 34h1M154 35h1M154 36h1M152 37h2M167 37h2M152 38h1M170 38h1M167 39h1M169 39h2M123 41h2M117 42h4M127 42h1M116 43h4M126 43h1M115 44h1M125 44h1M114 45h1M124 45h1M113 46h1M119 46h5M118 47h2M118 48h1M113 49h6M114 50h2M181 71h1M180 72h1M180 73h1M187 73h1M180 74h1M187 74h1M182 75h5M206 77h1M210 77h2M214 77h2M222 77h2M211 78h1M214 78h1M223 78h2M206 79h1M210 79h1M215 79h1M223 79h2M207 80h4M223 80h2M242 80h1M244 80h2M217 81h1M222 81h1M247 81h2M242 82h1M246 82h2M149 83h8M243 83h4M141 84h5M147 84h1M158 84h4M141 85h3M147 85h1M162 85h3M147 86h1M172 86h1M149 87h1M156 87h3M166 87h4M171 87h1M152 88h1M149 92h2M149 93h1M182 98h1M185 99h2M187 100h2M189 101h2M190 102h2M189 103h3M182 104h1M188 104h1M182 105h1M187 105h1M185 106h3M269 106h7M183 107h6M266 108h1M264 109h1M221 110h1M263 110h1M221 111h1M227 111h1M221 112h1M226 112h2M218 113h4M223 113h3M216 114h1M220 114h1M213 115h1M220 115h1M265 115h1M220 116h2M207 117h1M219 117h1M267 117h1M272 117h1M208 118h1M217 118h1M269 118h1M215 119h1M164 120h2M162 121h1M166 121h1M175 121h3M167 122h1M172 122h1M166 123h1M172 123h1M173 124h5"/>
<path stroke="#ff4c00" d="M212 18h2M152 33h2M152 34h2M152 35h2M152 36h2M167 38h3M168 39h1M121 42h1M126 42h1M120 43h2M124 43h2M116 44h6M123 44h2M115 45h2M118 45h6M114 46h5M113 47h3M117 47h1M113 48h5M184 71h2M186 72h1M181 73h1M186 73h1M181 74h1M186 74h1M207 77h3M216 77h1M221 77h1M206 78h1M210 78h1M215 78h1M222 78h1M207 79h3M216 79h1M222 79h1M216 80h1M222 80h1M243 80h1M221 81h1M242 81h1M246 81h1M243 82h3M148 84h2M157 84h1M148 85h2M158 85h4M148 86h2M163 86h9M150 87h1M155 87h1M170 87h1M183 98h1M182 99h1M184 99h1M182 100h1M186 100h1M188 101h1M189 102h1M182 103h1M188 103h1M187 104h1M183 105h4M183 106h2M268 107h1M267 108h1M265 109h1M222 110h1M226 110h1M226 111h1M263 111h1M222 112h2M225 112h1M263 112h1M263 113h1M217 114h3M264 114h1M214 115h2M219 115h1M209 116h1M219 116h1M266 116h1M208 117h1M218 117h1M268 117h1M271 117h1M209 118h1M216 118h1M210 119h2M214 119h1M163 121h1M165 121h1M166 122h1M173 122h2M178 122h1M162 123h1M173 123h1M178 123h1"/>
<path stroke="#ff3300" d="M122 42h4M122 43h2M122 44h1M117 45h1M116 47h1M182 71h2M181 72h1M185 72h1M185 73h1M182 74h4M217 77h4M207 78h3M216 78h1M221 78h1M221 79h1M217 80h1M221 80h1M218 81h3M243 81h3M150 84h7M150 85h1M157 85h1M150 86h1M158 86h5M151 87h1M154 87h1M183 99h1M184 100h2M182 101h1M187 101h1M182 102h1M188 102h1M186 103h2M183 104h4M269 107h1M266 109h1M223 110h3M264 110h1M222 111h2M264 111h1M224 112h1M264 112h1M264 113h1M265 114h1M216 115h3M266 115h1M210 116h2M218 116h1M217 117h1M210 118h1M215 118h1M212 119h2M164 121h1M162 122h1M175 122h1M177 122h1M163 123h3M174 123h2M177 123h1"/>
<path stroke="#ff1a00" d="M182 72h1M184 72h1M182 73h3M217 78h1M220 78h1M217 79h1M220 79h1M220 80h1M151 85h6M151 86h1M157 86h1M152 87h2M183 100h1M186 101h1M186 102h2M183 103h3M270 107h6M268 108h1M267 109h1M265 110h1M224 111h2M265 113h1M266 114h1M267 115h1M212 116h6M267 116h1M209 117h1M216 117h1M269 117h2M211 118h4M163 122h3M176 122h1M176 123h1"/>
<path stroke="#ff0000" d="M183 72h1M218 78h2M218 79h2M218 80h2M152 86h5M183 101h3M183 102h3M269 108h1M265 111h1M265 112h1M266 113h1M267 114h1M268 115h1M268 116h2M210 117h6"/>
<path stroke="#e50000" d="M270 108h6M268 109h1M273 109h3M266 110h1M266 112h1M267 113h1M268 114h1M269 115h1M270 116h6"/>
<path stroke="#cc0000" d="M269 109h4M267 110h1M272 110h4M266 111h1M267 112h1M268 113h1M269 114h7M270 115h6"/>
<path stroke="#b30000" d="M268 110h1M271 110h1M267 111h2M272 111h4M268 112h2M271 112h5M269 113h7"/>
<path stroke="#990000" d="M269 110h2M269 111h3M270 112h1"/>
</g></g>
<path d="M130.7 958.4H246.3V978.3H130.7zM246.3 958.4L262.8 958.4L246.3 978.3zM312.3 958.4L312.3 978.3L295.8 958.4zM312.3 958.4L328.8 958.4L312.3 978.3zM378.4 978.3L361.9 978.3L378.4 958.4zM378.4 978.3L378.4 958.4L394.9 978.3zM444.4 958.4L444.4 978.3L427.9 958.4zM444.4 958.4L460.9 958.4L444.4 978.3zM130.7 978.3H213.3V998.3H130.7zM213.3 978.3L229.8 978.3L213.3 998.3zM262.8 998.3L246.3 998.3L262.8 978.3zM262.8 998.3L262.8 978.3L279.3 998.3zM378.4 978.3L378.4 998.3L361.9 978.3zM378.4 978.3L394.9 978.3L378.4 998.3zM477.5 998.3L460.9 998.3L477.5 978.3zM477.5 998.3L477.5 978.3L494.0 998.3zM130.7 998.3L147.2 998.3L130.7 1018.2zM262.8 998.3L262.8 1018.2L246.3 998.3zM262.8 998.3L279.3 998.3L262.8 1018.2zM477.5 998.3L477.5 1018.2L460.9 998.3zM477.5 998.3L494.0 998.3L477.5 1018.2zM725.1 1058.1L708.6 1058.1L725.1 1038.1zM725.1 1058.1L725.1 1038.1L741.7 1058.1zM1616.8 1058.1L1600.3 1058.1L1616.8 1038.1zM527.0 1078.0L510.5 1078.0L527.0 1058.1zM527.0 1078.0L527.0 1058.1L543.5 1078.0zM560.0 1078.0L543.5 1078.0L560.0 1058.1zM560.0 1078.0L560.0 1058.1L576.5 1078.0zM659.1 1078.0L642.6 1078.0L659.1 1058.1zM659.1 1058.1H675.6V1078.0H659.1zM675.6 1078.0L675.6 1058.1L692.1 1078.0zM725.1 1058.1L725.1 1078.0L708.6 1058.1zM725.1 1058.1L741.7 1058.1L725.1 1078.0zM1616.8 1058.1L1616.8 1078.0L1600.3 1058.1zM180.2 1098.0L163.7 1098.0L180.2 1078.0zM180.2 1098.0L180.2 1078.0L196.7 1098.0zM394.9 1098.0L378.4 1098.0L394.9 1078.0zM394.9 1098.0L394.9 1078.0L411.4 1098.0zM510.5 1098.0L494.0 1098.0L510.5 1078.0zM510.5 1078.0H543.5V1098.0H510.5zM560.0 1078.0L560.0 1098.0L543.5 1078.0zM560.0 1078.0L576.5 1078.0L560.0 1098.0zM593.0 1098.0L576.5 1098.0L593.0 1078.0zM593.0 1078.0H626.1V1098.0H593.0zM626.1 1098.0L626.1 1078.0L642.6 1098.0zM659.1 1078.0L659.1 1098.0L642.6 1078.0zM659.1 1078.0H675.6V1098.0H659.1zM675.6 1078.0L692.1 1078.0L675.6 1098.0zM1567.3 1098.0L1550.8 1098.0L1567.3 1078.0zM1567.3 1098.0L1567.3 1078.0L1583.8 1098.0zM1616.8 1098.0L1600.3 1098.0L1616.8 1078.0zM180.2 1098.0L180.2 1117.9L163.7 1098.0zM180.2 1098.0L196.7 1098.0L180.2 1117.9zM361.9 1117.9L345.4 1117.9L361.9 1098.0zM361.9 1117.9L361.9 1098.0L378.4 1117.9zM378.4 1098.0H427.9V1117.9H378.4zM427.9 1117.9L427.9 1098.0L444.4 1117.9zM477.5 1117.9L460.9 1117.9L477.5 1098.0zM477.5 1098.0H527.0V1117.9H477.5zM527.0 1098.0L543.5 1098.0L527.0 1117.9zM560.0 1117.9L543.5 1117.9L560.0 1098.0zM560.0 1098.0H626.1V1117.9H560.0zM626.1 1098.0L642.6 1098.0L626.1 1117.9zM692.1 1117.9L675.6 1117.9L692.1 1098.0zM692.1 1117.9L692.1 1098.0L708.6 1117.9zM1567.3 1098.0L1567.3 1117.9L1550.8 1098.0zM1567.3 1098.0L1583.8 1098.0L1567.3 1117.9zM1616.8 1098.0L1616.8 1117.9L1600.3 1098.0zM163.7 1137.8L147.2 1137.8L163.7 1117.9zM163.7 1137.8L163.7 1117.9L180.2 1137.8zM246.3 1137.8L229.8 1137.8L246.3 1117.9zM246.3 1137.8L246.3 1117.9L262.8 1137.8zM361.9 1117.9L361.9 1137.8L345.4 1117.9zM361.9 1117.9L378.4 1117.9L361.9 1137.8zM394.9 1117.9L394.9 1137.8L378.4 1117.9zM394.9 1117.9H444.4V1137.8H394.9zM444.4 1137.8L444.4 1117.9L460.9 1137.8zM477.5 1117.9L477.5 1137.8L460.9 1117.9zM477.5 1117.9H527.0V1137.8H477.5zM560.0 1117.9L560.0 1137.8L543.5 1117.9zM560.0 1117.9H593.0V1137.8H560.0zM609.6 1117.9L609.6 1137.8L593.0 1117.9zM609.6 1117.9L626.1 1117.9L609.6 1137.8zM692.1 1117.9L692.1 1137.8L675.6 1117.9zM692.1 1117.9L708.6 1117.9L692.1 1137.8zM1567.3 1137.8L1550.8 1137.8L1567.3 1117.9zM1567.3 1117.9H1583.8V1137.8H1567.3zM1583.8 1137.8L1583.8 1117.9L1600.3 1137.8zM130.7 1137.8H196.7V1157.8H130.7zM196.7 1157.8L196.7 1137.8L213.3 1157.8zM246.3 1137.8L246.3 1157.8L229.8 1137.8zM246.3 1137.8L262.8 1137.8L246.3 1157.8zM361.9 1157.8L345.4 1157.8L361.9 1137.8zM361.9 1157.8L361.9 1137.8L378.4 1157.8zM394.9 1157.8L378.4 1157.8L394.9 1137.8zM394.9 1137.8H444.4V1157.8H394.9zM444.4 1137.8L460.9 1137.8L444.4 1157.8zM494.0 1137.8L494.0 1157.8L477.5 1137.8zM494.0 1137.8H510.5V1157.8H494.0zM510.5 1137.8L527.0 1137.8L510.5 1157.8zM576.5 1137.8L576.5 1157.8L560.0 1137.8zM576.5 1137.8H593.0V1157.8H576.5zM593.0 1157.8L593.0 1137.8L609.6 1157.8zM642.6 1157.8L626.1 1157.8L642.6 1137.8zM642.6 1157.8L642.6 1137.8L659.1 1157.8zM1369.1 1157.8L1352.6 1157.8L1369.1 1137.8zM1369.1 1157.8L1369.1 1137.8L1385.6 1157.8zM1550.8 1137.8H1583.8V1157.8H1550.8zM1583.8 1137.8L1600.3 1137.8L1583.8 1157.8zM130.7 1157.8H196.7V1177.7H130.7zM196.7 1157.8L213.3 1157.8L196.7 1177.7zM361.9 1157.8L361.9 1177.7L345.4 1157.8zM361.9 1157.8L378.4 1157.8L361.9 1177.7zM394.9 1157.8L394.9 1177.7L378.4 1157.8zM394.9 1157.8H427.9V1177.7H394.9zM427.9 1177.7L427.9 1157.8L444.4 1177.7zM593.0 1157.8L593.0 1177.7L576.5 1157.8zM593.0 1157.8L609.6 1157.8L593.0 1177.7zM642.6 1157.8L642.6 1177.7L626.1 1157.8zM642.6 1157.8H659.1V1177.7H642.6zM659.1 1177.7L659.1 1157.8L675.6 1177.7zM1369.1 1157.8L1369.1 1177.7L1352.6 1157.8zM1369.1 1157.8L1385.6 1157.8L1369.1 1177.7zM1567.3 1157.8L1567.3 1177.7L1550.8 1157.8zM1567.3 1157.8L1583.8 1157.8L1567.3 1177.7zM394.9 1177.7H444.4V1197.6H394.9zM444.4 1197.6L444.4 1177.7L460.9 1197.6zM593.0 1197.6L576.5 1197.6L593.0 1177.7zM593.0 1177.7H609.6V1197.6H593.0zM609.6 1197.6L609.6 1177.7L626.1 1197.6zM659.1 1177.7L659.1 1197.6L642.6 1177.7zM659.1 1177.7L675.6 1177.7L659.1 1197.6zM1369.1 1197.6L1352.6 1197.6L1369.1 1177.7zM1369.1 1197.6L1369.1 1177.7L1385.6 1197.6zM1402.1 1197.6L1385.6 1197.6L1402.1 1177.7zM1402.1 1197.6L1402.1 1177.7L1418.7 1197.6zM1435.2 1197.6L1418.7 1197.6L1435.2 1177.7zM1435.2 1197.6L1435.2 1177.7L1451.7 1197.6zM1501.2 1197.6L1484.7 1197.6L1501.2 1177.7zM1501.2 1177.7H1550.8V1197.6H1501.2zM1550.8 1197.6L1550.8 1177.7L1567.3 1197.6zM130.7 1197.6H180.2V1217.6H130.7zM180.2 1217.6L180.2 1197.6L196.7 1217.6zM213.3 1217.6L196.7 1217.6L213.3 1197.6zM213.3 1217.6L213.3 1197.6L229.8 1217.6zM246.3 1217.6L229.8 1217.6L246.3 1197.6zM246.3 1217.6L246.3 1197.6L262.8 1217.6zM279.3 1217.6L262.8 1217.6L279.3 1197.6zM279.3 1197.6H295.8V1217.6H279.3zM295.8 1217.6L295.8 1197.6L312.3 1217.6zM328.8 1217.6L312.3 1217.6L328.8 1197.6zM328.8 1197.6H361.9V1217.6H328.8zM361.9 1217.6L361.9 1197.6L378.4 1217.6zM394.9 1197.6H460.9V1217.6H394.9zM576.5 1197.6H609.6V1217.6H576.5zM609.6 1197.6L626.1 1197.6L609.6 1217.6zM1270.0 1217.6L1253.5 1217.6L1270.0 1197.6zM1270.0 1217.6L1270.0 1197.6L1286.6 1217.6zM1369.1 1197.6L1369.1 1217.6L1352.6 1197.6zM1369.1 1197.6H1418.7V1217.6H1369.1zM1435.2 1197.6L1435.2 1217.6L1418.7 1197.6zM1435.2 1197.6L1451.7 1197.6L1435.2 1217.6zM1501.2 1197.6L1501.2 1217.6L1484.7 1197.6zM1501.2 1197.6H1567.3V1217.6H1501.2zM130.7 1217.6H180.2V1237.5H130.7zM180.2 1217.6L196.7 1217.6L180.2 1237.5zM213.3 1217.6L213.3 1237.5L196.7 1217.6zM213.3 1217.6L229.8 1217.6L213.3 1237.5zM246.3 1217.6L246.3 1237.5L229.8 1217.6zM246.3 1217.6L262.8 1217.6L246.3 1237.5zM279.3 1217.6L279.3 1237.5L262.8 1217.6zM279.3 1217.6H295.8V1237.5H279.3zM295.8 1217.6L312.3 1217.6L295.8 1237.5zM312.3 1217.6H378.4V1237.5H312.3zM378.4 1237.5L378.4 1217.6L394.9 1237.5zM411.4 1217.6L411.4 1237.5L394.9 1217.6zM411.4 1217.6H444.4V1237.5H411.4zM444.4 1217.6L460.9 1217.6L444.4 1237.5zM593.0 1217.6L593.0 1237.5L576.5 1217.6zM593.0 1217.6L609.6 1217.6L593.0 1237.5zM1270.0 1217.6L1270.0 1237.5L1253.5 1217.6zM1270.0 1217.6L1286.6 1217.6L1270.0 1237.5zM1369.1 1217.6H1418.7V1237.5H1369.1zM1484.7 1237.5L1468.2 1237.5L1484.7 1217.6zM1484.7 1217.6H1550.8V1237.5H1484.7zM1550.8 1217.6L1567.3 1217.6L1550.8 1237.5zM328.8 1237.5L328.8 1257.4L312.3 1237.5zM328.8 1237.5L345.4 1237.5L328.8 1257.4zM361.9 1237.5L361.9 1257.4L345.4 1237.5zM361.9 1237.5H394.9V1257.4H361.9zM394.9 1257.4L394.9 1237.5L411.4 1257.4zM1204.0 1257.4L1187.5 1257.4L1204.0 1237.5zM1204.0 1257.4L1204.0 1237.5L1220.5 1257.4zM1369.1 1257.4L1352.6 1257.4L1369.1 1237.5zM1369.1 1237.5H1435.2V1257.4H1369.1zM1435.2 1257.4L1435.2 1237.5L1451.7 1257.4zM1484.7 1237.5L1484.7 1257.4L1468.2 1237.5zM1484.7 1237.5H1534.2V1257.4H1484.7zM1534.2 1237.5L1550.8 1237.5L1534.2 1257.4zM1583.8 1257.4L1567.3 1257.4L1583.8 1237.5zM1583.8 1237.5H1616.8V1257.4H1583.8zM279.3 1277.4L262.8 1277.4L279.3 1257.4zM279.3 1277.4L279.3 1257.4L295.8 1277.4zM361.9 1277.4L345.4 1277.4L361.9 1257.4zM361.9 1257.4H394.9V1277.4H361.9zM394.9 1257.4L411.4 1257.4L394.9 1277.4zM427.9 1277.4L411.4 1277.4L427.9 1257.4zM427.9 1277.4L427.9 1257.4L444.4 1277.4zM1204.0 1257.4L1204.0 1277.4L1187.5 1257.4zM1204.0 1257.4L1220.5 1257.4L1204.0 1277.4zM1369.1 1257.4L1369.1 1277.4L1352.6 1257.4zM1369.1 1257.4H1451.7V1277.4H1369.1zM1451.7 1277.4L1451.7 1257.4L1468.2 1277.4zM1484.7 1257.4H1517.7V1277.4H1484.7zM1517.7 1277.4L1517.7 1257.4L1534.2 1277.4zM1567.3 1257.4H1616.8V1277.4H1567.3zM279.3 1277.4L279.3 1297.3L262.8 1277.4zM279.3 1277.4L295.8 1277.4L279.3 1297.3zM361.9 1277.4L361.9 1297.3L345.4 1277.4zM361.9 1277.4H378.4V1297.3H361.9zM378.4 1277.4L394.9 1277.4L378.4 1297.3zM427.9 1277.4L427.9 1297.3L411.4 1277.4zM427.9 1277.4L444.4 1277.4L427.9 1297.3zM1451.7 1277.4L1451.7 1297.3L1435.2 1277.4zM1451.7 1277.4L1468.2 1277.4L1451.7 1297.3zM1501.2 1277.4L1501.2 1297.3L1484.7 1277.4zM1501.2 1277.4H1517.7V1297.3H1501.2zM1517.7 1277.4L1534.2 1277.4L1517.7 1297.3zM1583.8 1277.4L1583.8 1297.3L1567.3 1277.4zM1583.8 1277.4H1616.8V1297.3H1583.8zM295.8 1317.3L279.3 1317.3L295.8 1297.3zM295.8 1317.3L295.8 1297.3L312.3 1317.3zM527.0 1317.3L510.5 1317.3L527.0 1297.3zM527.0 1317.3L527.0 1297.3L543.5 1317.3zM626.1 1317.3L609.6 1317.3L626.1 1297.3zM626.1 1317.3L626.1 1297.3L642.6 1317.3zM1600.3 1297.3L1600.3 1317.3L1583.8 1297.3zM1600.3 1297.3H1616.8V1317.3H1600.3zM130.7 1337.2L130.7 1317.3L147.2 1337.2zM295.8 1317.3L295.8 1337.2L279.3 1317.3zM295.8 1317.3L312.3 1317.3L295.8 1337.2zM460.9 1337.2L444.4 1337.2L460.9 1317.3zM460.9 1317.3H494.0V1337.2H460.9zM494.0 1337.2L494.0 1317.3L510.5 1337.2zM527.0 1317.3L527.0 1337.2L510.5 1317.3zM527.0 1317.3L543.5 1317.3L527.0 1337.2zM626.1 1317.3L626.1 1337.2L609.6 1317.3zM626.1 1317.3L642.6 1317.3L626.1 1337.2zM1600.3 1337.2L1583.8 1337.2L1600.3 1317.3zM1600.3 1317.3H1616.8V1337.2H1600.3zM130.7 1337.2H147.2V1357.1H130.7zM460.9 1337.2L460.9 1357.1L444.4 1337.2zM460.9 1337.2H494.0V1357.1H460.9zM494.0 1337.2L510.5 1337.2L494.0 1357.1zM1600.3 1337.2L1600.3 1357.1L1583.8 1337.2zM1600.3 1337.2H1616.8V1357.1H1600.3zM130.7 1357.1L147.2 1357.1L130.7 1377.1zM1517.7 1377.1L1501.2 1377.1L1517.7 1357.1zM1517.7 1377.1L1517.7 1357.1L1534.2 1377.1zM1517.7 1377.1L1517.7 1397.0L1501.2 1377.1zM1517.7 1377.1L1534.2 1377.1L1517.7 1397.0zM361.9 1416.9L345.4 1416.9L361.9 1397.0zM361.9 1416.9L361.9 1397.0L378.4 1416.9zM394.9 1416.9L378.4 1416.9L394.9 1397.0zM394.9 1397.0H411.4V1416.9H394.9zM411.4 1416.9L411.4 1397.0L427.9 1416.9zM477.5 1416.9L460.9 1416.9L477.5 1397.0zM477.5 1397.0H494.0V1416.9H477.5zM494.0 1416.9L494.0 1397.0L510.5 1416.9zM543.5 1416.9L527.0 1416.9L543.5 1397.0zM543.5 1416.9L543.5 1397.0L560.0 1416.9zM708.6 1416.9L692.1 1416.9L708.6 1397.0zM708.6 1416.9L708.6 1397.0L725.1 1416.9zM774.7 1416.9L758.2 1416.9L774.7 1397.0zM774.7 1416.9L774.7 1397.0L791.2 1416.9zM361.9 1416.9L361.9 1436.9L345.4 1416.9zM361.9 1416.9L378.4 1416.9L361.9 1436.9zM394.9 1416.9L394.9 1436.9L378.4 1416.9zM394.9 1416.9H411.4V1436.9H394.9zM411.4 1416.9L427.9 1416.9L411.4 1436.9zM477.5 1416.9L477.5 1436.9L460.9 1416.9zM477.5 1416.9H510.5V1436.9H477.5zM510.5 1436.9L510.5 1416.9L527.0 1436.9zM543.5 1416.9L543.5 1436.9L527.0 1416.9zM543.5 1416.9L560.0 1416.9L543.5 1436.9zM576.5 1436.9L560.0 1436.9L576.5 1416.9zM576.5 1436.9L576.5 1416.9L593.0 1436.9zM708.6 1416.9L708.6 1436.9L692.1 1416.9zM708.6 1416.9L725.1 1416.9L708.6 1436.9zM774.7 1416.9L774.7 1436.9L758.2 1416.9zM774.7 1416.9L791.2 1416.9L774.7 1436.9zM130.7 1436.9H147.2V1456.8H130.7zM147.2 1456.8L147.2 1436.9L163.7 1456.8zM213.3 1456.8L196.7 1456.8L213.3 1436.9zM213.3 1456.8L213.3 1436.9L229.8 1456.8zM246.3 1456.8L229.8 1456.8L246.3 1436.9zM246.3 1456.8L246.3 1436.9L262.8 1456.8zM312.3 1456.8L295.8 1456.8L312.3 1436.9zM312.3 1456.8L312.3 1436.9L328.8 1456.8zM394.9 1456.8L378.4 1456.8L394.9 1436.9zM394.9 1436.9H444.4V1456.8H394.9zM444.4 1456.8L444.4 1436.9L460.9 1456.8zM510.5 1436.9L510.5 1456.8L494.0 1436.9zM510.5 1436.9L527.0 1436.9L510.5 1456.8zM543.5 1456.8L527.0 1456.8L543.5 1436.9zM543.5 1456.8L543.5 1436.9L560.0 1456.8zM560.0 1436.9H593.0V1456.8H560.0zM642.6 1456.8L626.1 1456.8L642.6 1436.9zM642.6 1456.8L642.6 1436.9L659.1 1456.8zM675.6 1456.8L659.1 1456.8L675.6 1436.9zM675.6 1456.8L675.6 1436.9L692.1 1456.8zM791.2 1456.8L774.7 1456.8L791.2 1436.9zM791.2 1456.8L791.2 1436.9L807.7 1456.8zM873.7 1456.8L857.2 1456.8L873.7 1436.9zM873.8 1456.8L873.8 1436.9L890.3 1456.8zM1567.3 1456.8L1550.8 1456.8L1567.3 1436.9zM1567.3 1456.8L1567.3 1436.9L1583.8 1456.8zM130.7 1456.8H163.7V1476.7H130.7zM180.2 1476.7L163.7 1476.7L180.2 1456.8zM180.2 1476.7L180.2 1456.8L196.7 1476.7zM196.7 1456.8H560.0V1476.7H196.7zM576.5 1456.8L576.5 1476.7L560.0 1456.8zM576.5 1456.8H692.1V1476.7H576.5zM692.1 1476.7L692.1 1456.8L708.6 1476.7zM725.1 1476.7L708.6 1476.7L725.1 1456.8zM725.1 1476.7L725.1 1456.8L741.7 1476.7zM758.2 1476.7L741.7 1476.7L758.2 1456.8zM758.2 1476.7L758.2 1456.8L774.7 1476.7zM791.2 1456.8L791.2 1476.7L774.7 1456.8zM791.2 1456.8L807.7 1456.8L791.2 1476.7zM857.2 1456.8H890.3V1476.7H857.2zM923.3 1476.7L906.8 1476.7L923.3 1456.8zM923.3 1456.8H989.3V1476.7H923.3zM989.3 1476.7L989.3 1456.8L1005.8 1476.7zM1567.3 1456.8L1567.3 1476.7L1550.8 1456.8zM1567.3 1456.8L1583.8 1456.8L1567.3 1476.7zM130.7 1476.7H147.2V1496.7H130.7zM147.2 1476.7L163.7 1476.7L147.2 1496.7zM163.7 1476.7H196.7V1496.7H163.7zM213.3 1476.7L213.3 1496.7L196.7 1476.7zM213.3 1476.7H543.5V1496.7H213.3zM543.5 1476.7L560.0 1476.7L543.5 1496.7zM593.0 1476.7L593.0 1496.7L576.5 1476.7zM593.0 1476.7H692.1V1496.7H593.0zM692.1 1476.7L708.6 1476.7L692.1 1496.7zM725.1 1476.7L725.1 1496.7L708.6 1476.7zM725.1 1476.7H758.2V1496.7H725.1zM758.2 1476.7L774.7 1476.7L758.2 1496.7zM873.7 1476.7L873.7 1496.7L857.2 1476.7zM873.8 1476.7L890.3 1476.7L873.8 1496.7zM923.3 1476.7L923.3 1496.7L906.8 1476.7zM923.3 1476.7H989.3V1496.7H923.3zM989.3 1476.7L1005.8 1476.7L989.3 1496.7zM130.7 1496.7H196.7V1516.6H130.7zM196.7 1516.6L196.7 1496.7L213.3 1516.6zM213.3 1496.7H593.0V1516.6H213.3zM593.0 1516.6L593.0 1496.7L609.6 1516.6zM626.1 1516.6L609.6 1516.6L626.1 1496.7zM626.1 1516.6L626.1 1496.7L642.6 1516.6zM659.1 1516.6L642.6 1516.6L659.1 1496.7zM659.1 1516.6L659.1 1496.7L675.6 1516.6zM692.1 1516.6L675.6 1516.6L692.1 1496.7zM692.1 1516.6L692.1 1496.7L708.6 1516.6zM741.7 1496.7L741.7 1516.6L725.1 1496.7zM741.7 1496.7L758.2 1496.7L741.7 1516.6zM1286.6 1516.6L1270.0 1516.6L1286.6 1496.7zM1286.6 1516.6L1286.6 1496.7L1303.1 1516.6zM130.7 1516.6H213.3V1536.5H130.7zM229.8 1516.6L229.8 1536.5L213.3 1516.6zM229.8 1516.6H675.6V1536.5H229.8zM692.1 1516.6L692.1 1536.5L675.6 1516.6zM692.1 1516.6L708.6 1516.6L692.1 1536.5zM1286.6 1516.6L1286.6 1536.5L1270.0 1516.6zM1286.6 1516.6L1303.1 1516.6L1286.6 1536.5zM1418.7 1536.5L1402.1 1536.5L1418.7 1516.6zM1418.7 1516.6H1435.2V1536.5H1418.7zM1435.2 1536.5L1435.2 1516.6L1451.7 1536.5zM130.7 1536.5H180.2V1556.5H130.7zM196.7 1536.5L196.7 1556.5L180.2 1536.5zM196.7 1536.5H246.3V1556.5H196.7zM246.3 1556.5L246.3 1536.5L262.8 1556.5zM279.3 1556.5L262.8 1556.5L279.3 1536.5zM279.3 1536.5H378.4V1556.5H279.3zM394.9 1536.5L394.9 1556.5L378.4 1536.5zM394.9 1536.5H411.4V1556.5H394.9zM411.4 1536.5L427.9 1536.5L411.4 1556.5zM543.5 1556.5L527.0 1556.5L543.5 1536.5zM543.5 1556.5L543.5 1536.5L560.0 1556.5zM593.0 1536.5L593.0 1556.5L576.5 1536.5zM593.0 1536.5H659.1V1556.5H593.0zM659.1 1536.5L675.6 1536.5L659.1 1556.5zM692.1 1556.5L675.6 1556.5L692.1 1536.5zM692.1 1556.5L692.1 1536.5L708.6 1556.5zM1418.7 1536.5L1418.7 1556.5L1402.1 1536.5zM1418.7 1536.5H1435.2V1556.5H1418.7zM1435.2 1536.5L1451.7 1536.5L1435.2 1556.5zM130.7 1556.5H163.7V1576.4H130.7zM163.7 1556.5L180.2 1556.5L163.7 1576.4zM213.3 1556.5L213.3 1576.4L196.7 1556.5zM213.3 1556.5H246.3V1576.4H213.3zM246.3 1556.5L262.8 1556.5L246.3 1576.4zM279.3 1556.5L279.3 1576.4L262.8 1556.5zM279.3 1556.5H328.8V1576.4H279.3zM328.8 1556.5L345.4 1556.5L328.8 1576.4zM361.9 1556.5L361.9 1576.4L345.4 1556.5zM361.9 1556.5L378.4 1556.5L361.9 1576.4zM543.5 1556.5L543.5 1576.4L527.0 1556.5zM543.5 1556.5L560.0 1556.5L543.5 1576.4zM609.6 1556.5L609.6 1576.4L593.0 1556.5zM609.6 1556.5L626.1 1556.5L609.6 1576.4zM659.1 1576.4L642.6 1576.4L659.1 1556.5zM659.1 1556.5H692.1V1576.4H659.1zM692.1 1556.5L708.6 1556.5L692.1 1576.4zM1270.0 1576.4L1253.5 1576.4L1270.0 1556.5zM1270.0 1576.4L1270.0 1556.5L1286.6 1576.4zM130.7 1596.4L130.7 1576.4L147.2 1596.4zM163.7 1596.4L147.2 1596.4L163.7 1576.4zM163.7 1596.4L163.7 1576.4L180.2 1596.4zM213.3 1596.4L196.7 1596.4L213.3 1576.4zM213.3 1596.4L213.3 1576.4L229.8 1596.4zM295.8 1596.4L279.3 1596.4L295.8 1576.4zM295.8 1596.4L295.8 1576.4L312.3 1596.4zM345.4 1596.4L328.8 1596.4L345.4 1576.4zM345.4 1596.4L345.4 1576.4L361.9 1596.4zM394.9 1596.4L378.4 1596.4L394.9 1576.4zM394.9 1596.4L394.9 1576.4L411.4 1596.4zM444.4 1596.4L427.9 1596.4L444.4 1576.4zM444.4 1596.4L444.4 1576.4L460.9 1596.4zM543.5 1596.4L527.0 1596.4L543.5 1576.4zM543.5 1596.4L543.5 1576.4L560.0 1596.4zM576.5 1596.4L560.0 1596.4L576.5 1576.4zM576.5 1596.4L576.5 1576.4L593.0 1596.4zM659.1 1576.4L659.1 1596.4L642.6 1576.4zM659.1 1576.4H675.6V1596.4H659.1zM675.6 1576.4L692.1 1576.4L675.6 1596.4zM873.7 1596.4L857.2 1596.4L873.7 1576.4zM873.8 1596.4L873.8 1576.4L890.3 1596.4zM1270.0 1576.4L1270.0 1596.4L1253.5 1576.4zM1270.0 1576.4L1286.6 1576.4L1270.0 1596.4zM130.7 1596.4L147.2 1596.4L130.7 1616.3zM147.2 1596.4H180.2V1616.3H147.2zM196.7 1616.3L180.2 1616.3L196.7 1596.4zM196.7 1596.4H229.8V1616.3H196.7zM229.8 1616.3L229.8 1596.4L246.3 1616.3zM295.8 1596.4L295.8 1616.3L279.3 1596.4zM295.8 1596.4L312.3 1596.4L295.8 1616.3zM345.4 1596.4L345.4 1616.3L328.8 1596.4zM345.4 1596.4L361.9 1596.4L345.4 1616.3zM394.9 1596.4L394.9 1616.3L378.4 1596.4zM394.9 1596.4L411.4 1596.4L394.9 1616.3zM427.9 1616.3L411.4 1616.3L427.9 1596.4zM427.9 1596.4H460.9V1616.3H427.9zM477.5 1616.3L460.9 1616.3L477.5 1596.4zM477.5 1616.3L477.5 1596.4L494.0 1616.3zM527.0 1596.4H576.5V1616.3H527.0zM576.5 1596.4L593.0 1596.4L576.5 1616.3zM626.1 1616.3L609.6 1616.3L626.1 1596.4zM626.1 1616.3L626.1 1596.4L642.6 1616.3zM659.1 1616.3L642.6 1616.3L659.1 1596.4zM659.1 1596.4H725.1V1616.3H659.1zM725.1 1616.3L725.1 1596.4L741.7 1616.3zM758.2 1616.3L741.7 1616.3L758.2 1596.4zM758.2 1616.3L758.2 1596.4L774.7 1616.3zM857.2 1596.4H890.3V1616.3H857.2zM906.8 1616.3L890.3 1616.3L906.8 1596.4zM906.8 1616.3L906.8 1596.4L923.3 1616.3zM1616.8 1616.3L1600.3 1616.3L1616.8 1596.4zM130.7 1616.3H246.3V1636.2H130.7zM246.3 1636.2L246.3 1616.3L262.8 1636.2zM279.3 1636.2L262.8 1636.2L279.3 1616.3zM279.3 1616.3H295.8V1636.2H279.3zM295.8 1636.2L295.8 1616.3L312.3 1636.2zM328.8 1636.2L312.3 1636.2L328.8 1616.3zM328.8 1636.2L328.8 1616.3L345.4 1636.2zM361.9 1636.2L345.4 1636.2L361.9 1616.3zM361.9 1636.2L361.9 1616.3L378.4 1636.2zM427.9 1616.3L427.9 1636.2L411.4 1616.3zM427.9 1616.3H494.0V1636.2H427.9zM543.5 1616.3L543.5 1636.2L527.0 1616.3zM543.5 1616.3H560.0V1636.2H543.5zM560.0 1616.3L576.5 1616.3L560.0 1636.2zM593.0 1636.2L576.5 1636.2L593.0 1616.3zM593.0 1616.3H725.1V1636.2H593.0zM725.1 1616.3L741.7 1616.3L725.1 1636.2zM741.7 1616.3H774.7V1636.2H741.7zM791.2 1636.2L774.7 1636.2L791.2 1616.3zM791.2 1616.3H807.7V1636.2H791.2zM807.7 1636.2L807.7 1616.3L824.2 1636.2zM840.7 1636.2L824.2 1636.2L840.7 1616.3zM840.7 1616.3H923.3V1636.2H840.7zM923.3 1636.2L923.3 1616.3L939.8 1636.2zM1022.4 1636.2L1005.8 1636.2L1022.4 1616.3zM1022.4 1636.2L1022.4 1616.3L1038.9 1636.2zM1088.4 1636.2L1071.9 1636.2L1088.4 1616.3zM1088.4 1636.2L1088.4 1616.3L1104.9 1636.2zM1616.8 1616.3L1616.8 1636.2L1600.3 1616.3zM130.7 1636.2H494.0V1656.2H130.7zM560.0 1656.2L543.5 1656.2L560.0 1636.2zM560.0 1656.2L560.0 1636.2L576.5 1656.2zM576.5 1636.2H659.1V1656.2H576.5zM675.6 1636.2L675.6 1656.2L659.1 1636.2zM675.6 1636.2H725.1V1656.2H675.6zM758.2 1636.2L758.2 1656.2L741.7 1636.2zM758.2 1636.2L774.7 1636.2L758.2 1656.2zM774.7 1636.2H939.8V1656.2H774.7zM939.8 1656.2L939.8 1636.2L956.3 1656.2zM972.8 1656.2L956.3 1656.2L972.8 1636.2zM972.8 1656.2L972.8 1636.2L989.3 1656.2zM1005.8 1656.2L989.3 1656.2L1005.8 1636.2zM1005.8 1636.2H1055.4V1656.2H1005.8zM1055.4 1656.2L1055.4 1636.2L1071.9 1656.2zM1088.4 1636.2L1088.4 1656.2L1071.9 1636.2zM1088.4 1636.2L1104.9 1636.2L1088.4 1656.2zM1204.0 1656.2L1187.5 1656.2L1204.0 1636.2zM1204.0 1656.2L1204.0 1636.2L1220.5 1656.2zM130.7 1656.2H527.0V1676.1H130.7zM527.0 1676.1L527.0 1656.2L543.5 1676.1zM543.5 1656.2H725.1V1676.1H543.5zM725.1 1676.1L725.1 1656.2L741.7 1676.1zM774.7 1676.1L758.2 1676.1L774.7 1656.2zM774.7 1656.2H840.7V1676.1H774.7zM840.7 1656.2L857.2 1656.2L840.7 1676.1zM857.2 1656.2H890.3V1676.1H857.2zM923.3 1656.2L923.3 1676.1L906.8 1656.2zM923.3 1656.2H1137.9V1676.1H923.3zM1137.9 1676.1L1137.9 1656.2L1154.5 1676.1zM1204.0 1656.2L1204.0 1676.1L1187.5 1656.2zM1204.0 1656.2L1220.5 1656.2L1204.0 1676.1zM130.7 1676.1H213.3V1696.0H130.7zM213.3 1676.1L229.8 1676.1L213.3 1696.0zM229.8 1676.1H361.9V1696.0H229.8zM378.4 1676.1L378.4 1696.0L361.9 1676.1zM378.4 1676.1H411.4V1696.0H378.4zM411.4 1696.0L411.4 1676.1L427.9 1696.0zM444.4 1676.1L444.4 1696.0L427.9 1676.1zM444.4 1676.1H576.5V1696.0H444.4zM593.0 1676.1L593.0 1696.0L576.5 1676.1zM593.0 1676.1H741.7V1696.0H593.0zM774.7 1676.1L774.7 1696.0L758.2 1676.1zM774.7 1676.1H824.2V1696.0H774.7zM824.2 1676.1L840.7 1676.1L824.2 1696.0zM873.7 1676.1L873.7 1696.0L857.2 1676.1zM873.8 1676.1L890.3 1676.1L873.8 1696.0zM906.8 1696.0L890.3 1696.0L906.8 1676.1zM906.8 1696.0L906.8 1676.1L923.3 1696.0zM939.8 1676.1H1154.5V1696.0H939.8zM1187.5 1696.0L1171.0 1696.0L1187.5 1676.1zM1187.5 1696.0L1187.5 1676.1L1204.0 1696.0zM130.7 1696.0H213.3V1716.0H130.7zM213.3 1716.0L213.3 1696.0L229.8 1716.0zM229.8 1696.0H295.8V1716.0H229.8zM295.8 1696.0L312.3 1696.0L295.8 1716.0zM312.3 1696.0H361.9V1716.0H312.3zM361.9 1716.0L361.9 1696.0L378.4 1716.0zM394.9 1716.0L378.4 1716.0L394.9 1696.0zM394.9 1696.0H444.4V1716.0H394.9zM444.4 1716.0L444.4 1696.0L460.9 1716.0zM477.5 1716.0L460.9 1716.0L477.5 1696.0zM477.5 1696.0H626.1V1716.0H477.5zM642.6 1696.0H741.7V1716.0H642.6zM906.8 1696.0L906.8 1716.0L890.3 1696.0zM906.8 1696.0L923.3 1696.0L906.8 1716.0zM939.8 1716.0L923.3 1716.0L939.8 1696.0zM939.8 1696.0H989.3V1716.0H939.8zM989.3 1696.0L1005.8 1696.0L989.3 1716.0zM1022.4 1716.0L1005.8 1716.0L1022.4 1696.0zM1022.4 1696.0H1154.5V1716.0H1022.4zM1171.0 1696.0H1204.0V1716.0H1171.0zM130.7 1716.0H163.7V1735.9H130.7zM163.7 1716.0L180.2 1716.0L163.7 1735.9zM196.7 1716.0L196.7 1735.9L180.2 1716.0zM196.7 1716.0H229.8V1735.9H196.7zM246.3 1716.0L246.3 1735.9L229.8 1716.0zM246.3 1716.0H295.8V1735.9H246.3zM312.3 1735.9L295.8 1735.9L312.3 1716.0zM312.3 1716.0H328.8V1735.9H312.3zM328.8 1716.0L345.4 1716.0L328.8 1735.9zM345.4 1716.0H609.6V1735.9H345.4zM609.6 1716.0L626.1 1716.0L609.6 1735.9zM659.1 1716.0L659.1 1735.9L642.6 1716.0zM659.1 1716.0H692.1V1735.9H659.1zM692.1 1716.0L708.6 1716.0L692.1 1735.9zM725.1 1716.0L725.1 1735.9L708.6 1716.0zM725.1 1716.0H758.2V1735.9H725.1zM758.2 1735.9L758.2 1716.0L774.7 1735.9zM939.8 1716.0L939.8 1735.9L923.3 1716.0zM939.8 1716.0H956.3V1735.9H939.8zM956.3 1716.0L972.8 1716.0L956.3 1735.9zM1022.4 1716.0L1022.4 1735.9L1005.8 1716.0zM1022.4 1716.0L1038.9 1716.0L1022.4 1735.9zM1055.4 1716.0L1055.4 1735.9L1038.9 1716.0zM1055.4 1716.0H1137.9V1735.9H1055.4zM1137.9 1716.0L1154.5 1716.0L1137.9 1735.9zM1187.5 1716.0L1187.5 1735.9L1171.0 1716.0zM1187.5 1716.0L1204.0 1716.0L1187.5 1735.9zM130.7 1735.9H147.2V1755.8H130.7zM147.2 1735.9L163.7 1735.9L147.2 1755.8zM213.3 1735.9L213.3 1755.8L196.7 1735.9zM213.3 1735.9L229.8 1735.9L213.3 1755.8zM262.8 1735.9L262.8 1755.8L246.3 1735.9zM262.8 1735.9H312.3V1755.8H262.8zM312.3 1735.9L328.8 1735.9L312.3 1755.8zM361.9 1735.9L361.9 1755.8L345.4 1735.9zM361.9 1735.9L378.4 1735.9L361.9 1755.8zM394.9 1735.9L394.9 1755.8L378.4 1735.9zM394.9 1735.9L411.4 1735.9L394.9 1755.8zM427.9 1735.9L427.9 1755.8L411.4 1735.9zM427.9 1735.9H460.9V1755.8H427.9zM460.9 1735.9L477.5 1735.9L460.9 1755.8zM725.1 1735.9H758.2V1755.8H725.1zM758.2 1735.9L774.7 1735.9L758.2 1755.8zM791.2 1755.8L774.7 1755.8L791.2 1735.9zM791.2 1735.9H840.7V1755.8H791.2zM840.7 1755.8L840.7 1735.9L857.2 1755.8zM1484.7 1755.8L1468.2 1755.8L1484.7 1735.9zM1484.7 1755.8L1484.7 1735.9L1501.2 1755.8zM130.7 1755.8H147.2V1775.8H130.7zM147.2 1775.8L147.2 1755.8L163.7 1775.8zM213.3 1775.8L196.7 1775.8L213.3 1755.8zM213.3 1775.8L213.3 1755.8L229.8 1775.8zM246.3 1775.8L229.8 1775.8L246.3 1755.8zM246.3 1775.8L246.3 1755.8L262.8 1775.8zM279.3 1775.8L262.8 1775.8L279.3 1755.8zM279.3 1755.8H345.4V1775.8H279.3zM345.4 1775.8L345.4 1755.8L361.9 1775.8zM378.4 1775.8L361.9 1775.8L378.4 1755.8zM378.4 1755.8H460.9V1775.8H378.4zM741.7 1755.8L741.7 1775.8L725.1 1755.8zM741.7 1755.8L758.2 1755.8L741.7 1775.8zM791.2 1755.8L791.2 1775.8L774.7 1755.8zM791.2 1755.8H840.7V1775.8H791.2zM840.7 1755.8L857.2 1755.8L840.7 1775.8zM1484.7 1755.8L1484.7 1775.8L1468.2 1755.8zM1484.7 1755.8L1501.2 1755.8L1484.7 1775.8zM130.7 1775.8H147.2V1795.7H130.7zM147.2 1775.8L163.7 1775.8L147.2 1795.7zM213.3 1775.8L213.3 1795.7L196.7 1775.8zM213.3 1775.8L229.8 1775.8L213.3 1795.7zM246.3 1775.8L246.3 1795.7L229.8 1775.8zM246.3 1775.8L262.8 1775.8L246.3 1795.7zM279.3 1775.8L279.3 1795.7L262.8 1775.8zM279.3 1775.8H361.9V1795.7H279.3zM378.4 1775.8L378.4 1795.7L361.9 1775.8zM378.4 1775.8H444.4V1795.7H378.4zM444.4 1775.8L460.9 1775.8L444.4 1795.7zM576.5 1795.7L560.0 1795.7L576.5 1775.8zM576.5 1795.7L576.5 1775.8L593.0 1795.7zM824.2 1775.8L824.2 1795.7L807.7 1775.8zM824.2 1775.8L840.7 1775.8L824.2 1795.7zM130.7 1795.7L147.2 1795.7L130.7 1815.7zM312.3 1795.7L312.3 1815.7L295.8 1795.7zM312.3 1795.7L328.8 1795.7L312.3 1815.7zM345.4 1795.7L345.4 1815.7L328.8 1795.7zM345.4 1795.7L361.9 1795.7L345.4 1815.7zM411.4 1795.7L411.4 1815.7L394.9 1795.7zM411.4 1795.7L427.9 1795.7L411.4 1815.7zM576.5 1795.7L576.5 1815.7L560.0 1795.7zM576.5 1795.7L593.0 1795.7L576.5 1815.7zM246.3 1835.6L229.8 1835.6L246.3 1815.7zM246.3 1835.6L246.3 1815.7L262.8 1835.6zM295.8 1835.6L279.3 1835.6L295.8 1815.7zM295.8 1835.6L295.8 1815.7L312.3 1835.6zM560.0 1835.6L543.5 1835.6L560.0 1815.7zM560.0 1835.6L560.0 1815.7L576.5 1835.6zM246.3 1835.6L246.3 1855.5L229.8 1835.6zM246.3 1835.6L262.8 1835.6L246.3 1855.5zM279.3 1855.5L262.8 1855.5L279.3 1835.6zM279.3 1835.6H312.3V1855.5H279.3zM312.3 1855.5L312.3 1835.6L328.8 1855.5zM460.9 1855.5L444.4 1855.5L460.9 1835.6zM460.9 1855.5L460.9 1835.6L477.5 1855.5zM560.0 1835.6L560.0 1855.5L543.5 1835.6zM560.0 1835.6L576.5 1835.6L560.0 1855.5zM989.3 1855.5L972.8 1855.5L989.3 1835.6zM989.3 1855.5L989.3 1835.6L1005.8 1855.5zM130.7 1875.5L130.7 1855.5L147.2 1875.5zM229.8 1875.5L213.3 1875.5L229.8 1855.5zM229.8 1855.5H279.3V1875.5H229.8zM279.3 1855.5L295.8 1855.5L279.3 1875.5zM312.3 1855.5L312.3 1875.5L295.8 1855.5zM312.3 1855.5L328.8 1855.5L312.3 1875.5zM345.4 1875.5L328.8 1875.5L345.4 1855.5zM345.4 1855.5H394.9V1875.5H345.4zM394.9 1875.5L394.9 1855.5L411.4 1875.5zM460.9 1855.5L460.9 1875.5L444.4 1855.5zM460.9 1855.5L477.5 1855.5L460.9 1875.5zM576.5 1875.5L560.0 1875.5L576.5 1855.5zM576.5 1875.5L576.5 1855.5L593.0 1875.5zM824.2 1875.5L807.7 1875.5L824.2 1855.5zM824.2 1875.5L824.2 1855.5L840.7 1875.5zM989.3 1855.5L989.3 1875.5L972.8 1855.5zM989.3 1855.5L1005.8 1855.5L989.3 1875.5zM1616.8 1875.5L1600.3 1875.5L1616.8 1855.5zM130.7 1875.5L147.2 1875.5L130.7 1895.4zM229.8 1875.5L229.8 1895.4L213.3 1875.5zM229.8 1875.5H279.3V1895.4H229.8zM279.3 1895.4L279.3 1875.5L295.8 1895.4zM312.3 1895.4L295.8 1895.4L312.3 1875.5zM312.3 1875.5H394.9V1895.4H312.3zM394.9 1875.5L411.4 1875.5L394.9 1895.4zM560.0 1875.5H593.0V1895.4H560.0zM626.1 1895.4L609.6 1895.4L626.1 1875.5zM626.1 1895.4L626.1 1875.5L642.6 1895.4zM774.7 1895.4L758.2 1895.4L774.7 1875.5zM774.7 1875.5H791.2V1895.4H774.7zM791.2 1895.4L791.2 1875.5L807.7 1895.4zM824.2 1875.5L824.2 1895.4L807.7 1875.5zM824.2 1875.5L840.7 1875.5L824.2 1895.4zM1600.3 1875.5H1616.8V1895.4H1600.3z" fill="#fff" stroke="#fff" stroke-width="0.7" stroke-linejoin="round"/>
</g>
<path d="M460.9 958.4V1895.4M791.2 958.4V1895.4M1121.4 958.4V1895.4M1451.7 958.4V1895.4M130.7 1177.7H1616.8M130.7 1416.9H1616.8M130.7 1656.2H1616.8" stroke="#262626" stroke-opacity="0.42" stroke-width="1.2" fill="none"/>
<path d="M460.9 958.4v14M460.9 1895.4v-14M791.2 958.4v14M791.2 1895.4v-14M1121.4 958.4v14M1121.4 1895.4v-14M1451.7 958.4v14M1451.7 1895.4v-14M130.7 1177.7h14M1616.8 1177.7h-14M130.7 1416.9h14M1616.8 1416.9h-14M130.7 1656.2h14M1616.8 1656.2h-14" stroke="#262626" stroke-width="1.3" fill="none"/>
<rect x="130.7" y="958.4" width="1486.1" height="937.0000000000001" fill="none" stroke="#262626" stroke-width="1.4"/>
<rect x="131.6" y="959.3" width="65.5" height="52.4" fill="#d6d6d6" stroke="#000" stroke-width="1.8"/>
<text x="163.89999999999998" y="996.9" font-family="'Liberation Sans',sans-serif" font-size="41" fill="#1a1a1a" text-anchor="middle">(B)</text>
<path d="M2.5 957.8H144M2.5 1178.3H144M2.5 1417.5H144M2.5 1656.8H144M2.5 1896.0H144" stroke="#000" stroke-width="2.4" stroke-dasharray="8.6 3.2" fill="none"/>
<path d="M69.9 961.4l-5.8 19l5.8 -5l5.8 5z" fill="#808080"/><path d="M69.9 1174.7l-5.8 -19l5.8 5l5.8 -5z" fill="#808080"/><path d="M69.9 974.4V1049.0M69.9 1089.0V1161.7" stroke="#808080" stroke-width="4.6" fill="none"/><text x="67.3" y="1076.6" font-family="'Liberation Sans',sans-serif" font-weight="bold" font-size="30" fill="#262626" text-anchor="middle">2013</text>
<path d="M69.9 1180.7l-5.8 19l5.8 -5l5.8 5z" fill="#808080"/><path d="M69.9 1413.9l-5.8 -19l5.8 5l5.8 -5z" fill="#808080"/><path d="M69.9 1193.7V1278.3M69.9 1318.3V1400.9" stroke="#808080" stroke-width="4.6" fill="none"/><text x="67.3" y="1305.9" font-family="'Liberation Sans',sans-serif" font-weight="bold" font-size="30" fill="#262626" text-anchor="middle">2012</text>
<path d="M69.9 1419.9l-5.8 19l5.8 -5l5.8 5z" fill="#808080"/><path d="M69.9 1653.2l-5.8 -19l5.8 5l5.8 -5z" fill="#808080"/><path d="M69.9 1432.9V1517.5M69.9 1557.5V1640.2" stroke="#808080" stroke-width="4.6" fill="none"/><text x="67.3" y="1545.1" font-family="'Liberation Sans',sans-serif" font-weight="bold" font-size="30" fill="#262626" text-anchor="middle">2011</text>
<path d="M69.9 1659.2l-5.8 19l5.8 -5l5.8 5z" fill="#808080"/><path d="M69.9 1892.4l-5.8 -19l5.8 5l5.8 -5z" fill="#808080"/><path d="M69.9 1672.2V1756.8M69.9 1796.8V1879.4" stroke="#808080" stroke-width="4.6" fill="none"/><text x="67.3" y="1784.4" font-family="'Liberation Sans',sans-serif" font-weight="bold" font-size="30" fill="#262626" text-anchor="middle">2010</text>
<text x="90.4" y="1945.2" font-family="'Liberation Sans',sans-serif" font-weight="bold" font-size="31" fill="#262626">90<tspan font-size="25" dy="-14.5">o</tspan><tspan dy="14.5">W</tspan></text>
<text x="420.6" y="1945.2" font-family="'Liberation Sans',sans-serif" font-weight="bold" font-size="31" fill="#262626">89<tspan font-size="25" dy="-14.5">o</tspan><tspan dy="14.5">W</tspan></text>
<text x="750.9" y="1945.2" font-family="'Liberation Sans',sans-serif" font-weight="bold" font-size="31" fill="#262626">88<tspan font-size="25" dy="-14.5">o</tspan><tspan dy="14.5">W</tspan></text>
<text x="1081.1" y="1945.2" font-family="'Liberation Sans',sans-serif" font-weight="bold" font-size="31" fill="#262626">87<tspan font-size="25" dy="-14.5">o</tspan><tspan dy="14.5">W</tspan></text>
<text x="1411.4" y="1945.2" font-family="'Liberation Sans',sans-serif" font-weight="bold" font-size="31" fill="#262626">86<tspan font-size="25" dy="-14.5">o</tspan><tspan dy="14.5">W</tspan></text>
<rect x="1626.4" y="957.4" width="31.59999999999991" height="937.1999999999999" fill="url(#cb)" stroke="#262626" stroke-width="1.2"/>
<text x="1668.6" y="968.0" font-family="'Liberation Sans',sans-serif" font-weight="bold" font-size="25" fill="#262626" textLength="24.6" lengthAdjust="spacingAndGlyphs">-2</text>
<text x="1668.6" y="1061.7" font-family="'Liberation Sans',sans-serif" font-weight="bold" font-size="25" fill="#262626" textLength="45.5" lengthAdjust="spacingAndGlyphs">-2.5</text>
<text x="1668.6" y="1155.4" font-family="'Liberation Sans',sans-serif" font-weight="bold" font-size="25" fill="#262626" textLength="24.6" lengthAdjust="spacingAndGlyphs">-3</text>
<text x="1668.6" y="1249.2" font-family="'Liberation Sans',sans-serif" font-weight="bold" font-size="25" fill="#262626" textLength="45.5" lengthAdjust="spacingAndGlyphs">-3.5</text>
<text x="1668.6" y="1342.9" font-family="'Liberation Sans',sans-serif" font-weight="bold" font-size="25" fill="#262626" textLength="24.6" lengthAdjust="spacingAndGlyphs">-4</text>
<text x="1668.6" y="1436.6" font-family="'Liberation Sans',sans-serif" font-weight="bold" font-size="25" fill="#262626" textLength="45.5" lengthAdjust="spacingAndGlyphs">-4.5</text>
<text x="1668.6" y="1530.3" font-family="'Liberation Sans',sans-serif" font-weight="bold" font-size="25" fill="#262626" textLength="24.6" lengthAdjust="spacingAndGlyphs">-5</text>
<text x="1668.6" y="1624.0" font-family="'Liberation Sans',sans-serif" font-weight="bold" font-size="25" fill="#262626" textLength="45.5" lengthAdjust="spacingAndGlyphs">-5.5</text>
<text x="1668.6" y="1717.8" font-family="'Liberation Sans',sans-serif" font-weight="bold" font-size="25" fill="#262626" textLength="24.6" lengthAdjust="spacingAndGlyphs">-6</text>
<text x="1668.6" y="1811.5" font-family="'Liberation Sans',sans-serif" font-weight="bold" font-size="25" fill="#262626" textLength="45.5" lengthAdjust="spacingAndGlyphs">-6.5</text>
<text x="1668.6" y="1905.2" font-family="'Liberation Sans',sans-serif" font-weight="bold" font-size="25" fill="#262626" textLength="24.6" lengthAdjust="spacingAndGlyphs">-7</text>
<path d="M1658.0 1051.1h-7.6M1658.0 1144.8h-7.6M1658.0 1238.6h-7.6M1658.0 1332.3h-7.6M1658.0 1426.0h-7.6M1658.0 1519.7h-7.6M1658.0 1613.4h-7.6M1658.0 1707.2h-7.6M1658.0 1800.9h-7.6" stroke="#262626" stroke-width="1.3" fill="none"/>
<g transform="translate(1777.2 1771.5) rotate(-90)" font-family="'DejaVu Sans','Liberation Sans',sans-serif" font-weight="bold" fill="#000"><text x="0" y="0" font-size="49" textLength="701" lengthAdjust="spacingAndGlyphs">Log(N<tspan font-size="39.5">particles</tspan>/N<tspan font-size="39.5">total particles</tspan>)</text></g>
</g>
</svg>
</body></html>
